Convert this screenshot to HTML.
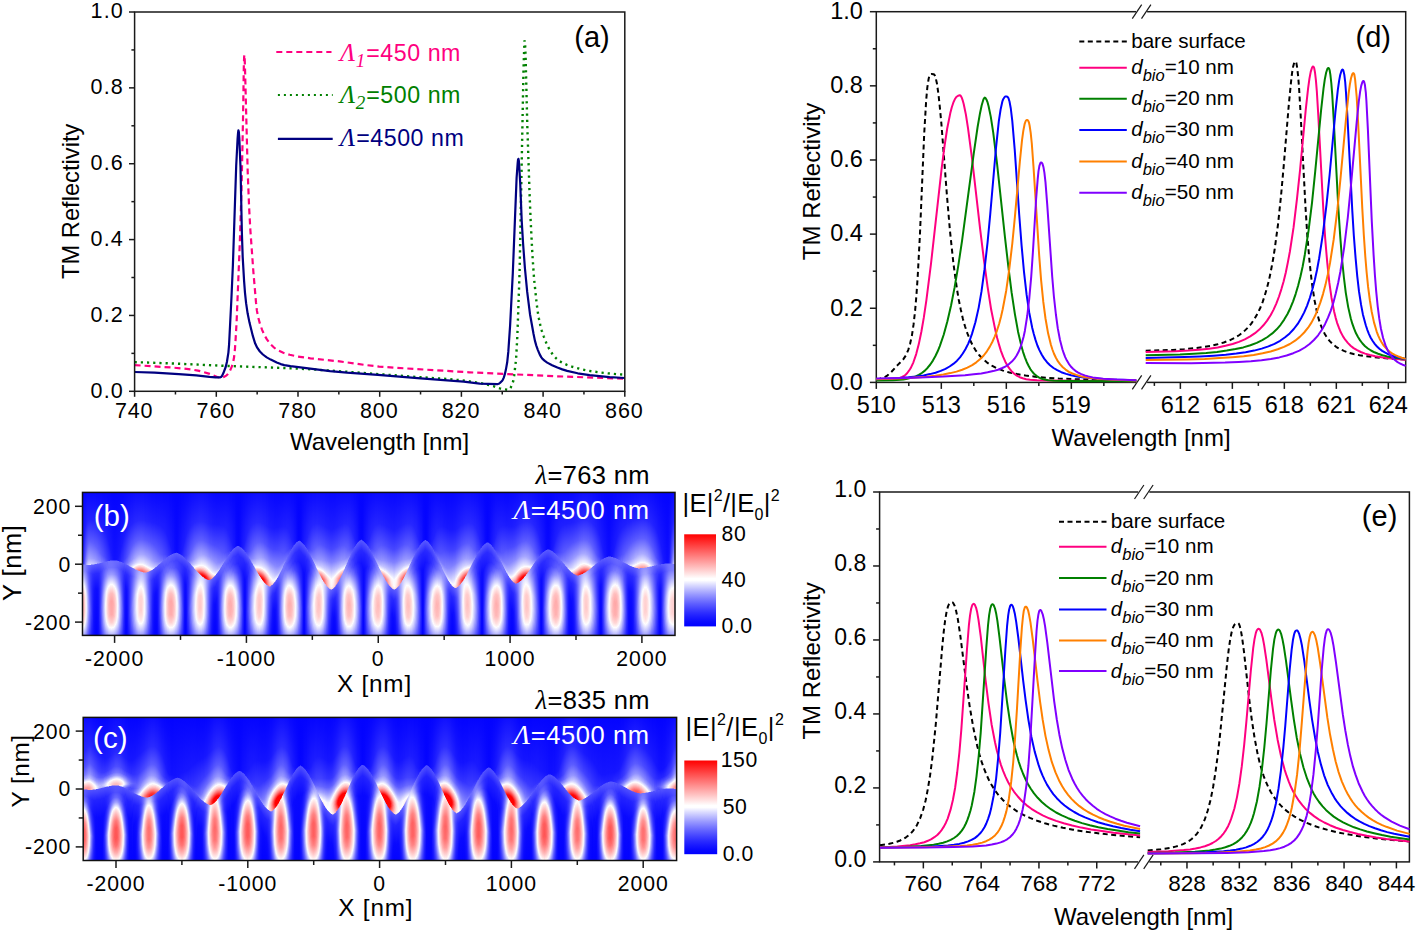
<!DOCTYPE html>
<html><head><meta charset="utf-8"><style>
html,body{margin:0;padding:0;background:#fff;width:1416px;height:934px;overflow:hidden}
svg{position:absolute;left:0;top:0}
.hm{position:absolute;display:flex;overflow:hidden}
.hm i{display:block;flex:none;width:1px;height:100%}
</style></head><body>
<div class="hm" style="left:82px;top:492px;width:593px;height:144px"><i style="background:linear-gradient(#0404ff 0px,#1616ff 62.5px,#1f1fff 71.5px,#8585ff 73.5px,#9494ff 79.5px,#ddddff 88.5px,#f9f9ff 91.5px,#fffbfb 92.5px,#ffbfbf 100.5px,#ffa6a6 108.5px,#ffabab 122.5px,#ffd0d0 130.5px,#fffbfb 135.5px,#eeeeff 137.5px,#aaaaff 144px)"></i><i style="background:linear-gradient(#0505ff 0px,#1818ff 49.5px,#3737ff 71.5px,#8383ff 73.5px,#9090ff 79.5px,#d5d5ff 88.5px,#f9f9ff 92.5px,#fff4f4 94.5px,#ffc2c2 102.5px,#ffb0b0 111.5px,#ffbaba 123.5px,#ffe2e2 131.5px,#fffafa 134.5px,#f0f0ff 136.5px,#a4a4ff 144px)"></i><i style="background:linear-gradient(#0606ff 0px,#1b1bff 40.5px,#4747ff 67.5px,#5757ff 71.5px,#8080ff 73.5px,#8989ff 79.5px,#c7c7ff 88.5px,#f8f8ff 94.5px,#fff1f1 97.5px,#ffcece 105.5px,#ffc7c7 118.5px,#ffdddd 127.5px,#faf9fe 133.5px,#9999ff 144px)"></i><i style="background:linear-gradient(#0606ff 0px,#1d1dff 34.5px,#5757ff 63.5px,#7f7fff 72.5px,#7c7cff 78.5px,#a4a4ff 86.5px,#f6f6ff 98.5px,#ffeded 105.5px,#ffe6e6 119.5px,#f9f7fd 129.5px,#d3d3ff 135.5px,#8a8aff 144px)"></i><i style="background:linear-gradient(#0707ff 0px,#2020ff 31.5px,#5c5cff 57.5px,#8d8dff 69.5px,#a8a8ff 72.5px,#7575ff 73.5px,#7272ff 79.5px,#9999ff 88.5px,#dedeff 101.5px,#f2f2ff 113.5px,#e7e7ff 125.5px,#bcbcff 134.5px,#7777ff 144px)"></i><i style="background:linear-gradient(#0808ff 0px,#2222ff 29.5px,#5c5cff 52.5px,#9898ff 67.5px,#c5c5ff 72.5px,#6e6eff 73.5px,#6565ff 80.5px,#8b8bff 91.5px,#bbbbff 104.5px,#c6c6ff 118.5px,#b1b1ff 129.5px,#6f6fff 141.5px,#6262ff 144px)"></i><i style="background:linear-gradient(#0808ff 0px,#2323ff 28.5px,#5e5eff 50.5px,#a1a1ff 66.5px,#cbcbff 71.5px,#d8d8ff 72.5px,#6868ff 73.5px,#5757ff 80.5px,#6d6dff 91.5px,#9696ff 107.5px,#9a9aff 121.5px,#7d7dff 133.5px,#4d4dff 144px)"></i><i style="background:linear-gradient(#0808ff 0px,#2222ff 27.5px,#5a5aff 48.5px,#a5a5ff 66.5px,#d0d0ff 71.5px,#dedeff 72.5px,#6363ff 73.5px,#4b4bff 81.5px,#5a5aff 94.5px,#7878ff 114.5px,#6868ff 130.5px,#3b3bff 144px)"></i><i style="background:linear-gradient(#0808ff 0px,#2222ff 27.5px,#5959ff 48.5px,#a4a4ff 66.5px,#cfcfff 71.5px,#ddddff 72.5px,#5f5fff 73.5px,#4141ff 81.5px,#4444ff 94.5px,#5959ff 118.5px,#4545ff 134.5px,#2d2dff 144px)"></i><i style="background:linear-gradient(#0808ff 0px,#2121ff 27.5px,#5b5bff 49.5px,#a1a1ff 66.5px,#ccccff 71.5px,#9b9bff 72.5px,#5b5bff 73.5px,#3939ff 81.5px,#3232ff 94.5px,#3e3eff 121.5px,#2222ff 142.5px,#2020ff 144px)"></i><i style="background:linear-gradient(#0808ff 0px,#2222ff 28.5px,#5d5dff 50.5px,#9e9eff 66.5px,#c9c9ff 71.5px,#9898ff 72.5px,#5858ff 73.5px,#3030ff 82.5px,#2424ff 97.5px,#2727ff 126.5px,#1515ff 144px)"></i><i style="background:linear-gradient(#0808ff 0px,#2222ff 28.5px,#5e5eff 51.5px,#9a9aff 66.5px,#c5c5ff 71.5px,#9595ff 72.5px,#5656ff 73.5px,#2c2cff 82.5px,#1919ff 97.5px,#1010ff 139.5px,#0d0dff 144px)"></i><i style="background:linear-gradient(#0808ff 0px,#2121ff 28.5px,#5b5bff 51.5px,#9696ff 66.5px,#c0c0ff 71.5px,#7777ff 72.5px,#5454ff 73.5px,#2929ff 82.5px,#1111ff 98.5px,#0808ff 144px)"></i><i style="background:linear-gradient(#0808ff 0px,#2222ff 29.5px,#5e5eff 53.5px,#9797ff 67.5px,#bbbbff 71.5px,#5a5aff 72.5px,#2b2bff 81.5px,#0f0fff 96.5px,#0404ff 144px)"></i><i style="background:linear-gradient(#0707ff 0px,#2020ff 29.5px,#5e5eff 54.5px,#9191ff 67.5px,#b5b5ff 71.5px,#5858ff 72.5px,#2a2aff 81.5px,#0d0dff 97.5px,#0303ff 144px)"></i><i style="background:linear-gradient(#0707ff 0px,#2121ff 30.5px,#6060ff 56.5px,#8b8bff 67.5px,#a3a3ff 70.5px,#8484ff 71.5px,#5656ff 72.5px,#2a2aff 81.5px,#0e0eff 97.5px,#0505ff 144px)"></i><i style="background:linear-gradient(#0707ff 0px,#1f1fff 30.5px,#5e5eff 57.5px,#8484ff 67.5px,#9c9cff 70.5px,#8080ff 71.5px,#5555ff 72.5px,#2b2bff 81.5px,#1515ff 96.5px,#0b0bff 144px)"></i><i style="background:linear-gradient(#0707ff 0px,#1f1fff 31.5px,#6161ff 60.5px,#8484ff 68.5px,#9595ff 70.5px,#6c6cff 71.5px,#5555ff 72.5px,#2e2eff 81.5px,#2222ff 96.5px,#2626ff 126.5px,#1515ff 144px)"></i><i style="background:linear-gradient(#0707ff 0px,#1f1fff 32.5px,#5e5eff 61.5px,#8484ff 69.5px,#8d8dff 70.5px,#5c5cff 71.5px,#3939ff 79.5px,#3131ff 91.5px,#4444ff 119.5px,#2d2dff 138.5px,#2323ff 144px)"></i><i style="background:linear-gradient(#0707ff 0px,#1e1eff 33.5px,#5a5aff 62.5px,#7c7cff 70.5px,#5d5dff 71.5px,#4040ff 79.5px,#4545ff 91.5px,#6767ff 115.5px,#5757ff 131.5px,#3333ff 144px)"></i><i style="background:linear-gradient(#0606ff 0px,#1e1eff 34.5px,#5656ff 63.5px,#7474ff 69.5px,#6e6eff 70.5px,#5f5fff 71.5px,#4949ff 78.5px,#5555ff 88.5px,#8686ff 108.5px,#8989ff 122.5px,#6d6dff 134.5px,#4545ff 144px)"></i><i style="background:linear-gradient(#0606ff 0px,#1e1eff 36.5px,#5252ff 64.5px,#6b6bff 69.5px,#5353ff 76.5px,#6060ff 85.5px,#a5a5ff 104.5px,#b1b1ff 118.5px,#9b9bff 130.5px,#5858ff 144px)"></i><i style="background:linear-gradient(#0606ff 0px,#1c1cff 37.5px,#4b4bff 64.5px,#6868ff 70.5px,#5a5aff 77.5px,#7777ff 86.5px,#c3c3ff 102.5px,#d7d7ff 115.5px,#c7c7ff 127.5px,#9494ff 137.5px,#6a6aff 144px)"></i><i style="background:linear-gradient(#0606ff 0px,#1c1cff 39.5px,#4646ff 65.5px,#5353ff 68.5px,#6a6aff 70.5px,#6161ff 76.5px,#7e7eff 84.5px,#ddddff 100.5px,#f7f7ff 111.5px,#efefff 124.5px,#c8c8ff 133.5px,#7a7aff 144px)"></i><i style="background:linear-gradient(#0606ff 0px,#1c1cff 42.5px,#3f3fff 65.5px,#4a4aff 68.5px,#6c6cff 70.5px,#6767ff 76.5px,#8c8cff 84.5px,#f5f5ff 99.5px,#fff2f2 105.5px,#ffe9e9 118.5px,#f8f8ff 129.5px,#b7b7ff 138.5px,#8989ff 144px)"></i><i style="background:linear-gradient(#0505ff 0px,#1b1bff 45.5px,#3a3aff 66.5px,#4141ff 68.5px,#6666ff 69.5px,#6a6aff 71.5px,#7070ff 77.5px,#a1a1ff 85.5px,#faf9fe 96.5px,#ffd4d4 107.5px,#ffd4d4 121.5px,#ffefef 129.5px,#fafafe 132.5px,#9f9fff 142.5px,#9595ff 144px)"></i><i style="background:linear-gradient(#0505ff 0px,#1a1aff 48.5px,#3535ff 67.5px,#3838ff 68.5px,#7171ff 69.5px,#6e6eff 75.5px,#9393ff 82.5px,#fcfbfe 94.5px,#ffcbcb 103.5px,#ffbcbc 113.5px,#ffc8c8 124.5px,#fff3f3 132.5px,#fafaff 134.5px,#9e9eff 144px)"></i><i style="background:linear-gradient(#0505ff 0px,#1919ff 52.5px,#3030ff 68.5px,#7171ff 69.5px,#7070ff 75.5px,#9898ff 82.5px,#fefcfd 93.5px,#ffc1c1 102.5px,#ffaeae 111.5px,#ffb7b7 123.5px,#ffe0e0 131.5px,#fcfbff 135.5px,#a5a5ff 144px)"></i><i style="background:linear-gradient(#0505ff 0px,#1818ff 56.5px,#2525ff 67.5px,#7171ff 69.5px,#7171ff 75.5px,#9c9cff 82.5px,#fdfcff 92.5px,#ffbdbd 101.5px,#ffa7a7 109.5px,#ffadad 122.5px,#ffd1d1 130.5px,#fffcfc 135.5px,#e2e2ff 138.5px,#a9a9ff 144px)"></i><i style="background:linear-gradient(#0404ff 0px,#1717ff 60.5px,#1f1fff 67.5px,#7070ff 69.5px,#7171ff 75.5px,#9d9dff 82.5px,#fefdfe 92.5px,#ffbbbb 101.5px,#ffa4a4 109.5px,#ffaaaa 122.5px,#ffcfcf 130.5px,#fffafa 135.5px,#fafaff 136.5px,#ababff 144px)"></i><i style="background:linear-gradient(#0404ff 0px,#1515ff 63.5px,#1919ff 67.5px,#6f6fff 69.5px,#7070ff 75.5px,#9b9bff 82.5px,#fdfcff 92.5px,#ffbdbd 101.5px,#ffa7a7 109.5px,#ffacac 122.5px,#ffd1d1 130.5px,#fffcfc 135.5px,#e3e3ff 138.5px,#a9a9ff 144px)"></i><i style="background:linear-gradient(#0404ff 0px,#1313ff 66.5px,#1414ff 67.5px,#6d6dff 69.5px,#6e6eff 75.5px,#9797ff 82.5px,#fefcfd 93.5px,#ffc1c1 102.5px,#ffadad 111.5px,#ffb6b6 123.5px,#ffdfdf 131.5px,#fcfcfe 135.5px,#a6a6ff 144px)"></i><i style="background:linear-gradient(#0404ff 0px,#1212ff 67.5px,#6b6bff 69.5px,#6b6bff 75.5px,#9191ff 82.5px,#fcfbfe 94.5px,#ffc9c9 103.5px,#ffbaba 113.5px,#ffc5c5 124.5px,#fff1f1 132.5px,#fcfbfe 134.5px,#a0a0ff 144px)"></i><i style="background:linear-gradient(#0404ff 0px,#1212ff 67.5px,#6a6aff 69.5px,#6767ff 75.5px,#8989ff 82.5px,#fcfafe 96.5px,#ffd2d2 106.5px,#ffcdcd 119.5px,#ffe6e6 128.5px,#fdfbfd 132.5px,#c0c0ff 139.5px,#9797ff 144px)"></i><i style="background:linear-gradient(#0404ff 0px,#1313ff 67.5px,#6969ff 69.5px,#6363ff 75.5px,#8080ff 82.5px,#f5f5ff 98.5px,#fff5f5 102.5px,#ffe1e1 112.5px,#ffebeb 124.5px,#f9f9ff 130.5px,#b3b3ff 139.5px,#8d8dff 144px)"></i><i style="background:linear-gradient(#0404ff 0px,#1414ff 65.5px,#1616ff 67.5px,#2c2cff 68.5px,#6969ff 69.5px,#5e5eff 75.5px,#7b7bff 83.5px,#e7e7ff 100.5px,#f9f8fe 106.5px,#f9f8fe 124.5px,#d8d8ff 132.5px,#8080ff 144px)"></i><i style="background:linear-gradient(#0404ff 0px,#1616ff 64.5px,#1b1bff 68.5px,#6868ff 69.5px,#5959ff 76.5px,#7272ff 84.5px,#ceceff 101.5px,#e6e6ff 113.5px,#dcdcff 125.5px,#b3b3ff 134.5px,#7272ff 144px)"></i><i style="background:linear-gradient(#0404ff 0px,#1717ff 61.5px,#2020ff 68.5px,#6262ff 70.5px,#5353ff 77.5px,#6c6cff 86.5px,#b5b5ff 103.5px,#c6c6ff 117.5px,#b4b4ff 128.5px,#7c7cff 139.5px,#6262ff 144px)"></i><i style="background:linear-gradient(#0505ff 0px,#1818ff 58.5px,#2525ff 68.5px,#3838ff 69.5px,#6161ff 70.5px,#4c4cff 77.5px,#5a5aff 86.5px,#9898ff 105.5px,#a2a2ff 119.5px,#8b8bff 131.5px,#5151ff 144px)"></i><i style="background:linear-gradient(#0505ff 0px,#1a1aff 54.5px,#2f2fff 69.5px,#6161ff 70.5px,#4646ff 77.5px,#4a4aff 87.5px,#7c7cff 110.5px,#7b7bff 124.5px,#5858ff 137.5px,#4040ff 144px)"></i><i style="background:linear-gradient(#0505ff 0px,#1a1aff 50.5px,#3333ff 68.5px,#3737ff 69.5px,#5b5bff 71.5px,#3c3cff 79.5px,#3e3eff 91.5px,#5d5dff 116.5px,#4a4aff 133.5px,#2e2eff 144px)"></i><i style="background:linear-gradient(#0505ff 0px,#1b1bff 46.5px,#3838ff 67.5px,#4444ff 70.5px,#5b5bff 71.5px,#3636ff 79.5px,#2b2bff 91.5px,#3a3aff 121.5px,#1e1eff 144px)"></i><i style="background:linear-gradient(#0606ff 0px,#1c1cff 43.5px,#4141ff 67.5px,#5757ff 71.5px,#2828ff 83.5px,#1c1cff 100.5px,#1a1aff 132.5px,#1010ff 144px)"></i><i style="background:linear-gradient(#0606ff 0px,#1c1cff 40.5px,#4646ff 66.5px,#6060ff 71.5px,#2e2eff 80.5px,#1212ff 94.5px,#0707ff 144px)"></i><i style="background:linear-gradient(#0707ff 0px,#1d1dff 38.5px,#4d4dff 65.5px,#6b6bff 71.5px,#6666ff 72.5px,#5555ff 73.5px,#2929ff 82.5px,#0e0eff 98.5px,#0505ff 144px)"></i><i style="background:linear-gradient(#0707ff 0px,#1f1fff 37.5px,#5353ff 64.5px,#6f6fff 70.5px,#8181ff 72.5px,#5a5aff 73.5px,#2d2dff 82.5px,#1616ff 97.5px,#0b0bff 144px)"></i><i style="background:linear-gradient(#0808ff 0px,#2020ff 35.5px,#5757ff 62.5px,#7b7bff 70.5px,#8f8fff 72.5px,#7a7aff 73.5px,#5858ff 74.5px,#3030ff 83.5px,#2323ff 98.5px,#2323ff 128.5px,#1414ff 144px)"></i><i style="background:linear-gradient(#0808ff 0px,#2121ff 34.5px,#5a5aff 60.5px,#8080ff 69.5px,#a9a9ff 73.5px,#7474ff 74.5px,#5858ff 75.5px,#3636ff 84.5px,#3434ff 100.5px,#3b3bff 122.5px,#1f1fff 144px)"></i><i style="background:linear-gradient(#0909ff 0px,#2323ff 33.5px,#5959ff 57.5px,#8585ff 68.5px,#ababff 72.5px,#b8b8ff 73.5px,#aeaeff 74.5px,#5f5fff 75.5px,#4242ff 83.5px,#4545ff 97.5px,#5454ff 119.5px,#3d3dff 136.5px,#2a2aff 144px)"></i><i style="background:linear-gradient(#0a0aff 0px,#2424ff 32.5px,#5a5aff 55.5px,#9191ff 68.5px,#b9b9ff 72.5px,#d7d7ff 74.5px,#8686ff 75.5px,#6262ff 76.5px,#4d4dff 84.5px,#6e6eff 117.5px,#5b5bff 132.5px,#3737ff 144px)"></i><i style="background:linear-gradient(#0a0aff 0px,#2424ff 31.5px,#5a5aff 53.5px,#9595ff 67.5px,#b9b9ff 71.5px,#e7e7ff 74.5px,#d5d4fe 75.5px,#6b6bff 76.5px,#5a5aff 84.5px,#8989ff 113.5px,#7c7cff 128.5px,#4444ff 144px)"></i><i style="background:linear-gradient(#0b0bff 0px,#2525ff 30.5px,#5959ff 51.5px,#9a9aff 66.5px,#c5c5ff 71.5px,#f6f6ff 74.5px,#fff5f5 75.5px,#968ff8 76.5px,#7171ff 77.5px,#6969ff 84.5px,#a0a0ff 108.5px,#a1a1ff 122.5px,#8484ff 133.5px,#5151ff 144px)"></i><i style="background:linear-gradient(#0b0bff 0px,#2727ff 30.5px,#5e5eff 51.5px,#a3a3ff 66.5px,#d0d0ff 71.5px,#f0f0ff 73.5px,#fef9f9 74.5px,#ffe6e6 75.5px,#debdde 76.5px,#7b7bff 77.5px,#7878ff 84.5px,#babaff 106.5px,#bfbfff 120.5px,#a4a4ff 131.5px,#5f5fff 144px)"></i><i style="background:linear-gradient(#0c0cff 0px,#2727ff 29.5px,#5b5bff 49.5px,#a5a5ff 65.5px,#cdcdff 70.5px,#faf9fe 73.5px,#ffeeee 74.5px,#ffc4c4 76.5px,#c29dda 77.5px,#8484ff 78.5px,#8b8bff 85.5px,#d0d0ff 103.5px,#dbdbff 117.5px,#c7c7ff 128.5px,#8989ff 139.5px,#6c6cff 144px)"></i><i style="background:linear-gradient(#0c0cff 0px,#2828ff 29.5px,#5e5eff 49.5px,#a6a6ff 64.5px,#d5d5ff 70.5px,#f2f2ff 72.5px,#fff9f9 73.5px,#ffb7b7 76.5px,#e39eba 77.5px,#8f8fff 78.5px,#9a9aff 85.5px,#e7e7ff 102.5px,#f5f5ff 115.5px,#e5e5ff 126.5px,#b7b7ff 135.5px,#7878ff 144px)"></i><i style="background:linear-gradient(#0c0cff 0px,#2727ff 28.5px,#5d5dff 48.5px,#a5a5ff 63.5px,#dcdcff 70.5px,#f9f9ff 72.5px,#fff2f2 73.5px,#ff9797 77.5px,#b294e1 78.5px,#9999ff 79.5px,#aeaeff 86.5px,#fafaff 101.5px,#fff3f3 116.5px,#f6f6ff 127.5px,#bfbfff 136.5px,#8383ff 144px)"></i><i style="background:linear-gradient(#0c0cff 0px,#2828ff 28.5px,#5b5bff 47.5px,#a3a3ff 62.5px,#e1e1ff 70.5px,#fcfbfd 72.5px,#ffd6d6 74.5px,#ff8f8f 77.5px,#e7869e 78.5px,#a3a3ff 79.5px,#babaff 86.5px,#fbfbff 97.5px,#ffe2e2 108.5px,#ffeaea 123.5px,#fcfcfe 129.5px,#c3c3ff 137.5px,#8b8bff 144px)"></i><i style="background:linear-gradient(#0c0cff 0px,#2828ff 28.5px,#5c5cff 47.5px,#a6a6ff 62.5px,#e5e5ff 70.5px,#fefbfc 72.5px,#ffbbbb 75.5px,#ff7676 78.5px,#aaaaff 79.5px,#c4c4ff 86.5px,#fdfcff 95.5px,#ffd9d9 105.5px,#ffd9d9 120.5px,#fff6f6 129.5px,#fcfcff 131.5px,#9b9bff 142.5px,#9191ff 144px)"></i><i style="background:linear-gradient(#0c0cff 0px,#2828ff 28.5px,#5d5dff 47.5px,#a8a8ff 62.5px,#e7e7ff 70.5px,#fefbfc 72.5px,#ffbbbb 75.5px,#ff7373 78.5px,#d78cb4 79.5px,#b0b0ff 80.5px,#d5d5ff 88.5px,#fdfdff 94.5px,#ffd5d5 104.5px,#ffd1d1 118.5px,#ffe7e7 127.5px,#fffdfd 131.5px,#c6c6ff 138.5px,#9494ff 144px)"></i><i style="background:linear-gradient(#0c0cff 0px,#2828ff 28.5px,#5d5dff 47.5px,#a8a8ff 62.5px,#e6e6ff 70.5px,#fefbfc 72.5px,#ffd6d6 74.5px,#ff7474 78.5px,#ec798c 79.5px,#b2b2ff 80.5px,#d5d5ff 88.5px,#fdfdff 94.5px,#ffd6d6 104.5px,#ffd2d2 118.5px,#ffe8e8 127.5px,#fefdfe 131.5px,#b1b1ff 140.5px,#9393ff 144px)"></i><i style="background:linear-gradient(#0c0cff 0px,#2727ff 28.5px,#5c5cff 47.5px,#a7a7ff 62.5px,#e5e5ff 70.5px,#fcfbfe 72.5px,#ffdbdb 74.5px,#ff7979 78.5px,#ff6969 79.5px,#b1b1ff 80.5px,#d0d0ff 88.5px,#fefcfd 96.5px,#ffdbdb 106.5px,#ffe1e1 122.5px,#fdfcfe 130.5px,#bfbfff 138.5px,#8f8fff 144px)"></i><i style="background:linear-gradient(#0c0cff 0px,#2727ff 28.5px,#5a5aff 47.5px,#a5a5ff 62.5px,#ececff 71.5px,#f9f9ff 72.5px,#fff5f5 73.5px,#ff7070 79.5px,#adadff 81.5px,#ccccff 89.5px,#fbfafe 98.5px,#ffe9e9 110.5px,#fff5f5 124.5px,#fafaff 128.5px,#bebeff 137.5px,#8787ff 144px)"></i><i style="background:linear-gradient(#0b0bff 0px,#2626ff 28.5px,#5858ff 47.5px,#a2a2ff 62.5px,#e7e7ff 71.5px,#fefbfc 73.5px,#ffbebe 76.5px,#ff7a7a 79.5px,#a5a5ff 81.5px,#bcbcff 89.5px,#f6f6ff 103.5px,#f8f8ff 122.5px,#d7d7ff 131.5px,#7c7cff 144px)"></i><i style="background:linear-gradient(#0b0bff 0px,#2424ff 28.5px,#5656ff 47.5px,#9e9eff 62.5px,#e0e0ff 71.5px,#f9f9ff 73.5px,#fff5f5 74.5px,#ff8888 79.5px,#cd8cbe 80.5px,#9a9aff 81.5px,#aaaaff 89.5px,#dcdcff 104.5px,#e1e1ff 119.5px,#cacaff 129.5px,#8686ff 140.5px,#6f6fff 144px)"></i><i style="background:linear-gradient(#0b0bff 0px,#2525ff 29.5px,#5858ff 48.5px,#a0a0ff 63.5px,#e4e4ff 72.5px,#fdfbfc 74.5px,#ffbfbf 77.5px,#ff9393 79.5px,#c78bc3 80.5px,#8d8dff 81.5px,#9494ff 89.5px,#c0c0ff 106.5px,#c1c1ff 121.5px,#a2a2ff 132.5px,#6060ff 144px)"></i><i style="background:linear-gradient(#0a0aff 0px,#2424ff 29.5px,#5656ff 48.5px,#a2a2ff 64.5px,#ddddff 72.5px,#f7f7ff 74.5px,#fff6f6 75.5px,#ff9f9f 79.5px,#8282ff 80.5px,#7d7dff 88.5px,#a4a4ff 110.5px,#9c9cff 125.5px,#7171ff 137.5px,#5151ff 144px)"></i><i style="background:linear-gradient(#0a0aff 0px,#2323ff 29.5px,#5757ff 49.5px,#a3a3ff 65.5px,#e0e0ff 73.5px,#fcfafe 75.5px,#ffd9d9 77.5px,#ffc2c2 78.5px,#dd9ec1 79.5px,#7575ff 80.5px,#6868ff 88.5px,#8686ff 115.5px,#7373ff 130.5px,#4242ff 144px)"></i><i style="background:linear-gradient(#0909ff 0px,#2222ff 29.5px,#5555ff 49.5px,#9e9eff 65.5px,#d8d8ff 73.5px,#f3f3ff 75.5px,#fef9f9 76.5px,#ffcece 78.5px,#9180ee 79.5px,#6969ff 80.5px,#5656ff 88.5px,#6767ff 119.5px,#5050ff 134.5px,#3333ff 144px)"></i><i style="background:linear-gradient(#0909ff 0px,#2121ff 29.5px,#5252ff 49.5px,#9e9eff 66.5px,#d0d0ff 73.5px,#faf9fe 76.5px,#fff0f0 77.5px,#d9bde3 78.5px,#6464ff 79.5px,#4848ff 87.5px,#4949ff 106.5px,#4848ff 125.5px,#2626ff 144px)"></i><i style="background:linear-gradient(#0808ff 0px,#2121ff 30.5px,#5656ff 51.5px,#a3a3ff 68.5px,#d3d3ff 74.5px,#f1f1ff 76.5px,#fff8f9 77.5px,#8881f9 78.5px,#5b5bff 79.5px,#3939ff 88.5px,#3434ff 107.5px,#2d2dff 131.5px,#1b1bff 144px)"></i><i style="background:linear-gradient(#0808ff 0px,#2020ff 30.5px,#5454ff 51.5px,#9c9cff 68.5px,#ccccff 74.5px,#eaeaff 76.5px,#d3d2fe 77.5px,#5959ff 78.5px,#3232ff 87.5px,#2222ff 103.5px,#1818ff 136.5px,#1212ff 144px)"></i><i style="background:linear-gradient(#0808ff 0px,#1f1fff 30.5px,#5454ff 52.5px,#9696ff 68.5px,#c6c6ff 74.5px,#e5e5ff 76.5px,#5959ff 77.5px,#2e2eff 86.5px,#1717ff 101.5px,#0b0bff 144px)"></i><i style="background:linear-gradient(#0808ff 0px,#1f1fff 30.5px,#5555ff 53.5px,#9696ff 69.5px,#c2c2ff 74.5px,#d0d0ff 75.5px,#7a7aff 76.5px,#5353ff 77.5px,#2626ff 87.5px,#0e0eff 104.5px,#0606ff 144px)"></i><i style="background:linear-gradient(#0707ff 0px,#1f1fff 31.5px,#5858ff 55.5px,#9191ff 69.5px,#bfbfff 74.5px,#7777ff 75.5px,#5555ff 76.5px,#2929ff 85.5px,#0d0dff 101.5px,#0404ff 144px)"></i><i style="background:linear-gradient(#0707ff 0px,#1e1eff 31.5px,#5858ff 56.5px,#8c8cff 69.5px,#b0b0ff 73.5px,#a4a4ff 74.5px,#5656ff 75.5px,#2929ff 84.5px,#0e0eff 100.5px,#0404ff 144px)"></i><i style="background:linear-gradient(#0707ff 0px,#1f1fff 32.5px,#5a5aff 58.5px,#8888ff 69.5px,#a2a2ff 72.5px,#9999ff 73.5px,#5858ff 74.5px,#2c2cff 83.5px,#1414ff 98.5px,#0909ff 144px)"></i><i style="background:linear-gradient(#0707ff 0px,#1e1eff 32.5px,#5959ff 59.5px,#8484ff 69.5px,#9696ff 71.5px,#8f8fff 72.5px,#5a5aff 73.5px,#3030ff 82.5px,#2020ff 96.5px,#2020ff 129.5px,#1313ff 144px)"></i><i style="background:linear-gradient(#0707ff 0px,#1f1fff 33.5px,#5b5bff 61.5px,#8181ff 69.5px,#9494ff 71.5px,#5c5cff 72.5px,#3838ff 80.5px,#2f2fff 93.5px,#3d3dff 121.5px,#2121ff 142.5px,#1f1fff 144px)"></i><i style="background:linear-gradient(#0707ff 0px,#1e1eff 33.5px,#5757ff 61.5px,#7777ff 68.5px,#8888ff 70.5px,#6b6bff 71.5px,#5959ff 72.5px,#3d3dff 80.5px,#4343ff 93.5px,#5e5eff 117.5px,#4c4cff 133.5px,#2f2fff 144px)"></i><i style="background:linear-gradient(#0707ff 0px,#1e1eff 34.5px,#5656ff 62.5px,#7474ff 68.5px,#7d7dff 69.5px,#5c5cff 71.5px,#4545ff 79.5px,#5656ff 91.5px,#7e7eff 110.5px,#7b7bff 125.5px,#5656ff 138.5px,#4040ff 144px)"></i><i style="background:linear-gradient(#0707ff 0px,#1e1eff 35.5px,#5252ff 62.5px,#7272ff 68.5px,#5a5aff 71.5px,#4c4cff 78.5px,#6363ff 88.5px,#9b9bff 105.5px,#a6a6ff 119.5px,#8e8eff 131.5px,#5252ff 144px)"></i><i style="background:linear-gradient(#0606ff 0px,#1e1eff 36.5px,#4d4dff 62.5px,#6767ff 68.5px,#5252ff 74.5px,#5d5dff 82.5px,#b7b7ff 102.5px,#cbcbff 115.5px,#bcbcff 127.5px,#8686ff 138.5px,#6464ff 144px)"></i><i style="background:linear-gradient(#0606ff 0px,#1f1fff 38.5px,#4949ff 62.5px,#6464ff 67.5px,#5555ff 75.5px,#6e6eff 83.5px,#d1d1ff 100.5px,#ebebff 111.5px,#e4e4ff 124.5px,#bfbfff 133.5px,#7575ff 144px)"></i><i style="background:linear-gradient(#0606ff 0px,#1e1eff 39.5px,#4444ff 62.5px,#5c5cff 66.5px,#6363ff 67.5px,#5656ff 73.5px,#6a6aff 80.5px,#eeeeff 100.5px,#fcf8fb 105.5px,#fff5f5 120.5px,#f4f4ff 128.5px,#b9b9ff 137.5px,#8484ff 144px)"></i><i style="background:linear-gradient(#0606ff 0px,#1d1dff 41.5px,#3f3fff 62.5px,#4848ff 64.5px,#6464ff 66.5px,#5656ff 72.5px,#6c6cff 79.5px,#f6f6ff 97.5px,#fff6f6 100.5px,#ffdcdc 109.5px,#ffdfdf 122.5px,#faf9ff 131.5px,#a4a4ff 141.5px,#9090ff 144px)"></i><i style="background:linear-gradient(#0606ff 0px,#1d1dff 44.5px,#3a3aff 62.5px,#4242ff 64.5px,#5d5dff 65.5px,#5858ff 73.5px,#7878ff 80.5px,#fbfafe 95.5px,#ffe7e7 99.5px,#ffc9c9 107.5px,#ffc8c8 121.5px,#ffe5e5 129.5px,#fcfbfe 133.5px,#9b9bff 144px)"></i><i style="background:linear-gradient(#0606ff 0px,#1d1dff 47.5px,#3434ff 62.5px,#3838ff 63.5px,#5b5bff 64.5px,#5c5cff 66.5px,#5656ff 72.5px,#7575ff 79.5px,#fefcfd 94.5px,#ffc9c9 102.5px,#ffb5b5 111.5px,#ffbebe 123.5px,#ffe5e5 131.5px,#fefcfd 134.5px,#b8b8ff 141.5px,#a2a2ff 144px)"></i><i style="background:linear-gradient(#0505ff 0px,#1c1cff 50.5px,#2f2fff 62.5px,#3f3fff 63.5px,#6161ff 64.5px,#5353ff 70.5px,#6464ff 76.5px,#a4a4ff 84.5px,#fefdfe 93.5px,#ffc3c3 101.5px,#ffacac 109.5px,#ffb1b1 122.5px,#ffd5d5 130.5px,#fefdfe 135.5px,#a7a7ff 144px)"></i><i style="background:linear-gradient(#0505ff 0px,#1a1aff 53.5px,#2929ff 62.5px,#6262ff 63.5px,#5151ff 69.5px,#5f5fff 75.5px,#9292ff 82.5px,#f9f9ff 92.5px,#fffbfb 93.5px,#ffbfbf 101.5px,#ffa8a8 109.5px,#ffadad 122.5px,#ffd1d1 130.5px,#fffcfc 135.5px,#e3e3ff 138.5px,#a9a9ff 144px)"></i><i style="background:linear-gradient(#0505ff 0px,#1919ff 56.5px,#2020ff 61.5px,#5e5eff 63.5px,#4e4eff 69.5px,#6262ff 76.5px,#a4a4ff 84.5px,#f8f8ff 92.5px,#fffcfc 93.5px,#ffc0c0 101.5px,#ffa8a8 109.5px,#ffadad 122.5px,#ffd2d2 130.5px,#fffcfc 135.5px,#d7d7ff 139.5px,#a9a9ff 144px)"></i><i style="background:linear-gradient(#0404ff 0px,#1616ff 58.5px,#1a1aff 61.5px,#6060ff 62.5px,#4c4cff 68.5px,#5a5aff 75.5px,#9797ff 83.5px,#fcfcff 93.5px,#ffc1c1 102.5px,#ffadad 111.5px,#ffb5b5 123.5px,#ffdede 131.5px,#fdfcfe 135.5px,#a6a6ff 144px)"></i><i style="background:linear-gradient(#0404ff 0px,#1414ff 60.5px,#5c5cff 62.5px,#4848ff 69.5px,#5c5cff 76.5px,#9a9aff 84.5px,#fcfbfe 94.5px,#ffc8c8 103.5px,#ffb7b7 113.5px,#ffc2c2 124.5px,#ffeeee 132.5px,#fefdfe 134.5px,#a1a1ff 144px)"></i><i style="background:linear-gradient(#0404ff 0px,#0f0fff 60.5px,#4b4bff 61.5px,#5959ff 62.5px,#4646ff 69.5px,#5757ff 76.5px,#9b9bff 85.5px,#f7f7ff 95.5px,#fff8f8 97.5px,#ffd1d1 105.5px,#ffc6c6 117.5px,#ffd8d8 126.5px,#fbfbfe 133.5px,#9a9aff 144px)"></i><i style="background:linear-gradient(#0404ff 0px,#0c0cff 60.5px,#5d5dff 61.5px,#4343ff 68.5px,#4d4dff 75.5px,#7f7fff 83.5px,#f3f3ff 97.5px,#fff9f9 100.5px,#ffdddd 109.5px,#ffdfdf 122.5px,#faf9ff 131.5px,#a4a4ff 141.5px,#9090ff 144px)"></i><i style="background:linear-gradient(#0404ff 0px,#0a0aff 59.5px,#2020ff 60.5px,#5b5bff 61.5px,#4141ff 68.5px,#4848ff 75.5px,#7a7aff 84.5px,#e3e3ff 98.5px,#faf9fe 103.5px,#fff2f2 118.5px,#f6f6ff 128.5px,#babaff 137.5px,#8585ff 144px)"></i><i style="background:linear-gradient(#0404ff 0px,#0b0bff 60.5px,#5d5dff 61.5px,#4040ff 68.5px,#4545ff 76.5px,#7a7aff 86.5px,#d3d3ff 100.5px,#f0f0ff 111.5px,#ececff 123.5px,#c9c9ff 132.5px,#7878ff 144px)"></i><i style="background:linear-gradient(#0404ff 0px,#0e0eff 60.5px,#5959ff 62.5px,#3d3dff 69.5px,#4141ff 77.5px,#7575ff 88.5px,#babaff 101.5px,#d4d4ff 114.5px,#c8c8ff 126.5px,#9999ff 136.5px,#6969ff 144px)"></i><i style="background:linear-gradient(#0404ff 0px,#1212ff 61.5px,#5b5bff 62.5px,#3a3aff 70.5px,#3e3eff 79.5px,#a4a4ff 104.5px,#b3b3ff 118.5px,#a1a1ff 129.5px,#5f5fff 142.5px,#5959ff 144px)"></i><i style="background:linear-gradient(#0404ff 0px,#1515ff 60.5px,#1616ff 61.5px,#5858ff 63.5px,#3737ff 71.5px,#3737ff 80.5px,#8686ff 106.5px,#9090ff 119.5px,#7c7cff 131.5px,#4848ff 144px)"></i><i style="background:linear-gradient(#0505ff 0px,#1818ff 59.5px,#1d1dff 62.5px,#4c4cff 63.5px,#5555ff 64.5px,#3333ff 72.5px,#3030ff 82.5px,#6b6bff 111.5px,#6868ff 126.5px,#3b3bff 142.5px,#3737ff 144px)"></i><i style="background:linear-gradient(#0505ff 0px,#1b1bff 57.5px,#2222ff 62.5px,#3333ff 63.5px,#5959ff 64.5px,#3333ff 72.5px,#2626ff 83.5px,#4c4cff 117.5px,#3939ff 135.5px,#2727ff 144px)"></i><i style="background:linear-gradient(#0505ff 0px,#1c1cff 53.5px,#2c2cff 63.5px,#3a3aff 64.5px,#5757ff 65.5px,#2d2dff 74.5px,#1d1dff 87.5px,#2c2cff 122.5px,#1717ff 144px)"></i><i style="background:linear-gradient(#0606ff 0px,#1d1dff 49.5px,#3636ff 64.5px,#5656ff 66.5px,#2a2aff 75.5px,#1212ff 90.5px,#0b0bff 144px)"></i><i style="background:linear-gradient(#0606ff 0px,#1e1eff 45.5px,#3a3aff 63.5px,#4c4cff 66.5px,#5555ff 67.5px,#2929ff 76.5px,#0d0dff 92.5px,#0404ff 144px)"></i><i style="background:linear-gradient(#0707ff 0px,#1e1eff 41.5px,#4141ff 63.5px,#5656ff 68.5px,#2a2aff 77.5px,#1313ff 92.5px,#0a0aff 144px)"></i><i style="background:linear-gradient(#0707ff 0px,#2020ff 39.5px,#4a4aff 63.5px,#6262ff 68.5px,#3b3bff 74.5px,#2121ff 85.5px,#2424ff 128.5px,#1414ff 144px)"></i><i style="background:linear-gradient(#0808ff 0px,#2121ff 37.5px,#4f4fff 62.5px,#6f6fff 69.5px,#5959ff 70.5px,#3535ff 78.5px,#2b2bff 90.5px,#3f3fff 120.5px,#2626ff 140.5px,#2020ff 144px)"></i><i style="background:linear-gradient(#0909ff 0px,#2222ff 35.5px,#5555ff 61.5px,#7575ff 68.5px,#7d7dff 70.5px,#5c5cff 71.5px,#3c3cff 79.5px,#3c3cff 91.5px,#5959ff 117.5px,#4545ff 134.5px,#2d2dff 144px)"></i><i style="background:linear-gradient(#0909ff 0px,#2323ff 34.5px,#5b5bff 60.5px,#7f7fff 68.5px,#9191ff 70.5px,#8e8eff 71.5px,#6161ff 72.5px,#4646ff 80.5px,#5151ff 92.5px,#7474ff 114.5px,#6565ff 130.5px,#3a3aff 144px)"></i><i style="background:linear-gradient(#0a0aff 0px,#2525ff 33.5px,#5d5dff 58.5px,#8989ff 68.5px,#b3b3ff 72.5px,#7c7cff 73.5px,#6262ff 74.5px,#5353ff 82.5px,#8d8dff 111.5px,#8787ff 126.5px,#5a5aff 139.5px,#4747ff 144px)"></i><i style="background:linear-gradient(#0b0bff 0px,#2626ff 32.5px,#5e5eff 56.5px,#9393ff 68.5px,#bcbcff 72.5px,#ccccff 73.5px,#8989ff 74.5px,#6b6bff 75.5px,#6262ff 82.5px,#a5a5ff 107.5px,#aaaaff 120.5px,#9292ff 131.5px,#5555ff 144px)"></i><i style="background:linear-gradient(#0b0bff 0px,#2626ff 31.5px,#5f5fff 54.5px,#9696ff 67.5px,#c5c5ff 72.5px,#e7e7ff 74.5px,#9797ff 75.5px,#7575ff 76.5px,#7373ff 83.5px,#bebeff 105.5px,#c6c6ff 119.5px,#adadff 130.5px,#6262ff 144px)"></i><i style="background:linear-gradient(#0c0cff 0px,#2727ff 30.5px,#5e5eff 52.5px,#a0a0ff 67.5px,#ceceff 72.5px,#f0f0ff 74.5px,#fff8f9 75.5px,#dfcaea 76.5px,#8181ff 77.5px,#8787ff 84.5px,#d4d4ff 103.5px,#e1e1ff 117.5px,#ccccff 128.5px,#9494ff 138.5px,#6f6fff 144px)"></i><i style="background:linear-gradient(#0c0cff 0px,#2828ff 30.5px,#5f5fff 51.5px,#a3a3ff 66.5px,#cbcbff 71.5px,#f8f8ff 74.5px,#fff1f1 75.5px,#ffd8d8 76.5px,#e2b3cf 77.5px,#8f8fff 78.5px,#9c9cff 85.5px,#ebebff 102.5px,#faf9ff 114.5px,#ededff 125.5px,#c1c1ff 134.5px,#7a7aff 144px)"></i><i style="background:linear-gradient(#0d0dff 0px,#2828ff 29.5px,#5c5cff 49.5px,#a4a4ff 65.5px,#d3d3ff 71.5px,#fdfafc 74.5px,#ffd1d1 76.5px,#ffb6b6 77.5px,#e69ab4 78.5px,#9e9eff 79.5px,#b1b1ff 86.5px,#fafafe 100.5px,#ffeeee 114.5px,#fafaff 127.5px,#c2c2ff 136.5px,#8585ff 144px)"></i><i style="background:linear-gradient(#0d0dff 0px,#2929ff 29.5px,#5e5eff 49.5px,#ababff 65.5px,#dadaff 71.5px,#f4f4ff 73.5px,#fff8f8 74.5px,#ffafaf 77.5px,#ff9191 78.5px,#e98297 79.5px,#adadff 80.5px,#ccccff 88.5px,#fbfaff 96.5px,#ffdfdf 107.5px,#ffe4e4 122.5px,#fbfbff 130.5px,#aaaaff 140.5px,#8d8dff 144px)"></i><i style="background:linear-gradient(#0e0eff 0px,#2a2aff 29.5px,#5d5dff 48.5px,#aaaaff 64.5px,#e1e1ff 71.5px,#fafaff 73.5px,#fff4f4 74.5px,#ffabab 77.5px,#ff6d6d 79.5px,#ed697b 80.5px,#bbbbff 81.5px,#dfdfff 89.5px,#fdfcfe 94.5px,#ffd5d5 104.5px,#ffd2d2 118.5px,#ffe8e8 127.5px,#fefdfe 131.5px,#bcbcff 139.5px,#9393ff 144px)"></i><i style="background:linear-gradient(#0e0eff 0px,#2b2bff 29.5px,#5e5eff 48.5px,#a7a7ff 63.5px,#e5e5ff 71.5px,#fcfbfe 73.5px,#ffdddd 75.5px,#ff8b8b 78.5px,#ff4949 80.5px,#f05361 81.5px,#c8c8ff 82.5px,#f4f4ff 91.5px,#fffdfd 93.5px,#ffd0d0 103.5px,#ffc9c9 115.5px,#ffd9d9 125.5px,#fefdfe 132.5px,#9797ff 144px)"></i><i style="background:linear-gradient(#0e0eff 0px,#2b2bff 29.5px,#5f5fff 48.5px,#a9a9ff 63.5px,#e8e8ff 71.5px,#fefcfd 73.5px,#ffdddd 75.5px,#ff8e8e 78.5px,#ff2929 81.5px,#f33e4b 82.5px,#d2d2ff 83.5px,#fefeff 92.5px,#ffcece 103.5px,#ffc8c8 115.5px,#ffd9d9 125.5px,#fefdfe 132.5px,#a1a1ff 142.5px,#9797ff 144px)"></i><i style="background:linear-gradient(#0e0eff 0px,#2b2bff 29.5px,#5f5fff 48.5px,#aaaaff 63.5px,#f4f4ff 72.5px,#fefcfd 73.5px,#ffcbcb 76.5px,#ff7373 79.5px,#ff0e0e 82.5px,#f53540 83.5px,#d7d7ff 84.5px,#fffdfd 93.5px,#ffd4d4 103.5px,#ffd0d0 116.5px,#ffe3e3 126.5px,#fefdfd 131.5px,#c5c5ff 138.5px,#9393ff 144px)"></i><i style="background:linear-gradient(#0e0eff 0px,#2a2aff 29.5px,#5e5eff 48.5px,#a2a2ff 62.5px,#e9e9ff 71.5px,#fdfcfe 73.5px,#ffe3e3 75.5px,#ff9d9d 78.5px,#ff1616 82.5px,#ff0000 83.5px,#f53640 84.5px,#d8d8ff 85.5px,#fefcfc 95.5px,#ffdddd 106.5px,#ffe4e4 122.5px,#fafaff 130.5px,#a9a9ff 140.5px,#8d8dff 144px)"></i><i style="background:linear-gradient(#0e0eff 0px,#2929ff 29.5px,#5c5cff 48.5px,#a0a0ff 62.5px,#f0f0ff 72.5px,#fbfbff 73.5px,#ffe8e8 75.5px,#ffa9a9 78.5px,#ff0606 83.5px,#ff0000 84.5px,#dd9ebf 85.5px,#d3d3ff 86.5px,#fcfafc 99.5px,#fff0f0 113.5px,#faf9fe 126.5px,#ceceff 134.5px,#8383ff 144px)"></i><i style="background:linear-gradient(#0d0dff 0px,#2828ff 29.5px,#5959ff 48.5px,#9d9dff 62.5px,#ececff 72.5px,#fffbfc 74.5px,#ffcdcd 77.5px,#ff7d7d 80.5px,#ff1717 83.5px,#ff0202 84.5px,#ff0000 85.5px,#d697bf 86.5px,#c9c9ff 87.5px,#f3f3ff 107.5px,#eaeaff 123.5px,#c6c6ff 132.5px,#7676ff 144px)"></i><i style="background:linear-gradient(#0d0dff 0px,#2828ff 30.5px,#5a5aff 49.5px,#9f9fff 63.5px,#f0f0ff 73.5px,#fbfbff 74.5px,#fff7f7 75.5px,#ffc5c5 78.5px,#ff7272 81.5px,#ff1212 84.5px,#ff0202 85.5px,#ef2f40 86.5px,#babaff 87.5px,#d6d6ff 111.5px,#c8c8ff 125.5px,#9c9cff 135.5px,#6767ff 144px)"></i><i style="background:linear-gradient(#0c0cff 0px,#2626ff 30.5px,#5757ff 49.5px,#9a9aff 63.5px,#e9e9ff 73.5px,#fdfcfe 75.5px,#ffe6e6 77.5px,#ffa7a7 80.5px,#ff2e2e 84.5px,#ff0c0c 86.5px,#c084c3 87.5px,#a8a8ff 88.5px,#b3b3ff 117.5px,#9d9dff 129.5px,#5757ff 144px)"></i><i style="background:linear-gradient(#0c0cff 0px,#2626ff 31.5px,#5757ff 50.5px,#9a9aff 64.5px,#eaeaff 74.5px,#fefcfe 76.5px,#ffd2d2 79.5px,#ff8888 82.5px,#ff3636 85.5px,#ff2727 86.5px,#e64059 87.5px,#9797ff 88.5px,#8f8fff 100.5px,#8e8eff 121.5px,#6e6eff 134.5px,#4646ff 144px)"></i><i style="background:linear-gradient(#0b0bff 0px,#2424ff 31.5px,#5353ff 50.5px,#9494ff 64.5px,#e9e9ff 75.5px,#fdfcfe 77.5px,#ffe4e4 79.5px,#ffa5a5 82.5px,#ff5757 85.5px,#ff3a3a 87.5px,#8787ff 88.5px,#7474ff 98.5px,#6c6cff 123.5px,#4848ff 138.5px,#3737ff 144px)"></i><i style="background:linear-gradient(#0a0aff 0px,#2222ff 31.5px,#4f4fff 50.5px,#8e8eff 64.5px,#e9e9ff 76.5px,#fcfbfe 78.5px,#ffe5e5 80.5px,#ffa5a5 83.5px,#ff6262 86.5px,#ff5353 87.5px,#7777ff 88.5px,#5b5bff 98.5px,#4848ff 129.5px,#2828ff 144px)"></i><i style="background:linear-gradient(#0a0aff 0px,#2222ff 32.5px,#5050ff 51.5px,#8f8fff 65.5px,#e9e9ff 77.5px,#fdfbfe 79.5px,#ffe3e3 81.5px,#ff7878 86.5px,#b66bb4 87.5px,#6868ff 88.5px,#4848ff 97.5px,#2828ff 136.5px,#1c1cff 144px)"></i><i style="background:linear-gradient(#0909ff 0px,#2121ff 32.5px,#5151ff 52.5px,#9696ff 67.5px,#e8e8ff 78.5px,#fdfcfe 80.5px,#ffe1e1 82.5px,#ff8a8a 86.5px,#6161ff 87.5px,#3a3aff 96.5px,#2929ff 113.5px,#1212ff 144px)"></i><i style="background:linear-gradient(#0909ff 0px,#1f1fff 32.5px,#4e4eff 52.5px,#9191ff 67.5px,#dfdfff 78.5px,#fefbfc 81.5px,#ffc6c6 84.5px,#ffafaf 85.5px,#856ce6 86.5px,#5757ff 87.5px,#2f2fff 96.5px,#1a1aff 113.5px,#0b0bff 144px)"></i><i style="background:linear-gradient(#0808ff 0px,#1e1eff 32.5px,#4c4cff 52.5px,#9191ff 68.5px,#d7d7ff 78.5px,#f8f8ff 81.5px,#fff7f7 82.5px,#ffcfcf 84.5px,#8473ee 85.5px,#5555ff 86.5px,#2a2aff 95.5px,#1111ff 111.5px,#0606ff 144px)"></i><i style="background:linear-gradient(#0808ff 0px,#1d1dff 32.5px,#4d4dff 53.5px,#9292ff 69.5px,#d1d1ff 78.5px,#fffbfb 82.5px,#ffe8e8 83.5px,#8379f5 84.5px,#5454ff 85.5px,#2525ff 95.5px,#0c0cff 112.5px,#0404ff 144px)"></i><i style="background:linear-gradient(#0707ff 0px,#1d1dff 32.5px,#4c4cff 53.5px,#9393ff 70.5px,#ccccff 78.5px,#fffafa 82.5px,#827dfa 83.5px,#5353ff 84.5px,#2525ff 94.5px,#0b0bff 112.5px,#0404ff 144px)"></i><i style="background:linear-gradient(#0707ff 0px,#1c1cff 32.5px,#4e4eff 54.5px,#9494ff 71.5px,#cacaff 78.5px,#e5e5ff 80.5px,#ceceff 81.5px,#5959ff 82.5px,#2c2cff 91.5px,#1111ff 107.5px,#0606ff 144px)"></i><i style="background:linear-gradient(#0707ff 0px,#1c1cff 32.5px,#4d4dff 54.5px,#8b8bff 70.5px,#b5b5ff 76.5px,#dadaff 79.5px,#a3a3ff 80.5px,#5858ff 81.5px,#2f2fff 90.5px,#1a1aff 106.5px,#0c0cff 144px)"></i><i style="background:linear-gradient(#0707ff 0px,#1c1cff 32.5px,#4f4fff 55.5px,#8888ff 70.5px,#b7b7ff 76.5px,#d2d2ff 78.5px,#7d7dff 79.5px,#5858ff 80.5px,#3535ff 89.5px,#2b2bff 107.5px,#2020ff 135.5px,#1616ff 144px)"></i><i style="background:linear-gradient(#0707ff 0px,#1c1cff 32.5px,#5151ff 56.5px,#8686ff 70.5px,#afafff 75.5px,#bcbcff 76.5px,#b0b0ff 77.5px,#6060ff 78.5px,#4242ff 86.5px,#4141ff 103.5px,#4444ff 123.5px,#2323ff 144px)"></i><i style="background:linear-gradient(#0707ff 0px,#1e1eff 33.5px,#5555ff 58.5px,#8585ff 70.5px,#a9a9ff 74.5px,#a2a2ff 75.5px,#7c7cff 76.5px,#6161ff 77.5px,#4c4cff 85.5px,#6666ff 118.5px,#5252ff 133.5px,#3333ff 144px)"></i><i style="background:linear-gradient(#0707ff 0px,#1e1eff 33.5px,#5656ff 59.5px,#7f7fff 69.5px,#a4a4ff 73.5px,#8d8dff 74.5px,#6666ff 75.5px,#5656ff 83.5px,#8989ff 112.5px,#8080ff 127.5px,#4e4eff 141.5px,#4444ff 144px)"></i><i style="background:linear-gradient(#0707ff 0px,#1e1eff 33.5px,#5757ff 60.5px,#7979ff 68.5px,#9393ff 71.5px,#9191ff 72.5px,#6a6aff 73.5px,#5d5dff 80.5px,#7979ff 91.5px,#a7a7ff 106.5px,#aeaeff 120.5px,#9595ff 131.5px,#5757ff 144px)"></i><i style="background:linear-gradient(#0707ff 0px,#1e1eff 33.5px,#5555ff 60.5px,#7a7aff 68.5px,#8e8eff 70.5px,#7676ff 71.5px,#6868ff 72.5px,#6161ff 79.5px,#8787ff 89.5px,#c4c4ff 103.5px,#d3d3ff 117.5px,#c0c0ff 128.5px,#8484ff 139.5px,#6868ff 144px)"></i><i style="background:linear-gradient(#0707ff 0px,#1f1fff 34.5px,#5555ff 61.5px,#7575ff 67.5px,#7e7eff 68.5px,#7979ff 69.5px,#6969ff 70.5px,#6060ff 76.5px,#7c7cff 84.5px,#dadaff 100.5px,#f3f3ff 111.5px,#ececff 124.5px,#c5c5ff 133.5px,#7979ff 144px)"></i><i style="background:linear-gradient(#0707ff 0px,#2020ff 35.5px,#4f4fff 60.5px,#7373ff 67.5px,#5f5fff 71.5px,#6767ff 78.5px,#a6a6ff 88.5px,#f1f1ff 99.5px,#fff8f8 104.5px,#ffecec 117.5px,#f9f9fe 128.5px,#c6c6ff 136.5px,#8787ff 144px)"></i><i style="background:linear-gradient(#0707ff 0px,#2020ff 36.5px,#4c4cff 60.5px,#6868ff 66.5px,#5959ff 72.5px,#6f6fff 79.5px,#fbfafe 97.5px,#ffd9d9 107.5px,#ffd8d8 121.5px,#fff3f3 129.5px,#f8f8ff 132.5px,#9393ff 144px)"></i><i style="background:linear-gradient(#0707ff 0px,#2020ff 38.5px,#4545ff 59.5px,#6262ff 65.5px,#5555ff 71.5px,#6c6cff 78.5px,#bfbfff 88.5px,#fdfcfd 95.5px,#ffcdcd 104.5px,#ffc1c1 115.5px,#ffcfcf 125.5px,#fefcfd 133.5px,#b2b2ff 141.5px,#9c9cff 144px)"></i><i style="background:linear-gradient(#0707ff 0px,#2020ff 40.5px,#4141ff 59.5px,#5151ff 62.5px,#5f5fff 63.5px,#5151ff 71.5px,#6d6dff 78.5px,#c7c7ff 88.5px,#f8f8ff 93.5px,#fefcfc 94.5px,#ffc7c7 102.5px,#ffb4b4 111.5px,#ffbdbd 123.5px,#ffe4e4 131.5px,#fefcfc 134.5px,#dadaff 138.5px,#a3a3ff 144px)"></i><i style="background:linear-gradient(#0606ff 0px,#2020ff 43.5px,#3a3aff 58.5px,#4e4eff 61.5px,#5e5eff 62.5px,#4b4bff 68.5px,#5a5aff 75.5px,#9797ff 83.5px,#fdfdff 93.5px,#ffc0c0 102.5px,#ffadad 111.5px,#ffb6b6 123.5px,#ffdede 131.5px,#fdfdff 135.5px,#a6a6ff 144px)"></i><i style="background:linear-gradient(#0606ff 0px,#1f1fff 46.5px,#3535ff 58.5px,#3939ff 59.5px,#5757ff 60.5px,#5555ff 62.5px,#4646ff 69.5px,#5d5dff 76.5px,#a0a0ff 84.5px,#fdfdfe 93.5px,#ffc4c4 101.5px,#ffadad 109.5px,#ffb1b1 122.5px,#ffd5d5 130.5px,#fefdfe 135.5px,#a7a7ff 144px)"></i><i style="background:linear-gradient(#0606ff 0px,#1e1eff 49.5px,#3030ff 58.5px,#5252ff 59.5px,#5757ff 60.5px,#4141ff 67.5px,#4f4fff 74.5px,#8989ff 82.5px,#fafaff 93.5px,#fff1f1 95.5px,#ffbfbf 103.5px,#ffaeae 113.5px,#ffbaba 124.5px,#ffe7e7 132.5px,#fcfcff 135.5px,#a5a5ff 144px)"></i><i style="background:linear-gradient(#0505ff 0px,#1c1cff 52.5px,#2424ff 56.5px,#3535ff 57.5px,#5b5bff 58.5px,#3e3eff 65.5px,#4343ff 72.5px,#6a6aff 79.5px,#fbfbff 94.5px,#ffe3e3 98.5px,#ffbebe 106.5px,#ffb9b9 119.5px,#ffcece 127.5px,#fefdfe 134.5px,#a1a1ff 144px)"></i><i style="background:linear-gradient(#0505ff 0px,#1818ff 53.5px,#1c1cff 55.5px,#2e2eff 56.5px,#5a5aff 57.5px,#3b3bff 64.5px,#3c3cff 71.5px,#5d5dff 78.5px,#f8f8ff 95.5px,#fff7f7 97.5px,#ffcfcf 105.5px,#ffc4c4 117.5px,#ffd6d6 126.5px,#fcfcfe 133.5px,#9b9bff 144px)"></i><i style="background:linear-gradient(#0505ff 0px,#1515ff 54.5px,#1616ff 55.5px,#5a5aff 56.5px,#3737ff 64.5px,#3a3aff 72.5px,#6464ff 80.5px,#f6f6ff 97.5px,#fff5f5 100.5px,#ffd9d9 109.5px,#ffdbdb 122.5px,#fcfbfe 131.5px,#babaff 139.5px,#9292ff 144px)"></i><i style="background:linear-gradient(#0404ff 0px,#0f0fff 54.5px,#4848ff 55.5px,#5454ff 56.5px,#3333ff 64.5px,#3535ff 72.5px,#5b5bff 80.5px,#e8e8ff 98.5px,#fbf9fd 102.5px,#ffebeb 115.5px,#fff9fa 126.5px,#f1f1ff 130.5px,#a4a4ff 140.5px,#8888ff 144px)"></i><i style="background:linear-gradient(#0404ff 0px,#0a0aff 53.5px,#5656ff 55.5px,#3232ff 63.5px,#2e2eff 71.5px,#5151ff 80.5px,#d6d6ff 99.5px,#f5f5ff 109.5px,#f4f4ff 123.5px,#d0d0ff 132.5px,#7c7cff 144px)"></i><i style="background:linear-gradient(#0404ff 0px,#0808ff 53.5px,#5a5aff 54.5px,#3232ff 62.5px,#2a2aff 71.5px,#4747ff 80.5px,#bfbfff 100.5px,#dbdbff 111.5px,#d7d7ff 124.5px,#b4b4ff 133.5px,#6e6eff 144px)"></i><i style="background:linear-gradient(#0404ff 0px,#0707ff 53.5px,#5959ff 54.5px,#3131ff 62.5px,#2626ff 71.5px,#4040ff 81.5px,#a5a5ff 101.5px,#bfbfff 114.5px,#b2b2ff 127.5px,#7f7fff 138.5px,#5f5fff 144px)"></i><i style="background:linear-gradient(#0404ff 0px,#0909ff 53.5px,#5555ff 55.5px,#2c2cff 64.5px,#2525ff 74.5px,#4848ff 86.5px,#8c8cff 103.5px,#9f9fff 117.5px,#8e8eff 129.5px,#4f4fff 144px)"></i><i style="background:linear-gradient(#0404ff 0px,#0d0dff 54.5px,#4646ff 55.5px,#5353ff 56.5px,#2a2aff 65.5px,#2222ff 76.5px,#4848ff 91.5px,#7575ff 108.5px,#7b7bff 121.5px,#6262ff 134.5px,#3e3eff 144px)"></i><i style="background:linear-gradient(#0505ff 0px,#1212ff 54.5px,#2626ff 55.5px,#5858ff 56.5px,#2c2cff 65.5px,#1d1dff 77.5px,#3e3eff 96.5px,#5b5bff 116.5px,#4c4cff 132.5px,#2e2eff 144px)"></i><i style="background:linear-gradient(#0505ff 0px,#1717ff 54.5px,#1818ff 55.5px,#2b2bff 56.5px,#5858ff 57.5px,#2b2bff 66.5px,#1818ff 79.5px,#3a3aff 119.5px,#2323ff 140.5px,#1e1eff 144px)"></i><i style="background:linear-gradient(#0606ff 0px,#1b1bff 53.5px,#2020ff 56.5px,#3131ff 57.5px,#5858ff 58.5px,#2a2aff 67.5px,#1313ff 81.5px,#1a1aff 128.5px,#1010ff 144px)"></i><i style="background:linear-gradient(#0606ff 0px,#1e1eff 51.5px,#2929ff 57.5px,#4e4eff 59.5px,#5252ff 60.5px,#2424ff 70.5px,#0c0cff 87.5px,#0505ff 144px)"></i><i style="background:linear-gradient(#0707ff 0px,#2121ff 48.5px,#3636ff 59.5px,#5252ff 60.5px,#4d4dff 62.5px,#2323ff 72.5px,#0d0dff 89.5px,#0909ff 144px)"></i><i style="background:linear-gradient(#0707ff 0px,#2222ff 44.5px,#3d3dff 59.5px,#5757ff 62.5px,#2b2bff 71.5px,#1717ff 85.5px,#2323ff 124.5px,#1313ff 144px)"></i><i style="background:linear-gradient(#0808ff 0px,#2222ff 40.5px,#4444ff 59.5px,#5959ff 63.5px,#2f2fff 72.5px,#2020ff 84.5px,#3c3cff 119.5px,#2727ff 139.5px,#1f1fff 144px)"></i><i style="background:linear-gradient(#0909ff 0px,#2424ff 38.5px,#4b4bff 59.5px,#6363ff 64.5px,#3e3eff 70.5px,#2b2bff 80.5px,#4646ff 100.5px,#5757ff 119.5px,#4242ff 135.5px,#2c2cff 144px)"></i><i style="background:linear-gradient(#0909ff 0px,#2525ff 36.5px,#5252ff 59.5px,#7272ff 65.5px,#6c6cff 66.5px,#5858ff 67.5px,#3939ff 75.5px,#3b3bff 85.5px,#6f6fff 110.5px,#6e6eff 125.5px,#4545ff 140.5px,#3939ff 144px)"></i><i style="background:linear-gradient(#0a0aff 0px,#2525ff 34.5px,#5a5aff 59.5px,#7f7fff 66.5px,#7e7eff 67.5px,#5a5aff 69.5px,#4242ff 77.5px,#5050ff 87.5px,#8787ff 107.5px,#8e8eff 120.5px,#7777ff 132.5px,#4747ff 144px)"></i><i style="background:linear-gradient(#0b0bff 0px,#2626ff 33.5px,#5e5eff 58.5px,#8484ff 66.5px,#9696ff 68.5px,#9292ff 69.5px,#5e5eff 71.5px,#4f4fff 78.5px,#6666ff 88.5px,#a0a0ff 105.5px,#aaaaff 119.5px,#9595ff 130.5px,#5555ff 144px)"></i><i style="background:linear-gradient(#0b0bff 0px,#2727ff 32.5px,#6262ff 57.5px,#8a8aff 66.5px,#b1b1ff 70.5px,#9494ff 71.5px,#6969ff 72.5px,#5e5eff 79.5px,#7e7eff 89.5px,#b9b9ff 104.5px,#c6c6ff 118.5px,#b1b1ff 129.5px,#6f6fff 141.5px,#6262ff 144px)"></i><i style="background:linear-gradient(#0c0cff 0px,#2727ff 31.5px,#5e5eff 54.5px,#9090ff 66.5px,#c0c0ff 71.5px,#d0d0ff 72.5px,#aaaaff 73.5px,#7272ff 74.5px,#7272ff 81.5px,#d2d2ff 103.5px,#e0e0ff 116.5px,#d0d0ff 127.5px,#9b9bff 137.5px,#6e6eff 144px)"></i><i style="background:linear-gradient(#0c0cff 0px,#2828ff 31.5px,#6060ff 53.5px,#9797ff 66.5px,#c3c3ff 71.5px,#e1e1ff 73.5px,#d6d6ff 74.5px,#a09efe 75.5px,#8080ff 76.5px,#8989ff 83.5px,#e8e8ff 102.5px,#f9f9ff 114.5px,#eaeaff 126.5px,#babaff 135.5px,#7a7aff 144px)"></i><i style="background:linear-gradient(#0c0cff 0px,#2828ff 30.5px,#5c5cff 51.5px,#9d9dff 66.5px,#c6c6ff 71.5px,#f4f4ff 74.5px,#fff5f5 75.5px,#e3cbe8 76.5px,#ab9ef2 77.5px,#9191ff 78.5px,#a4a4ff 85.5px,#f8f8ff 100.5px,#ffefef 115.5px,#fafaff 127.5px,#c2c2ff 136.5px,#8585ff 144px)"></i><i style="background:linear-gradient(#0d0dff 0px,#2929ff 30.5px,#5f5fff 51.5px,#a2a2ff 66.5px,#d6d6ff 72.5px,#f4f4ff 74.5px,#fff6f6 75.5px,#ffc6c6 77.5px,#e7a9c1 78.5px,#a3a3ff 79.5px,#bbbbff 86.5px,#fcfafd 97.5px,#ffdede 108.5px,#ffe4e4 122.5px,#fbfbff 130.5px,#b4b4ff 139.5px,#8d8dff 144px)"></i><i style="background:linear-gradient(#0d0dff 0px,#2929ff 30.5px,#5d5dff 50.5px,#a6a6ff 66.5px,#d8d8ff 72.5px,#f4f4ff 74.5px,#fff7f7 75.5px,#ffafaf 78.5px,#ff9191 79.5px,#d893b9 80.5px,#b8b8ff 81.5px,#ddddff 89.5px,#fcfcfe 94.5px,#ffd3d3 105.5px,#ffd3d3 120.5px,#fff1f1 129.5px,#fefcfd 131.5px,#d0d0ff 137.5px,#9494ff 144px)"></i><i style="background:linear-gradient(#0d0dff 0px,#2929ff 30.5px,#5d5dff 50.5px,#a8a8ff 66.5px,#d9d9ff 72.5px,#f4f4ff 74.5px,#fff9f9 75.5px,#ffb4b4 78.5px,#ff5959 81.5px,#d6a7d0 82.5px,#cdcdff 83.5px,#fcfcff 92.5px,#ffcdcd 103.5px,#ffc7c7 115.5px,#ffd7d7 125.5px,#fffdfd 132.5px,#b7b7ff 140.5px,#9898ff 144px)"></i><i style="background:linear-gradient(#0d0dff 0px,#2828ff 30.5px,#5d5dff 50.5px,#a3a3ff 65.5px,#d9d9ff 72.5px,#fefbfc 75.5px,#ffbbbb 78.5px,#ff4242 82.5px,#f5535d 83.5px,#dcdcff 84.5px,#fefdff 91.5px,#ffcccc 102.5px,#ffc3c3 113.5px,#ffd1d1 124.5px,#fffcfc 132.5px,#e9e9ff 135.5px,#9999ff 144px)"></i><i style="background:linear-gradient(#0d0dff 0px,#2828ff 30.5px,#5858ff 49.5px,#a3a3ff 65.5px,#e2e2ff 73.5px,#fcfbfe 75.5px,#ffdcdc 77.5px,#ff8d8d 80.5px,#ff1212 84.5px,#eeaebf 85.5px,#ebebff 86.5px,#fffdfd 91.5px,#ffcece 102.5px,#ffc7c7 114.5px,#ffd9d9 125.5px,#fdfdfe 132.5px,#a1a1ff 142.5px,#9696ff 144px)"></i><i style="background:linear-gradient(#0d0dff 0px,#2828ff 31.5px,#5959ff 50.5px,#a1a1ff 65.5px,#dfdfff 73.5px,#f7f7ff 75.5px,#fff7f7 76.5px,#ffb8b8 79.5px,#ff0707 85.5px,#fb3c40 86.5px,#f1f1ff 87.5px,#fffbfb 92.5px,#ffd4d4 104.5px,#ffd8d8 120.5px,#fff6f6 129.5px,#fbfbff 131.5px,#a5a5ff 141.5px,#9191ff 144px)"></i><i style="background:linear-gradient(#0c0cff 0px,#2727ff 31.5px,#5757ff 50.5px,#9d9dff 65.5px,#dadaff 73.5px,#fdfbfd 76.5px,#ffdddd 78.5px,#ff9393 81.5px,#ff1c1c 85.5px,#ff0404 86.5px,#ff0000 87.5px,#f5b5bf 88.5px,#f3f3ff 89.5px,#fffafa 95.5px,#ffe2e2 107.5px,#fff0f0 123.5px,#fbfafe 128.5px,#c7c7ff 136.5px,#8888ff 144px)"></i><i style="background:linear-gradient(#0c0cff 0px,#2525ff 31.5px,#5454ff 50.5px,#9999ff 65.5px,#dedeff 74.5px,#fefafa 77.5px,#ffc2c2 80.5px,#ff1c1c 86.5px,#ff0808 87.5px,#ff0101 88.5px,#ebebff 90.5px,#fcf9fc 101.5px,#f7f7ff 123.5px,#d1d1ff 132.5px,#7c7cff 144px)"></i><i style="background:linear-gradient(#0c0cff 0px,#2525ff 32.5px,#5353ff 51.5px,#9393ff 65.5px,#d7d7ff 74.5px,#f8f8ff 77.5px,#fff8f8 78.5px,#ffc1c1 81.5px,#ff2626 87.5px,#ff1111 89.5px,#f8454d 90.5px,#ddddff 91.5px,#e6e6ff 114.5px,#cfcfff 127.5px,#9999ff 137.5px,#6d6dff 144px)"></i><i style="background:linear-gradient(#0b0bff 0px,#2525ff 33.5px,#5353ff 52.5px,#9393ff 66.5px,#d8d8ff 75.5px,#f9f9ff 78.5px,#fff7f7 79.5px,#ffacac 83.5px,#ff4b4b 87.5px,#ff3232 89.5px,#ff2e2e 90.5px,#f35763 91.5px,#cacaff 92.5px,#bebeff 121.5px,#9d9dff 132.5px,#5d5dff 144px)"></i><i style="background:linear-gradient(#0a0aff 0px,#2222ff 33.5px,#5252ff 53.5px,#9292ff 67.5px,#e1e1ff 77.5px,#f8f8ff 79.5px,#fff8f9 80.5px,#ffb3b3 84.5px,#ff7171 87.5px,#ff5151 90.5px,#ff4d4d 91.5px,#ee6a7b 92.5px,#b5b5ff 93.5px,#9696ff 125.5px,#6666ff 138.5px,#4d4dff 144px)"></i><i style="background:linear-gradient(#0a0aff 0px,#2222ff 34.5px,#5050ff 54.5px,#9191ff 68.5px,#e0e0ff 78.5px,#fefafc 81.5px,#ffbdbd 85.5px,#ff8888 88.5px,#ff6d6d 92.5px,#b996dc 93.5px,#9d9dff 94.5px,#8787ff 108.5px,#7070ff 128.5px,#3c3cff 144px)"></i><i style="background:linear-gradient(#0909ff 0px,#1f1fff 34.5px,#4b4bff 54.5px,#8989ff 68.5px,#ddddff 79.5px,#fbfafe 82.5px,#ffe8e8 84.5px,#ffacac 88.5px,#ff8888 93.5px,#8b8bff 94.5px,#6d6dff 105.5px,#4c4cff 132.5px,#2d2dff 144px)"></i><i style="background:linear-gradient(#0808ff 0px,#1e1eff 35.5px,#4a4aff 55.5px,#8787ff 69.5px,#e1e1ff 81.5px,#fdfafc 84.5px,#ffbbbb 90.5px,#ffa6a6 93.5px,#7676ff 95.5px,#5555ff 105.5px,#2828ff 139.5px,#2020ff 144px)"></i><i style="background:linear-gradient(#0808ff 0px,#1d1dff 35.5px,#4747ff 55.5px,#8282ff 69.5px,#dfdfff 82.5px,#fbfafe 85.5px,#ffe2e2 88.5px,#ffb4b4 93.5px,#8f79e9 94.5px,#6565ff 95.5px,#4141ff 105.5px,#1515ff 144px)"></i><i style="background:linear-gradient(#0707ff 0px,#1d1dff 36.5px,#4848ff 56.5px,#8383ff 70.5px,#e6e6ff 84.5px,#f9f9ff 86.5px,#fff2f2 88.5px,#ffc8c8 92.5px,#8979ee 93.5px,#5d5dff 94.5px,#3333ff 104.5px,#1515ff 132.5px,#0d0dff 144px)"></i><i style="background:linear-gradient(#0707ff 0px,#1c1cff 36.5px,#4949ff 57.5px,#8585ff 71.5px,#e5e5ff 85.5px,#fffbfc 88.5px,#ffdada 91.5px,#d6afd8 92.5px,#5858ff 93.5px,#2d2dff 102.5px,#1313ff 119.5px,#0808ff 144px)"></i><i style="background:linear-gradient(#0707ff 0px,#1b1bff 36.5px,#4747ff 57.5px,#8787ff 72.5px,#dfdfff 85.5px,#fdfcfe 88.5px,#ffe7e7 90.5px,#ad99eb 91.5px,#5656ff 92.5px,#2a2aff 101.5px,#0e0eff 117.5px,#0505ff 144px)"></i><i style="background:linear-gradient(#0606ff 0px,#1a1aff 36.5px,#4747ff 57.5px,#8989ff 73.5px,#d2d2ff 84.5px,#fefbfd 88.5px,#ffefef 89.5px,#837cf9 90.5px,#5454ff 91.5px,#2525ff 101.5px,#0b0bff 118.5px,#0404ff 144px)"></i><i style="background:linear-gradient(#0606ff 0px,#1919ff 35.5px,#4646ff 57.5px,#8c8cff 74.5px,#c7c7ff 83.5px,#f9f8ff 87.5px,#d6d0f9 88.5px,#817cfa 89.5px,#5252ff 90.5px,#2525ff 100.5px,#0d0dff 118.5px,#0505ff 144px)"></i><i style="background:linear-gradient(#0606ff 0px,#1919ff 35.5px,#4747ff 57.5px,#8989ff 74.5px,#bfbfff 82.5px,#f4f4ff 86.5px,#adabfd 87.5px,#5757ff 88.5px,#2e2eff 97.5px,#1717ff 113.5px,#0909ff 144px)"></i><i style="background:linear-gradient(#0606ff 0px,#1919ff 35.5px,#4747ff 57.5px,#8888ff 74.5px,#b9b9ff 81.5px,#e0e0ff 84.5px,#ccccff 85.5px,#5e5eff 86.5px,#3737ff 95.5px,#2626ff 112.5px,#1111ff 144px)"></i><i style="background:linear-gradient(#0606ff 0px,#1a1aff 35.5px,#4b4bff 58.5px,#8888ff 74.5px,#b5b5ff 80.5px,#d0d0ff 82.5px,#c0c0ff 83.5px,#8686ff 84.5px,#6060ff 85.5px,#4242ff 94.5px,#2d2dff 133.5px,#1c1cff 144px)"></i><i style="background:linear-gradient(#0606ff 0px,#1a1aff 34.5px,#4c4cff 58.5px,#8383ff 73.5px,#b4b4ff 79.5px,#c1c1ff 80.5px,#b6b6ff 81.5px,#8787ff 82.5px,#6868ff 83.5px,#5252ff 92.5px,#5454ff 122.5px,#3636ff 139.5px,#2b2bff 144px)"></i><i style="background:linear-gradient(#0606ff 0px,#1b1bff 34.5px,#5050ff 59.5px,#8080ff 72.5px,#a8a8ff 77.5px,#b5b5ff 78.5px,#aeaeff 79.5px,#8888ff 80.5px,#6e6eff 81.5px,#6262ff 90.5px,#7979ff 117.5px,#6363ff 132.5px,#3b3bff 144px)"></i><i style="background:linear-gradient(#0606ff 0px,#1c1cff 34.5px,#5353ff 60.5px,#7d7dff 71.5px,#a9a9ff 76.5px,#a6a6ff 77.5px,#7373ff 79.5px,#6e6eff 87.5px,#9b9bff 110.5px,#9595ff 125.5px,#6c6cff 137.5px,#4d4dff 144px)"></i><i style="background:linear-gradient(#0606ff 0px,#1d1dff 34.5px,#5656ff 61.5px,#7a7aff 70.5px,#9f9fff 74.5px,#9d9dff 75.5px,#7474ff 77.5px,#7474ff 84.5px,#b8b8ff 105.5px,#c0c0ff 119.5px,#a8a8ff 130.5px,#5f5fff 144px)"></i><i style="background:linear-gradient(#0606ff 0px,#1e1eff 34.5px,#5656ff 61.5px,#7878ff 69.5px,#9595ff 72.5px,#7575ff 74.5px,#7474ff 81.5px,#d6d6ff 103.5px,#e4e4ff 116.5px,#d3d3ff 127.5px,#9d9dff 137.5px,#7070ff 144px)"></i><i style="background:linear-gradient(#0707ff 0px,#1e1eff 34.5px,#5555ff 61.5px,#7777ff 68.5px,#8b8bff 70.5px,#7171ff 72.5px,#6f6fff 78.5px,#9b9bff 87.5px,#e9e9ff 100.5px,#faf8fd 106.5px,#f9f8fe 124.5px,#d7d7ff 132.5px,#8080ff 144px)"></i><i style="background:linear-gradient(#0707ff 0px,#1e1eff 34.5px,#5151ff 60.5px,#6e6eff 66.5px,#7a7aff 69.5px,#6c6cff 70.5px,#6969ff 76.5px,#9191ff 84.5px,#f8f8ff 98.5px,#ffefef 103.5px,#ffe0e0 114.5px,#ffeeee 125.5px,#f9f9ff 130.5px,#b3b3ff 139.5px,#8d8dff 144px)"></i><i style="background:linear-gradient(#0707ff 0px,#2020ff 35.5px,#4c4cff 59.5px,#7171ff 66.5px,#5f5fff 71.5px,#6b6bff 77.5px,#a1a1ff 85.5px,#fdfbfd 96.5px,#ffd4d4 105.5px,#ffcccc 118.5px,#ffe1e1 127.5px,#fdfbfd 132.5px,#c0c0ff 139.5px,#9797ff 144px)"></i><i style="background:linear-gradient(#0707ff 0px,#2020ff 36.5px,#4747ff 58.5px,#6767ff 64.5px,#5757ff 71.5px,#6f6fff 78.5px,#c4c4ff 88.5px,#fbfbff 94.5px,#ffcbcb 103.5px,#ffbcbc 113.5px,#ffc7c7 124.5px,#fff2f2 132.5px,#fbfbff 134.5px,#9f9fff 144px)"></i><i style="background:linear-gradient(#0707ff 0px,#2121ff 38.5px,#4242ff 57.5px,#6060ff 63.5px,#4f4fff 70.5px,#6767ff 77.5px,#b4b4ff 86.5px,#fafaff 93.5px,#fff2f2 95.5px,#ffc1c1 103.5px,#ffb2b2 113.5px,#ffbebe 124.5px,#ffeaea 132.5px,#fffbfb 134.5px,#efefff 136.5px,#a3a3ff 144px)"></i><i style="background:linear-gradient(#0707ff 0px,#2121ff 40.5px,#3c3cff 56.5px,#5b5bff 61.5px,#4747ff 69.5px,#5d5dff 76.5px,#9f9fff 84.5px,#fcfcff 93.5px,#ffc2c2 102.5px,#ffafaf 111.5px,#ffb7b7 123.5px,#ffdfdf 131.5px,#fcfcff 135.5px,#a5a5ff 144px)"></i><i style="background:linear-gradient(#0707ff 0px,#2222ff 44.5px,#3a3aff 56.5px,#4a4aff 58.5px,#5757ff 59.5px,#4040ff 68.5px,#5454ff 75.5px,#9393ff 83.5px,#f9f9ff 93.5px,#fffbfb 94.5px,#ffc4c4 102.5px,#ffb1b1 111.5px,#ffb9b9 123.5px,#ffe1e1 131.5px,#fffafa 134.5px,#fbfbff 135.5px,#a4a4ff 144px)"></i><i style="background:linear-gradient(#0606ff 0px,#2121ff 47.5px,#3737ff 56.5px,#5353ff 57.5px,#5050ff 59.5px,#3a3aff 66.5px,#4545ff 73.5px,#7b7bff 81.5px,#fbfbff 94.5px,#ffc8c8 103.5px,#ffb7b7 113.5px,#ffc2c2 124.5px,#ffeeee 132.5px,#fefdfe 134.5px,#a1a1ff 144px)"></i><i style="background:linear-gradient(#0606ff 0px,#1e1eff 48.5px,#2b2bff 54.5px,#5858ff 56.5px,#3636ff 64.5px,#3939ff 71.5px,#5c5cff 78.5px,#f9f9ff 95.5px,#fff5f5 97.5px,#ffcdcd 105.5px,#ffc3c3 117.5px,#ffd4d4 126.5px,#fdfcfe 133.5px,#9c9cff 144px)"></i><i style="background:linear-gradient(#0606ff 0px,#1b1bff 49.5px,#2121ff 52.5px,#4c4cff 54.5px,#5353ff 55.5px,#3232ff 63.5px,#3434ff 71.5px,#5c5cff 79.5px,#f9f9ff 97.5px,#ffeded 101.5px,#ffd5d5 110.5px,#ffdada 123.5px,#fefbfd 131.5px,#d9d9ff 136.5px,#9494ff 144px)"></i><i style="background:linear-gradient(#0505ff 0px,#1717ff 50.5px,#1919ff 51.5px,#2b2bff 52.5px,#5757ff 53.5px,#3131ff 61.5px,#2c2cff 69.5px,#4848ff 77.5px,#9e9eff 88.5px,#f2f2ff 99.5px,#fff9f9 103.5px,#ffe6e6 114.5px,#fff3f3 125.5px,#fafaff 129.5px,#b9b9ff 138.5px,#8a8aff 144px)"></i><i style="background:linear-gradient(#0505ff 0px,#1313ff 50.5px,#5656ff 52.5px,#2f2fff 60.5px,#2727ff 69.5px,#4646ff 78.5px,#dbdbff 99.5px,#f9f9fe 108.5px,#f8f8ff 124.5px,#cfcfff 133.5px,#7f7fff 144px)"></i><i style="background:linear-gradient(#0404ff 0px,#0d0dff 49.5px,#4848ff 50.5px,#5555ff 51.5px,#2b2bff 60.5px,#2424ff 70.5px,#4242ff 79.5px,#c6c6ff 100.5px,#e3e3ff 111.5px,#e0e0ff 123.5px,#c0c0ff 132.5px,#7272ff 144px)"></i><i style="background:linear-gradient(#0404ff 0px,#0808ff 48.5px,#1d1dff 49.5px,#5656ff 50.5px,#2b2bff 59.5px,#1f1fff 69.5px,#3838ff 79.5px,#aeaeff 101.5px,#c9c9ff 114.5px,#bebeff 126.5px,#9292ff 136.5px,#6464ff 144px)"></i><i style="background:linear-gradient(#0404ff 0px,#0505ff 48.5px,#5858ff 49.5px,#2b2bff 58.5px,#1c1cff 69.5px,#3232ff 80.5px,#9393ff 102.5px,#aaaaff 116.5px,#9b9bff 128.5px,#6060ff 141.5px,#5454ff 144px)"></i><i style="background:linear-gradient(#0404ff 0px,#0505ff 47.5px,#1b1bff 48.5px,#5757ff 49.5px,#2a2aff 58.5px,#1919ff 70.5px,#2d2dff 82.5px,#7b7bff 105.5px,#8888ff 118.5px,#7575ff 131.5px,#4444ff 144px)"></i><i style="background:linear-gradient(#0404ff 0px,#0707ff 48.5px,#4646ff 49.5px,#5454ff 50.5px,#2929ff 59.5px,#1717ff 71.5px,#2929ff 85.5px,#6161ff 109.5px,#6464ff 123.5px,#4545ff 138.5px,#3434ff 144px)"></i><i style="background:linear-gradient(#0404ff 0px,#0b0bff 49.5px,#4646ff 50.5px,#5252ff 51.5px,#2828ff 60.5px,#1414ff 73.5px,#2525ff 91.5px,#4646ff 116.5px,#3535ff 135.5px,#2424ff 144px)"></i><i style="background:linear-gradient(#0505ff 0px,#1111ff 50.5px,#4747ff 51.5px,#5252ff 52.5px,#2525ff 62.5px,#1010ff 77.5px,#2727ff 122.5px,#1515ff 144px)"></i><i style="background:linear-gradient(#0505ff 0px,#1616ff 50.5px,#1717ff 51.5px,#4949ff 52.5px,#5252ff 53.5px,#2525ff 63.5px,#0c0cff 80.5px,#0808ff 144px)"></i><i style="background:linear-gradient(#0606ff 0px,#1b1bff 50.5px,#1f1fff 52.5px,#4c4cff 53.5px,#5454ff 54.5px,#2525ff 64.5px,#0c0cff 81.5px,#0606ff 144px)"></i><i style="background:linear-gradient(#0606ff 0px,#1e1eff 49.5px,#2727ff 53.5px,#3636ff 54.5px,#5757ff 55.5px,#2a2aff 64.5px,#1212ff 78.5px,#1d1dff 126.5px,#1111ff 144px)"></i><i style="background:linear-gradient(#0707ff 0px,#2222ff 48.5px,#3333ff 55.5px,#5050ff 56.5px,#4d4dff 58.5px,#2424ff 68.5px,#1818ff 82.5px,#3838ff 119.5px,#2323ff 140.5px,#1d1dff 144px)"></i><i style="background:linear-gradient(#0808ff 0px,#2323ff 45.5px,#3b3bff 56.5px,#5858ff 58.5px,#2c2cff 67.5px,#1f1fff 79.5px,#5454ff 115.5px,#4646ff 132.5px,#2b2bff 144px)"></i><i style="background:linear-gradient(#0808ff 0px,#2424ff 41.5px,#3f3fff 56.5px,#5656ff 60.5px,#3131ff 68.5px,#2727ff 78.5px,#5050ff 96.5px,#7171ff 114.5px,#6363ff 130.5px,#3838ff 144px)"></i><i style="background:linear-gradient(#0909ff 0px,#2424ff 38.5px,#4444ff 56.5px,#5d5dff 61.5px,#3737ff 69.5px,#3131ff 78.5px,#5e5eff 93.5px,#8686ff 108.5px,#8b8bff 121.5px,#7272ff 133.5px,#4646ff 144px)"></i><i style="background:linear-gradient(#0909ff 0px,#2424ff 36.5px,#4c4cff 57.5px,#6868ff 62.5px,#6565ff 63.5px,#5252ff 65.5px,#3a3aff 73.5px,#4646ff 82.5px,#9b9bff 104.5px,#a9a9ff 118.5px,#9595ff 130.5px,#5454ff 144px)"></i><i style="background:linear-gradient(#0909ff 0px,#2424ff 34.5px,#5555ff 58.5px,#7979ff 64.5px,#6f6fff 65.5px,#5b5bff 66.5px,#4545ff 73.5px,#5151ff 81.5px,#b1b1ff 102.5px,#c6c6ff 115.5px,#b7b7ff 127.5px,#8282ff 138.5px,#6262ff 144px)"></i><i style="background:linear-gradient(#0a0aff 0px,#2525ff 33.5px,#5a5aff 58.5px,#8080ff 65.5px,#8a8aff 66.5px,#7b7bff 67.5px,#6060ff 68.5px,#5252ff 75.5px,#6868ff 83.5px,#c8c8ff 101.5px,#dfdfff 113.5px,#d5d5ff 125.5px,#a8a8ff 135.5px,#6f6fff 144px)"></i><i style="background:linear-gradient(#0a0aff 0px,#2525ff 32.5px,#5c5cff 57.5px,#8080ff 65.5px,#9d9dff 68.5px,#8888ff 69.5px,#6868ff 70.5px,#6060ff 76.5px,#7e7eff 84.5px,#ddddff 100.5px,#f7f7ff 111.5px,#efefff 124.5px,#c8c8ff 133.5px,#7a7aff 144px)"></i><i style="background:linear-gradient(#0a0aff 0px,#2525ff 32.5px,#6060ff 57.5px,#8989ff 66.5px,#b2b2ff 70.5px,#9898ff 71.5px,#7474ff 72.5px,#7373ff 78.5px,#9b9bff 86.5px,#f4f4ff 100.5px,#fff7f7 106.5px,#fff3f3 120.5px,#fafaff 127.5px,#c3c3ff 136.5px,#8585ff 144px)"></i><i style="background:linear-gradient(#0a0aff 0px,#2424ff 31.5px,#5d5dff 55.5px,#8b8bff 66.5px,#b9b9ff 71.5px,#c9c9ff 72.5px,#ababff 73.5px,#8181ff 75.5px,#8e8eff 81.5px,#f9f9ff 97.5px,#fff2f2 101.5px,#ffdede 111.5px,#ffe8e8 124.5px,#fbfbfe 130.5px,#b4b4ff 139.5px,#8e8eff 144px)"></i><i style="background:linear-gradient(#0b0bff 0px,#2525ff 31.5px,#5c5cff 54.5px,#9393ff 67.5px,#c3c3ff 72.5px,#e3e3ff 74.5px,#dbdbff 75.5px,#acabfd 76.5px,#9393ff 77.5px,#adadff 84.5px,#fcfbfe 95.5px,#ffd5d5 105.5px,#ffd1d1 119.5px,#ffeaea 128.5px,#fbfbff 132.5px,#9595ff 144px)"></i><i style="background:linear-gradient(#0b0bff 0px,#2525ff 31.5px,#5a5aff 53.5px,#9595ff 67.5px,#bfbfff 72.5px,#fef9fb 76.5px,#e7d6ee 77.5px,#bbb0f5 78.5px,#a7a7ff 79.5px,#c8c8ff 86.5px,#fbfbff 93.5px,#ffefef 96.5px,#ffcaca 105.5px,#ffc7c7 119.5px,#ffe2e2 128.5px,#fffbfb 132.5px,#f3f3ff 134.5px,#9999ff 144px)"></i><i style="background:linear-gradient(#0b0bff 0px,#2424ff 31.5px,#5656ff 52.5px,#9696ff 67.5px,#c9c9ff 73.5px,#f9f8ff 76.5px,#fff1f1 77.5px,#ffdada 78.5px,#ecc0d3 79.5px,#cab6eb 80.5px,#bbbbff 81.5px,#eeeeff 90.5px,#fffbfb 93.5px,#ffcccc 102.5px,#ffc0c0 112.5px,#ffcdcd 124.5px,#fdfdff 133.5px,#9b9bff 144px)"></i><i style="background:linear-gradient(#0b0bff 0px,#2323ff 31.5px,#5656ff 52.5px,#9696ff 67.5px,#c6c6ff 73.5px,#f2f2ff 76.5px,#fff9f9 77.5px,#ffb5b5 80.5px,#f1a9b7 81.5px,#d7bbe2 82.5px,#ceceff 83.5px,#fefdfe 92.5px,#ffcccc 102.5px,#ffc2c2 113.5px,#ffd0d0 124.5px,#fcfcff 133.5px,#9a9aff 144px)"></i><i style="background:linear-gradient(#0a0aff 0px,#2424ff 32.5px,#5454ff 52.5px,#9595ff 67.5px,#c3c3ff 73.5px,#fbfafe 77.5px,#ffefef 78.5px,#ff9393 82.5px,#f5939d 83.5px,#e3beda 84.5px,#ddddff 85.5px,#fefeff 92.5px,#ffd1d1 103.5px,#ffcccc 116.5px,#ffe0e0 126.5px,#fbfbff 132.5px,#9595ff 144px)"></i><i style="background:linear-gradient(#0a0aff 0px,#2323ff 32.5px,#5252ff 52.5px,#9494ff 67.5px,#cacaff 74.5px,#f3f3ff 77.5px,#fff9f9 78.5px,#ff7474 84.5px,#f78188 85.5px,#eabfd4 86.5px,#e6e6ff 87.5px,#fffcfc 94.5px,#ffdbdb 105.5px,#ffe1e1 121.5px,#fbfafe 130.5px,#b4b4ff 139.5px,#8d8dff 144px)"></i><i style="background:linear-gradient(#0a0aff 0px,#2323ff 33.5px,#5353ff 53.5px,#9797ff 68.5px,#d0d0ff 75.5px,#f9f9ff 78.5px,#fff3f3 79.5px,#ff5e5e 86.5px,#f8767c 87.5px,#e5e5ff 88.5px,#fdfafc 98.5px,#ffeeee 111.5px,#faf9fe 126.5px,#ceceff 134.5px,#8282ff 144px)"></i><i style="background:linear-gradient(#0a0aff 0px,#2222ff 33.5px,#5050ff 53.5px,#9494ff 68.5px,#cacaff 75.5px,#fdfbfd 79.5px,#ffc8c8 82.5px,#ff6767 87.5px,#ff5b5b 88.5px,#dfdfff 90.5px,#f5f5ff 109.5px,#e6e6ff 124.5px,#bfbfff 133.5px,#7575ff 144px)"></i><i style="background:linear-gradient(#0a0aff 0px,#2222ff 34.5px,#5151ff 54.5px,#9090ff 68.5px,#cdcdff 76.5px,#fefafb 80.5px,#ff8181 87.5px,#ff6f6f 89.5px,#f58791 90.5px,#debada 91.5px,#d1d1ff 92.5px,#d2d2ff 117.5px,#b8b8ff 129.5px,#7373ff 141.5px,#6565ff 144px)"></i><i style="background:linear-gradient(#0909ff 0px,#2020ff 34.5px,#4d4dff 54.5px,#8b8bff 68.5px,#d1d1ff 77.5px,#fefafb 81.5px,#ff9b9b 87.5px,#ff8383 91.5px,#d2b4e1 92.5px,#bfbfff 93.5px,#a9a9ff 123.5px,#8080ff 135.5px,#5454ff 144px)"></i><i style="background:linear-gradient(#0909ff 0px,#2020ff 35.5px,#4d4dff 55.5px,#8d8dff 69.5px,#d3d3ff 78.5px,#fefafb 82.5px,#ffb4b4 87.5px,#ff9c9c 92.5px,#eca0b3 93.5px,#aaaaff 94.5px,#9595ff 109.5px,#7d7dff 128.5px,#4343ff 144px)"></i><i style="background:linear-gradient(#0909ff 0px,#1f1fff 35.5px,#4a4aff 55.5px,#8383ff 68.5px,#d6d6ff 79.5px,#fefbfc 83.5px,#ffc4c4 88.5px,#ffb4b4 93.5px,#e6abc4 94.5px,#9595ff 95.5px,#7878ff 107.5px,#5959ff 131.5px,#3333ff 144px)"></i><i style="background:linear-gradient(#0909ff 0px,#1f1fff 36.5px,#4b4bff 56.5px,#8585ff 69.5px,#e1e1ff 81.5px,#fefcfd 84.5px,#ffd9d9 88.5px,#ffc7c7 94.5px,#e1b3d0 95.5px,#8181ff 96.5px,#6060ff 106.5px,#3333ff 137.5px,#2525ff 144px)"></i><i style="background:linear-gradient(#0808ff 0px,#1e1eff 36.5px,#4848ff 56.5px,#8181ff 69.5px,#e3e3ff 82.5px,#fefcfd 85.5px,#ffe8e8 89.5px,#ffdcdc 94.5px,#ffd4d4 95.5px,#ddb6d8 96.5px,#6f6fff 97.5px,#4a4aff 107.5px,#1919ff 144px)"></i><i style="background:linear-gradient(#0808ff 0px,#1e1eff 37.5px,#4949ff 57.5px,#8484ff 70.5px,#fefdfe 86.5px,#ffecec 94.5px,#ffdbdb 96.5px,#8d83f4 97.5px,#6161ff 98.5px,#3838ff 108.5px,#1010ff 144px)"></i><i style="background:linear-gradient(#0808ff 0px,#1e1eff 37.5px,#4848ff 57.5px,#8383ff 70.5px,#fffefe 87.5px,#fff5f5 94.5px,#ffe5e5 96.5px,#b09ded 97.5px,#5b5bff 98.5px,#3131ff 107.5px,#1313ff 127.5px,#0a0aff 144px)"></i><i style="background:linear-gradient(#0808ff 0px,#1e1eff 37.5px,#4949ff 57.5px,#8484ff 70.5px,#fefdfe 86.5px,#ffefef 94.5px,#ffdbdb 96.5px,#5a5aff 97.5px,#2c2cff 106.5px,#1010ff 122.5px,#0606ff 144px)"></i><i style="background:linear-gradient(#0808ff 0px,#1d1dff 36.5px,#4848ff 56.5px,#8080ff 69.5px,#e2e2ff 82.5px,#fdfdfe 85.5px,#ffeeee 90.5px,#ffe3e3 94.5px,#ffd9d9 95.5px,#8277f4 96.5px,#5353ff 97.5px,#2525ff 107.5px,#0a0aff 125.5px,#0505ff 144px)"></i><i style="background:linear-gradient(#0808ff 0px,#1e1eff 36.5px,#4a4aff 56.5px,#8383ff 69.5px,#d6d6ff 80.5px,#fefcfd 84.5px,#ffe2e2 88.5px,#ffd8d8 93.5px,#ffd0d0 94.5px,#8276f2 95.5px,#5353ff 96.5px,#2525ff 106.5px,#0b0bff 124.5px,#0505ff 144px)"></i><i style="background:linear-gradient(#0808ff 0px,#1e1eff 35.5px,#4949ff 55.5px,#8686ff 69.5px,#d4d4ff 79.5px,#fefbfc 83.5px,#ffd5d5 87.5px,#ffc7c7 92.5px,#d7aad2 93.5px,#8373ef 94.5px,#5454ff 95.5px,#2828ff 105.5px,#0e0eff 126.5px,#0707ff 144px)"></i><i style="background:linear-gradient(#0909ff 0px,#1f1fff 35.5px,#4c4cff 55.5px,#8a8aff 69.5px,#c7c7ff 77.5px,#f5f5ff 81.5px,#fefafb 82.5px,#ffc8c8 86.5px,#ffb2b2 91.5px,#5d5dff 93.5px,#3535ff 102.5px,#1b1bff 122.5px,#0d0dff 144px)"></i><i style="background:linear-gradient(#0909ff 0px,#1f1fff 34.5px,#4b4bff 54.5px,#8888ff 68.5px,#c4c4ff 76.5px,#f5f5ff 80.5px,#fef9fa 81.5px,#ffb2b2 86.5px,#ffa0a0 89.5px,#db92b6 90.5px,#8e76e7 91.5px,#6363ff 92.5px,#3f3fff 102.5px,#1616ff 144px)"></i><i style="background:linear-gradient(#0909ff 0px,#2121ff 34.5px,#4f4fff 54.5px,#8b8bff 68.5px,#c1c1ff 75.5px,#f4f4ff 79.5px,#fef9fa 80.5px,#ff9b9b 86.5px,#ff8989 88.5px,#7070ff 90.5px,#5353ff 100.5px,#3737ff 133.5px,#2222ff 144px)"></i><i style="background:linear-gradient(#0909ff 0px,#2121ff 33.5px,#4e4eff 53.5px,#8f8fff 68.5px,#c8c8ff 75.5px,#fefafb 79.5px,#ff8181 86.5px,#7e7eff 88.5px,#6969ff 98.5px,#6161ff 124.5px,#3838ff 141.5px,#3131ff 144px)"></i><i style="background:linear-gradient(#0a0aff 0px,#2222ff 33.5px,#5555ff 54.5px,#9292ff 68.5px,#c4c4ff 74.5px,#fcfbfd 78.5px,#ffc7c7 81.5px,#ff8a8a 84.5px,#c685be 85.5px,#8989ff 86.5px,#8080ff 96.5px,#8787ff 119.5px,#6c6cff 133.5px,#4242ff 144px)"></i><i style="background:linear-gradient(#0a0aff 0px,#2222ff 32.5px,#5454ff 53.5px,#9595ff 68.5px,#cbcbff 74.5px,#f8f8ff 77.5px,#fff3f3 78.5px,#ff9e9e 82.5px,#ca90c6 83.5px,#9292ff 84.5px,#9595ff 94.5px,#adadff 113.5px,#9e9eff 127.5px,#6b6bff 139.5px,#5454ff 144px)"></i><i style="background:linear-gradient(#0a0aff 0px,#2323ff 32.5px,#5656ff 53.5px,#9191ff 67.5px,#c4c4ff 73.5px,#f1f1ff 76.5px,#fef9f9 77.5px,#ffb7b7 80.5px,#cb9dd2 81.5px,#9696ff 82.5px,#a3a3ff 91.5px,#cbcbff 106.5px,#ccccff 121.5px,#b0b0ff 131.5px,#6666ff 144px)"></i><i style="background:linear-gradient(#0a0aff 0px,#2323ff 31.5px,#5757ff 53.5px,#9292ff 67.5px,#bdbdff 72.5px,#fbfafd 76.5px,#ffecec 77.5px,#e4c7e2 78.5px,#afa1f1 79.5px,#9595ff 80.5px,#a8a8ff 88.5px,#e6e6ff 103.5px,#f0f0ff 117.5px,#dedeff 127.5px,#a5a5ff 137.5px,#7676ff 144px)"></i><i style="background:linear-gradient(#0a0aff 0px,#2424ff 31.5px,#5858ff 53.5px,#9393ff 67.5px,#c2c2ff 72.5px,#f6f6ff 75.5px,#e3dbf8 76.5px,#aba4f8 77.5px,#9090ff 78.5px,#a4a4ff 85.5px,#f7f7ff 100.5px,#fff0f0 114.5px,#f9f8ff 127.5px,#c2c2ff 136.5px,#8484ff 144px)"></i><i style="background:linear-gradient(#0a0aff 0px,#2424ff 31.5px,#5a5aff 54.5px,#8c8cff 66.5px,#bcbcff 71.5px,#dcdcff 73.5px,#b9b9ff 74.5px,#8787ff 75.5px,#9393ff 81.5px,#fcfbfd 97.5px,#ffdcdc 107.5px,#ffdddd 121.5px,#f9f9ff 131.5px,#a4a4ff 141.5px,#9090ff 144px)"></i><i style="background:linear-gradient(#0a0aff 0px,#2424ff 31.5px,#5c5cff 55.5px,#8585ff 65.5px,#a9a9ff 69.5px,#b6b6ff 70.5px,#a8a8ff 72.5px,#7d7dff 73.5px,#8787ff 79.5px,#c7c7ff 88.5px,#fefcfd 95.5px,#ffd0d0 104.5px,#ffc7c7 116.5px,#ffd9d9 126.5px,#fefbfc 132.5px,#e9e9ff 135.5px,#9999ff 144px)"></i><i style="background:linear-gradient(#0a0aff 0px,#2626ff 32.5px,#5f5fff 57.5px,#8585ff 65.5px,#a3a3ff 68.5px,#a0a0ff 69.5px,#7272ff 71.5px,#7979ff 77.5px,#b0b0ff 85.5px,#fefdfd 94.5px,#ffcccc 102.5px,#ffbbbb 111.5px,#ffc4c4 123.5px,#ffeaea 131.5px,#fbfbff 134.5px,#9f9fff 144px)"></i><i style="background:linear-gradient(#0a0aff 0px,#2525ff 32.5px,#5c5cff 57.5px,#7f7fff 64.5px,#9292ff 66.5px,#8484ff 67.5px,#6b6bff 68.5px,#6868ff 74.5px,#8c8cff 81.5px,#fbfbff 93.5px,#fff2f2 95.5px,#ffc3c3 103.5px,#ffb5b5 113.5px,#ffc1c1 124.5px,#ffeded 132.5px,#fefdfd 134.5px,#a2a2ff 144px)"></i><i style="background:linear-gradient(#0a0aff 0px,#2626ff 34.5px,#5757ff 57.5px,#7878ff 63.5px,#8282ff 64.5px,#7777ff 65.5px,#6363ff 66.5px,#5a5aff 72.5px,#7878ff 79.5px,#f9f9ff 93.5px,#fffcfc 94.5px,#ffc8c8 102.5px,#ffb5b5 111.5px,#ffbebe 123.5px,#ffe5e5 131.5px,#fffdfd 134.5px,#a2a2ff 144px)"></i><i style="background:linear-gradient(#0a0aff 0px,#2626ff 35.5px,#4f4fff 56.5px,#6d6dff 62.5px,#5555ff 66.5px,#5151ff 72.5px,#7272ff 79.5px,#fbfbff 94.5px,#ffcaca 103.5px,#ffbaba 113.5px,#ffc6c6 124.5px,#fff1f1 132.5px,#fcfcff 134.5px,#9f9fff 144px)"></i><i style="background:linear-gradient(#0909ff 0px,#2525ff 37.5px,#4b4bff 56.5px,#6060ff 60.5px,#4646ff 68.5px,#5353ff 75.5px,#8a8aff 83.5px,#fafaff 95.5px,#fff5f5 97.5px,#ffcece 105.5px,#ffc5c5 118.5px,#ffdbdb 127.5px,#fcfcfe 133.5px,#9b9bff 144px)"></i><i style="background:linear-gradient(#0909ff 0px,#2525ff 40.5px,#4242ff 55.5px,#5959ff 59.5px,#3e3eff 67.5px,#4747ff 74.5px,#7878ff 82.5px,#faf9ff 97.5px,#ffe8e8 102.5px,#ffd4d4 112.5px,#ffdddd 124.5px,#fdfbfd 131.5px,#cfcfff 137.5px,#9393ff 144px)"></i><i style="background:linear-gradient(#0808ff 0px,#2424ff 43.5px,#3e3eff 55.5px,#5555ff 57.5px,#3636ff 67.5px,#4444ff 75.5px,#7e7eff 84.5px,#eeeeff 98.5px,#fefafb 102.5px,#ffe6e6 113.5px,#ffefef 124.5px,#fbfaff 129.5px,#b9b9ff 138.5px,#8a8aff 144px)"></i><i style="background:linear-gradient(#0707ff 0px,#2222ff 46.5px,#3535ff 54.5px,#5252ff 55.5px,#4f4fff 57.5px,#3131ff 65.5px,#3535ff 73.5px,#6363ff 82.5px,#d8d8ff 98.5px,#faf9fe 107.5px,#f9f9ff 124.5px,#d1d1ff 133.5px,#8080ff 144px)"></i><i style="background:linear-gradient(#0707ff 0px,#1f1fff 48.5px,#2828ff 52.5px,#3737ff 53.5px,#5757ff 54.5px,#3131ff 62.5px,#2b2bff 71.5px,#4b4bff 80.5px,#c6c6ff 99.5px,#e4e4ff 109.5px,#e5e5ff 122.5px,#c8c8ff 131.5px,#7474ff 144px)"></i><i style="background:linear-gradient(#0606ff 0px,#1a1aff 48.5px,#1f1fff 51.5px,#4c4cff 52.5px,#5454ff 53.5px,#2b2bff 62.5px,#2727ff 72.5px,#4a4aff 82.5px,#afafff 100.5px,#ccccff 112.5px,#c5c5ff 125.5px,#9b9bff 135.5px,#6666ff 144px)"></i><i style="background:linear-gradient(#0505ff 0px,#1616ff 49.5px,#2929ff 50.5px,#5858ff 51.5px,#2c2cff 60.5px,#1f1fff 70.5px,#3535ff 80.5px,#9a9aff 102.5px,#b1b1ff 116.5px,#a1a1ff 128.5px,#6a6aff 140.5px,#5858ff 144px)"></i><i style="background:linear-gradient(#0505ff 0px,#0f0fff 48.5px,#2323ff 49.5px,#5858ff 50.5px,#2b2bff 59.5px,#1b1bff 70.5px,#3131ff 82.5px,#8181ff 104.5px,#9191ff 118.5px,#7d7dff 131.5px,#4949ff 144px)"></i><i style="background:linear-gradient(#0404ff 0px,#0a0aff 47.5px,#1f1fff 48.5px,#5858ff 49.5px,#2b2bff 58.5px,#1717ff 70.5px,#2828ff 83.5px,#6868ff 107.5px,#7070ff 120.5px,#5959ff 134.5px,#3939ff 144px)"></i><i style="background:linear-gradient(#0404ff 0px,#0707ff 47.5px,#4545ff 48.5px,#5353ff 49.5px,#2828ff 58.5px,#1414ff 71.5px,#2323ff 87.5px,#5151ff 114.5px,#4444ff 132.5px,#2929ff 144px)"></i><i style="background:linear-gradient(#0404ff 0px,#0606ff 46.5px,#1c1cff 47.5px,#5858ff 48.5px,#2a2aff 57.5px,#1111ff 71.5px,#1a1aff 91.5px,#3232ff 119.5px,#1c1cff 142.5px,#1a1aff 144px)"></i><i style="background:linear-gradient(#0404ff 0px,#0707ff 47.5px,#5555ff 49.5px,#2929ff 58.5px,#0e0eff 74.5px,#1515ff 111.5px,#0c0cff 144px)"></i><i style="background:linear-gradient(#0404ff 0px,#0b0bff 48.5px,#4646ff 49.5px,#5353ff 50.5px,#2525ff 60.5px,#0b0bff 77.5px,#0505ff 144px)"></i><i style="background:linear-gradient(#0505ff 0px,#1010ff 49.5px,#4646ff 50.5px,#5252ff 51.5px,#2424ff 61.5px,#0d0dff 77.5px,#1717ff 128.5px,#0e0eff 144px)"></i><i style="background:linear-gradient(#0505ff 0px,#1414ff 49.5px,#1616ff 50.5px,#4848ff 51.5px,#5252ff 52.5px,#2525ff 62.5px,#1212ff 76.5px,#3434ff 120.5px,#1b1bff 144px)"></i><i style="background:linear-gradient(#0606ff 0px,#1919ff 49.5px,#1d1dff 51.5px,#4b4bff 52.5px,#5353ff 53.5px,#2929ff 62.5px,#1717ff 75.5px,#3131ff 93.5px,#5252ff 115.5px,#4242ff 133.5px,#2929ff 144px)"></i><i style="background:linear-gradient(#0606ff 0px,#1c1cff 48.5px,#2424ff 52.5px,#5656ff 54.5px,#2b2bff 63.5px,#1d1dff 74.5px,#3636ff 88.5px,#6868ff 108.5px,#6e6eff 122.5px,#5151ff 136.5px,#3838ff 144px)"></i><i style="background:linear-gradient(#0707ff 0px,#2121ff 48.5px,#2c2cff 53.5px,#4f4fff 55.5px,#4c4cff 57.5px,#2929ff 66.5px,#2525ff 76.5px,#5050ff 90.5px,#8383ff 106.5px,#8d8dff 119.5px,#7a7aff 131.5px,#4747ff 144px)"></i><i style="background:linear-gradient(#0707ff 0px,#2323ff 46.5px,#3838ff 55.5px,#5656ff 57.5px,#3131ff 65.5px,#2b2bff 74.5px,#4c4cff 85.5px,#9696ff 102.5px,#acacff 116.5px,#9d9dff 128.5px,#6161ff 141.5px,#5555ff 144px)"></i><i style="background:linear-gradient(#0808ff 0px,#2424ff 43.5px,#3b3bff 55.5px,#4545ff 57.5px,#5656ff 58.5px,#3232ff 68.5px,#3939ff 77.5px,#7272ff 89.5px,#b2b2ff 102.5px,#c8c8ff 115.5px,#babaff 127.5px,#8484ff 138.5px,#6363ff 144px)"></i><i style="background:linear-gradient(#0808ff 0px,#2525ff 40.5px,#4343ff 56.5px,#5a5aff 60.5px,#3b3bff 68.5px,#4040ff 76.5px,#7272ff 86.5px,#c5c5ff 100.5px,#e0e0ff 111.5px,#dbdbff 124.5px,#b7b7ff 133.5px,#7070ff 144px)"></i><i style="background:linear-gradient(#0909ff 0px,#2424ff 37.5px,#4747ff 56.5px,#6161ff 61.5px,#4242ff 69.5px,#4a4aff 76.5px,#7a7aff 85.5px,#d9d9ff 99.5px,#f7f7ff 109.5px,#f5f5ff 123.5px,#d1d1ff 132.5px,#7c7cff 144px)"></i><i style="background:linear-gradient(#0909ff 0px,#2424ff 35.5px,#4f4fff 57.5px,#6e6eff 63.5px,#5656ff 66.5px,#4d4dff 73.5px,#6d6dff 81.5px,#efefff 99.5px,#fdfafb 103.5px,#ffecec 116.5px,#faf9ff 128.5px,#bdbdff 137.5px,#8787ff 144px)"></i><i style="background:linear-gradient(#0909ff 0px,#2525ff 34.5px,#5757ff 58.5px,#7b7bff 65.5px,#6060ff 67.5px,#5757ff 73.5px,#7272ff 80.5px,#f7f7ff 97.5px,#fff6f6 100.5px,#ffdcdc 109.5px,#ffdfdf 122.5px,#fafaff 131.5px,#9a9aff 142.5px,#9090ff 144px)"></i><i style="background:linear-gradient(#0a0aff 0px,#2525ff 33.5px,#5b5bff 58.5px,#8080ff 65.5px,#8a8aff 66.5px,#8a8aff 67.5px,#6868ff 69.5px,#6767ff 75.5px,#8a8aff 82.5px,#fdfcfd 96.5px,#ffd3d3 105.5px,#ffcccc 118.5px,#ffe1e1 127.5px,#fefcfe 132.5px,#acacff 141.5px,#9797ff 144px)"></i><i style="background:linear-gradient(#0a0aff 0px,#2424ff 32.5px,#5c5cff 57.5px,#7f7fff 65.5px,#9b9bff 68.5px,#9999ff 69.5px,#7272ff 71.5px,#7878ff 77.5px,#acacff 85.5px,#fbfbff 94.5px,#ffe6e6 98.5px,#ffc6c6 106.5px,#ffc3c3 120.5px,#ffdddd 128.5px,#fefdfe 133.5px,#9c9cff 144px)"></i><i style="background:linear-gradient(#0a0aff 0px,#2525ff 32.5px,#5f5fff 57.5px,#8787ff 66.5px,#aeaeff 70.5px,#ababff 71.5px,#7e7eff 73.5px,#8b8bff 79.5px,#ceceff 88.5px,#fafaff 93.5px,#fff4f4 95.5px,#ffc8c8 103.5px,#ffbbbb 113.5px,#ffc7c7 124.5px,#fff2f2 132.5px,#fbfbff 134.5px,#9f9fff 144px)"></i><i style="background:linear-gradient(#0a0aff 0px,#2323ff 31.5px,#5b5bff 55.5px,#8e8eff 67.5px,#b4b4ff 71.5px,#c3c3ff 72.5px,#b6b6ff 74.5px,#8c8cff 75.5px,#9e9eff 81.5px,#fdfdff 93.5px,#ffc7c7 103.5px,#ffbbbb 113.5px,#ffc8c8 124.5px,#fff3f3 132.5px,#fafaff 134.5px,#9e9eff 144px)"></i><i style="background:linear-gradient(#0a0aff 0px,#2323ff 31.5px,#5959ff 54.5px,#8f8fff 67.5px,#bbbbff 72.5px,#eeeeff 75.5px,#c9c8fd 76.5px,#9a9aff 77.5px,#afafff 83.5px,#fffcfc 94.5px,#ffcdcd 103.5px,#ffc2c2 114.5px,#ffd2d2 125.5px,#fdfcfe 133.5px,#9b9bff 144px)"></i><i style="background:linear-gradient(#0a0aff 0px,#2323ff 31.5px,#5656ff 53.5px,#8f8fff 67.5px,#b7b7ff 72.5px,#f5f5ff 76.5px,#fff3f3 77.5px,#d1c1ef 78.5px,#a6a6ff 79.5px,#c3c3ff 86.5px,#fefcfd 95.5px,#ffd4d4 105.5px,#ffd2d2 119.5px,#ffebeb 128.5px,#fefbfc 131.5px,#e2e2ff 135.5px,#9494ff 144px)"></i><i style="background:linear-gradient(#0a0aff 0px,#2323ff 32.5px,#5656ff 53.5px,#9595ff 68.5px,#bfbfff 73.5px,#fcfafd 77.5px,#ffd3d3 79.5px,#d6b6df 80.5px,#afafff 81.5px,#cfcfff 89.5px,#fbfafe 97.5px,#ffe3e3 109.5px,#ffecec 123.5px,#fbfafe 129.5px,#c2c2ff 137.5px,#8b8bff 144px)"></i><i style="background:linear-gradient(#0a0aff 0px,#2323ff 32.5px,#5454ff 53.5px,#9494ff 68.5px,#c7c7ff 74.5px,#f4f4ff 77.5px,#fff7f7 78.5px,#ffb3b3 81.5px,#d9a9cf 82.5px,#b4b4ff 83.5px,#d6d6ff 93.5px,#f9f8fe 103.5px,#f9f8fe 123.5px,#dadaff 131.5px,#7e7eff 144px)"></i><i style="background:linear-gradient(#0a0aff 0px,#2121ff 32.5px,#5252ff 53.5px,#9393ff 68.5px,#c2c2ff 74.5px,#fbfafe 78.5px,#ffdada 80.5px,#ff9696 83.5px,#d99cc1 84.5px,#b3b3ff 85.5px,#e3e3ff 107.5px,#dedeff 122.5px,#bbbbff 132.5px,#6f6fff 144px)"></i><i style="background:linear-gradient(#0909ff 0px,#2222ff 33.5px,#5050ff 53.5px,#9090ff 68.5px,#c8c8ff 75.5px,#fef9fa 79.5px,#ff9494 84.5px,#eb8da1 85.5px,#c19fdc 86.5px,#ababff 87.5px,#c5c5ff 114.5px,#b2b2ff 127.5px,#7e7eff 138.5px,#5f5fff 144px)"></i><i style="background:linear-gradient(#0909ff 0px,#2020ff 33.5px,#4d4dff 53.5px,#8d8dff 68.5px,#c2c2ff 75.5px,#f7f7ff 79.5px,#fff6f6 80.5px,#ff8282 86.5px,#e88198 87.5px,#b995db 88.5px,#9e9eff 89.5px,#9e9eff 120.5px,#8282ff 132.5px,#4d4dff 144px)"></i><i style="background:linear-gradient(#0909ff 0px,#2020ff 34.5px,#4e4eff 54.5px,#9090ff 69.5px,#c6c6ff 76.5px,#f9f9fe 80.5px,#fff3f3 81.5px,#ff8c8c 87.5px,#ff8080 88.5px,#9191ff 90.5px,#8181ff 102.5px,#7676ff 124.5px,#4c4cff 139.5px,#3c3cff 144px)"></i><i style="background:linear-gradient(#0909ff 0px,#1f1fff 34.5px,#4b4bff 54.5px,#8686ff 68.5px,#c9c9ff 77.5px,#fbfafe 81.5px,#ffe2e2 83.5px,#ffa4a4 87.5px,#ff9393 89.5px,#e18dab 90.5px,#a286e3 91.5px,#7e7eff 92.5px,#6666ff 103.5px,#4e4eff 130.5px,#2c2cff 144px)"></i><i style="background:linear-gradient(#0909ff 0px,#1f1fff 35.5px,#4b4bff 55.5px,#8888ff 69.5px,#ccccff 78.5px,#fbfafe 82.5px,#ffe4e4 84.5px,#ffbbbb 87.5px,#ffa2a2 91.5px,#7171ff 93.5px,#5050ff 103.5px,#2828ff 138.5px,#1e1eff 144px)"></i><i style="background:linear-gradient(#0808ff 0px,#1e1eff 35.5px,#4848ff 55.5px,#8585ff 69.5px,#cfcfff 79.5px,#fbfafe 83.5px,#ffe7e7 85.5px,#ffc9c9 88.5px,#ffb8b8 92.5px,#daa1c6 93.5px,#6666ff 94.5px,#3e3eff 104.5px,#1313ff 144px)"></i><i style="background:linear-gradient(#0808ff 0px,#1e1eff 36.5px,#4949ff 56.5px,#8181ff 69.5px,#d2d2ff 80.5px,#fbfafe 84.5px,#ffd9d9 89.5px,#ffcaca 93.5px,#d8acd3 94.5px,#5e5eff 95.5px,#3434ff 104.5px,#1818ff 124.5px,#0c0cff 144px)"></i><i style="background:linear-gradient(#0808ff 0px,#1d1dff 36.5px,#4747ff 56.5px,#7f7fff 69.5px,#dfdfff 82.5px,#fbfbff 85.5px,#ffe6e6 91.5px,#ffd8d8 94.5px,#d7b3dc 95.5px,#5959ff 96.5px,#2d2dff 105.5px,#1111ff 122.5px,#0707ff 144px)"></i><i style="background:linear-gradient(#0808ff 0px,#1e1eff 37.5px,#4848ff 57.5px,#8282ff 70.5px,#fbfbff 86.5px,#ffe9e9 94.5px,#ffe0e0 95.5px,#d6b7e0 96.5px,#5656ff 97.5px,#2a2aff 106.5px,#0d0dff 122.5px,#0505ff 144px)"></i><i style="background:linear-gradient(#0808ff 0px,#1d1dff 37.5px,#4747ff 57.5px,#8181ff 70.5px,#fafaff 87.5px,#fffafa 93.5px,#ffe2e2 96.5px,#837af6 97.5px,#5454ff 98.5px,#2525ff 108.5px,#0b0bff 126.5px,#0505ff 144px)"></i><i style="background:linear-gradient(#0808ff 0px,#1d1dff 37.5px,#4747ff 57.5px,#8181ff 70.5px,#f9f9ff 87.5px,#fffafa 94.5px,#ffe9e9 96.5px,#ae9dee 97.5px,#5757ff 98.5px,#2c2cff 107.5px,#0f0fff 124.5px,#0707ff 144px)"></i><i style="background:linear-gradient(#0808ff 0px,#1e1eff 37.5px,#4949ff 57.5px,#8484ff 70.5px,#fcfcff 86.5px,#fff0f0 94.5px,#ffdcdc 96.5px,#5f5fff 97.5px,#3333ff 106.5px,#1515ff 126.5px,#0a0aff 144px)"></i><i style="background:linear-gradient(#0808ff 0px,#1e1eff 36.5px,#4848ff 56.5px,#8181ff 69.5px,#e4e4ff 82.5px,#fefcfd 85.5px,#ffebeb 90.5px,#ffe1e1 94.5px,#ffd7d7 95.5px,#8e83f4 96.5px,#6262ff 97.5px,#3b3bff 107.5px,#1111ff 144px)"></i><i style="background:linear-gradient(#0909ff 0px,#1f1fff 36.5px,#4b4bff 56.5px,#8585ff 69.5px,#dadaff 80.5px,#f9f9ff 83.5px,#fff9fa 84.5px,#ffdcdc 88.5px,#ffd2d2 93.5px,#ffcbcb 94.5px,#988af2 95.5px,#6f6fff 96.5px,#4c4cff 106.5px,#1b1bff 144px)"></i><i style="background:linear-gradient(#0909ff 0px,#1f1fff 35.5px,#4b4bff 55.5px,#8484ff 68.5px,#d0d0ff 78.5px,#fbfafe 82.5px,#ffe9e9 84.5px,#ffcbcb 87.5px,#ffb9b9 93.5px,#a492ee 94.5px,#8080ff 95.5px,#6262ff 106.5px,#3e3eff 134.5px,#2828ff 144px)"></i><i style="background:linear-gradient(#0909ff 0px,#1f1fff 34.5px,#4b4bff 54.5px,#8989ff 68.5px,#ceceff 77.5px,#fcfbfd 81.5px,#ffbaba 86.5px,#ffa6a6 91.5px,#e6a3bb 92.5px,#b19ae8 93.5px,#9292ff 94.5px,#7c7cff 107.5px,#6464ff 129.5px,#3737ff 144px)"></i><i style="background:linear-gradient(#0909ff 0px,#2121ff 34.5px,#4f4fff 54.5px,#8e8eff 68.5px,#cdcdff 76.5px,#fdfbfd 80.5px,#ffa0a0 86.5px,#ff8b8b 90.5px,#d79fc7 91.5px,#a8a8ff 92.5px,#9a9aff 109.5px,#8787ff 127.5px,#4c4cff 142.5px,#4848ff 144px)"></i><i style="background:linear-gradient(#0a0aff 0px,#2121ff 33.5px,#4f4fff 53.5px,#8c8cff 67.5px,#cacaff 75.5px,#fdfbfd 79.5px,#ff8686 86.5px,#ff7676 88.5px,#ef8696 89.5px,#cca9dc 90.5px,#b9b9ff 91.5px,#b6b6ff 120.5px,#9a9aff 131.5px,#5959ff 144px)"></i><i style="background:linear-gradient(#0a0aff 0px,#2323ff 33.5px,#5252ff 53.5px,#9191ff 67.5px,#c7c7ff 74.5px,#fcfbfd 78.5px,#ffc8c8 81.5px,#ff6b6b 86.5px,#ff6060 87.5px,#d6aed7 88.5px,#c7c7ff 89.5px,#ddddff 111.5px,#ceceff 125.5px,#a1a1ff 135.5px,#6a6aff 144px)"></i><i style="background:linear-gradient(#0a0aff 0px,#2323ff 32.5px,#5252ff 52.5px,#9595ff 67.5px,#c3c3ff 73.5px,#f9f9fe 77.5px,#fff2f2 78.5px,#ff5f5f 85.5px,#ceceff 87.5px,#f9f8fe 106.5px,#f3f3ff 122.5px,#d2d2ff 131.5px,#7979ff 144px)"></i><i style="background:linear-gradient(#0b0bff 0px,#2424ff 32.5px,#5555ff 52.5px,#9797ff 67.5px,#c9c9ff 73.5px,#f4f4ff 76.5px,#fff8f8 77.5px,#ff7373 83.5px,#e597b0 84.5px,#ceceff 85.5px,#fdfafc 98.5px,#ffe9e9 110.5px,#fff6f6 124.5px,#f4f4ff 129.5px,#ababff 139.5px,#8686ff 144px)"></i><i style="background:linear-gradient(#0b0bff 0px,#2424ff 31.5px,#5757ff 52.5px,#9999ff 67.5px,#cfcfff 73.5px,#fcfafd 76.5px,#ffd7d7 78.5px,#ff8f8f 81.5px,#e19fbd 82.5px,#c7c7ff 83.5px,#fffcfc 95.5px,#ffd8d8 105.5px,#ffd9d9 120.5px,#fff7f7 129.5px,#fafaff 131.5px,#a4a4ff 141.5px,#9191ff 144px)"></i><i style="background:linear-gradient(#0b0bff 0px,#2525ff 31.5px,#5858ff 52.5px,#9a9aff 67.5px,#c7c7ff 72.5px,#f4f4ff 75.5px,#fff6f6 76.5px,#ffb0b0 79.5px,#daa8cc 80.5px,#babaff 81.5px,#e3e3ff 89.5px,#fdfdff 93.5px,#ffcfcf 103.5px,#ffc7c7 115.5px,#ffd7d7 125.5px,#fefcfd 132.5px,#c1c1ff 139.5px,#9898ff 144px)"></i><i style="background:linear-gradient(#0b0bff 0px,#2626ff 31.5px,#5959ff 52.5px,#9494ff 66.5px,#bebeff 71.5px,#fbfafd 75.5px,#ffebeb 76.5px,#e8cae1 77.5px,#bdaff0 78.5px,#aaaaff 79.5px,#ccccff 86.5px,#fffdfe 93.5px,#ffcccc 102.5px,#ffbfbf 112.5px,#ffcccc 124.5px,#fff7f7 132.5px,#fefdfe 133.5px,#9c9cff 144px)"></i><i style="background:linear-gradient(#0b0bff 0px,#2626ff 31.5px,#5c5cff 53.5px,#9393ff 66.5px,#c1c1ff 71.5px,#f3f3ff 74.5px,#e4dffa 75.5px,#b1aaf9 76.5px,#9999ff 77.5px,#b7b7ff 84.5px,#fdfcff 93.5px,#ffc9c9 103.5px,#ffbebe 114.5px,#ffcece 125.5px,#fffdfd 133.5px,#b2b2ff 141.5px,#9d9dff 144px)"></i><i style="background:linear-gradient(#0b0bff 0px,#2626ff 31.5px,#5e5eff 54.5px,#9292ff 66.5px,#b8b8ff 70.5px,#d7d7ff 72.5px,#b6b6ff 73.5px,#8787ff 75.5px,#9999ff 81.5px,#fdfcfe 94.5px,#ffcfcf 103.5px,#ffc2c2 114.5px,#ffd2d2 125.5px,#fdfcff 133.5px,#9b9bff 144px)"></i><i style="background:linear-gradient(#0b0bff 0px,#2626ff 31.5px,#5e5eff 55.5px,#8989ff 65.5px,#b0b0ff 69.5px,#bebeff 70.5px,#a2a2ff 71.5px,#7979ff 72.5px,#7e7eff 78.5px,#b1b1ff 86.5px,#f9f9ff 95.5px,#fff1f1 98.5px,#ffd0d0 107.5px,#ffd1d1 121.5px,#ffeded 129.5px,#fdfcfe 132.5px,#a0a0ff 142.5px,#9696ff 144px)"></i><i style="background:linear-gradient(#0b0bff 0px,#2727ff 32.5px,#6161ff 57.5px,#8888ff 65.5px,#9c9cff 67.5px,#9090ff 69.5px,#6c6cff 70.5px,#6b6bff 76.5px,#9494ff 84.5px,#f7f7ff 97.5px,#fff6f6 100.5px,#ffdddd 109.5px,#ffe1e1 122.5px,#fdfbfd 130.5px,#c9c9ff 137.5px,#8f8fff 144px)"></i><i style="background:linear-gradient(#0a0aff 0px,#2727ff 33.5px,#5c5cff 57.5px,#8080ff 64.5px,#8a8aff 65.5px,#8888ff 66.5px,#6363ff 68.5px,#5a5aff 74.5px,#7373ff 81.5px,#f0f0ff 99.5px,#fdfafc 103.5px,#ffeded 116.5px,#f9f9ff 128.5px,#bcbcff 137.5px,#8686ff 144px)"></i><i style="background:linear-gradient(#0a0aff 0px,#2626ff 34.5px,#5757ff 57.5px,#7979ff 64.5px,#5b5bff 66.5px,#4d4dff 73.5px,#6565ff 81.5px,#dedeff 100.5px,#f8f8ff 110.5px,#f4f4ff 123.5px,#d1d1ff 132.5px,#7c7cff 144px)"></i><i style="background:linear-gradient(#0a0aff 0px,#2525ff 35.5px,#4e4eff 56.5px,#6b6bff 62.5px,#5252ff 65.5px,#4141ff 72.5px,#5353ff 80.5px,#cacaff 101.5px,#e2e2ff 113.5px,#d9d9ff 125.5px,#b1b1ff 134.5px,#7070ff 144px)"></i><i style="background:linear-gradient(#0909ff 0px,#2626ff 38.5px,#4949ff 56.5px,#5e5eff 60.5px,#3a3aff 69.5px,#3e3eff 77.5px,#6e6eff 88.5px,#b3b3ff 102.5px,#c9c9ff 115.5px,#babaff 127.5px,#8585ff 138.5px,#6363ff 144px)"></i><i style="background:linear-gradient(#0909ff 0px,#2626ff 41.5px,#4040ff 55.5px,#5757ff 59.5px,#3333ff 68.5px,#3333ff 77.5px,#6666ff 90.5px,#9d9dff 104.5px,#acacff 118.5px,#9797ff 130.5px,#5656ff 144px)"></i><i style="background:linear-gradient(#0808ff 0px,#2424ff 44.5px,#3c3cff 55.5px,#5454ff 57.5px,#2b2bff 68.5px,#2c2cff 78.5px,#8585ff 106.5px,#8f8fff 119.5px,#7b7bff 131.5px,#4848ff 144px)"></i><i style="background:linear-gradient(#0707ff 0px,#2222ff 47.5px,#3333ff 54.5px,#5555ff 56.5px,#2b2bff 65.5px,#2121ff 76.5px,#4242ff 91.5px,#6d6dff 110.5px,#6d6dff 125.5px,#4545ff 140.5px,#3939ff 144px)"></i><i style="background:linear-gradient(#0707ff 0px,#1e1eff 48.5px,#2626ff 52.5px,#4c4cff 54.5px,#5151ff 55.5px,#2828ff 64.5px,#1a1aff 76.5px,#3737ff 95.5px,#5555ff 116.5px,#4545ff 133.5px,#2b2bff 144px)"></i><i style="background:linear-gradient(#0606ff 0px,#1a1aff 49.5px,#1e1eff 51.5px,#5555ff 53.5px,#2929ff 62.5px,#1414ff 76.5px,#2b2bff 101.5px,#3737ff 121.5px,#1d1dff 144px)"></i><i style="background:linear-gradient(#0505ff 0px,#1717ff 50.5px,#4949ff 51.5px,#5353ff 52.5px,#2525ff 62.5px,#0e0eff 78.5px,#1b1bff 126.5px,#1010ff 144px)"></i><i style="background:linear-gradient(#0505ff 0px,#1010ff 49.5px,#4747ff 50.5px,#5353ff 51.5px,#2525ff 61.5px,#0b0bff 78.5px,#0505ff 144px)"></i><i style="background:linear-gradient(#0404ff 0px,#0a0aff 48.5px,#4646ff 49.5px,#5454ff 50.5px,#2525ff 60.5px,#0c0cff 77.5px,#0e0eff 136.5px,#0a0aff 144px)"></i><i style="background:linear-gradient(#0404ff 0px,#0707ff 47.5px,#5555ff 49.5px,#2929ff 58.5px,#1111ff 72.5px,#1a1aff 94.5px,#2d2dff 120.5px,#1818ff 144px)"></i><i style="background:linear-gradient(#0404ff 0px,#0505ff 47.5px,#5a5aff 48.5px,#2b2bff 57.5px,#1414ff 70.5px,#1f1fff 86.5px,#4c4cff 114.5px,#4040ff 132.5px,#2727ff 144px)"></i><i style="background:linear-gradient(#0404ff 0px,#0606ff 47.5px,#1c1cff 48.5px,#5656ff 49.5px,#2a2aff 58.5px,#1717ff 70.5px,#2828ff 84.5px,#6565ff 108.5px,#6b6bff 121.5px,#5252ff 135.5px,#3737ff 144px)"></i><i style="background:linear-gradient(#0404ff 0px,#0909ff 48.5px,#4747ff 49.5px,#5454ff 50.5px,#2929ff 59.5px,#1a1aff 70.5px,#2f2fff 82.5px,#7d7dff 104.5px,#8d8dff 118.5px,#7979ff 131.5px,#4646ff 144px)"></i><i style="background:linear-gradient(#0404ff 0px,#0e0eff 49.5px,#4848ff 50.5px,#5454ff 51.5px,#2a2aff 60.5px,#1f1fff 71.5px,#3b3bff 82.5px,#9696ff 102.5px,#acacff 116.5px,#9e9eff 128.5px,#6767ff 140.5px,#5656ff 144px)"></i><i style="background:linear-gradient(#0505ff 0px,#1414ff 50.5px,#5555ff 52.5px,#2b2bff 61.5px,#2424ff 71.5px,#4343ff 81.5px,#b0b0ff 101.5px,#cacaff 114.5px,#bfbfff 126.5px,#9393ff 136.5px,#6565ff 144px)"></i><i style="background:linear-gradient(#0505ff 0px,#1717ff 49.5px,#1b1bff 51.5px,#2d2dff 52.5px,#5858ff 53.5px,#3131ff 61.5px,#2828ff 70.5px,#4444ff 79.5px,#c7c7ff 100.5px,#e4e4ff 111.5px,#e1e1ff 123.5px,#c0c0ff 132.5px,#7272ff 144px)"></i><i style="background:linear-gradient(#0606ff 0px,#1c1cff 49.5px,#2525ff 53.5px,#4d4dff 54.5px,#5454ff 55.5px,#3131ff 63.5px,#2f2fff 71.5px,#4d4dff 79.5px,#dbdbff 99.5px,#f9f9ff 108.5px,#f7f7ff 124.5px,#cfcfff 133.5px,#7f7fff 144px)"></i><i style="background:linear-gradient(#0606ff 0px,#1f1fff 48.5px,#2c2cff 54.5px,#4f4fff 56.5px,#4c4cff 58.5px,#3232ff 66.5px,#3d3dff 74.5px,#7474ff 83.5px,#ececff 98.5px,#fdfafc 102.5px,#ffe8e8 114.5px,#fff4f4 125.5px,#f9f9ff 129.5px,#b8b8ff 138.5px,#8a8aff 144px)"></i><i style="background:linear-gradient(#0606ff 0px,#2121ff 46.5px,#3838ff 56.5px,#5858ff 58.5px,#3b3bff 65.5px,#3e3eff 72.5px,#6767ff 80.5px,#f8f8ff 97.5px,#fff4f4 100.5px,#ffd8d8 109.5px,#ffdada 122.5px,#fdfbfe 131.5px,#bbbbff 139.5px,#9393ff 144px)"></i><i style="background:linear-gradient(#0707ff 0px,#2121ff 43.5px,#3a3aff 56.5px,#4343ff 58.5px,#5959ff 60.5px,#4040ff 67.5px,#4b4bff 74.5px,#7f7fff 82.5px,#f8f8ff 95.5px,#fff7f7 97.5px,#ffcfcf 105.5px,#ffc6c6 118.5px,#ffdcdc 127.5px,#fcfbff 133.5px,#9a9aff 144px)"></i><i style="background:linear-gradient(#0707ff 0px,#2121ff 40.5px,#3f3fff 57.5px,#5c5cff 62.5px,#4848ff 69.5px,#5b5bff 76.5px,#9999ff 84.5px,#fbfbff 94.5px,#fff3f3 96.5px,#ffc7c7 104.5px,#ffbaba 115.5px,#ffc9c9 125.5px,#fcfcff 134.5px,#9f9fff 144px)"></i><i style="background:linear-gradient(#0707ff 0px,#2121ff 38.5px,#4545ff 58.5px,#6262ff 63.5px,#5151ff 70.5px,#6767ff 77.5px,#b3b3ff 86.5px,#f8f8ff 93.5px,#fffcfc 94.5px,#ffc7c7 102.5px,#ffb4b4 111.5px,#ffbdbd 123.5px,#ffe4e4 131.5px,#fffdfd 134.5px,#b9b9ff 141.5px,#a2a2ff 144px)"></i><i style="background:linear-gradient(#0707ff 0px,#2020ff 36.5px,#4a4aff 59.5px,#6a6aff 65.5px,#5b5bff 71.5px,#6d6dff 77.5px,#adadff 85.5px,#fbfbff 93.5px,#fff2f2 95.5px,#ffc2c2 103.5px,#ffb3b3 113.5px,#ffbfbf 124.5px,#ffecec 132.5px,#fffcfc 134.5px,#cfcfff 139.5px,#a3a3ff 144px)"></i><i style="background:linear-gradient(#0707ff 0px,#1f1fff 35.5px,#4f4fff 60.5px,#7676ff 67.5px,#6666ff 71.5px,#7373ff 77.5px,#adadff 85.5px,#fffcfd 94.5px,#ffcaca 102.5px,#ffb8b8 111.5px,#ffc1c1 123.5px,#ffe8e8 131.5px,#fdfcfe 134.5px,#a0a0ff 144px)"></i><i style="background:linear-gradient(#0707ff 0px,#1e1eff 34.5px,#5353ff 61.5px,#7272ff 67.5px,#7f7fff 69.5px,#7171ff 72.5px,#7c7cff 78.5px,#b4b4ff 86.5px,#f9f9ff 94.5px,#fff6f6 96.5px,#ffcdcd 104.5px,#ffc3c3 116.5px,#ffd6d6 126.5px,#fdfcfe 133.5px,#9b9bff 144px)"></i><i style="background:linear-gradient(#0606ff 0px,#1d1dff 34.5px,#5454ff 61.5px,#7373ff 68.5px,#8f8fff 71.5px,#7c7cff 73.5px,#8383ff 79.5px,#bebeff 88.5px,#fafaff 96.5px,#ffd8d8 107.5px,#ffd8d8 121.5px,#fff4f4 129.5px,#f7f7ff 132.5px,#9393ff 144px)"></i><i style="background:linear-gradient(#0606ff 0px,#1d1dff 34.5px,#5454ff 61.5px,#7b7bff 70.5px,#9898ff 73.5px,#8484ff 75.5px,#8c8cff 81.5px,#f7f7ff 99.5px,#ffecec 109.5px,#fff3f3 123.5px,#f6f6ff 129.5px,#acacff 139.5px,#8787ff 144px)"></i><i style="background:linear-gradient(#0606ff 0px,#1c1cff 34.5px,#5151ff 60.5px,#7c7cff 71.5px,#a1a1ff 75.5px,#a4a4ff 76.5px,#8888ff 78.5px,#9797ff 85.5px,#e8e8ff 102.5px,#f8f7ff 114.5px,#e8e8ff 126.5px,#b9b9ff 135.5px,#7979ff 144px)"></i><i style="background:linear-gradient(#0606ff 0px,#1a1aff 34.5px,#4e4eff 59.5px,#7d7dff 72.5px,#aaaaff 77.5px,#acacff 78.5px,#8b8bff 80.5px,#9797ff 88.5px,#ceceff 104.5px,#d5d5ff 119.5px,#bfbfff 129.5px,#7878ff 141.5px,#6969ff 144px)"></i><i style="background:linear-gradient(#0606ff 0px,#1919ff 34.5px,#4a4aff 58.5px,#7f7fff 73.5px,#a7a7ff 78.5px,#b4b4ff 79.5px,#b3b3ff 80.5px,#8989ff 82.5px,#8e8eff 91.5px,#b2b2ff 109.5px,#acacff 124.5px,#8686ff 135.5px,#5858ff 144px)"></i><i style="background:linear-gradient(#0505ff 0px,#1919ff 35.5px,#4b4bff 59.5px,#8888ff 75.5px,#b1b1ff 80.5px,#bebeff 81.5px,#babaff 82.5px,#8282ff 84.5px,#7e7eff 94.5px,#9090ff 117.5px,#7979ff 131.5px,#4646ff 144px)"></i><i style="background:linear-gradient(#0505ff 0px,#1818ff 35.5px,#4747ff 58.5px,#8585ff 75.5px,#b1b1ff 81.5px,#cacaff 83.5px,#c2c2ff 84.5px,#9696ff 85.5px,#7979ff 86.5px,#6969ff 96.5px,#6a6aff 121.5px,#4d4dff 136.5px,#3535ff 144px)"></i><i style="background:linear-gradient(#0505ff 0px,#1818ff 36.5px,#4545ff 58.5px,#8989ff 76.5px,#b2b2ff 82.5px,#d7d7ff 85.5px,#cacaff 86.5px,#9292ff 87.5px,#6d6dff 88.5px,#5353ff 98.5px,#4343ff 129.5px,#2525ff 144px)"></i><i style="background:linear-gradient(#0505ff 0px,#1818ff 36.5px,#4444ff 58.5px,#8989ff 76.5px,#bfbfff 84.5px,#e7e7ff 87.5px,#d3d3ff 88.5px,#6767ff 89.5px,#4444ff 98.5px,#1818ff 144px)"></i><i style="background:linear-gradient(#0505ff 0px,#1818ff 37.5px,#4545ff 59.5px,#8989ff 76.5px,#c4c4ff 85.5px,#f7f6ff 89.5px,#8989ff 90.5px,#5c5cff 91.5px,#3333ff 101.5px,#1a1aff 127.5px,#0e0eff 144px)"></i><i style="background:linear-gradient(#0606ff 0px,#1818ff 37.5px,#4242ff 58.5px,#8686ff 75.5px,#cbcbff 86.5px,#f7f7ff 90.5px,#d7d2fa 91.5px,#5a5aff 92.5px,#2e2eff 101.5px,#1414ff 118.5px,#0808ff 144px)"></i><i style="background:linear-gradient(#0606ff 0px,#1818ff 37.5px,#4242ff 58.5px,#8282ff 74.5px,#d3d3ff 87.5px,#faf9ff 91.5px,#d6d0f9 92.5px,#827dfa 93.5px,#5252ff 94.5px,#2525ff 104.5px,#0c0cff 122.5px,#0505ff 144px)"></i><i style="background:linear-gradient(#0606ff 0px,#1818ff 37.5px,#4242ff 58.5px,#7f7fff 73.5px,#ebebff 90.5px,#fefcfd 92.5px,#ffefef 93.5px,#827bf8 94.5px,#5252ff 95.5px,#2525ff 105.5px,#0a0aff 123.5px,#0404ff 144px)"></i><i style="background:linear-gradient(#0606ff 0px,#1919ff 37.5px,#4343ff 58.5px,#8282ff 73.5px,#fdfdfe 92.5px,#ffe6e6 94.5px,#5a5aff 95.5px,#2c2cff 104.5px,#0f0fff 120.5px,#0505ff 144px)"></i><i style="background:linear-gradient(#0707ff 0px,#1a1aff 37.5px,#4545ff 58.5px,#8080ff 72.5px,#fcfbff 91.5px,#fff3f3 93.5px,#ffe8e8 94.5px,#d7bbe4 95.5px,#5b5bff 96.5px,#3030ff 105.5px,#1313ff 123.5px,#0909ff 144px)"></i><i style="background:linear-gradient(#0707ff 0px,#1b1bff 37.5px,#4444ff 57.5px,#7f7fff 71.5px,#e2e2ff 85.5px,#f9f9ff 88.5px,#fff0f0 92.5px,#ffd5d5 95.5px,#6464ff 96.5px,#3b3bff 105.5px,#1c1cff 127.5px,#0f0fff 144px)"></i><i style="background:linear-gradient(#0808ff 0px,#1c1cff 36.5px,#4646ff 56.5px,#8181ff 70.5px,#d6d6ff 82.5px,#fcfafc 86.5px,#ffcaca 94.5px,#dcaed1 95.5px,#6c6cff 96.5px,#4646ff 106.5px,#1717ff 144px)"></i><i style="background:linear-gradient(#0808ff 0px,#1e1eff 36.5px,#4a4aff 56.5px,#8888ff 70.5px,#dbdbff 81.5px,#fbf9fe 84.5px,#ffe7e7 86.5px,#ffc4c4 90.5px,#ffaeae 94.5px,#7e7eff 95.5px,#5b5bff 105.5px,#2e2eff 138.5px,#2323ff 144px)"></i><i style="background:linear-gradient(#0909ff 0px,#1f1fff 35.5px,#4c4cff 55.5px,#8a8aff 69.5px,#d5d5ff 79.5px,#f7f7ff 82.5px,#fef8f9 83.5px,#ffb2b2 88.5px,#ff9797 93.5px,#ad94e6 94.5px,#8d8dff 95.5px,#7171ff 107.5px,#5454ff 131.5px,#3030ff 144px)"></i><i style="background:linear-gradient(#0909ff 0px,#2020ff 34.5px,#4d4dff 54.5px,#8b8bff 68.5px,#ceceff 77.5px,#fbf9fe 81.5px,#fff3f3 82.5px,#ff9090 88.5px,#ff7c7c 92.5px,#bd9ddf 93.5px,#a2a2ff 94.5px,#8e8eff 109.5px,#7777ff 128.5px,#4040ff 144px)"></i><i style="background:linear-gradient(#0a0aff 0px,#2121ff 33.5px,#4e4eff 53.5px,#8c8cff 67.5px,#cfcfff 76.5px,#fdfbfd 80.5px,#ffcaca 83.5px,#ff7979 87.5px,#ff6060 90.5px,#ff5d5d 91.5px,#cca6d8 92.5px,#b8b8ff 93.5px,#a0a0ff 124.5px,#7676ff 136.5px,#5151ff 144px)"></i><i style="background:linear-gradient(#0a0aff 0px,#2323ff 33.5px,#5353ff 53.5px,#9292ff 67.5px,#ceceff 75.5px,#fdfafc 79.5px,#ffc5c5 82.5px,#ff5858 87.5px,#ff4444 89.5px,#f46672 90.5px,#cdcdff 91.5px,#c9c9ff 119.5px,#aeaeff 130.5px,#6262ff 144px)"></i><i style="background:linear-gradient(#0b0bff 0px,#2323ff 32.5px,#5353ff 52.5px,#9898ff 67.5px,#d7d7ff 75.5px,#fdfbfd 78.5px,#ffc4c4 81.5px,#ff4b4b 86.5px,#ff2d2d 88.5px,#dbdbff 90.5px,#efefff 110.5px,#ddddff 125.5px,#adadff 135.5px,#7272ff 144px)"></i><i style="background:linear-gradient(#0b0bff 0px,#2525ff 32.5px,#5757ff 52.5px,#9d9dff 67.5px,#d4d4ff 74.5px,#fbfafe 77.5px,#fff1f1 78.5px,#ff9494 82.5px,#ff3030 86.5px,#f85259 87.5px,#ebb2c6 88.5px,#e5e5ff 89.5px,#fcfafc 99.5px,#fff5f5 114.5px,#f5f5ff 126.5px,#c3c3ff 135.5px,#8080ff 144px)"></i><i style="background:linear-gradient(#0c0cff 0px,#2525ff 31.5px,#5656ff 51.5px,#9a9aff 66.5px,#cfcfff 73.5px,#f6f6ff 76.5px,#fff7f7 77.5px,#ff9a9a 81.5px,#ff3030 85.5px,#f1818f 86.5px,#e6e6ff 87.5px,#fefcfd 94.5px,#ffdede 106.5px,#ffe7e7 122.5px,#fcfafe 129.5px,#ccccff 136.5px,#8b8bff 144px)"></i><i style="background:linear-gradient(#0c0cff 0px,#2626ff 31.5px,#5858ff 51.5px,#9d9dff 66.5px,#d3d3ff 73.5px,#fcfbfd 76.5px,#ffd7d7 78.5px,#ff5151 83.5px,#ed8b9d 84.5px,#dfdfff 85.5px,#fefdff 92.5px,#ffd3d3 103.5px,#ffcfcf 116.5px,#ffe3e3 126.5px,#fefcfd 131.5px,#cfcfff 137.5px,#9494ff 144px)"></i><i style="background:linear-gradient(#0c0cff 0px,#2727ff 31.5px,#5a5aff 51.5px,#a4a4ff 67.5px,#d7d7ff 73.5px,#f4f4ff 75.5px,#fff8f8 76.5px,#ff9797 80.5px,#ff7b7b 81.5px,#f37d89 82.5px,#ddb1d2 83.5px,#d6d6ff 84.5px,#fffdfe 92.5px,#ffcdcd 102.5px,#ffc4c4 113.5px,#ffd2d2 124.5px,#fffcfc 132.5px,#e0e0ff 136.5px,#9999ff 144px)"></i><i style="background:linear-gradient(#0c0cff 0px,#2626ff 30.5px,#5757ff 50.5px,#9d9dff 66.5px,#cdcdff 72.5px,#f9f9ff 75.5px,#fff2f2 76.5px,#ffa8a8 79.5px,#ee9aaa 80.5px,#d0afdd 81.5px,#c4c4ff 82.5px,#fdfdff 92.5px,#ffcccc 102.5px,#ffc0c0 112.5px,#ffcfcf 124.5px,#fdfdff 133.5px,#9a9aff 144px)"></i><i style="background:linear-gradient(#0c0cff 0px,#2626ff 30.5px,#5b5bff 51.5px,#a2a2ff 67.5px,#ceceff 72.5px,#fcfafd 75.5px,#ffd3d3 77.5px,#eab7cd 78.5px,#c2ace9 79.5px,#b1b1ff 80.5px,#dadaff 88.5px,#fcfcfe 93.5px,#ffcece 103.5px,#ffc5c5 114.5px,#ffd5d5 125.5px,#fffcfc 132.5px,#f2f2ff 134.5px,#9999ff 144px)"></i><i style="background:linear-gradient(#0c0cff 0px,#2626ff 30.5px,#5a5aff 51.5px,#9999ff 66.5px,#c2c2ff 71.5px,#fef9fa 75.5px,#e5d3ec 76.5px,#b4a9f4 77.5px,#9d9dff 78.5px,#b9b9ff 85.5px,#fdfcfd 95.5px,#ffd4d4 105.5px,#ffd0d0 119.5px,#ffeaea 128.5px,#fbfbff 132.5px,#9595ff 144px)"></i><i style="background:linear-gradient(#0c0cff 0px,#2828ff 31.5px,#5e5eff 53.5px,#9696ff 66.5px,#c2c2ff 71.5px,#e1e1ff 73.5px,#d8d8ff 74.5px,#a7a6fe 75.5px,#8a8aff 76.5px,#9999ff 82.5px,#fbfafe 97.5px,#ffdede 108.5px,#ffe2e2 122.5px,#fcfbfe 130.5px,#b5b5ff 139.5px,#8e8eff 144px)"></i><i style="background:linear-gradient(#0b0bff 0px,#2727ff 31.5px,#5e5eff 54.5px,#9292ff 66.5px,#b6b6ff 70.5px,#c4c4ff 71.5px,#bcbcff 72.5px,#9494ff 73.5px,#7b7bff 74.5px,#8181ff 80.5px,#c2c2ff 91.5px,#fafafe 101.5px,#ffeeee 115.5px,#fbfafe 127.5px,#cbcbff 135.5px,#8686ff 144px)"></i><i style="background:linear-gradient(#0b0bff 0px,#2626ff 31.5px,#6060ff 56.5px,#8e8eff 66.5px,#ababff 69.5px,#a5a5ff 70.5px,#8484ff 71.5px,#6e6eff 72.5px,#6b6bff 78.5px,#9494ff 87.5px,#e0e0ff 100.5px,#f9f9ff 111.5px,#f1f1ff 124.5px,#c9c9ff 133.5px,#7b7bff 144px)"></i><i style="background:linear-gradient(#0b0bff 0px,#2626ff 32.5px,#5e5eff 57.5px,#8383ff 65.5px,#9595ff 67.5px,#9292ff 68.5px,#6464ff 70.5px,#5b5bff 77.5px,#7c7cff 86.5px,#cbcbff 101.5px,#e1e1ff 113.5px,#d7d7ff 125.5px,#b0b0ff 134.5px,#6f6fff 144px)"></i><i style="background:linear-gradient(#0a0aff 0px,#2525ff 33.5px,#5b5bff 58.5px,#8181ff 65.5px,#8b8bff 66.5px,#7b7bff 67.5px,#5e5eff 68.5px,#4c4cff 75.5px,#6161ff 84.5px,#b4b4ff 102.5px,#c8c8ff 115.5px,#b9b9ff 127.5px,#8484ff 138.5px,#6363ff 144px)"></i><i style="background:linear-gradient(#0a0aff 0px,#2626ff 35.5px,#5555ff 58.5px,#7777ff 64.5px,#6f6fff 65.5px,#5a5aff 66.5px,#4242ff 73.5px,#4b4bff 82.5px,#9e9eff 104.5px,#acacff 118.5px,#9797ff 130.5px,#5555ff 144px)"></i><i style="background:linear-gradient(#0909ff 0px,#2424ff 36.5px,#4b4bff 57.5px,#6464ff 63.5px,#4848ff 67.5px,#3535ff 75.5px,#4848ff 86.5px,#8686ff 106.5px,#8f8fff 119.5px,#7b7bff 131.5px,#4848ff 144px)"></i><i style="background:linear-gradient(#0909ff 0px,#2424ff 39.5px,#4545ff 57.5px,#5a5aff 61.5px,#3131ff 71.5px,#2e2eff 81.5px,#6f6fff 110.5px,#6e6eff 125.5px,#4949ff 139.5px,#3a3aff 144px)"></i><i style="background:linear-gradient(#0808ff 0px,#2424ff 42.5px,#4040ff 57.5px,#5656ff 60.5px,#2c2cff 70.5px,#2424ff 81.5px,#5757ff 115.5px,#4949ff 132.5px,#2c2cff 144px)"></i><i style="background:linear-gradient(#0707ff 0px,#2323ff 46.5px,#3b3bff 57.5px,#4d4dff 58.5px,#5555ff 59.5px,#2a2aff 68.5px,#1a1aff 81.5px,#3b3bff 119.5px,#2626ff 139.5px,#1f1fff 144px)"></i><i style="background:linear-gradient(#0707ff 0px,#2121ff 49.5px,#2e2eff 55.5px,#4f4fff 57.5px,#4b4bff 59.5px,#2222ff 69.5px,#1212ff 85.5px,#2121ff 124.5px,#1212ff 144px)"></i><i style="background:linear-gradient(#0606ff 0px,#1d1dff 50.5px,#2525ff 54.5px,#3434ff 55.5px,#5656ff 56.5px,#2929ff 65.5px,#0e0eff 80.5px,#0707ff 144px)"></i><i style="background:linear-gradient(#0606ff 0px,#1919ff 51.5px,#1d1dff 53.5px,#4c4cff 54.5px,#5454ff 55.5px,#2828ff 64.5px,#0d0dff 80.5px,#0707ff 144px)"></i><i style="background:linear-gradient(#0505ff 0px,#1515ff 52.5px,#4949ff 53.5px,#5454ff 54.5px,#2828ff 63.5px,#1111ff 78.5px,#2121ff 124.5px,#1212ff 144px)"></i><i style="background:linear-gradient(#0404ff 0px,#0f0fff 51.5px,#4848ff 52.5px,#5454ff 53.5px,#2929ff 62.5px,#1515ff 75.5px,#2929ff 95.5px,#4040ff 118.5px,#2d2dff 137.5px,#2121ff 144px)"></i><i style="background:linear-gradient(#0404ff 0px,#0a0aff 50.5px,#5555ff 52.5px,#2a2aff 61.5px,#1818ff 73.5px,#2e2eff 88.5px,#5d5dff 110.5px,#5d5dff 125.5px,#3737ff 141.5px,#3131ff 144px)"></i><i style="background:linear-gradient(#0404ff 0px,#0707ff 49.5px,#1c1cff 50.5px,#5858ff 51.5px,#2b2bff 60.5px,#1b1bff 71.5px,#2f2fff 83.5px,#7676ff 105.5px,#8282ff 119.5px,#6d6dff 132.5px,#4242ff 144px)"></i><i style="background:linear-gradient(#0404ff 0px,#0505ff 49.5px,#5555ff 51.5px,#2a2aff 60.5px,#1e1eff 71.5px,#3838ff 82.5px,#9191ff 103.5px,#a4a4ff 117.5px,#9393ff 129.5px,#5252ff 144px)"></i><i style="background:linear-gradient(#0404ff 0px,#0707ff 49.5px,#1c1cff 50.5px,#5858ff 51.5px,#2c2cff 60.5px,#2121ff 70.5px,#3c3cff 80.5px,#aaaaff 101.5px,#c4c4ff 114.5px,#b9b9ff 126.5px,#8e8eff 136.5px,#6161ff 144px)"></i><i style="background:linear-gradient(#0404ff 0px,#0a0aff 50.5px,#5656ff 52.5px,#2c2cff 61.5px,#2525ff 70.5px,#4141ff 79.5px,#c3c3ff 100.5px,#dfdfff 111.5px,#dcdcff 123.5px,#bcbcff 132.5px,#7070ff 144px)"></i><i style="background:linear-gradient(#0404ff 0px,#1010ff 51.5px,#4949ff 52.5px,#5555ff 53.5px,#3030ff 61.5px,#2a2aff 70.5px,#4b4bff 79.5px,#d8d8ff 99.5px,#f8f8ff 109.5px,#f5f5ff 124.5px,#ccccff 133.5px,#7d7dff 144px)"></i><i style="background:linear-gradient(#0505ff 0px,#1515ff 51.5px,#1717ff 52.5px,#4b4bff 53.5px,#5555ff 54.5px,#3131ff 62.5px,#2e2eff 70.5px,#4e4eff 78.5px,#eaeaff 98.5px,#fcf9fd 102.5px,#ffe9e9 115.5px,#fff5f5 125.5px,#f8f8ff 129.5px,#b7b7ff 138.5px,#8989ff 144px)"></i><i style="background:linear-gradient(#0505ff 0px,#1919ff 50.5px,#1e1eff 53.5px,#3030ff 54.5px,#5757ff 55.5px,#3434ff 63.5px,#3535ff 71.5px,#5c5cff 79.5px,#f7f7ff 97.5px,#fff5f5 100.5px,#ffd8d8 109.5px,#ffdada 122.5px,#fdfbfd 131.5px,#c4c4ff 138.5px,#9393ff 144px)"></i><i style="background:linear-gradient(#0606ff 0px,#1d1dff 49.5px,#2727ff 54.5px,#4e4eff 56.5px,#5454ff 57.5px,#3636ff 65.5px,#3d3dff 72.5px,#6b6bff 80.5px,#f8f8ff 95.5px,#fff7f7 97.5px,#ffcfcf 105.5px,#ffc5c5 117.5px,#ffd6d6 126.5px,#fcfcfe 133.5px,#9b9bff 144px)"></i><i style="background:linear-gradient(#0606ff 0px,#2020ff 48.5px,#3232ff 56.5px,#5858ff 58.5px,#3c3cff 65.5px,#4242ff 72.5px,#6a6aff 79.5px,#fbfbff 94.5px,#fff2f2 96.5px,#ffc5c5 104.5px,#ffb8b8 115.5px,#ffc7c7 125.5px,#fff7f7 133.5px,#fdfdfe 134.5px,#a1a1ff 144px)"></i><i style="background:linear-gradient(#0707ff 0px,#2222ff 45.5px,#3b3bff 57.5px,#5656ff 59.5px,#4040ff 68.5px,#5454ff 75.5px,#9292ff 83.5px,#f9f9ff 93.5px,#fffcfc 94.5px,#ffc5c5 102.5px,#ffb1b1 111.5px,#ffb9b9 123.5px,#ffe1e1 131.5px,#fffafa 134.5px,#fbfbff 135.5px,#a4a4ff 144px)"></i><i style="background:linear-gradient(#0707ff 0px,#2121ff 41.5px,#3e3eff 57.5px,#5a5aff 61.5px,#4747ff 69.5px,#5d5dff 76.5px,#a0a0ff 84.5px,#fcfcff 93.5px,#ffc2c2 102.5px,#ffaeae 111.5px,#ffb7b7 123.5px,#ffdfdf 131.5px,#fdfdff 135.5px,#a6a6ff 144px)"></i><i style="background:linear-gradient(#0707ff 0px,#2121ff 38.5px,#4141ff 57.5px,#5f5fff 63.5px,#4e4eff 69.5px,#6161ff 76.5px,#a0a0ff 84.5px,#fbfbff 93.5px,#fff1f1 95.5px,#ffc0c0 103.5px,#ffb1b1 113.5px,#ffbdbd 124.5px,#ffe9e9 132.5px,#fffafa 134.5px,#f0f0ff 136.5px,#a4a4ff 144px)"></i><i style="background:linear-gradient(#0707ff 0px,#2020ff 36.5px,#4747ff 58.5px,#6666ff 64.5px,#5555ff 70.5px,#6868ff 77.5px,#b1b1ff 86.5px,#fdfcfe 94.5px,#ffc8c8 103.5px,#ffb9b9 113.5px,#ffc5c5 124.5px,#fff0f0 132.5px,#fcfcfe 134.5px,#a0a0ff 144px)"></i><i style="background:linear-gradient(#0707ff 0px,#2020ff 35.5px,#4d4dff 59.5px,#6f6fff 66.5px,#5d5dff 70.5px,#6565ff 76.5px,#9999ff 84.5px,#fafaff 95.5px,#ffefef 98.5px,#ffcece 106.5px,#ffcbcb 120.5px,#ffe3e3 128.5px,#fefbfc 132.5px,#e9e9ff 135.5px,#9999ff 144px)"></i><i style="background:linear-gradient(#0707ff 0px,#1f1fff 34.5px,#5252ff 60.5px,#7272ff 66.5px,#7b7bff 67.5px,#6767ff 70.5px,#6767ff 76.5px,#9292ff 84.5px,#f6f6ff 97.5px,#fff8f8 100.5px,#ffdfdf 109.5px,#ffe2e2 122.5px,#fcfafd 130.5px,#c8c8ff 137.5px,#8f8fff 144px)"></i><i style="background:linear-gradient(#0707ff 0px,#1f1fff 34.5px,#5858ff 61.5px,#7d7dff 68.5px,#8888ff 69.5px,#6f6fff 71.5px,#6b6bff 77.5px,#8f8fff 85.5px,#eeeeff 100.5px,#fbf8fc 105.5px,#fdf8fa 122.5px,#f0f0ff 128.5px,#b6b6ff 137.5px,#8282ff 144px)"></i><i style="background:linear-gradient(#0707ff 0px,#1e1eff 33.5px,#5656ff 60.5px,#7878ff 68.5px,#9494ff 71.5px,#8888ff 72.5px,#7272ff 73.5px,#7070ff 80.5px,#a3a3ff 91.5px,#dadaff 103.5px,#e9e9ff 116.5px,#d8d8ff 127.5px,#a1a1ff 137.5px,#7373ff 144px)"></i><i style="background:linear-gradient(#0707ff 0px,#1d1dff 33.5px,#5757ff 60.5px,#7c7cff 69.5px,#a1a1ff 73.5px,#9090ff 74.5px,#7373ff 75.5px,#6e6eff 82.5px,#bdbdff 105.5px,#c5c5ff 119.5px,#adadff 130.5px,#6262ff 144px)"></i><i style="background:linear-gradient(#0606ff 0px,#1d1dff 33.5px,#5252ff 58.5px,#8080ff 70.5px,#afafff 75.5px,#9797ff 76.5px,#7272ff 77.5px,#6969ff 84.5px,#9f9fff 109.5px,#9d9dff 123.5px,#7d7dff 134.5px,#5050ff 144px)"></i><i style="background:linear-gradient(#0606ff 0px,#1c1cff 33.5px,#5050ff 57.5px,#8585ff 71.5px,#afafff 76.5px,#bdbdff 77.5px,#9d9dff 78.5px,#6e6eff 79.5px,#5f5fff 87.5px,#7e7eff 116.5px,#6a6aff 131.5px,#3e3eff 144px)"></i><i style="background:linear-gradient(#0606ff 0px,#1b1bff 33.5px,#4d4dff 56.5px,#8a8aff 72.5px,#b2b2ff 77.5px,#ceceff 79.5px,#a3a3ff 80.5px,#6868ff 81.5px,#5151ff 90.5px,#5959ff 121.5px,#3b3bff 138.5px,#2d2dff 144px)"></i><i style="background:linear-gradient(#0606ff 0px,#1b1bff 33.5px,#4c4cff 56.5px,#8b8bff 72.5px,#b7b7ff 78.5px,#d0d0ff 80.5px,#c1c1ff 81.5px,#8686ff 82.5px,#6060ff 83.5px,#4242ff 92.5px,#3434ff 130.5px,#1e1eff 144px)"></i><i style="background:linear-gradient(#0606ff 0px,#1c1cff 34.5px,#4c4cff 56.5px,#8d8dff 72.5px,#bebeff 79.5px,#e5e5ff 82.5px,#cfcfff 83.5px,#5e5eff 84.5px,#3838ff 93.5px,#2727ff 110.5px,#1212ff 144px)"></i><i style="background:linear-gradient(#0707ff 0px,#1c1cff 34.5px,#4a4aff 55.5px,#8f8fff 72.5px,#c7c7ff 80.5px,#fbfafe 84.5px,#aea7f8 85.5px,#5757ff 86.5px,#2e2eff 95.5px,#1818ff 111.5px,#0a0aff 144px)"></i><i style="background:linear-gradient(#0707ff 0px,#1c1cff 34.5px,#4a4aff 55.5px,#8d8dff 71.5px,#d2d2ff 81.5px,#f6f6ff 84.5px,#fff7f7 85.5px,#d6c4ec 86.5px,#5858ff 87.5px,#2b2bff 96.5px,#1010ff 112.5px,#0505ff 144px)"></i><i style="background:linear-gradient(#0707ff 0px,#1c1cff 34.5px,#4b4bff 55.5px,#8b8bff 70.5px,#d6d6ff 81.5px,#f6f6ff 84.5px,#fff9f9 85.5px,#ffd6d6 87.5px,#8274f1 88.5px,#5252ff 89.5px,#2424ff 99.5px,#0a0aff 117.5px,#0404ff 144px)"></i><i style="background:linear-gradient(#0808ff 0px,#1d1dff 34.5px,#4949ff 54.5px,#8989ff 69.5px,#dcdcff 81.5px,#fbfbff 84.5px,#ffe5e5 86.5px,#ffc4c4 88.5px,#8270ec 89.5px,#5353ff 90.5px,#2525ff 100.5px,#0b0bff 118.5px,#0404ff 144px)"></i><i style="background:linear-gradient(#0808ff 0px,#1e1eff 34.5px,#4b4bff 54.5px,#8e8eff 69.5px,#e5e5ff 81.5px,#f9f9ff 83.5px,#fff9f9 84.5px,#ffabab 89.5px,#836ae6 90.5px,#5454ff 91.5px,#2828ff 101.5px,#0f0fff 120.5px,#0707ff 144px)"></i><i style="background:linear-gradient(#0909ff 0px,#1f1fff 34.5px,#4d4dff 54.5px,#8c8cff 68.5px,#e5e5ff 80.5px,#f9f9ff 82.5px,#fff9f9 83.5px,#ff9d9d 89.5px,#d783aa 90.5px,#5d5dff 91.5px,#3434ff 100.5px,#1b1bff 118.5px,#0c0cff 144px)"></i><i style="background:linear-gradient(#0909ff 0px,#1f1fff 33.5px,#4d4dff 53.5px,#8b8bff 67.5px,#e6e6ff 79.5px,#fafaff 81.5px,#fff8f8 82.5px,#ff8a8a 89.5px,#ff7e7e 90.5px,#6363ff 92.5px,#3c3cff 102.5px,#1414ff 144px)"></i><i style="background:linear-gradient(#0a0aff 0px,#2121ff 33.5px,#5151ff 53.5px,#9292ff 67.5px,#e8e8ff 78.5px,#fcfbfe 80.5px,#ffe6e6 82.5px,#ff7777 88.5px,#ff6363 90.5px,#6f6fff 92.5px,#4e4eff 102.5px,#2727ff 138.5px,#1e1eff 144px)"></i><i style="background:linear-gradient(#0a0aff 0px,#2222ff 32.5px,#5252ff 52.5px,#9393ff 66.5px,#e1e1ff 76.5px,#fefbfc 79.5px,#ffd0d0 82.5px,#ff6161 87.5px,#ff4242 90.5px,#8181ff 91.5px,#6565ff 101.5px,#4b4bff 130.5px,#2b2bff 144px)"></i><i style="background:linear-gradient(#0b0bff 0px,#2424ff 32.5px,#5353ff 51.5px,#9494ff 65.5px,#e2e2ff 75.5px,#fefafb 78.5px,#ffcdcd 81.5px,#ff6a6a 85.5px,#ff3b3b 87.5px,#ff2727 89.5px,#9090ff 91.5px,#7e7eff 103.5px,#7171ff 125.5px,#4242ff 141.5px,#3a3aff 144px)"></i><i style="background:linear-gradient(#0c0cff 0px,#2525ff 31.5px,#5353ff 50.5px,#9494ff 64.5px,#e1e1ff 74.5px,#fefbfb 77.5px,#ffcccc 80.5px,#ff8282 83.5px,#ff2b2b 86.5px,#ff0d0d 88.5px,#ea3348 89.5px,#a5a5ff 90.5px,#9d9dff 105.5px,#9494ff 123.5px,#7171ff 135.5px,#4a4aff 144px)"></i><i style="background:linear-gradient(#0c0cff 0px,#2727ff 31.5px,#5757ff 50.5px,#9a9aff 64.5px,#e9e9ff 74.5px,#fefcfd 76.5px,#ffcfcf 79.5px,#ff8282 82.5px,#ff0a0a 86.5px,#ff0000 88.5px,#b8b8ff 89.5px,#bbbbff 119.5px,#9d9dff 131.5px,#5b5bff 144px)"></i><i style="background:linear-gradient(#0d0dff 0px,#2727ff 30.5px,#5757ff 49.5px,#9f9fff 64.5px,#e6e6ff 73.5px,#fbfbff 75.5px,#ffe6e6 77.5px,#ffa5a5 80.5px,#ff0909 85.5px,#ff0000 87.5px,#d797bf 88.5px,#c9c9ff 89.5px,#e0e0ff 111.5px,#d0d0ff 125.5px,#a3a3ff 135.5px,#6b6bff 144px)"></i><i style="background:linear-gradient(#0d0dff 0px,#2828ff 30.5px,#5a5aff 49.5px,#a3a3ff 64.5px,#ebebff 73.5px,#fffbfb 75.5px,#ffc7c7 78.5px,#ff7272 81.5px,#ff0d0d 84.5px,#ff0000 85.5px,#ff0000 86.5px,#e0a0bf 87.5px,#d6d6ff 88.5px,#f9f8fe 104.5px,#f2f2ff 123.5px,#cdcdff 132.5px,#7a7aff 144px)"></i><i style="background:linear-gradient(#0e0eff 0px,#2a2aff 30.5px,#5c5cff 49.5px,#a5a5ff 64.5px,#efefff 73.5px,#fafaff 74.5px,#fff6f6 75.5px,#ffbbbb 78.5px,#ff5f5f 81.5px,#ff1a1a 83.5px,#ff0202 84.5px,#ff0000 85.5px,#e5a5bf 86.5px,#dedeff 87.5px,#fefafc 97.5px,#ffe7e7 109.5px,#fff6f6 124.5px,#f4f4ff 129.5px,#ababff 139.5px,#8686ff 144px)"></i><i style="background:linear-gradient(#0e0eff 0px,#2a2aff 30.5px,#5d5dff 49.5px,#a7a7ff 64.5px,#e6e6ff 72.5px,#fdfcfe 74.5px,#ffdfdf 76.5px,#ff9393 79.5px,#ff0e0e 83.5px,#f63740 84.5px,#ddddff 85.5px,#fffbfb 94.5px,#ffd9d9 104.5px,#ffd9d9 119.5px,#fff3f3 128.5px,#fafaff 131.5px,#9a9aff 142.5px,#9090ff 144px)"></i><i style="background:linear-gradient(#0e0eff 0px,#2929ff 29.5px,#5a5aff 48.5px,#a7a7ff 64.5px,#e6e6ff 72.5px,#fdfbfd 74.5px,#ffdbdb 76.5px,#ff8989 79.5px,#ff2626 82.5px,#f53d47 83.5px,#d9d9ff 84.5px,#fefefe 92.5px,#ffcfcf 103.5px,#ffcaca 116.5px,#ffdede 126.5px,#fdfcfe 132.5px,#9696ff 144px)"></i><i style="background:linear-gradient(#0e0eff 0px,#2929ff 29.5px,#5a5aff 48.5px,#a5a5ff 64.5px,#e4e4ff 72.5px,#fdfbfd 74.5px,#ffd8d8 76.5px,#ff8484 79.5px,#ff4242 81.5px,#d9a4ca 82.5px,#cfcfff 83.5px,#fefdfe 92.5px,#ffcdcd 102.5px,#ffc3c3 113.5px,#ffd1d1 124.5px,#fffcfc 132.5px,#e9e9ff 135.5px,#9999ff 144px)"></i><i style="background:linear-gradient(#0e0eff 0px,#2929ff 29.5px,#5d5dff 49.5px,#a8a8ff 65.5px,#e1e1ff 72.5px,#fcfbfd 74.5px,#ffd7d7 76.5px,#ff8282 79.5px,#ee7a8b 80.5px,#cfa2d2 81.5px,#c3c3ff 82.5px,#fffcfd 93.5px,#ffcdcd 103.5px,#ffc6c6 115.5px,#ffd6d6 125.5px,#fffcfd 132.5px,#d6d6ff 137.5px,#9898ff 144px)"></i><i style="background:linear-gradient(#0d0dff 0px,#2a2aff 30.5px,#5f5fff 50.5px,#aaaaff 66.5px,#ddddff 72.5px,#fbfaff 74.5px,#ffefef 75.5px,#ffa1a1 78.5px,#ea8fa3 79.5px,#b1b1ff 80.5px,#d5d5ff 88.5px,#fdfcfe 94.5px,#ffd4d4 104.5px,#ffcece 117.5px,#ffe0e0 126.5px,#fbfbff 132.5px,#9595ff 144px)"></i><i style="background:linear-gradient(#0d0dff 0px,#2929ff 30.5px,#6060ff 51.5px,#a4a4ff 66.5px,#d8d8ff 72.5px,#f7f7ff 74.5px,#fff2f2 75.5px,#ffc0c0 77.5px,#b7a2ea 78.5px,#a1a1ff 79.5px,#bbbbff 86.5px,#fbfaff 96.5px,#ffdddd 107.5px,#ffe1e1 122.5px,#fdfcfe 130.5px,#bfbfff 138.5px,#8f8fff 144px)"></i><i style="background:linear-gradient(#0c0cff 0px,#2828ff 30.5px,#5c5cff 51.5px,#9d9dff 66.5px,#c5c5ff 71.5px,#f3f3ff 74.5px,#fff6f6 75.5px,#e2cbe7 76.5px,#9090ff 77.5px,#a1a1ff 84.5px,#f8f8ff 99.5px,#fff3f3 105.5px,#ffeeee 119.5px,#f9f9ff 128.5px,#bdbdff 137.5px,#8787ff 144px)"></i><i style="background:linear-gradient(#0c0cff 0px,#2828ff 31.5px,#5e5eff 53.5px,#9b9bff 67.5px,#bfbfff 71.5px,#efefff 74.5px,#a1a1ff 75.5px,#8181ff 76.5px,#8c8cff 83.5px,#e9e9ff 101.5px,#faf9fe 110.5px,#f4f4ff 124.5px,#cbcbff 133.5px,#7c7cff 144px)"></i><i style="background:linear-gradient(#0b0bff 0px,#2626ff 31.5px,#5c5cff 54.5px,#9393ff 67.5px,#b8b8ff 71.5px,#c7c7ff 72.5px,#bebeff 73.5px,#7676ff 74.5px,#7575ff 81.5px,#d7d7ff 103.5px,#e5e5ff 116.5px,#d4d4ff 127.5px,#9e9eff 137.5px,#7171ff 144px)"></i><i style="background:linear-gradient(#0b0bff 0px,#2525ff 32.5px,#5f5fff 57.5px,#8a8aff 67.5px,#b3b3ff 71.5px,#8181ff 72.5px,#6a6aff 73.5px,#6464ff 80.5px,#8c8cff 91.5px,#bfbfff 104.5px,#cbcbff 118.5px,#b5b5ff 129.5px,#7272ff 141.5px,#6464ff 144px)"></i><i style="background:linear-gradient(#0a0aff 0px,#2424ff 33.5px,#5d5dff 59.5px,#8282ff 67.5px,#9494ff 69.5px,#9191ff 70.5px,#6565ff 71.5px,#5454ff 78.5px,#6b6bff 88.5px,#a5a5ff 105.5px,#afafff 119.5px,#9a9aff 130.5px,#5757ff 144px)"></i><i style="background:linear-gradient(#0909ff 0px,#2424ff 35.5px,#5858ff 60.5px,#7a7aff 67.5px,#8484ff 68.5px,#5d5dff 70.5px,#4848ff 77.5px,#5555ff 87.5px,#8c8cff 107.5px,#9393ff 120.5px,#7b7bff 132.5px,#4a4aff 144px)"></i><i style="background:linear-gradient(#0909ff 0px,#2222ff 36.5px,#5252ff 61.5px,#6e6eff 67.5px,#5252ff 70.5px,#3c3cff 78.5px,#4a4aff 90.5px,#7575ff 111.5px,#7171ff 126.5px,#4444ff 141.5px,#3c3cff 144px)"></i><i style="background:linear-gradient(#0808ff 0px,#2121ff 38.5px,#4a4aff 61.5px,#6262ff 66.5px,#3f3fff 72.5px,#3030ff 82.5px,#5c5cff 116.5px,#4a4aff 133.5px,#2e2eff 144px)"></i><i style="background:linear-gradient(#0707ff 0px,#2121ff 41.5px,#4242ff 61.5px,#5a5aff 65.5px,#2e2eff 75.5px,#2626ff 87.5px,#4141ff 119.5px,#2c2cff 138.5px,#2121ff 144px)"></i><i style="background:linear-gradient(#0707ff 0px,#2020ff 45.5px,#3b3bff 61.5px,#4343ff 63.5px,#5555ff 64.5px,#2727ff 75.5px,#1a1aff 89.5px,#2727ff 123.5px,#1515ff 144px)"></i><i style="background:linear-gradient(#0606ff 0px,#1f1fff 49.5px,#3333ff 61.5px,#4141ff 62.5px,#5858ff 63.5px,#2b2bff 72.5px,#1111ff 87.5px,#0a0aff 144px)"></i><i style="background:linear-gradient(#0606ff 0px,#1d1dff 53.5px,#2929ff 60.5px,#3838ff 61.5px,#5858ff 62.5px,#2a2aff 71.5px,#0d0dff 87.5px,#0505ff 144px)"></i><i style="background:linear-gradient(#0505ff 0px,#1a1aff 55.5px,#2020ff 59.5px,#3131ff 60.5px,#5858ff 61.5px,#2b2bff 70.5px,#1313ff 84.5px,#1515ff 132.5px,#0e0eff 144px)"></i><i style="background:linear-gradient(#0505ff 0px,#1717ff 57.5px,#1a1aff 59.5px,#5959ff 60.5px,#2c2cff 69.5px,#1a1aff 82.5px,#3434ff 120.5px,#1b1bff 144px)"></i><i style="background:linear-gradient(#0404ff 0px,#1313ff 58.5px,#4949ff 59.5px,#5454ff 60.5px,#2b2bff 69.5px,#2222ff 81.5px,#5555ff 115.5px,#4747ff 132.5px,#2b2bff 144px)"></i><i style="background:linear-gradient(#0404ff 0px,#0e0eff 57.5px,#5656ff 59.5px,#2e2eff 68.5px,#2727ff 78.5px,#5858ff 97.5px,#7777ff 115.5px,#6969ff 130.5px,#3c3cff 144px)"></i><i style="background:linear-gradient(#0404ff 0px,#0a0aff 57.5px,#5959ff 58.5px,#3333ff 66.5px,#2b2bff 75.5px,#4b4bff 87.5px,#8a8aff 104.5px,#9999ff 118.5px,#8686ff 130.5px,#4c4cff 144px)"></i><i style="background:linear-gradient(#0404ff 0px,#0808ff 56.5px,#5656ff 58.5px,#3333ff 66.5px,#3030ff 75.5px,#5959ff 86.5px,#a4a4ff 102.5px,#babaff 116.5px,#aaaaff 128.5px,#6f6fff 140.5px,#5d5dff 144px)"></i><i style="background:linear-gradient(#0404ff 0px,#0808ff 56.5px,#5656ff 58.5px,#3434ff 66.5px,#3434ff 74.5px,#5d5dff 84.5px,#bbbbff 100.5px,#d8d8ff 112.5px,#d2d2ff 124.5px,#aaaaff 134.5px,#6c6cff 144px)"></i><i style="background:linear-gradient(#0404ff 0px,#0a0aff 56.5px,#1f1fff 57.5px,#5858ff 58.5px,#3737ff 66.5px,#3a3aff 74.5px,#6565ff 83.5px,#d2d2ff 99.5px,#f1f1ff 109.5px,#f2f2ff 122.5px,#d3d3ff 131.5px,#7a7aff 144px)"></i><i style="background:linear-gradient(#0404ff 0px,#0f0fff 57.5px,#4949ff 58.5px,#5555ff 59.5px,#3a3aff 66.5px,#4040ff 74.5px,#6a6aff 82.5px,#e5e5ff 98.5px,#fbf9fd 103.5px,#ffeeee 117.5px,#f8f8ff 128.5px,#bcbcff 137.5px,#8686ff 144px)"></i><i style="background:linear-gradient(#0404ff 0px,#1414ff 57.5px,#2828ff 58.5px,#5a5aff 59.5px,#3d3dff 66.5px,#4242ff 73.5px,#6d6dff 81.5px,#f4f4ff 97.5px,#fff8f8 100.5px,#ffdcdc 109.5px,#ffdede 122.5px,#fbfafe 131.5px,#a5a5ff 141.5px,#9191ff 144px)"></i><i style="background:linear-gradient(#0505ff 0px,#1717ff 55.5px,#1b1bff 58.5px,#4e4eff 59.5px,#5858ff 60.5px,#4040ff 67.5px,#4a4aff 74.5px,#7e7eff 82.5px,#f6f6ff 95.5px,#fff8f8 97.5px,#ffd1d1 105.5px,#ffc6c6 117.5px,#ffd8d8 126.5px,#fbfbff 133.5px,#9a9aff 144px)"></i><i style="background:linear-gradient(#0505ff 0px,#1a1aff 53.5px,#2424ff 59.5px,#5050ff 60.5px,#5858ff 61.5px,#4343ff 68.5px,#5353ff 75.5px,#8f8fff 83.5px,#fbfbff 94.5px,#fff2f2 96.5px,#ffc5c5 104.5px,#ffb8b8 115.5px,#ffc7c7 125.5px,#fff7f7 133.5px,#fdfcfe 134.5px,#a1a1ff 144px)"></i><i style="background:linear-gradient(#0505ff 0px,#1d1dff 51.5px,#2e2eff 60.5px,#5e5eff 61.5px,#4747ff 68.5px,#5858ff 75.5px,#9595ff 83.5px,#fbfbff 93.5px,#fff1f1 95.5px,#ffbfbf 103.5px,#ffafaf 113.5px,#ffbbbb 124.5px,#ffe8e8 132.5px,#fcfcff 135.5px,#a5a5ff 144px)"></i><i style="background:linear-gradient(#0606ff 0px,#1e1eff 47.5px,#3434ff 60.5px,#4343ff 61.5px,#5f5fff 62.5px,#4c4cff 68.5px,#5b5bff 75.5px,#9898ff 83.5px,#fefdfe 93.5px,#ffc3c3 101.5px,#ffacac 109.5px,#ffb1b1 122.5px,#ffd5d5 130.5px,#fefdfe 135.5px,#a7a7ff 144px)"></i><i style="background:linear-gradient(#0606ff 0px,#1f1fff 44.5px,#3a3aff 60.5px,#4b4bff 62.5px,#6161ff 63.5px,#5050ff 69.5px,#5d5dff 75.5px,#9999ff 83.5px,#fefdfe 93.5px,#ffc4c4 101.5px,#ffadad 109.5px,#ffb2b2 122.5px,#ffd6d6 130.5px,#fdfdfe 135.5px,#a7a7ff 144px)"></i><i style="background:linear-gradient(#0606ff 0px,#1f1fff 41.5px,#3f3fff 60.5px,#5353ff 63.5px,#6363ff 64.5px,#5353ff 70.5px,#6969ff 77.5px,#b5b5ff 86.5px,#fafaff 93.5px,#fff2f2 95.5px,#ffc1c1 103.5px,#ffb2b2 113.5px,#ffbdbd 124.5px,#ffeaea 132.5px,#fffbfb 134.5px,#f0f0ff 136.5px,#a4a4ff 144px)"></i><i style="background:linear-gradient(#0707ff 0px,#2020ff 39.5px,#4444ff 60.5px,#6363ff 65.5px,#5858ff 72.5px,#7474ff 79.5px,#fafaff 94.5px,#fff5f5 96.5px,#ffcaca 104.5px,#ffbebe 115.5px,#ffcccc 125.5px,#fefbfb 133.5px,#f1f1ff 135.5px,#9e9eff 144px)"></i><i style="background:linear-gradient(#0707ff 0px,#2020ff 37.5px,#4949ff 60.5px,#6767ff 66.5px,#5a5aff 72.5px,#7171ff 79.5px,#f9f9ff 96.5px,#ffecec 100.5px,#ffd2d2 109.5px,#ffd5d5 122.5px,#fff5f5 130.5px,#fbfafe 132.5px,#9595ff 144px)"></i><i style="background:linear-gradient(#0707ff 0px,#1f1fff 35.5px,#4d4dff 60.5px,#6f6fff 67.5px,#5d5dff 71.5px,#6767ff 78.5px,#a9a9ff 88.5px,#f6f6ff 99.5px,#fff3f3 104.5px,#ffe7e7 116.5px,#fff7f7 126.5px,#f4f4ff 130.5px,#a6a6ff 140.5px,#8a8aff 144px)"></i><i style="background:linear-gradient(#0707ff 0px,#1f1fff 34.5px,#5151ff 60.5px,#7979ff 68.5px,#6868ff 69.5px,#5d5dff 75.5px,#7878ff 83.5px,#e0e0ff 100.5px,#f7f7ff 109.5px,#f2f2ff 124.5px,#cacaff 133.5px,#7c7cff 144px)"></i><i style="background:linear-gradient(#0707ff 0px,#1f1fff 33.5px,#5555ff 60.5px,#7676ff 67.5px,#8181ff 69.5px,#6464ff 71.5px,#5d5dff 78.5px,#8484ff 88.5px,#c8c8ff 102.5px,#dbdbff 115.5px,#cacaff 127.5px,#9797ff 137.5px,#6c6cff 144px)"></i><i style="background:linear-gradient(#0707ff 0px,#1f1fff 33.5px,#5959ff 60.5px,#7f7fff 68.5px,#9292ff 70.5px,#7575ff 71.5px,#6464ff 72.5px,#5858ff 79.5px,#7474ff 89.5px,#aaaaff 104.5px,#b6b6ff 118.5px,#a3a3ff 129.5px,#6060ff 142.5px,#5a5aff 144px)"></i><i style="background:linear-gradient(#0707ff 0px,#1f1fff 32.5px,#5959ff 59.5px,#8080ff 68.5px,#9c9cff 71.5px,#7777ff 72.5px,#6363ff 73.5px,#5151ff 80.5px,#6464ff 91.5px,#8d8dff 109.5px,#8e8eff 123.5px,#6d6dff 135.5px,#4848ff 144px)"></i><i style="background:linear-gradient(#0707ff 0px,#1f1fff 32.5px,#5959ff 58.5px,#8282ff 68.5px,#a5a5ff 72.5px,#9e9eff 73.5px,#6161ff 74.5px,#4949ff 82.5px,#5656ff 96.5px,#6d6dff 117.5px,#5a5aff 132.5px,#3636ff 144px)"></i><i style="background:linear-gradient(#0707ff 0px,#1f1fff 32.5px,#5959ff 57.5px,#8b8bff 69.5px,#afafff 73.5px,#a5a5ff 74.5px,#5f5fff 75.5px,#4040ff 83.5px,#3f3fff 97.5px,#4b4bff 120.5px,#3232ff 138.5px,#2626ff 144px)"></i><i style="background:linear-gradient(#0707ff 0px,#1e1eff 31.5px,#5555ff 55.5px,#8e8eff 69.5px,#babaff 74.5px,#adadff 75.5px,#7a7aff 76.5px,#5757ff 77.5px,#3434ff 86.5px,#2c2cff 103.5px,#2b2bff 128.5px,#1818ff 144px)"></i><i style="background:linear-gradient(#0707ff 0px,#1f1fff 31.5px,#5454ff 54.5px,#9292ff 69.5px,#babaff 74.5px,#d5d5ff 76.5px,#7c7cff 77.5px,#5555ff 78.5px,#2d2dff 87.5px,#1b1bff 103.5px,#0e0eff 144px)"></i><i style="background:linear-gradient(#0808ff 0px,#1f1fff 31.5px,#5353ff 53.5px,#9797ff 69.5px,#c7c7ff 75.5px,#e4e4ff 77.5px,#7f7fff 78.5px,#5353ff 79.5px,#2929ff 88.5px,#1111ff 104.5px,#0707ff 144px)"></i><i style="background:linear-gradient(#0808ff 0px,#2020ff 31.5px,#5252ff 52.5px,#9696ff 68.5px,#cacaff 75.5px,#f5f5ff 78.5px,#8281fe 79.5px,#5353ff 80.5px,#2525ff 90.5px,#0b0bff 107.5px,#0404ff 144px)"></i><i style="background:linear-gradient(#0808ff 0px,#1f1fff 30.5px,#5151ff 51.5px,#9696ff 67.5px,#cfcfff 75.5px,#f8f8ff 78.5px,#fff2f2 79.5px,#827af7 80.5px,#5252ff 81.5px,#2424ff 91.5px,#0b0bff 109.5px,#0404ff 144px)"></i><i style="background:linear-gradient(#0909ff 0px,#2020ff 30.5px,#5050ff 50.5px,#9696ff 66.5px,#d6d6ff 75.5px,#fcfbfd 78.5px,#ffecec 79.5px,#d6b8e0 80.5px,#5858ff 81.5px,#2b2bff 90.5px,#1010ff 106.5px,#0606ff 144px)"></i><i style="background:linear-gradient(#0909ff 0px,#2121ff 30.5px,#5252ff 50.5px,#9c9cff 66.5px,#dedeff 75.5px,#f7f7ff 77.5px,#fff6f6 78.5px,#ffcbcb 80.5px,#d69cc5 81.5px,#5858ff 82.5px,#2e2eff 91.5px,#1717ff 107.5px,#0a0aff 144px)"></i><i style="background:linear-gradient(#0a0aff 0px,#2222ff 30.5px,#5555ff 50.5px,#9c9cff 65.5px,#e7e7ff 75.5px,#fefafb 77.5px,#ffbdbd 80.5px,#ffa3a3 81.5px,#866ae2 82.5px,#5959ff 83.5px,#3434ff 92.5px,#2323ff 110.5px,#1111ff 144px)"></i><i style="background:linear-gradient(#0a0aff 0px,#2424ff 30.5px,#5454ff 49.5px,#9b9bff 64.5px,#e6e6ff 74.5px,#fdfbfd 76.5px,#ffdcdc 78.5px,#ff9292 81.5px,#d8759c 82.5px,#6262ff 83.5px,#4040ff 92.5px,#3636ff 112.5px,#2424ff 137.5px,#1a1aff 144px)"></i><i style="background:linear-gradient(#0b0bff 0px,#2525ff 30.5px,#5757ff 49.5px,#9a9aff 63.5px,#e5e5ff 73.5px,#fbfafe 75.5px,#fff3f3 76.5px,#ffb4b4 79.5px,#ff6a6a 82.5px,#9067d5 83.5px,#6868ff 84.5px,#4f4fff 93.5px,#4747ff 126.5px,#2626ff 144px)"></i><i style="background:linear-gradient(#0b0bff 0px,#2525ff 29.5px,#5656ff 48.5px,#9999ff 62.5px,#eeeeff 73.5px,#f9f9ff 74.5px,#fff7f7 75.5px,#ffbbbb 78.5px,#ff6b6b 81.5px,#ff5858 82.5px,#bc63a6 83.5px,#7575ff 84.5px,#6363ff 93.5px,#6868ff 121.5px,#4b4bff 136.5px,#3434ff 144px)"></i><i style="background:linear-gradient(#0c0cff 0px,#2727ff 29.5px,#5959ff 48.5px,#9e9eff 62.5px,#ededff 72.5px,#fff9f9 74.5px,#ffc1c1 77.5px,#ff5353 81.5px,#ff4242 82.5px,#8181ff 84.5px,#7a7aff 93.5px,#8a8aff 117.5px,#7474ff 131.5px,#4343ff 144px)"></i><i style="background:linear-gradient(#0d0dff 0px,#2828ff 29.5px,#5d5dff 48.5px,#a4a4ff 62.5px,#fefbfc 73.5px,#ffc8c8 76.5px,#ff3d3d 81.5px,#ff2e2e 82.5px,#9191ff 83.5px,#9191ff 92.5px,#acacff 112.5px,#a0a0ff 126.5px,#6f6fff 138.5px,#5454ff 144px)"></i><i style="background:linear-gradient(#0d0dff 0px,#2828ff 28.5px,#5b5bff 47.5px,#a1a1ff 61.5px,#f2f2ff 71.5px,#fcfcfe 72.5px,#ffe5e5 74.5px,#ff9e9e 77.5px,#ff4141 80.5px,#ff2a2a 81.5px,#e84158 82.5px,#9d9dff 83.5px,#a9a9ff 92.5px,#cacaff 107.5px,#c7c7ff 122.5px,#a8a8ff 132.5px,#6464ff 144px)"></i><i style="background:linear-gradient(#0d0dff 0px,#2929ff 28.5px,#5e5eff 47.5px,#a5a5ff 61.5px,#fffbfb 72.5px,#ffc6c6 75.5px,#ff3232 80.5px,#ff1d1d 81.5px,#bf86c5 82.5px,#a9a9ff 83.5px,#c4c4ff 93.5px,#e9e9ff 106.5px,#e7e7ff 121.5px,#c7c7ff 131.5px,#7373ff 144px)"></i><i style="background:linear-gradient(#0e0eff 0px,#2a2aff 28.5px,#5f5fff 47.5px,#a7a7ff 61.5px,#f0f0ff 70.5px,#fafaff 71.5px,#fff7f7 72.5px,#ffbdbd 75.5px,#ff2727 80.5px,#ff1616 81.5px,#b2b2ff 82.5px,#d0d0ff 91.5px,#f9f9fe 101.5px,#fff9f9 118.5px,#f6f6ff 126.5px,#c3c3ff 135.5px,#8080ff 144px)"></i><i style="background:linear-gradient(#0e0eff 0px,#2b2bff 28.5px,#6161ff 47.5px,#a8a8ff 61.5px,#f1f1ff 70.5px,#fcfcff 71.5px,#ffe4e4 73.5px,#ff9999 76.5px,#ff3a3a 79.5px,#ff2121 80.5px,#ca8fc5 81.5px,#b9b9ff 82.5px,#dfdfff 91.5px,#fdfbfd 97.5px,#ffe2e2 108.5px,#ffebeb 123.5px,#fcfbfe 129.5px,#c3c3ff 137.5px,#8b8bff 144px)"></i><i style="background:linear-gradient(#0e0eff 0px,#2b2bff 28.5px,#6161ff 47.5px,#a8a8ff 61.5px,#f0f0ff 70.5px,#fcfcff 71.5px,#ffe2e2 73.5px,#ff9494 76.5px,#ff3838 79.5px,#ed495a 80.5px,#babaff 81.5px,#ddddff 89.5px,#fcfcff 94.5px,#ffd6d6 105.5px,#ffd6d6 120.5px,#fff4f4 129.5px,#fdfcfe 131.5px,#b0b0ff 140.5px,#9292ff 144px)"></i><i style="background:linear-gradient(#0e0eff 0px,#2b2bff 28.5px,#6060ff 47.5px,#adadff 62.5px,#eeeeff 70.5px,#fafaff 71.5px,#fff5f5 72.5px,#ffb1b1 75.5px,#ff3b3b 79.5px,#c994ca 80.5px,#b9b9ff 81.5px,#e8e8ff 90.5px,#fffcfc 94.5px,#ffd2d2 103.5px,#ffcbcb 115.5px,#ffdada 125.5px,#fdfdff 132.5px,#9696ff 144px)"></i><i style="background:linear-gradient(#0e0eff 0px,#2b2bff 28.5px,#5f5fff 47.5px,#a9a9ff 62.5px,#eaeaff 70.5px,#f7f7ff 71.5px,#fff8f8 72.5px,#ffb3b3 75.5px,#ff5b5b 78.5px,#d87ca3 79.5px,#b2b2ff 80.5px,#d8d8ff 88.5px,#fffdfd 94.5px,#ffd2d2 103.5px,#ffcaca 115.5px,#ffdada 125.5px,#fefdfe 132.5px,#9797ff 144px)"></i><i style="background:linear-gradient(#0e0eff 0px,#2a2aff 28.5px,#5d5dff 47.5px,#a5a5ff 62.5px,#e4e4ff 70.5px,#fefbfc 72.5px,#ffd2d2 74.5px,#ff7f7f 77.5px,#e9768c 78.5px,#a9a9ff 79.5px,#c5c5ff 86.5px,#fefcfd 95.5px,#ffd6d6 104.5px,#ffd1d1 117.5px,#ffe3e3 126.5px,#fefdfd 131.5px,#cfcfff 137.5px,#9494ff 144px)"></i><i style="background:linear-gradient(#0d0dff 0px,#2b2bff 29.5px,#6262ff 49.5px,#ababff 64.5px,#ddddff 70.5px,#f9f9ff 72.5px,#fff1f1 73.5px,#ff8a8a 77.5px,#b693dc 78.5px,#a0a0ff 79.5px,#babaff 86.5px,#fdfbfd 97.5px,#ffdede 107.5px,#ffe2e2 122.5px,#fcfcfe 130.5px,#b5b5ff 139.5px,#8e8eff 144px)"></i><i style="background:linear-gradient(#0d0dff 0px,#2929ff 29.5px,#5e5eff 49.5px,#a4a4ff 64.5px,#d4d4ff 70.5px,#fef9f9 73.5px,#ffb1b1 76.5px,#ae95e6 77.5px,#9494ff 78.5px,#a8a8ff 85.5px,#f8f8ff 99.5px,#fff1f1 106.5px,#fff1f1 121.5px,#f8f8ff 128.5px,#bcbcff 137.5px,#8686ff 144px)"></i><i style="background:linear-gradient(#0c0cff 0px,#2727ff 29.5px,#5d5dff 50.5px,#a1a1ff 65.5px,#cacaff 70.5px,#f9f8fe 73.5px,#ffefef 74.5px,#ffd8d8 75.5px,#c4a7e2 76.5px,#8989ff 77.5px,#9595ff 84.5px,#ededff 102.5px,#fbf9fe 111.5px,#f3f3ff 124.5px,#cbcbff 133.5px,#7c7cff 144px)"></i><i style="background:linear-gradient(#0c0cff 0px,#2727ff 30.5px,#5f5fff 52.5px,#9d9dff 66.5px,#cbcbff 71.5px,#fdf9fb 74.5px,#dfcced 75.5px,#7e7eff 76.5px,#8282ff 83.5px,#d8d8ff 103.5px,#e4e4ff 117.5px,#d0d0ff 128.5px,#9696ff 138.5px,#7070ff 144px)"></i><i style="background:linear-gradient(#0b0bff 0px,#2626ff 31.5px,#5f5fff 54.5px,#9898ff 67.5px,#bfbfff 71.5px,#e0e0ff 73.5px,#d4d4ff 74.5px,#7575ff 75.5px,#7171ff 82.5px,#c1c1ff 105.5px,#cacaff 119.5px,#b1b1ff 130.5px,#6464ff 144px)"></i><i style="background:linear-gradient(#0a0aff 0px,#2525ff 32.5px,#5e5eff 56.5px,#8d8dff 67.5px,#b2b2ff 71.5px,#d2d2ff 73.5px,#6e6eff 74.5px,#6262ff 81.5px,#8282ff 93.5px,#a9a9ff 107.5px,#aeaeff 120.5px,#9595ff 131.5px,#5757ff 144px)"></i><i style="background:linear-gradient(#0a0aff 0px,#2424ff 33.5px,#5c5cff 58.5px,#8888ff 68.5px,#b4b4ff 72.5px,#7e7eff 73.5px,#6363ff 74.5px,#5454ff 81.5px,#6f6fff 94.5px,#9292ff 111.5px,#8d8dff 125.5px,#6666ff 137.5px,#4949ff 144px)"></i><i style="background:linear-gradient(#0909ff 0px,#2222ff 34.5px,#5959ff 60.5px,#7c7cff 68.5px,#9999ff 71.5px,#7474ff 72.5px,#5f5fff 73.5px,#4848ff 81.5px,#5959ff 94.5px,#7979ff 114.5px,#6b6bff 129.5px,#3c3cff 144px)"></i><i style="background:linear-gradient(#0808ff 0px,#2222ff 36.5px,#5555ff 62.5px,#7878ff 69.5px,#8181ff 70.5px,#7575ff 71.5px,#5c5cff 72.5px,#3e3eff 80.5px,#4242ff 92.5px,#5e5eff 117.5px,#4b4bff 133.5px,#2f2fff 144px)"></i><i style="background:linear-gradient(#0808ff 0px,#1f1fff 37.5px,#4e4eff 63.5px,#7070ff 70.5px,#5a5aff 71.5px,#3737ff 79.5px,#3030ff 91.5px,#4343ff 119.5px,#2d2dff 138.5px,#2222ff 144px)"></i><i style="background:linear-gradient(#0707ff 0px,#1f1fff 40.5px,#4848ff 64.5px,#6161ff 69.5px,#3333ff 78.5px,#2222ff 91.5px,#2a2aff 124.5px,#1616ff 144px)"></i><i style="background:linear-gradient(#0606ff 0px,#1d1dff 42.5px,#3f3fff 64.5px,#5959ff 69.5px,#2a2aff 79.5px,#1515ff 94.5px,#0e0eff 140.5px,#0c0cff 144px)"></i><i style="background:linear-gradient(#0606ff 0px,#1d1dff 46.5px,#3939ff 65.5px,#4141ff 67.5px,#5555ff 69.5px,#2929ff 78.5px,#0d0dff 94.5px,#0505ff 144px)"></i><i style="background:linear-gradient(#0505ff 0px,#1c1cff 50.5px,#3434ff 66.5px,#5858ff 68.5px,#2b2bff 77.5px,#1212ff 92.5px,#0909ff 144px)"></i><i style="background:linear-gradient(#0505ff 0px,#1b1bff 55.5px,#2c2cff 66.5px,#5050ff 67.5px,#5454ff 68.5px,#2c2cff 77.5px,#1d1dff 91.5px,#2727ff 124.5px,#1515ff 144px)"></i><i style="background:linear-gradient(#0505ff 0px,#1919ff 59.5px,#2222ff 65.5px,#3333ff 66.5px,#5858ff 67.5px,#3333ff 75.5px,#2a2aff 87.5px,#4747ff 118.5px,#3434ff 136.5px,#2424ff 144px)"></i><i style="background:linear-gradient(#0404ff 0px,#1717ff 62.5px,#1c1cff 65.5px,#5c5cff 66.5px,#3939ff 74.5px,#3535ff 84.5px,#6969ff 113.5px,#5e5eff 129.5px,#3535ff 144px)"></i><i style="background:linear-gradient(#0404ff 0px,#1515ff 64.5px,#2929ff 65.5px,#5a5aff 66.5px,#3c3cff 74.5px,#4343ff 84.5px,#8484ff 107.5px,#8b8bff 120.5px,#7575ff 132.5px,#4646ff 144px)"></i><i style="background:linear-gradient(#0404ff 0px,#1111ff 64.5px,#4c4cff 65.5px,#5959ff 66.5px,#4141ff 73.5px,#4b4bff 82.5px,#9f9fff 104.5px,#aeaeff 118.5px,#9999ff 130.5px,#5757ff 144px)"></i><i style="background:linear-gradient(#0404ff 0px,#0e0eff 64.5px,#5e5eff 65.5px,#4646ff 72.5px,#5050ff 80.5px,#babaff 102.5px,#d0d0ff 115.5px,#c1c1ff 127.5px,#9090ff 137.5px,#6767ff 144px)"></i><i style="background:linear-gradient(#0404ff 0px,#0c0cff 63.5px,#5e5eff 65.5px,#4949ff 72.5px,#5a5aff 80.5px,#d4d4ff 101.5px,#ececff 112.5px,#e6e6ff 124.5px,#c0c0ff 133.5px,#7676ff 144px)"></i><i style="background:linear-gradient(#0404ff 0px,#0c0cff 63.5px,#5e5eff 65.5px,#4c4cff 72.5px,#5f5fff 79.5px,#ebebff 100.5px,#fbf8fd 105.5px,#fff7f7 120.5px,#f6f6ff 127.5px,#c0c0ff 136.5px,#8383ff 144px)"></i><i style="background:linear-gradient(#0404ff 0px,#0f0fff 63.5px,#6060ff 65.5px,#5050ff 71.5px,#6262ff 78.5px,#aaaaff 88.5px,#f7f7ff 98.5px,#fff2f2 102.5px,#ffdede 112.5px,#ffe7e7 124.5px,#fcfafe 130.5px,#c8c8ff 137.5px,#8f8fff 144px)"></i><i style="background:linear-gradient(#0404ff 0px,#1313ff 64.5px,#6363ff 65.5px,#5454ff 71.5px,#6969ff 78.5px,#b8b8ff 88.5px,#fcfbfe 96.5px,#ffd1d1 106.5px,#ffcbcb 119.5px,#ffe4e4 128.5px,#fefbfc 132.5px,#dfdfff 136.5px,#9898ff 144px)"></i><i style="background:linear-gradient(#0404ff 0px,#1515ff 61.5px,#1919ff 64.5px,#6666ff 65.5px,#5757ff 71.5px,#6e6eff 78.5px,#c3c3ff 88.5px,#fbfbff 94.5px,#ffe4e4 98.5px,#ffc1c1 106.5px,#ffbbbb 119.5px,#ffd1d1 127.5px,#fcfcfe 134.5px,#a0a0ff 144px)"></i><i style="background:linear-gradient(#0505ff 0px,#1717ff 58.5px,#1f1fff 64.5px,#6464ff 66.5px,#5b5bff 72.5px,#7a7aff 79.5px,#fcfcfe 93.5px,#ffc2c2 102.5px,#ffafaf 111.5px,#ffb7b7 123.5px,#ffdfdf 131.5px,#fcfcff 135.5px,#a5a5ff 144px)"></i><i style="background:linear-gradient(#0505ff 0px,#1919ff 55.5px,#2626ff 64.5px,#3939ff 65.5px,#6666ff 66.5px,#5e5eff 72.5px,#7676ff 78.5px,#c6c6ff 87.5px,#f9f9ff 92.5px,#fffbfb 93.5px,#ffc0c0 101.5px,#ffa9a9 109.5px,#ffafaf 122.5px,#ffd3d3 130.5px,#fffdfd 135.5px,#a8a8ff 144px)"></i><i style="background:linear-gradient(#0505ff 0px,#1a1aff 51.5px,#3030ff 65.5px,#6969ff 66.5px,#6060ff 72.5px,#7777ff 78.5px,#c8c8ff 87.5px,#fbfbff 92.5px,#fff1f1 94.5px,#ffbaba 102.5px,#ffa7a7 111.5px,#ffb0b0 123.5px,#ffd9d9 131.5px,#fffcfc 135.5px,#ccccff 140.5px,#a9a9ff 144px)"></i><i style="background:linear-gradient(#0505ff 0px,#1b1bff 47.5px,#3333ff 64.5px,#3737ff 65.5px,#6868ff 67.5px,#6262ff 73.5px,#8585ff 80.5px,#fffcfc 93.5px,#ffc3c3 101.5px,#ffacac 109.5px,#ffb2b2 122.5px,#ffd5d5 130.5px,#fefdfe 135.5px,#a7a7ff 144px)"></i><i style="background:linear-gradient(#0606ff 0px,#1c1cff 44.5px,#3a3aff 64.5px,#4242ff 66.5px,#6a6aff 67.5px,#6363ff 73.5px,#8282ff 80.5px,#f9f9ff 93.5px,#fff4f4 95.5px,#ffc4c4 103.5px,#ffb4b4 113.5px,#ffc0c0 124.5px,#ffeded 132.5px,#fefcfd 134.5px,#c3c3ff 140.5px,#a2a2ff 144px)"></i><i style="background:linear-gradient(#0606ff 0px,#1d1dff 42.5px,#3e3eff 63.5px,#4a4aff 66.5px,#6868ff 68.5px,#6363ff 74.5px,#8585ff 81.5px,#fcfbfe 95.5px,#ffd0d0 104.5px,#ffc4c4 115.5px,#ffd2d2 125.5px,#fcfbfe 133.5px,#9b9bff 144px)"></i><i style="background:linear-gradient(#0606ff 0px,#1e1eff 40.5px,#4444ff 63.5px,#5656ff 67.5px,#6a6aff 68.5px,#6161ff 74.5px,#7d7dff 81.5px,#f8f8ff 97.5px,#fff0f0 101.5px,#ffd9d9 111.5px,#ffe0e0 123.5px,#faf9fe 131.5px,#aeaeff 140.5px,#9191ff 144px)"></i><i style="background:linear-gradient(#0606ff 0px,#1e1eff 38.5px,#4a4aff 63.5px,#6767ff 69.5px,#5f5fff 75.5px,#7979ff 82.5px,#ebebff 99.5px,#fbf8fb 104.5px,#fff4f4 119.5px,#f4f4ff 128.5px,#b9b9ff 137.5px,#8484ff 144px)"></i><i style="background:linear-gradient(#0606ff 0px,#1e1eff 36.5px,#4d4dff 62.5px,#6a6aff 68.5px,#5b5bff 75.5px,#7272ff 83.5px,#d6d6ff 101.5px,#ededff 113.5px,#e2e2ff 125.5px,#b9b9ff 134.5px,#7575ff 144px)"></i><i style="background:linear-gradient(#0707ff 0px,#1f1fff 35.5px,#5353ff 62.5px,#6f6fff 69.5px,#5c5cff 72.5px,#5959ff 79.5px,#8484ff 90.5px,#bbbbff 103.5px,#cbcbff 117.5px,#b9b9ff 128.5px,#7f7fff 139.5px,#6464ff 144px)"></i><i style="background:linear-gradient(#0707ff 0px,#1f1fff 34.5px,#5858ff 62.5px,#7676ff 68.5px,#7e7eff 69.5px,#5f5fff 71.5px,#4f4fff 78.5px,#6464ff 88.5px,#9c9cff 105.5px,#a6a6ff 119.5px,#8e8eff 131.5px,#5252ff 144px)"></i><i style="background:linear-gradient(#0707ff 0px,#1f1fff 33.5px,#5b5bff 61.5px,#7b7bff 68.5px,#8383ff 70.5px,#6060ff 71.5px,#4848ff 78.5px,#4f4fff 88.5px,#7d7dff 109.5px,#7e7eff 123.5px,#5d5dff 136.5px,#4040ff 144px)"></i><i style="background:linear-gradient(#0707ff 0px,#1f1fff 32.5px,#5a5aff 59.5px,#8181ff 68.5px,#9393ff 70.5px,#6f6fff 71.5px,#5a5aff 72.5px,#3e3eff 80.5px,#4343ff 93.5px,#5e5eff 117.5px,#4b4bff 133.5px,#2f2fff 144px)"></i><i style="background:linear-gradient(#0707ff 0px,#1f1fff 31.5px,#5c5cff 58.5px,#8787ff 68.5px,#9898ff 70.5px,#9292ff 71.5px,#5b5bff 72.5px,#3838ff 80.5px,#2f2fff 93.5px,#3d3dff 121.5px,#2121ff 142.5px,#1f1fff 144px)"></i><i style="background:linear-gradient(#0707ff 0px,#2121ff 31.5px,#5a5aff 56.5px,#8686ff 67.5px,#a9a9ff 71.5px,#7272ff 72.5px,#5656ff 73.5px,#2e2eff 82.5px,#1f1fff 97.5px,#2020ff 129.5px,#1313ff 144px)"></i><i style="background:linear-gradient(#0808ff 0px,#2020ff 30.5px,#5959ff 54.5px,#8c8cff 67.5px,#afafff 71.5px,#bdbdff 72.5px,#5858ff 73.5px,#2c2cff 82.5px,#1414ff 97.5px,#0a0aff 144px)"></i><i style="background:linear-gradient(#0808ff 0px,#2121ff 30.5px,#5959ff 53.5px,#9393ff 67.5px,#b6b6ff 71.5px,#c3c3ff 72.5px,#9595ff 73.5px,#5454ff 74.5px,#2929ff 83.5px,#0e0eff 99.5px,#0505ff 144px)"></i><i style="background:linear-gradient(#0808ff 0px,#2121ff 29.5px,#5757ff 51.5px,#9999ff 67.5px,#bdbdff 71.5px,#dbdbff 73.5px,#5858ff 74.5px,#2a2aff 83.5px,#0d0dff 99.5px,#0303ff 144px)"></i><i style="background:linear-gradient(#0909ff 0px,#2222ff 29.5px,#5a5aff 51.5px,#a0a0ff 67.5px,#c5c5ff 71.5px,#e4e4ff 73.5px,#8181ff 74.5px,#5454ff 75.5px,#2929ff 84.5px,#0e0eff 100.5px,#0505ff 144px)"></i><i style="background:linear-gradient(#0909ff 0px,#2222ff 28.5px,#5757ff 49.5px,#a1a1ff 66.5px,#cdcdff 71.5px,#ededff 73.5px,#d4d2fd 74.5px,#5757ff 75.5px,#2b2bff 84.5px,#1414ff 99.5px,#0909ff 144px)"></i><i style="background:linear-gradient(#0909ff 0px,#2323ff 28.5px,#5a5aff 49.5px,#a7a7ff 66.5px,#d6d6ff 71.5px,#f7f7ff 73.5px,#fff5f5 74.5px,#5b5bff 75.5px,#3030ff 84.5px,#1d1dff 99.5px,#1313ff 138.5px,#0f0fff 144px)"></i><i style="background:linear-gradient(#0a0aff 0px,#2424ff 28.5px,#5959ff 48.5px,#a8a8ff 65.5px,#d2d2ff 70.5px,#fefafc 73.5px,#ffeaea 74.5px,#ae9ded 75.5px,#5959ff 76.5px,#3434ff 85.5px,#2a2aff 101.5px,#2a2aff 127.5px,#1818ff 144px)"></i><i style="background:linear-gradient(#0a0aff 0px,#2525ff 28.5px,#5c5cff 48.5px,#aeaeff 65.5px,#dadaff 70.5px,#f9f9ff 72.5px,#fff2f2 73.5px,#ffdfdf 74.5px,#d8b2da 75.5px,#5e5eff 76.5px,#3f3fff 84.5px,#3c3cff 99.5px,#4343ff 122.5px,#2525ff 142.5px,#2222ff 144px)"></i><i style="background:linear-gradient(#0a0aff 0px,#2424ff 27.5px,#5b5bff 47.5px,#adadff 64.5px,#d5d5ff 69.5px,#fef9fa 72.5px,#ffc3c3 75.5px,#6464ff 76.5px,#4a4aff 84.5px,#5353ff 100.5px,#5e5eff 120.5px,#4444ff 136.5px,#2f2fff 144px)"></i><i style="background:linear-gradient(#0b0bff 0px,#2525ff 27.5px,#5959ff 46.5px,#a5a5ff 62.5px,#d1d1ff 68.5px,#faf9ff 71.5px,#fff2f2 72.5px,#ffb9b9 75.5px,#6c6cff 76.5px,#5757ff 84.5px,#7e7eff 115.5px,#6d6dff 130.5px,#3e3eff 144px)"></i><i style="background:linear-gradient(#0b0bff 0px,#2626ff 27.5px,#5b5bff 46.5px,#a9a9ff 62.5px,#d6d6ff 68.5px,#fefafb 71.5px,#ffb1b1 75.5px,#6f6fff 77.5px,#6767ff 85.5px,#9b9bff 109.5px,#9797ff 124.5px,#7171ff 136.5px,#4e4eff 144px)"></i><i style="background:linear-gradient(#0c0cff 0px,#2727ff 27.5px,#5d5dff 46.5px,#adadff 62.5px,#dbdbff 68.5px,#f7f7ff 70.5px,#fff5f5 71.5px,#ffa8a8 75.5px,#7777ff 77.5px,#7676ff 84.5px,#b7b7ff 105.5px,#bcbcff 120.5px,#a2a2ff 131.5px,#5e5eff 144px)"></i><i style="background:linear-gradient(#0c0cff 0px,#2828ff 27.5px,#5e5eff 46.5px,#afafff 62.5px,#dfdfff 68.5px,#fbfbfe 70.5px,#ffdbdb 72.5px,#ffa2a2 75.5px,#8181ff 76.5px,#8383ff 83.5px,#d2d2ff 103.5px,#dedeff 117.5px,#cacaff 128.5px,#9292ff 138.5px,#6d6dff 144px)"></i><i style="background:linear-gradient(#0c0cff 0px,#2929ff 27.5px,#5f5fff 46.5px,#aaaaff 61.5px,#e2e2ff 68.5px,#fdfbfd 70.5px,#ff9e9e 75.5px,#8888ff 76.5px,#9090ff 83.5px,#e9e9ff 101.5px,#f9f8fe 111.5px,#f1f1ff 124.5px,#c9c9ff 133.5px,#7b7bff 144px)"></i><i style="background:linear-gradient(#0c0cff 0px,#2929ff 27.5px,#5f5fff 46.5px,#ababff 61.5px,#e2e2ff 68.5px,#fefbfc 70.5px,#ff9d9d 75.5px,#8d8dff 76.5px,#9797ff 82.5px,#f9f9ff 99.5px,#ffecec 112.5px,#fff6f6 124.5px,#f9f9ff 128.5px,#bdbdff 137.5px,#8686ff 144px)"></i><i style="background:linear-gradient(#0c0cff 0px,#2929ff 27.5px,#5f5fff 46.5px,#a9a9ff 61.5px,#e1e1ff 68.5px,#fdfafc 70.5px,#ffa0a0 75.5px,#9191ff 76.5px,#9e9eff 82.5px,#fefcfd 97.5px,#ffdddd 107.5px,#ffe1e1 122.5px,#fdfcfe 130.5px,#bfbfff 138.5px,#8f8fff 144px)"></i><i style="background:linear-gradient(#0c0cff 0px,#2828ff 27.5px,#5e5eff 46.5px,#adadff 62.5px,#dfdfff 68.5px,#fcfbfe 70.5px,#ffdada 72.5px,#ffb3b3 74.5px,#e4a1bc 75.5px,#9292ff 76.5px,#a2a2ff 82.5px,#fdfdff 95.5px,#ffd5d5 105.5px,#ffd3d3 120.5px,#fff1f1 129.5px,#fffdfd 131.5px,#d0d0ff 137.5px,#9494ff 144px)"></i><i style="background:linear-gradient(#0c0cff 0px,#2828ff 27.5px,#5c5cff 46.5px,#a9a9ff 62.5px,#dadaff 68.5px,#f7f7ff 70.5px,#fff4f4 71.5px,#ffbbbb 74.5px,#c9a1d7 75.5px,#9292ff 76.5px,#a3a3ff 82.5px,#fffdfe 95.5px,#ffd4d4 104.5px,#ffcece 117.5px,#ffdfdf 126.5px,#fcfcff 132.5px,#9696ff 144px)"></i><i style="background:linear-gradient(#0c0cff 0px,#2929ff 28.5px,#6161ff 48.5px,#aaaaff 63.5px,#d3d3ff 68.5px,#fefafb 71.5px,#ffc5c5 74.5px,#c7a5dd 75.5px,#9090ff 76.5px,#a0a0ff 82.5px,#fcfcff 95.5px,#ffd6d6 105.5px,#ffd3d3 119.5px,#ffecec 128.5px,#fffdfd 131.5px,#c6c6ff 138.5px,#9494ff 144px)"></i><i style="background:linear-gradient(#0c0cff 0px,#2727ff 28.5px,#5d5dff 48.5px,#aaaaff 64.5px,#d8d8ff 69.5px,#f8f8ff 71.5px,#fff4f4 72.5px,#ffd2d2 74.5px,#8c8cff 75.5px,#9696ff 81.5px,#fdfcfe 97.5px,#ffdddd 107.5px,#ffe1e1 122.5px,#fdfcfe 130.5px,#bfbfff 138.5px,#8f8fff 144px)"></i><i style="background:linear-gradient(#0b0bff 0px,#2727ff 29.5px,#5d5dff 49.5px,#a2a2ff 64.5px,#cdcdff 69.5px,#fbfafe 72.5px,#ffe1e1 74.5px,#8787ff 75.5px,#8e8eff 81.5px,#f9f9ff 99.5px,#ffeaea 112.5px,#fff5f5 124.5px,#fafaff 128.5px,#bebeff 137.5px,#8787ff 144px)"></i><i style="background:linear-gradient(#0b0bff 0px,#2626ff 29.5px,#5b5bff 50.5px,#9f9fff 65.5px,#c2c2ff 69.5px,#fcfafd 73.5px,#dfd6f5 74.5px,#8181ff 75.5px,#8585ff 81.5px,#f0f0ff 102.5px,#fcf9fc 110.5px,#f6f6ff 124.5px,#cdcdff 133.5px,#7e7eff 144px)"></i><i style="background:linear-gradient(#0a0aff 0px,#2525ff 30.5px,#5c5cff 52.5px,#9b9bff 66.5px,#cfcfff 71.5px,#ececff 73.5px,#b9b9ff 74.5px,#7a7aff 75.5px,#7d7dff 82.5px,#d9d9ff 102.5px,#e9e9ff 115.5px,#dbdbff 126.5px,#a8a8ff 136.5px,#7373ff 144px)"></i><i style="background:linear-gradient(#0a0aff 0px,#2424ff 31.5px,#5959ff 53.5px,#8f8fff 66.5px,#bfbfff 71.5px,#d9d9ff 73.5px,#acacff 74.5px,#7373ff 75.5px,#7171ff 82.5px,#c4c4ff 104.5px,#cfcfff 118.5px,#b9b9ff 129.5px,#7474ff 141.5px,#6666ff 144px)"></i><i style="background:linear-gradient(#0909ff 0px,#2323ff 32.5px,#5858ff 55.5px,#8989ff 67.5px,#c7c7ff 73.5px,#7070ff 74.5px,#6464ff 81.5px,#8787ff 93.5px,#afafff 107.5px,#b2b2ff 121.5px,#9696ff 132.5px,#5959ff 144px)"></i><i style="background:linear-gradient(#0909ff 0px,#2121ff 33.5px,#5959ff 58.5px,#8383ff 68.5px,#b4b4ff 73.5px,#6969ff 74.5px,#5959ff 81.5px,#7272ff 93.5px,#9696ff 109.5px,#9696ff 123.5px,#7373ff 135.5px,#4c4cff 144px)"></i><i style="background:linear-gradient(#0808ff 0px,#2020ff 34.5px,#5555ff 60.5px,#7c7cff 69.5px,#9797ff 72.5px,#8383ff 73.5px,#6363ff 74.5px,#4e4eff 82.5px,#6464ff 96.5px,#7f7fff 115.5px,#6f6fff 130.5px,#3f3fff 144px)"></i><i style="background:linear-gradient(#0707ff 0px,#1f1fff 36.5px,#5454ff 63.5px,#7575ff 70.5px,#8585ff 72.5px,#7777ff 73.5px,#5e5eff 74.5px,#4444ff 82.5px,#4f4fff 96.5px,#6464ff 117.5px,#5050ff 133.5px,#3232ff 144px)"></i><i style="background:linear-gradient(#0707ff 0px,#1e1eff 38.5px,#4f4fff 65.5px,#7575ff 72.5px,#5f5fff 73.5px,#3d3dff 81.5px,#3939ff 94.5px,#4a4aff 119.5px,#3434ff 137.5px,#2525ff 144px)"></i><i style="background:linear-gradient(#0606ff 0px,#1c1cff 40.5px,#4747ff 66.5px,#6565ff 72.5px,#3d3dff 79.5px,#2929ff 91.5px,#3030ff 124.5px,#1a1aff 144px)"></i><i style="background:linear-gradient(#0606ff 0px,#1b1bff 43.5px,#4040ff 67.5px,#5858ff 73.5px,#2e2eff 82.5px,#1b1bff 97.5px,#1515ff 135.5px,#0f0fff 144px)"></i><i style="background:linear-gradient(#0505ff 0px,#1a1aff 46.5px,#3838ff 68.5px,#4444ff 71.5px,#5656ff 73.5px,#2a2aff 82.5px,#1010ff 98.5px,#0606ff 144px)"></i><i style="background:linear-gradient(#0505ff 0px,#1919ff 50.5px,#3232ff 69.5px,#3838ff 71.5px,#5454ff 73.5px,#2929ff 82.5px,#0f0fff 98.5px,#0606ff 144px)"></i><i style="background:linear-gradient(#0505ff 0px,#1818ff 55.5px,#2e2eff 71.5px,#5b5bff 72.5px,#2f2fff 81.5px,#1d1dff 95.5px,#1b1bff 131.5px,#1111ff 144px)"></i><i style="background:linear-gradient(#0404ff 0px,#1818ff 61.5px,#2525ff 71.5px,#5c5cff 72.5px,#3838ff 80.5px,#2f2fff 93.5px,#3d3dff 121.5px,#2121ff 142.5px,#1f1fff 144px)"></i><i style="background:linear-gradient(#0404ff 0px,#1616ff 65.5px,#1e1eff 71.5px,#5e5eff 72.5px,#4040ff 80.5px,#4343ff 92.5px,#5f5fff 117.5px,#4c4cff 133.5px,#2f2fff 144px)"></i><i style="background:linear-gradient(#0404ff 0px,#1414ff 68.5px,#1616ff 70.5px,#2c2cff 71.5px,#6161ff 72.5px,#4a4aff 79.5px,#5555ff 90.5px,#7f7fff 111.5px,#7a7aff 126.5px,#4d4dff 140.5px,#4040ff 144px)"></i><i style="background:linear-gradient(#0404ff 0px,#1212ff 70.5px,#6464ff 72.5px,#5353ff 79.5px,#6767ff 89.5px,#9b9bff 106.5px,#a4a4ff 119.5px,#8c8cff 131.5px,#5151ff 144px)"></i><i style="background:linear-gradient(#0404ff 0px,#0f0fff 70.5px,#6868ff 72.5px,#5d5dff 79.5px,#7c7cff 89.5px,#b8b8ff 104.5px,#c6c6ff 118.5px,#b1b1ff 129.5px,#6f6fff 141.5px,#6262ff 144px)"></i><i style="background:linear-gradient(#0404ff 0px,#0e0eff 70.5px,#6c6cff 72.5px,#6666ff 79.5px,#9191ff 89.5px,#d1d1ff 102.5px,#e6e6ff 115.5px,#d8d8ff 126.5px,#a5a5ff 136.5px,#7171ff 144px)"></i><i style="background:linear-gradient(#0404ff 0px,#1111ff 70.5px,#7070ff 72.5px,#6d6dff 78.5px,#9797ff 87.5px,#e5e5ff 100.5px,#faf8fd 108.5px,#f8f8ff 124.5px,#cfcfff 133.5px,#7f7fff 144px)"></i><i style="background:linear-gradient(#0404ff 0px,#1616ff 60.5px,#2222ff 70.5px,#7373ff 72.5px,#7474ff 78.5px,#9e9eff 86.5px,#f5f5ff 99.5px,#fff8f8 103.5px,#ffe8e8 115.5px,#fff8f8 126.5px,#f9f9ff 129.5px,#b7b7ff 138.5px,#8989ff 144px)"></i><i style="background:linear-gradient(#0505ff 0px,#1919ff 45.5px,#3939ff 68.5px,#4040ff 70.5px,#7676ff 72.5px,#7979ff 78.5px,#a6a6ff 86.5px,#fdfcfe 98.5px,#ffdede 108.5px,#ffe0e0 122.5px,#fefdfe 130.5px,#c0c0ff 138.5px,#8f8fff 144px)"></i><i style="background:linear-gradient(#0606ff 0px,#1c1cff 37.5px,#4f4fff 65.5px,#6464ff 70.5px,#7878ff 72.5px,#7c7cff 78.5px,#adadff 86.5px,#fafaff 96.5px,#fff7f7 98.5px,#ffd7d7 107.5px,#ffd7d7 121.5px,#fff2f2 129.5px,#fefdfe 131.5px,#b2b2ff 140.5px,#9393ff 144px)"></i><i style="background:linear-gradient(#0707ff 0px,#1f1fff 32.5px,#5c5cff 60.5px,#8282ff 69.5px,#8f8fff 71.5px,#7a7aff 72.5px,#7f7fff 78.5px,#b1b1ff 86.5px,#fefdfe 96.5px,#ffd6d6 105.5px,#ffd0d0 119.5px,#ffe9e9 128.5px,#fcfcff 132.5px,#9595ff 144px)"></i><i style="background:linear-gradient(#0808ff 0px,#2121ff 29.5px,#5c5cff 53.5px,#9494ff 67.5px,#b7b7ff 71.5px,#7b7bff 72.5px,#8181ff 78.5px,#b3b3ff 86.5px,#fbfbff 95.5px,#ffefef 98.5px,#ffd0d0 107.5px,#ffd3d3 122.5px,#fff4f4 130.5px,#fdfdff 132.5px,#9696ff 144px)"></i><i style="background:linear-gradient(#0909ff 0px,#2424ff 28.5px,#5f5fff 50.5px,#a3a3ff 66.5px,#d2d2ff 71.5px,#7c7cff 72.5px,#8181ff 78.5px,#b3b3ff 86.5px,#fbfbff 95.5px,#fff6f6 97.5px,#ffd3d3 106.5px,#ffd3d3 121.5px,#ffefef 129.5px,#fbfbff 132.5px,#9595ff 144px)"></i></div><div class="hm" style="left:83px;top:717px;width:594px;height:144px"><i style="background:linear-gradient(#0c0cff 0px,#2828ff 36.5px,#4d4dff 51.5px,#7777ff 58.5px,#9d9dff 61.5px,#e3e3ff 64.5px,#fdfafc 65.5px,#ffaaaa 70.5px,#ffa3a3 71.5px,#5a5aff 73.5px,#5656ff 78.5px,#7373ff 83.5px,#b4b4ff 88.5px,#fdfbfe 92.5px,#ff8181 104.5px,#ff5a5a 111.5px,#ff5353 121.5px,#ff6b6b 128.5px,#ffa5a5 135.5px,#fff5f5 142.5px,#fafafe 144px)"></i><i style="background:linear-gradient(#0c0cff 0px,#2828ff 35.5px,#4d4dff 50.5px,#7c7cff 58.5px,#a1a1ff 61.5px,#fffafa 65.5px,#ffb3b3 69.5px,#ff9f9f 71.5px,#5a5aff 73.5px,#5555ff 78.5px,#6f6fff 83.5px,#adadff 88.5px,#f4f4ff 92.5px,#fffafa 93.5px,#ff8484 105.5px,#ff6262 112.5px,#ff5e5e 122.5px,#ff7a7a 129.5px,#ffc2c2 137.5px,#fffafa 142.5px,#f4f4ff 144px)"></i><i style="background:linear-gradient(#0c0cff 0px,#2828ff 33.5px,#4e4eff 49.5px,#7a7aff 57.5px,#a8a8ff 61.5px,#efefff 64.5px,#fff7f7 65.5px,#ffa3a3 70.5px,#ff9c9c 71.5px,#5959ff 73.5px,#5353ff 79.5px,#6f6fff 84.5px,#ababff 89.5px,#efefff 93.5px,#fcf9fc 94.5px,#ff9393 106.5px,#ff7373 114.5px,#ff7474 123.5px,#ff9292 130.5px,#ffe3e3 139.5px,#fff8f8 141.5px,#f7f6ff 142.5px,#e3e3ff 144px)"></i><i style="background:linear-gradient(#0c0cff 0px,#2929ff 32.5px,#5555ff 49.5px,#8282ff 57.5px,#b1b1ff 61.5px,#f6f6ff 64.5px,#fff3f3 65.5px,#ffa1a1 70.5px,#ff9999 71.5px,#5757ff 73.5px,#4c4cff 79.5px,#6161ff 84.5px,#9f9fff 90.5px,#f7f5fd 96.5px,#ffefef 98.5px,#ffa7a7 108.5px,#ff8d8d 117.5px,#ff9898 126.5px,#ffc7c7 134.5px,#fcf9fc 140.5px,#ddddff 142.5px,#cbcbff 144px)"></i><i style="background:linear-gradient(#0c0cff 0px,#2828ff 30.5px,#5353ff 47.5px,#8383ff 56.5px,#aaaaff 60.5px,#e2e2ff 63.5px,#fbf9fe 64.5px,#ffdfdf 66.5px,#ff9f9f 70.5px,#ff9797 71.5px,#d68ab3 72.5px,#5555ff 73.5px,#4545ff 79.5px,#5555ff 85.5px,#8888ff 91.5px,#f0effe 99.5px,#fff1f1 102.5px,#ffbebe 112.5px,#ffb1b1 120.5px,#ffc6c6 129.5px,#fef7f8 137.5px,#ececff 139.5px,#adadff 144px)"></i><i style="background:linear-gradient(#0c0cff 0px,#2828ff 29.5px,#5858ff 47.5px,#9191ff 57.5px,#bfbfff 61.5px,#fdfafd 64.5px,#ffa1a1 70.5px,#ff9999 71.5px,#ff9c9c 72.5px,#5353ff 73.5px,#3d3dff 80.5px,#4b4bff 87.5px,#7e7eff 94.5px,#efedfd 105.5px,#fff3f3 109.5px,#ffd8d8 119.5px,#ffeaea 129.5px,#fbf5f9 133.5px,#efefff 135.5px,#8c8cff 144px)"></i><i style="background:linear-gradient(#0c0cff 0px,#2727ff 28.5px,#5757ff 46.5px,#8c8cff 56.5px,#b2b2ff 60.5px,#e7e7ff 63.5px,#fcfafd 64.5px,#ffa6a6 70.5px,#ff9e9e 71.5px,#ffa1a1 72.5px,#5252ff 73.5px,#3535ff 81.5px,#3e3eff 89.5px,#7272ff 98.5px,#eaeaff 114.5px,#f5f1fb 120.5px,#e9e9ff 128.5px,#aeaeff 136.5px,#6b6bff 144px)"></i><i style="background:linear-gradient(#0b0bff 0px,#2626ff 28.5px,#5555ff 46.5px,#9191ff 57.5px,#bbbbff 61.5px,#f7f6ff 64.5px,#fff6f6 65.5px,#ffb1b1 70.5px,#ffabab 72.5px,#5151ff 73.5px,#2f2fff 81.5px,#2e2eff 90.5px,#5454ff 100.5px,#babaff 118.5px,#aaaaff 128.5px,#6b6bff 139.5px,#4f4fff 144px)"></i><i style="background:linear-gradient(#0a0aff 0px,#2525ff 29.5px,#5454ff 47.5px,#8888ff 57.5px,#b0b0ff 61.5px,#fcfafd 65.5px,#ffbfbf 70.5px,#ffbaba 72.5px,#5050ff 73.5px,#2929ff 82.5px,#2323ff 92.5px,#4444ff 104.5px,#8383ff 118.5px,#7272ff 130.5px,#3838ff 144px)"></i><i style="background:linear-gradient(#0909ff 0px,#2424ff 30.5px,#5252ff 48.5px,#8686ff 58.5px,#b2b2ff 62.5px,#eeeeff 65.5px,#fefafb 66.5px,#ffcece 70.5px,#ffc9c9 71.5px,#d4abd6 72.5px,#4f4fff 73.5px,#2727ff 82.5px,#1a1aff 94.5px,#3434ff 108.5px,#5757ff 119.5px,#4444ff 133.5px,#2525ff 144px)"></i><i style="background:linear-gradient(#0808ff 0px,#2121ff 30.5px,#4f4fff 49.5px,#7b7bff 58.5px,#a5a5ff 62.5px,#f2f2ff 66.5px,#fffafa 67.5px,#ffd8d8 71.5px,#4e4eff 73.5px,#2323ff 83.5px,#1313ff 97.5px,#2929ff 113.5px,#3535ff 120.5px,#1f1fff 139.5px,#1717ff 144px)"></i><i style="background:linear-gradient(#0808ff 0px,#1f1fff 31.5px,#4c4cff 50.5px,#7979ff 59.5px,#a7a7ff 63.5px,#f4f4ff 67.5px,#fffafa 68.5px,#ffe8e8 71.5px,#4e4eff 73.5px,#2222ff 83.5px,#0e0eff 99.5px,#1e1eff 123.5px,#0e0eff 144px)"></i><i style="background:linear-gradient(#0707ff 0px,#1e1eff 32.5px,#4949ff 51.5px,#6f6fff 59.5px,#9a9aff 63.5px,#f3f3ff 68.5px,#fefbfd 69.5px,#fff6f6 71.5px,#4d4dff 73.5px,#2222ff 83.5px,#0b0bff 100.5px,#0c0cff 134.5px,#0808ff 144px)"></i><i style="background:linear-gradient(#0606ff 0px,#1d1dff 33.5px,#4646ff 52.5px,#6e6eff 60.5px,#9e9eff 64.5px,#ededff 69.5px,#f7f7ff 71.5px,#5252ff 72.5px,#2424ff 82.5px,#0a0aff 99.5px,#0505ff 144px)"></i><i style="background:linear-gradient(#0606ff 0px,#1b1bff 34.5px,#4343ff 53.5px,#6767ff 60.5px,#a5a5ff 65.5px,#dcdcff 69.5px,#e0e0ff 71.5px,#5151ff 72.5px,#2323ff 82.5px,#0a0aff 100.5px,#0303ff 144px)"></i><i style="background:linear-gradient(#0505ff 0px,#1a1aff 35.5px,#4141ff 54.5px,#6161ff 60.5px,#9d9dff 65.5px,#ceceff 69.5px,#ceceff 70.5px,#afafff 71.5px,#4f4fff 72.5px,#2323ff 82.5px,#0909ff 100.5px,#0303ff 144px)"></i><i style="background:linear-gradient(#0505ff 0px,#1919ff 36.5px,#3d3dff 54.5px,#5d5dff 60.5px,#bfbfff 68.5px,#c1c1ff 70.5px,#4e4eff 72.5px,#2222ff 82.5px,#0909ff 100.5px,#0303ff 144px)"></i><i style="background:linear-gradient(#0505ff 0px,#1a1aff 38.5px,#3d3dff 55.5px,#5a5aff 60.5px,#bcbcff 68.5px,#b6b6ff 70.5px,#6a6aff 71.5px,#4c4cff 72.5px,#2222ff 82.5px,#0909ff 101.5px,#0303ff 144px)"></i><i style="background:linear-gradient(#0505ff 0px,#1919ff 39.5px,#3a3aff 55.5px,#5a5aff 60.5px,#b4b4ff 67.5px,#bbbbff 69.5px,#afafff 70.5px,#5151ff 71.5px,#2424ff 81.5px,#0a0aff 99.5px,#0303ff 144px)"></i><i style="background:linear-gradient(#0505ff 0px,#1919ff 40.5px,#3939ff 55.5px,#5b5bff 60.5px,#b9b9ff 67.5px,#c0c0ff 68.5px,#bbbbff 69.5px,#9797ff 70.5px,#4f4fff 71.5px,#2323ff 81.5px,#0a0aff 99.5px,#0606ff 144px)"></i><i style="background:linear-gradient(#0505ff 0px,#1919ff 40.5px,#3939ff 55.5px,#5e5eff 60.5px,#c2c2ff 67.5px,#c8c8ff 68.5px,#bfbfff 69.5px,#4e4eff 71.5px,#2222ff 81.5px,#0c0cff 98.5px,#1616ff 126.5px,#0b0bff 144px)"></i><i style="background:linear-gradient(#0505ff 0px,#1919ff 41.5px,#3939ff 55.5px,#5757ff 59.5px,#a5a5ff 64.5px,#ceceff 67.5px,#d2d2ff 68.5px,#c5c5ff 69.5px,#6a6aff 70.5px,#4c4cff 71.5px,#2222ff 81.5px,#1010ff 96.5px,#2323ff 113.5px,#2e2eff 120.5px,#1414ff 144px)"></i><i style="background:linear-gradient(#0505ff 0px,#1a1aff 41.5px,#3737ff 54.5px,#5151ff 58.5px,#8c8cff 62.5px,#d3d3ff 66.5px,#e0e0ff 68.5px,#ceceff 69.5px,#5151ff 70.5px,#2727ff 79.5px,#1616ff 92.5px,#2b2bff 106.5px,#5151ff 118.5px,#3f3fff 133.5px,#2323ff 144px)"></i><i style="background:linear-gradient(#0606ff 0px,#1b1bff 41.5px,#3a3aff 54.5px,#5757ff 58.5px,#8484ff 61.5px,#e5e5ff 66.5px,#f0f0ff 68.5px,#b9b9ff 69.5px,#5050ff 70.5px,#2828ff 79.5px,#1e1eff 90.5px,#3a3aff 102.5px,#7f7fff 118.5px,#6e6eff 130.5px,#3636ff 144px)"></i><i style="background:linear-gradient(#0606ff 0px,#1b1bff 40.5px,#3939ff 53.5px,#5e5eff 58.5px,#9090ff 61.5px,#e8e8ff 65.5px,#f8f7ff 66.5px,#fefcfd 68.5px,#4e4eff 70.5px,#2a2aff 79.5px,#2929ff 89.5px,#5454ff 100.5px,#b7b7ff 117.5px,#ababff 127.5px,#7777ff 137.5px,#4e4eff 144px)"></i><i style="background:linear-gradient(#0707ff 0px,#1d1dff 40.5px,#3e3eff 53.5px,#5a5aff 57.5px,#8787ff 60.5px,#faf9fe 65.5px,#fff3f3 67.5px,#fff5f5 68.5px,#a7a7ff 69.5px,#4e4eff 70.5px,#2f2fff 78.5px,#3131ff 86.5px,#5b5bff 95.5px,#ededff 115.5px,#f2f0fd 122.5px,#e7e7ff 127.5px,#b2b2ff 135.5px,#6969ff 144px)"></i><i style="background:linear-gradient(#0808ff 0px,#1e1eff 39.5px,#3f3fff 52.5px,#6262ff 57.5px,#9494ff 60.5px,#f8f7fe 64.5px,#ffe8e8 67.5px,#ffecec 68.5px,#5353ff 69.5px,#3535ff 77.5px,#3b3bff 84.5px,#6161ff 91.5px,#efeefe 106.5px,#fff2f2 111.5px,#ffe0e0 119.5px,#fff1f1 129.5px,#f5f3fd 133.5px,#c1c1ff 138.5px,#8686ff 144px)"></i><i style="background:linear-gradient(#0909ff 0px,#2020ff 38.5px,#4040ff 51.5px,#5f5fff 56.5px,#8b8bff 59.5px,#f1f1ff 63.5px,#fff8f8 64.5px,#ffdede 67.5px,#ffe3e3 68.5px,#5353ff 69.5px,#3b3bff 76.5px,#4646ff 83.5px,#7979ff 90.5px,#f0effe 100.5px,#fff4f4 103.5px,#ffc5c5 114.5px,#ffbfbf 121.5px,#ffd8d8 130.5px,#fdf8fa 136.5px,#eaeaff 138.5px,#a3a3ff 144px)"></i><i style="background:linear-gradient(#0909ff 0px,#2323ff 38.5px,#4545ff 51.5px,#6767ff 56.5px,#9696ff 59.5px,#fdfafc 63.5px,#ffd9d9 66.5px,#ffd4d4 67.5px,#d5b9e3 68.5px,#5353ff 69.5px,#4040ff 76.5px,#5050ff 82.5px,#8383ff 88.5px,#f1f0ff 96.5px,#fff6f6 98.5px,#ffb7b7 108.5px,#ff9d9d 118.5px,#ffadad 127.5px,#ffe5e5 136.5px,#fcf9fc 139.5px,#dfdfff 141.5px,#bebeff 144px)"></i><i style="background:linear-gradient(#0a0aff 0px,#2424ff 37.5px,#4646ff 50.5px,#6f6fff 56.5px,#a0a0ff 59.5px,#f2f2ff 62.5px,#fff6f6 63.5px,#ffd0d0 66.5px,#ffcbcb 67.5px,#5454ff 69.5px,#4545ff 75.5px,#5858ff 81.5px,#9292ff 87.5px,#eeeeff 93.5px,#faf7fc 94.5px,#ffeded 96.5px,#ffa1a1 106.5px,#ff8383 115.5px,#ff8888 124.5px,#ffb1b1 132.5px,#fff8f8 140.5px,#f9f8fe 141.5px,#d5d5ff 144px)"></i><i style="background:linear-gradient(#0b0bff 0px,#2525ff 36.5px,#4646ff 49.5px,#6b6bff 55.5px,#9494ff 58.5px,#dfdfff 61.5px,#fbf9fd 62.5px,#ffc9c9 66.5px,#ffc4c4 67.5px,#5555ff 69.5px,#4949ff 75.5px,#5c5cff 80.5px,#8d8dff 85.5px,#fbf9fd 92.5px,#ff9393 104.5px,#ff7070 112.5px,#ff6e6e 122.5px,#ff8989 129.5px,#ffd7d7 138.5px,#fbfafe 142.5px,#e8e8ff 144px)"></i><i style="background:linear-gradient(#0b0bff 0px,#2626ff 35.5px,#4a4aff 49.5px,#7070ff 55.5px,#9b9bff 58.5px,#e8e8ff 61.5px,#fffafa 62.5px,#ffc4c4 66.5px,#ffbfbf 67.5px,#5555ff 69.5px,#4d4dff 75.5px,#6464ff 80.5px,#9b9bff 85.5px,#f0f0ff 90.5px,#fefbfc 91.5px,#ff8888 103.5px,#ff6363 110.5px,#ff5b5b 120.5px,#ff7070 127.5px,#ffaeae 135.5px,#fff9f9 142.5px,#f6f6ff 144px)"></i><i style="background:linear-gradient(#0c0cff 0px,#2828ff 35.5px,#4d4dff 49.5px,#7474ff 55.5px,#a0a0ff 58.5px,#eeeeff 61.5px,#fff7f7 62.5px,#ffc1c1 66.5px,#ffbdbd 67.5px,#ac8fe2 68.5px,#5656ff 69.5px,#4f4fff 75.5px,#6868ff 80.5px,#a3a3ff 85.5px,#fbfbfe 90.5px,#ffc0c0 96.5px,#ff7777 104.5px,#ff5757 111.5px,#ff5656 122.5px,#ff7474 129.5px,#ffbebe 137.5px,#fff5f5 142.5px,#fbfafe 144px)"></i><i style="background:linear-gradient(#0c0cff 0px,#2929ff 35.5px,#4e4eff 49.5px,#7676ff 55.5px,#a2a2ff 58.5px,#f1f1ff 61.5px,#fff6f6 62.5px,#ffc0c0 66.5px,#ffbdbd 67.5px,#ac90e2 68.5px,#5656ff 69.5px,#4f4fff 75.5px,#6969ff 80.5px,#a5a5ff 85.5px,#fcfbfe 90.5px,#ff7d7d 103.5px,#ff5959 110.5px,#ff5555 121.5px,#ff6e6e 128.5px,#ffb3b3 136.5px,#fff5f5 142.5px,#fbfafe 144px)"></i><i style="background:linear-gradient(#0c0cff 0px,#2929ff 35.5px,#4e4eff 49.5px,#7575ff 55.5px,#a1a1ff 58.5px,#f0f0ff 61.5px,#fff7f7 62.5px,#ffc2c2 66.5px,#ffbfbf 67.5px,#ad92e4 68.5px,#5757ff 69.5px,#4e4eff 75.5px,#6666ff 80.5px,#9f9fff 85.5px,#f4f4ff 90.5px,#fffafa 91.5px,#ff8787 103.5px,#ff6262 110.5px,#ff5b5b 120.5px,#ff7070 127.5px,#ffaeae 135.5px,#fff9f9 142.5px,#f6f6ff 144px)"></i><i style="background:linear-gradient(#0c0cff 0px,#2828ff 35.5px,#4c4cff 49.5px,#7373ff 55.5px,#9e9eff 58.5px,#ebebff 61.5px,#fff9f9 62.5px,#ffc7c7 66.5px,#ffc4c4 67.5px,#ad95e7 68.5px,#5757ff 69.5px,#4c4cff 75.5px,#6060ff 80.5px,#9292ff 85.5px,#f3f3ff 91.5px,#fefafb 92.5px,#ff9191 104.5px,#ff6f6f 112.5px,#ff6e6e 122.5px,#ff8a8a 129.5px,#ffd7d7 138.5px,#fbfafe 142.5px,#e9e9ff 144px)"></i><i style="background:linear-gradient(#0b0bff 0px,#2626ff 35.5px,#4a4aff 49.5px,#6f6fff 55.5px,#9999ff 58.5px,#fcfafd 62.5px,#ffcece 66.5px,#ffcccc 67.5px,#ffdede 68.5px,#5757ff 69.5px,#4949ff 75.5px,#5d5dff 81.5px,#9999ff 87.5px,#f5f4fe 93.5px,#fef9fa 94.5px,#ffa4a4 105.5px,#ff8484 114.5px,#ff8686 123.5px,#ffaaaa 131.5px,#fff7f7 140.5px,#f9f8fe 141.5px,#d6d6ff 144px)"></i><i style="background:linear-gradient(#0b0bff 0px,#2626ff 36.5px,#4a4aff 50.5px,#6969ff 55.5px,#9191ff 58.5px,#d8d8ff 61.5px,#f4f4ff 62.5px,#fff6f6 63.5px,#ffd7d7 66.5px,#ffd6d6 67.5px,#ffe7e7 68.5px,#8181ff 69.5px,#5252ff 70.5px,#4545ff 76.5px,#5757ff 82.5px,#8c8cff 88.5px,#f7f5fd 96.5px,#fff2f2 98.5px,#ffb4b4 108.5px,#ff9c9c 118.5px,#ffadad 127.5px,#ffe5e5 136.5px,#fcf9fc 139.5px,#e0e0ff 141.5px,#bfbfff 144px)"></i><i style="background:linear-gradient(#0a0aff 0px,#2525ff 37.5px,#4545ff 50.5px,#6c6cff 56.5px,#9b9bff 59.5px,#fcfafd 63.5px,#ffe2e2 66.5px,#ffe2e2 67.5px,#fff3f3 68.5px,#a3a3ff 69.5px,#5353ff 70.5px,#3f3fff 77.5px,#5353ff 84.5px,#8d8dff 91.5px,#eeeeff 99.5px,#fff5f5 102.5px,#ffc5c5 113.5px,#ffbdbd 120.5px,#ffd2d2 129.5px,#fef8fa 136.5px,#ececff 138.5px,#a4a4ff 144px)"></i><i style="background:linear-gradient(#0909ff 0px,#2323ff 38.5px,#4343ff 51.5px,#6464ff 56.5px,#8f8fff 59.5px,#ededff 63.5px,#fdfbfc 64.5px,#ffeeee 66.5px,#ffefef 67.5px,#f9f6fc 68.5px,#ceceff 69.5px,#5353ff 70.5px,#3a3aff 77.5px,#4242ff 84.5px,#7373ff 92.5px,#f0effe 105.5px,#fff1f1 110.5px,#ffdddd 118.5px,#fff0f0 129.5px,#faf6fa 132.5px,#f0f0ff 134.5px,#8888ff 144px)"></i><i style="background:linear-gradient(#0909ff 0px,#2121ff 39.5px,#4141ff 52.5px,#6565ff 57.5px,#9696ff 60.5px,#ededff 64.5px,#fbfafe 65.5px,#fefafb 67.5px,#e6e6ff 68.5px,#b9b9ff 69.5px,#6565ff 70.5px,#4f4fff 71.5px,#3333ff 79.5px,#3c3cff 87.5px,#6c6cff 96.5px,#eaeaff 113.5px,#f7f2fb 118.5px,#ebebff 127.5px,#b5b5ff 135.5px,#6c6cff 144px)"></i><i style="background:linear-gradient(#0808ff 0px,#1f1fff 40.5px,#3f3fff 53.5px,#5c5cff 57.5px,#9b9bff 61.5px,#e4e4ff 65.5px,#eeeeff 66.5px,#eaeaff 67.5px,#cdcdff 68.5px,#5151ff 71.5px,#2f2fff 79.5px,#2e2eff 88.5px,#5353ff 98.5px,#bfbfff 117.5px,#b0b0ff 127.5px,#7a7aff 137.5px,#5151ff 144px)"></i><i style="background:linear-gradient(#0707ff 0px,#1d1dff 41.5px,#3939ff 53.5px,#5e5eff 58.5px,#ccccff 65.5px,#d5d5ff 66.5px,#d0d0ff 67.5px,#5656ff 71.5px,#3434ff 77.5px,#2222ff 87.5px,#3434ff 98.5px,#8686ff 117.5px,#7676ff 129.5px,#3939ff 144px)"></i><i style="background:linear-gradient(#0606ff 0px,#1b1bff 41.5px,#3737ff 54.5px,#5454ff 58.5px,#b6b6ff 65.5px,#bdbdff 66.5px,#b8b8ff 67.5px,#6868ff 70.5px,#4f4fff 72.5px,#2828ff 81.5px,#1b1bff 93.5px,#3535ff 107.5px,#5757ff 118.5px,#4343ff 133.5px,#2626ff 144px)"></i><i style="background:linear-gradient(#0606ff 0px,#1919ff 42.5px,#3232ff 54.5px,#5656ff 59.5px,#a1a1ff 65.5px,#a7a7ff 66.5px,#a2a2ff 67.5px,#5e5eff 70.5px,#5151ff 72.5px,#2222ff 83.5px,#1414ff 97.5px,#2a2aff 113.5px,#3333ff 120.5px,#1818ff 142.5px,#1717ff 144px)"></i><i style="background:linear-gradient(#0505ff 0px,#1818ff 43.5px,#3232ff 55.5px,#5858ff 60.5px,#8f8fff 65.5px,#9494ff 66.5px,#8f8fff 67.5px,#5656ff 70.5px,#4d4dff 72.5px,#4949ff 74.5px,#2121ff 84.5px,#0e0eff 100.5px,#1a1aff 124.5px,#0c0cff 144px)"></i><i style="background:linear-gradient(#0505ff 0px,#1717ff 43.5px,#2e2eff 55.5px,#5050ff 60.5px,#8080ff 65.5px,#7f7fff 67.5px,#5050ff 70.5px,#4949ff 72.5px,#5050ff 73.5px,#2222ff 84.5px,#0b0bff 101.5px,#0606ff 144px)"></i><i style="background:linear-gradient(#0404ff 0px,#1616ff 43.5px,#3030ff 56.5px,#7777ff 66.5px,#6464ff 68.5px,#4c4cff 70.5px,#4c4cff 73.5px,#5050ff 74.5px,#2323ff 84.5px,#0a0aff 102.5px,#0404ff 144px)"></i><i style="background:linear-gradient(#0404ff 0px,#1616ff 43.5px,#2e2eff 56.5px,#6c6cff 66.5px,#4949ff 71.5px,#5252ff 74.5px,#2525ff 84.5px,#0a0aff 101.5px,#0303ff 144px)"></i><i style="background:linear-gradient(#0404ff 0px,#1616ff 43.5px,#3232ff 57.5px,#6565ff 66.5px,#4b4bff 71.5px,#5959ff 74.5px,#2d2dff 82.5px,#0e0eff 97.5px,#0303ff 144px)"></i><i style="background:linear-gradient(#0404ff 0px,#1616ff 42.5px,#3232ff 57.5px,#6060ff 66.5px,#4f4fff 71.5px,#5f5fff 74.5px,#5d5dff 75.5px,#4848ff 77.5px,#1d1dff 88.5px,#0707ff 109.5px,#0303ff 144px)"></i><i style="background:linear-gradient(#0404ff 0px,#1616ff 41.5px,#3333ff 57.5px,#5e5eff 66.5px,#5656ff 71.5px,#7272ff 75.5px,#4b4bff 77.5px,#2121ff 87.5px,#0909ff 106.5px,#0303ff 144px)"></i><i style="background:linear-gradient(#0404ff 0px,#1616ff 40.5px,#3535ff 57.5px,#5e5eff 66.5px,#5e5eff 71.5px,#7e7eff 75.5px,#7e7eff 76.5px,#4e4eff 77.5px,#2323ff 87.5px,#0b0bff 104.5px,#0505ff 144px)"></i><i style="background:linear-gradient(#0404ff 0px,#1717ff 39.5px,#3838ff 57.5px,#6161ff 67.5px,#6767ff 71.5px,#8d8dff 75.5px,#9d9dff 76.5px,#6969ff 77.5px,#4b4bff 78.5px,#2222ff 88.5px,#0e0eff 104.5px,#1111ff 129.5px,#0909ff 144px)"></i><i style="background:linear-gradient(#0404ff 0px,#1717ff 38.5px,#3b3bff 57.5px,#6666ff 67.5px,#7373ff 71.5px,#9f9fff 75.5px,#b1b1ff 76.5px,#a8a8ff 77.5px,#4f4fff 78.5px,#2424ff 88.5px,#1515ff 102.5px,#2424ff 121.5px,#1010ff 144px)"></i><i style="background:linear-gradient(#0505ff 0px,#1818ff 37.5px,#3c3cff 56.5px,#8080ff 71.5px,#b5b5ff 75.5px,#dedeff 77.5px,#7b7bff 78.5px,#4c4cff 79.5px,#2727ff 88.5px,#1e1eff 100.5px,#3a3aff 115.5px,#3232ff 131.5px,#1a1aff 144px)"></i><i style="background:linear-gradient(#0505ff 0px,#1818ff 36.5px,#3d3dff 55.5px,#8787ff 70.5px,#bbbbff 74.5px,#f9f8fe 77.5px,#aaa6fb 78.5px,#5050ff 79.5px,#2e2eff 88.5px,#2d2dff 99.5px,#5c5cff 115.5px,#5757ff 127.5px,#2929ff 144px)"></i><i style="background:linear-gradient(#0505ff 0px,#1b1bff 36.5px,#4343ff 55.5px,#8585ff 68.5px,#afafff 72.5px,#fdf9fb 76.5px,#ffe1e1 78.5px,#5555ff 79.5px,#3939ff 87.5px,#4040ff 97.5px,#8c8cff 117.5px,#7a7aff 129.5px,#3b3bff 144px)"></i><i style="background:linear-gradient(#0606ff 0px,#1c1cff 35.5px,#4545ff 54.5px,#7d7dff 65.5px,#a7a7ff 70.5px,#dadaff 73.5px,#f1f1ff 74.5px,#fef8f9 75.5px,#ffcdcd 78.5px,#ad8fe1 79.5px,#5757ff 80.5px,#4747ff 87.5px,#5a5aff 96.5px,#c1c1ff 117.5px,#b0b0ff 127.5px,#7474ff 138.5px,#5151ff 144px)"></i><i style="background:linear-gradient(#0707ff 0px,#1d1dff 34.5px,#4747ff 53.5px,#7979ff 63.5px,#acacff 69.5px,#dedeff 72.5px,#f5f4fe 73.5px,#fff6f6 74.5px,#ffb8b8 78.5px,#d898bf 79.5px,#6161ff 80.5px,#5b5bff 87.5px,#7b7bff 95.5px,#eeeeff 113.5px,#f5f2fc 120.5px,#e7e7ff 127.5px,#a9a9ff 136.5px,#6b6bff 144px)"></i><i style="background:linear-gradient(#0707ff 0px,#1e1eff 33.5px,#4949ff 52.5px,#7c7cff 62.5px,#b0b0ff 68.5px,#e2e2ff 71.5px,#f7f6fe 72.5px,#fff4f4 73.5px,#ff9494 79.5px,#6e6eff 80.5px,#7171ff 86.5px,#a0a0ff 94.5px,#eeeeff 103.5px,#fff5f5 108.5px,#ffe0e0 118.5px,#fff4f4 129.5px,#f3f2ff 133.5px,#8686ff 144px)"></i><i style="background:linear-gradient(#0808ff 0px,#1f1fff 32.5px,#4b4bff 51.5px,#7e7eff 61.5px,#b4b4ff 67.5px,#e4e4ff 70.5px,#f9f8fe 71.5px,#fff3f3 72.5px,#ff8a8a 78.5px,#ff7e7e 79.5px,#9d7adc 80.5px,#7d7dff 81.5px,#9393ff 87.5px,#dcdcff 95.5px,#f7f3fc 98.5px,#fff0f0 101.5px,#ffc5c5 113.5px,#ffc3c3 122.5px,#ffe1e1 131.5px,#fff8f8 135.5px,#f2f2ff 137.5px,#a1a1ff 144px)"></i><i style="background:linear-gradient(#0909ff 0px,#2222ff 32.5px,#4e4eff 50.5px,#8080ff 60.5px,#b6b6ff 66.5px,#e5e5ff 69.5px,#f9f8fe 70.5px,#fff4f4 71.5px,#ff7373 78.5px,#ff6868 79.5px,#9090ff 81.5px,#aaaaff 86.5px,#f5f4fe 93.5px,#fff6f6 95.5px,#ffb4b4 107.5px,#ffa2a2 117.5px,#ffb4b4 127.5px,#fff2f2 137.5px,#f7f7fe 139.5px,#babaff 144px)"></i><i style="background:linear-gradient(#0a0aff 0px,#2323ff 31.5px,#4f4fff 49.5px,#8282ff 59.5px,#b7b7ff 65.5px,#e4e4ff 68.5px,#f7f7fe 69.5px,#fff6f6 70.5px,#ffacac 74.5px,#ff5d5d 78.5px,#ff5454 79.5px,#a1a1ff 81.5px,#c6c6ff 86.5px,#f6f5ff 90.5px,#fff5f5 92.5px,#ffa4a4 104.5px,#ff8a8a 113.5px,#ff9090 123.5px,#ffb4b4 131.5px,#fefbfc 140.5px,#e0e0ff 142.5px,#cfcfff 144px)"></i><i style="background:linear-gradient(#0a0aff 0px,#2424ff 30.5px,#5151ff 48.5px,#8a8aff 59.5px,#c3c3ff 65.5px,#f5f5ff 68.5px,#fff8f8 69.5px,#ffb0b0 73.5px,#ff5858 77.5px,#ff4242 79.5px,#aeaeff 81.5px,#dbdbff 86.5px,#f6f6ff 88.5px,#fefbfc 89.5px,#ff9494 103.5px,#ff7979 111.5px,#ff7c7c 122.5px,#ff9e9e 130.5px,#fefbfc 141.5px,#dedeff 144px)"></i><i style="background:linear-gradient(#0b0bff 0px,#2727ff 30.5px,#5656ff 48.5px,#8b8bff 58.5px,#c2c2ff 64.5px,#fefafb 68.5px,#ffcccc 71.5px,#ff4646 77.5px,#ff3232 79.5px,#c391cd 80.5px,#b4b4ff 81.5px,#e6e6ff 86.5px,#fffdfd 88.5px,#ff8f8f 102.5px,#ff7070 110.5px,#ff7373 122.5px,#ff9797 130.5px,#fff8f8 141.5px,#f9f9ff 142.5px,#e6e6ff 144px)"></i><i style="background:linear-gradient(#0c0cff 0px,#2727ff 29.5px,#5656ff 47.5px,#9191ff 58.5px,#cbcbff 64.5px,#fbfafe 67.5px,#ffe5e5 69.5px,#ff9191 73.5px,#ff3636 77.5px,#ff2a2a 78.5px,#ff2828 79.5px,#adadff 80.5px,#d9d9ff 85.5px,#fefdfd 88.5px,#ff8f8f 102.5px,#ff7171 110.5px,#ff7373 122.5px,#ff9797 130.5px,#fff9f9 141.5px,#f9f9ff 142.5px,#e6e6ff 144px)"></i><i style="background:linear-gradient(#0c0cff 0px,#2929ff 29.5px,#5a5aff 47.5px,#9595ff 58.5px,#d1d1ff 64.5px,#f2f2ff 66.5px,#fffbfb 67.5px,#ffcbcb 70.5px,#ff3d3d 76.5px,#ff2121 78.5px,#a4a4ff 80.5px,#cdcdff 85.5px,#fefbfc 89.5px,#ff9494 103.5px,#ff7a7a 111.5px,#ff7d7d 122.5px,#ff9f9f 130.5px,#fefcfd 141.5px,#dedeff 144px)"></i><i style="background:linear-gradient(#0d0dff 0px,#2a2aff 29.5px,#5c5cff 47.5px,#9898ff 58.5px,#d5d5ff 64.5px,#f8f8ff 66.5px,#fff7f7 67.5px,#ffc4c4 70.5px,#ff3535 76.5px,#ff1e1e 78.5px,#9494ff 79.5px,#b0b0ff 84.5px,#f5f5ff 90.5px,#fff5f5 92.5px,#ffa4a4 104.5px,#ff8b8b 113.5px,#ff9090 123.5px,#ffb5b5 131.5px,#fdfbfc 140.5px,#cfcfff 144px)"></i><i style="background:linear-gradient(#0d0dff 0px,#2a2aff 29.5px,#5c5cff 47.5px,#9898ff 58.5px,#c9c9ff 63.5px,#fafaff 66.5px,#ffe6e6 68.5px,#ffa9a9 71.5px,#ff4646 75.5px,#ff2525 77.5px,#8383ff 79.5px,#9898ff 84.5px,#dedeff 91.5px,#f5f4fe 93.5px,#ffefef 96.5px,#ffb4b4 107.5px,#ffa2a2 117.5px,#ffb5b5 127.5px,#fff3f3 137.5px,#f7f6fe 139.5px,#babaff 144px)"></i><i style="background:linear-gradient(#0d0dff 0px,#2a2aff 29.5px,#5b5bff 47.5px,#9696ff 58.5px,#c7c7ff 63.5px,#fafaff 66.5px,#fff5f5 67.5px,#ffbebe 70.5px,#ff4747 75.5px,#ff3636 76.5px,#db3c60 77.5px,#7373ff 78.5px,#7e7eff 84.5px,#b3b3ff 91.5px,#f3f2fe 97.5px,#fff4f4 100.5px,#ffc6c6 112.5px,#ffc1c1 120.5px,#ffdcdc 130.5px,#fff8f8 135.5px,#f2f2ff 137.5px,#a2a2ff 144px)"></i><i style="background:linear-gradient(#0d0dff 0px,#2929ff 29.5px,#5959ff 47.5px,#9292ff 58.5px,#c2c2ff 63.5px,#f7f7ff 66.5px,#fff6f6 67.5px,#ffbfbf 70.5px,#ff4d4d 75.5px,#ff3e3e 76.5px,#8c59cc 77.5px,#6464ff 78.5px,#6565ff 84.5px,#8a8aff 91.5px,#f1f0fe 103.5px,#fff3f3 108.5px,#ffdede 117.5px,#fff0f0 128.5px,#f8f5fc 132.5px,#e0e0ff 135.5px,#8787ff 144px)"></i><i style="background:linear-gradient(#0c0cff 0px,#2727ff 29.5px,#5959ff 48.5px,#9393ff 59.5px,#c8c8ff 64.5px,#efefff 66.5px,#fffafa 67.5px,#ffacac 71.5px,#ff5757 75.5px,#af55a6 76.5px,#5b5bff 77.5px,#5050ff 84.5px,#6c6cff 92.5px,#efefff 112.5px,#f8f4fb 119.5px,#eaeaff 127.5px,#acacff 136.5px,#6d6dff 144px)"></i><i style="background:linear-gradient(#0b0bff 0px,#2727ff 30.5px,#5858ff 49.5px,#8a8aff 59.5px,#b0b0ff 63.5px,#e5e5ff 66.5px,#fbfafd 67.5px,#ffdede 69.5px,#ff7575 74.5px,#d5628b 75.5px,#5656ff 76.5px,#4040ff 83.5px,#4c4cff 92.5px,#c6c6ff 116.5px,#b4b4ff 127.5px,#7777ff 138.5px,#5454ff 144px)"></i><i style="background:linear-gradient(#0b0bff 0px,#2626ff 31.5px,#5555ff 50.5px,#8787ff 60.5px,#b2b2ff 64.5px,#f1f1ff 67.5px,#fff7f7 68.5px,#ff9595 73.5px,#d579a3 74.5px,#5353ff 75.5px,#3434ff 83.5px,#3737ff 93.5px,#6e6eff 108.5px,#9292ff 116.5px,#8181ff 128.5px,#3e3eff 144px)"></i><i style="background:linear-gradient(#0a0aff 0px,#2424ff 32.5px,#5454ff 52.5px,#8282ff 61.5px,#a4a4ff 64.5px,#e1e1ff 67.5px,#fbf9fd 68.5px,#ffdcdc 70.5px,#ffa5a5 73.5px,#7d62e4 74.5px,#4c4cff 75.5px,#2a2aff 84.5px,#2727ff 95.5px,#5353ff 111.5px,#6565ff 117.5px,#5353ff 131.5px,#2b2bff 144px)"></i><i style="background:linear-gradient(#0909ff 0px,#2222ff 33.5px,#4f4fff 53.5px,#7575ff 61.5px,#a5a5ff 65.5px,#ececff 68.5px,#fff8f9 69.5px,#ffc5c5 72.5px,#7d6aec 73.5px,#4c4cff 74.5px,#2424ff 84.5px,#1b1bff 97.5px,#3a3aff 113.5px,#4141ff 119.5px,#2a2aff 137.5px,#1d1dff 144px)"></i><i style="background:linear-gradient(#0808ff 0px,#2121ff 35.5px,#4c4cff 55.5px,#7070ff 62.5px,#9595ff 65.5px,#d8d8ff 68.5px,#f4f4ff 69.5px,#fff4f4 70.5px,#ffe4e4 71.5px,#7d73f4 72.5px,#4d4dff 73.5px,#2222ff 83.5px,#1212ff 98.5px,#2727ff 120.5px,#1212ff 144px)"></i><i style="background:linear-gradient(#0707ff 0px,#1e1eff 36.5px,#4848ff 57.5px,#6c6cff 63.5px,#9797ff 66.5px,#f9f8fe 70.5px,#7e7bfc 71.5px,#4d4dff 72.5px,#2222ff 82.5px,#0d0dff 98.5px,#1414ff 126.5px,#0a0aff 144px)"></i><i style="background:linear-gradient(#0606ff 0px,#1d1dff 38.5px,#4242ff 58.5px,#5f5fff 63.5px,#8787ff 66.5px,#cacaff 69.5px,#bfbfff 70.5px,#4e4eff 71.5px,#2222ff 81.5px,#0a0aff 99.5px,#0606ff 144px)"></i><i style="background:linear-gradient(#0606ff 0px,#1c1cff 41.5px,#3b3bff 59.5px,#5d5dff 64.5px,#8b8bff 67.5px,#9f9fff 68.5px,#9d9dff 69.5px,#4e4eff 70.5px,#2222ff 80.5px,#0909ff 98.5px,#0404ff 144px)"></i><i style="background:linear-gradient(#0505ff 0px,#1b1bff 44.5px,#3636ff 60.5px,#5151ff 64.5px,#7c7cff 67.5px,#8080ff 68.5px,#4f4fff 69.5px,#2323ff 79.5px,#0909ff 97.5px,#0303ff 144px)"></i><i style="background:linear-gradient(#0505ff 0px,#1919ff 47.5px,#2e2eff 60.5px,#4747ff 64.5px,#6868ff 67.5px,#5050ff 68.5px,#2323ff 78.5px,#0909ff 96.5px,#0303ff 144px)"></i><i style="background:linear-gradient(#0404ff 0px,#1919ff 51.5px,#2b2bff 61.5px,#4949ff 65.5px,#5656ff 66.5px,#2626ff 76.5px,#0b0bff 93.5px,#0303ff 144px)"></i><i style="background:linear-gradient(#0404ff 0px,#1717ff 54.5px,#2b2bff 62.5px,#5050ff 66.5px,#2121ff 77.5px,#0909ff 96.5px,#0404ff 144px)"></i><i style="background:linear-gradient(#0404ff 0px,#1616ff 56.5px,#2c2cff 63.5px,#3333ff 64.5px,#4c4cff 65.5px,#1d1dff 78.5px,#0909ff 98.5px,#0d0dff 131.5px,#0808ff 144px)"></i><i style="background:linear-gradient(#0404ff 0px,#1515ff 57.5px,#2828ff 63.5px,#4e4eff 65.5px,#2323ff 75.5px,#0d0dff 91.5px,#1919ff 111.5px,#2121ff 121.5px,#0f0fff 144px)"></i><i style="background:linear-gradient(#0303ff 0px,#1313ff 57.5px,#2525ff 63.5px,#5050ff 64.5px,#2424ff 74.5px,#1111ff 89.5px,#2424ff 106.5px,#3d3dff 117.5px,#2929ff 136.5px,#1b1bff 144px)"></i><i style="background:linear-gradient(#0303ff 0px,#1111ff 57.5px,#1e1eff 62.5px,#4646ff 63.5px,#4c4cff 64.5px,#2323ff 74.5px,#1717ff 87.5px,#3232ff 102.5px,#6464ff 116.5px,#5454ff 130.5px,#2b2bff 144px)"></i><i style="background:linear-gradient(#0303ff 0px,#1111ff 57.5px,#1919ff 61.5px,#2a2aff 62.5px,#4f4fff 63.5px,#2727ff 72.5px,#1c1cff 83.5px,#3636ff 95.5px,#9595ff 116.5px,#8585ff 128.5px,#4040ff 144px)"></i><i style="background:linear-gradient(#0303ff 0px,#1212ff 58.5px,#1818ff 61.5px,#4444ff 62.5px,#4c4cff 63.5px,#2828ff 72.5px,#2525ff 82.5px,#4646ff 92.5px,#ceceff 115.5px,#c3c3ff 125.5px,#9191ff 135.5px,#5858ff 144px)"></i><i style="background:linear-gradient(#0404ff 0px,#1212ff 58.5px,#1515ff 60.5px,#2626ff 61.5px,#5050ff 62.5px,#2c2cff 71.5px,#2d2dff 80.5px,#5454ff 89.5px,#efeffe 110.5px,#fef6f7 117.5px,#f0f0ff 128.5px,#ababff 137.5px,#7373ff 144px)"></i><i style="background:linear-gradient(#0404ff 0px,#1212ff 58.5px,#1515ff 60.5px,#4444ff 61.5px,#4e4eff 62.5px,#3030ff 70.5px,#3434ff 78.5px,#5d5dff 86.5px,#f2f0fd 102.5px,#fff2f2 106.5px,#ffd6d6 116.5px,#ffe6e6 127.5px,#f9f6fc 133.5px,#ebebff 135.5px,#8f8fff 144px)"></i><i style="background:linear-gradient(#0404ff 0px,#1313ff 58.5px,#1515ff 60.5px,#5353ff 61.5px,#3434ff 69.5px,#3939ff 76.5px,#6161ff 83.5px,#c0c0ff 92.5px,#f1f0fe 96.5px,#fff3f3 99.5px,#ffbfbf 111.5px,#ffb6b6 118.5px,#ffcccc 128.5px,#fff8f9 136.5px,#f0f0ff 138.5px,#aaaaff 144px)"></i><i style="background:linear-gradient(#0404ff 0px,#1414ff 59.5px,#2525ff 60.5px,#5252ff 61.5px,#3838ff 68.5px,#4141ff 75.5px,#6767ff 81.5px,#b7b7ff 88.5px,#f0f0ff 92.5px,#fff7f7 94.5px,#ffb3b3 105.5px,#ff9797 115.5px,#ffa5a5 125.5px,#ffd6d6 134.5px,#fdfafc 139.5px,#e4e4ff 141.5px,#c4c4ff 144px)"></i><i style="background:linear-gradient(#0404ff 0px,#1414ff 58.5px,#1717ff 60.5px,#5454ff 61.5px,#3d3dff 68.5px,#4747ff 74.5px,#7171ff 80.5px,#ccccff 87.5px,#f9f7fd 90.5px,#ffefef 92.5px,#ff9f9f 103.5px,#ff8181 112.5px,#ff8383 122.5px,#ffa5a5 130.5px,#fbfafe 141.5px,#dadaff 144px)"></i><i style="background:linear-gradient(#0404ff 0px,#1414ff 56.5px,#1818ff 60.5px,#4747ff 61.5px,#5252ff 62.5px,#4141ff 69.5px,#5555ff 75.5px,#8e8eff 81.5px,#faf9fe 88.5px,#ffeeee 90.5px,#ff9292 101.5px,#ff6f6f 109.5px,#ff6b6b 120.5px,#ff8787 128.5px,#ffd8d8 138.5px,#fdfbfe 142.5px,#ececff 144px)"></i><i style="background:linear-gradient(#0404ff 0px,#1515ff 56.5px,#1a1aff 60.5px,#2b2bff 61.5px,#5656ff 62.5px,#4646ff 68.5px,#5757ff 74.5px,#8383ff 79.5px,#dcdcff 85.5px,#fdfcfd 87.5px,#ff8888 100.5px,#ff6161 108.5px,#ff5b5b 119.5px,#ff7575 127.5px,#ffbcbc 136.5px,#fff9f9 142.5px,#f8f8ff 144px)"></i><i style="background:linear-gradient(#0404ff 0px,#1515ff 55.5px,#1d1dff 61.5px,#4b4bff 62.5px,#5555ff 63.5px,#4a4aff 69.5px,#6363ff 75.5px,#9797ff 80.5px,#f9f9ff 86.5px,#ffefef 88.5px,#ff7f7f 100.5px,#ff5959 108.5px,#ff5656 120.5px,#ff7575 128.5px,#ffc2c2 137.5px,#fcfbfe 144px)"></i><i style="background:linear-gradient(#0404ff 0px,#1515ff 55.5px,#2121ff 62.5px,#5959ff 63.5px,#4c4cff 69.5px,#6464ff 75.5px,#9898ff 80.5px,#f9f9ff 86.5px,#ffefef 88.5px,#ff8080 100.5px,#ff5a5a 108.5px,#ff5757 120.5px,#ff7676 128.5px,#ffc3c3 137.5px,#fbfbfe 144px)"></i><i style="background:linear-gradient(#0404ff 0px,#1616ff 55.5px,#2222ff 62.5px,#3232ff 63.5px,#5858ff 64.5px,#4e4eff 70.5px,#6969ff 76.5px,#adadff 82.5px,#fdfcfe 87.5px,#ff8b8b 100.5px,#ff6565 108.5px,#ff5f5f 119.5px,#ff7979 127.5px,#ffbfbf 136.5px,#fffafa 142.5px,#f5f5ff 144px)"></i><i style="background:linear-gradient(#0404ff 0px,#1616ff 54.5px,#2626ff 63.5px,#4f4fff 64.5px,#5858ff 65.5px,#4f4fff 71.5px,#6a6aff 77.5px,#acacff 83.5px,#f8f8fe 88.5px,#fff9f9 89.5px,#ff9797 101.5px,#ff7474 110.5px,#ff7272 120.5px,#ff8e8e 128.5px,#ffdddd 138.5px,#fff9f9 141.5px,#f8f7ff 142.5px,#e6e6ff 144px)"></i><i style="background:linear-gradient(#0404ff 0px,#1717ff 54.5px,#2929ff 64.5px,#4f4fff 65.5px,#5757ff 66.5px,#4e4eff 72.5px,#6767ff 78.5px,#a2a2ff 84.5px,#f6f5fe 90.5px,#fff3f3 92.5px,#ffa7a7 103.5px,#ff8989 113.5px,#ff8f8f 123.5px,#ffbbbb 132.5px,#fefafb 140.5px,#f4f4ff 141.5px,#d2d2ff 144px)"></i><i style="background:linear-gradient(#0404ff 0px,#1717ff 54.5px,#2d2dff 65.5px,#4f4fff 66.5px,#5555ff 67.5px,#4a4aff 73.5px,#5e5eff 79.5px,#9c9cff 86.5px,#f4f3fe 93.5px,#fff6f6 95.5px,#ffbaba 106.5px,#ffa4a4 116.5px,#ffb4b4 126.5px,#ffeded 136.5px,#fdf9fb 138.5px,#e6e6ff 140.5px,#babaff 144px)"></i><i style="background:linear-gradient(#0404ff 0px,#1717ff 53.5px,#2c2cff 65.5px,#3030ff 66.5px,#4f4fff 67.5px,#4f4fff 69.5px,#4747ff 76.5px,#6464ff 83.5px,#b6b6ff 92.5px,#ededff 97.5px,#fff3f3 101.5px,#ffc6c6 114.5px,#ffd0d0 125.5px,#fbf7fb 135.5px,#eaeaff 137.5px,#9e9eff 144px)"></i><i style="background:linear-gradient(#0404ff 0px,#1717ff 52.5px,#2b2bff 65.5px,#3434ff 67.5px,#4f4fff 68.5px,#4949ff 71.5px,#4141ff 78.5px,#5d5dff 86.5px,#c4c4ff 99.5px,#f1f0fd 105.5px,#fff3f3 110.5px,#ffe7e7 117.5px,#fbf5fa 129.5px,#e6e6ff 133.5px,#8181ff 144px)"></i><i style="background:linear-gradient(#0404ff 0px,#1717ff 51.5px,#2e2eff 66.5px,#3737ff 68.5px,#4f4fff 69.5px,#3838ff 79.5px,#4c4cff 88.5px,#adadff 104.5px,#ececff 115.5px,#ddddff 125.5px,#ababff 134.5px,#6464ff 144px)"></i><i style="background:linear-gradient(#0404ff 0px,#1717ff 50.5px,#2d2dff 66.5px,#3b3bff 69.5px,#4f4fff 70.5px,#3030ff 81.5px,#3d3dff 91.5px,#9595ff 110.5px,#adadff 116.5px,#9c9cff 127.5px,#5555ff 141.5px,#4a4aff 144px)"></i><i style="background:linear-gradient(#0404ff 0px,#1717ff 49.5px,#3030ff 67.5px,#3e3eff 70.5px,#5050ff 71.5px,#2a2aff 82.5px,#2c2cff 93.5px,#5e5eff 109.5px,#7777ff 116.5px,#6363ff 130.5px,#3333ff 144px)"></i><i style="background:linear-gradient(#0404ff 0px,#1717ff 48.5px,#3333ff 68.5px,#4f4fff 73.5px,#2929ff 82.5px,#1e1eff 94.5px,#3c3cff 110.5px,#4b4bff 117.5px,#3636ff 134.5px,#2121ff 144px)"></i><i style="background:linear-gradient(#0404ff 0px,#1616ff 47.5px,#3333ff 68.5px,#4f4fff 74.5px,#2424ff 84.5px,#1616ff 98.5px,#2a2aff 119.5px,#1313ff 144px)"></i><i style="background:linear-gradient(#0404ff 0px,#1616ff 46.5px,#3737ff 69.5px,#5252ff 74.5px,#2121ff 86.5px,#0f0fff 102.5px,#1414ff 125.5px,#0a0aff 144px)"></i><i style="background:linear-gradient(#0404ff 0px,#1515ff 45.5px,#3939ff 69.5px,#5757ff 75.5px,#2727ff 85.5px,#0d0dff 101.5px,#0505ff 144px)"></i><i style="background:linear-gradient(#0303ff 0px,#1515ff 44.5px,#3b3bff 69.5px,#5656ff 75.5px,#5e5eff 76.5px,#3636ff 82.5px,#1313ff 95.5px,#0505ff 126.5px,#0303ff 144px)"></i><i style="background:linear-gradient(#0303ff 0px,#1414ff 43.5px,#3b3bff 68.5px,#5d5dff 76.5px,#6565ff 77.5px,#4747ff 80.5px,#1d1dff 91.5px,#0707ff 112.5px,#0303ff 144px)"></i><i style="background:linear-gradient(#0303ff 0px,#1515ff 43.5px,#3c3cff 67.5px,#5f5fff 76.5px,#6e6eff 78.5px,#6565ff 79.5px,#4d4dff 80.5px,#2222ff 90.5px,#0909ff 108.5px,#0303ff 144px)"></i><i style="background:linear-gradient(#0303ff 0px,#1414ff 42.5px,#3a3aff 65.5px,#6363ff 76.5px,#7a7aff 79.5px,#7777ff 80.5px,#4e4eff 81.5px,#2222ff 91.5px,#0909ff 109.5px,#0303ff 144px)"></i><i style="background:linear-gradient(#0404ff 0px,#1515ff 42.5px,#3a3aff 64.5px,#6f6fff 77.5px,#8888ff 80.5px,#8383ff 81.5px,#4e4eff 82.5px,#2222ff 92.5px,#0a0aff 110.5px,#0404ff 144px)"></i><i style="background:linear-gradient(#0404ff 0px,#1515ff 41.5px,#3b3bff 63.5px,#7878ff 77.5px,#9b9bff 81.5px,#9292ff 82.5px,#4e4eff 83.5px,#2323ff 93.5px,#0d0dff 109.5px,#0505ff 144px)"></i><i style="background:linear-gradient(#0404ff 0px,#1515ff 41.5px,#3c3cff 62.5px,#7575ff 75.5px,#a7a7ff 81.5px,#b4b4ff 82.5px,#8989ff 83.5px,#4e4eff 84.5px,#2424ff 94.5px,#1414ff 109.5px,#0909ff 144px)"></i><i style="background:linear-gradient(#0404ff 0px,#1515ff 40.5px,#3939ff 60.5px,#6e6eff 72.5px,#a2a2ff 79.5px,#d6d6ff 83.5px,#7979ff 84.5px,#4e4eff 85.5px,#2929ff 94.5px,#1f1fff 107.5px,#2424ff 120.5px,#1010ff 144px)"></i><i style="background:linear-gradient(#0404ff 0px,#1616ff 39.5px,#3a3aff 59.5px,#6c6cff 70.5px,#aaaaff 78.5px,#fdfafc 84.5px,#7f7cfc 85.5px,#4f4fff 86.5px,#3131ff 95.5px,#3131ff 107.5px,#3e3eff 117.5px,#2222ff 139.5px,#1a1aff 144px)"></i><i style="background:linear-gradient(#0505ff 0px,#1717ff 39.5px,#3f3fff 59.5px,#6f6fff 69.5px,#a9a9ff 76.5px,#fcf9fc 82.5px,#ffebeb 84.5px,#d6bfe8 85.5px,#5a5aff 86.5px,#4141ff 94.5px,#4b4bff 106.5px,#6262ff 116.5px,#4a4aff 132.5px,#2929ff 144px)"></i><i style="background:linear-gradient(#0505ff 0px,#1818ff 38.5px,#3d3dff 57.5px,#6b6bff 67.5px,#a6a6ff 74.5px,#fbf8fc 80.5px,#ffcaca 85.5px,#6565ff 87.5px,#5959ff 95.5px,#7878ff 108.5px,#9090ff 115.5px,#7b7bff 128.5px,#3c3cff 144px)"></i><i style="background:linear-gradient(#0606ff 0px,#1919ff 37.5px,#3f3fff 56.5px,#6e6eff 66.5px,#aeaeff 73.5px,#faf8fd 78.5px,#ffe9e9 80.5px,#ffa7a7 86.5px,#7b7bff 87.5px,#7c7cff 95.5px,#c6c6ff 115.5px,#b3b3ff 126.5px,#7373ff 138.5px,#5353ff 144px)"></i><i style="background:linear-gradient(#0606ff 0px,#1b1bff 36.5px,#4242ff 55.5px,#7272ff 65.5px,#a8a8ff 71.5px,#f5f5fe 76.5px,#fff8f8 77.5px,#ff9b9b 84.5px,#ff8b8b 86.5px,#9999ff 88.5px,#aeaeff 96.5px,#f1f0fe 110.5px,#f8f4fa 118.5px,#ececff 126.5px,#a9a9ff 136.5px,#6d6dff 144px)"></i><i style="background:linear-gradient(#0707ff 0px,#1c1cff 35.5px,#4545ff 54.5px,#7575ff 64.5px,#adadff 70.5px,#fcf9fc 75.5px,#ffd5d5 78.5px,#ff8484 83.5px,#ff6d6d 86.5px,#ff6c6c 87.5px,#c0c0ff 88.5px,#f4f2fc 99.5px,#fff2f2 104.5px,#ffdcdc 116.5px,#fff1f1 128.5px,#f7f4fd 132.5px,#dedeff 135.5px,#8989ff 144px)"></i><i style="background:linear-gradient(#0808ff 0px,#1e1eff 34.5px,#4848ff 53.5px,#7878ff 63.5px,#b1b1ff 69.5px,#f3f3ff 73.5px,#fef8f9 74.5px,#ffbbbb 78.5px,#ff6161 83.5px,#ff4f4f 86.5px,#ff5252 87.5px,#ececff 88.5px,#fef7f8 93.5px,#ffc2c2 109.5px,#ffbcbc 118.5px,#ffd4d4 128.5px,#fff8f9 135.5px,#f2f2ff 137.5px,#a4a4ff 144px)"></i><i style="background:linear-gradient(#0909ff 0px,#2020ff 33.5px,#4c4cff 52.5px,#7d7dff 62.5px,#b5b5ff 68.5px,#f8f7fe 72.5px,#fff6f6 73.5px,#ffb3b3 77.5px,#ff4b4b 82.5px,#ff3333 84.5px,#ff3131 86.5px,#ff6767 87.5px,#fff4f4 88.5px,#ffa8a8 106.5px,#ff9e9e 117.5px,#ffb5b5 127.5px,#fef9fa 138.5px,#f8f7fe 139.5px,#bebeff 144px)"></i><i style="background:linear-gradient(#0a0aff 0px,#2222ff 32.5px,#4f4fff 51.5px,#8181ff 61.5px,#b9b9ff 67.5px,#fbf9fe 71.5px,#ffe5e5 73.5px,#ff9898 77.5px,#ff2626 82.5px,#ff1212 84.5px,#ff1616 86.5px,#ffb5b5 87.5px,#ffe2e2 88.5px,#ff9595 103.5px,#ff8484 114.5px,#ff9393 124.5px,#ffc4c4 133.5px,#fefbfc 140.5px,#e3e3ff 142.5px,#d3d3ff 144px)"></i><i style="background:linear-gradient(#0b0bff 0px,#2626ff 32.5px,#5353ff 50.5px,#8b8bff 61.5px,#bbbbff 66.5px,#fcfafe 70.5px,#ffe5e5 72.5px,#ff9494 76.5px,#ff1818 81.5px,#ff0707 82.5px,#ff0000 85.5px,#ffdbdb 87.5px,#ff8585 102.5px,#ff7373 112.5px,#ff7f7f 123.5px,#ffafaf 132.5px,#fefbfc 141.5px,#e1e1ff 144px)"></i><i style="background:linear-gradient(#0c0cff 0px,#2727ff 31.5px,#5555ff 49.5px,#8d8dff 60.5px,#c8c8ff 66.5px,#faf9fe 69.5px,#ffe6e6 71.5px,#ffadad 74.5px,#ff1111 80.5px,#ff0202 81.5px,#ff0000 84.5px,#ff3838 85.5px,#ffdddd 86.5px,#ff7f7f 101.5px,#ff6a6a 110.5px,#ff7474 122.5px,#ff9a9a 130.5px,#fff8f8 141.5px,#fafaff 142.5px,#e9e9ff 144px)"></i><i style="background:linear-gradient(#0c0cff 0px,#2828ff 30.5px,#5656ff 48.5px,#8d8dff 59.5px,#c5c5ff 65.5px,#f7f7ff 68.5px,#fff8f8 69.5px,#ffc8c8 72.5px,#ff6565 76.5px,#ff1010 79.5px,#ff0101 80.5px,#ff0000 83.5px,#ff3b3b 84.5px,#ffe6e6 85.5px,#ff8181 101.5px,#ff6b6b 110.5px,#ff7575 122.5px,#ff9b9b 130.5px,#fff8f8 141.5px,#fafaff 142.5px,#e8e8ff 144px)"></i><i style="background:linear-gradient(#0d0dff 0px,#2a2aff 30.5px,#5a5aff 48.5px,#9292ff 59.5px,#c0c0ff 64.5px,#fefbfc 68.5px,#ffcfcf 71.5px,#ff6e6e 75.5px,#ff1717 78.5px,#ff0202 79.5px,#ff0000 82.5px,#ff3f3f 83.5px,#fff5f5 84.5px,#ff8989 102.5px,#ff7676 112.5px,#ff8181 123.5px,#ffb1b1 132.5px,#fefcfd 141.5px,#e0e0ff 144px)"></i><i style="background:linear-gradient(#0d0dff 0px,#2929ff 29.5px,#5858ff 47.5px,#9595ff 59.5px,#c5c5ff 64.5px,#f7f7ff 67.5px,#fff7f7 68.5px,#ffc6c6 71.5px,#ff6060 75.5px,#ff0a0a 78.5px,#ff0000 79.5px,#ff0000 81.5px,#eaaabf 82.5px,#ececff 83.5px,#fefafa 86.5px,#ff9b9b 103.5px,#ff8787 114.5px,#ff9696 124.5px,#ffc6c6 133.5px,#fdfbfd 140.5px,#d0d0ff 144px)"></i><i style="background:linear-gradient(#0d0dff 0px,#2a2aff 29.5px,#5959ff 47.5px,#9696ff 59.5px,#c6c6ff 64.5px,#fbfafe 67.5px,#ffe5e5 69.5px,#ffa8a8 72.5px,#ff0505 78.5px,#ff0000 80.5px,#cd8dbf 81.5px,#c3c3ff 82.5px,#f8f6fd 89.5px,#ffefef 92.5px,#ffb1b1 105.5px,#ffa1a1 116.5px,#ffb4b4 126.5px,#fff4f4 137.5px,#f6f6ff 139.5px,#bcbcff 144px)"></i><i style="background:linear-gradient(#0d0dff 0px,#2929ff 29.5px,#5c5cff 48.5px,#9494ff 59.5px,#c5c5ff 64.5px,#fbfafe 67.5px,#ffe3e3 69.5px,#ff8a8a 73.5px,#ff0606 78.5px,#e42440 79.5px,#9a9aff 80.5px,#b6b6ff 86.5px,#f2f1fe 93.5px,#fff2f2 97.5px,#ffc4c4 110.5px,#ffbfbf 119.5px,#ffdada 129.5px,#fef9f9 135.5px,#f0f0ff 137.5px,#a4a4ff 144px)"></i><i style="background:linear-gradient(#0d0dff 0px,#2a2aff 30.5px,#5d5dff 49.5px,#9696ff 60.5px,#c1c1ff 64.5px,#faf9fe 67.5px,#fff3f3 68.5px,#ffa3a3 72.5px,#ff2323 77.5px,#9c60c3 78.5px,#7c7cff 79.5px,#8d8dff 86.5px,#f2f1fe 100.5px,#fff2f2 105.5px,#ffdcdc 116.5px,#fff1f1 128.5px,#f7f5fd 132.5px,#d5d5ff 136.5px,#8a8aff 144px)"></i><i style="background:linear-gradient(#0c0cff 0px,#2828ff 30.5px,#5959ff 49.5px,#8f8fff 60.5px,#babaff 64.5px,#f5f5ff 67.5px,#fff6f6 68.5px,#ffa7a7 72.5px,#ff5c5c 75.5px,#d94d74 76.5px,#6868ff 77.5px,#6565ff 84.5px,#8c8cff 93.5px,#efefff 109.5px,#fbf6f9 116.5px,#ebebff 127.5px,#a4a4ff 137.5px,#7070ff 144px)"></i><i style="background:linear-gradient(#0c0cff 0px,#2727ff 31.5px,#5a5aff 51.5px,#8686ff 60.5px,#b0b0ff 64.5px,#fffafa 68.5px,#ffadad 72.5px,#ff9696 73.5px,#d6779f 74.5px,#845fda 75.5px,#5858ff 76.5px,#4a4aff 83.5px,#5f5fff 92.5px,#cdcdff 114.5px,#bdbdff 125.5px,#8686ff 136.5px,#5757ff 144px)"></i><i style="background:linear-gradient(#0b0bff 0px,#2626ff 32.5px,#5959ff 53.5px,#8383ff 61.5px,#b5b5ff 65.5px,#faf9fe 68.5px,#fff1f1 69.5px,#ffb6b6 72.5px,#aa79ce 73.5px,#5353ff 74.5px,#3838ff 82.5px,#4040ff 92.5px,#8b8bff 111.5px,#9898ff 115.5px,#8787ff 127.5px,#4141ff 144px)"></i><i style="background:linear-gradient(#0a0aff 0px,#2424ff 33.5px,#5353ff 54.5px,#7676ff 61.5px,#a8a8ff 65.5px,#ededff 68.5px,#fff9f9 69.5px,#ffe7e7 70.5px,#d4b5e0 71.5px,#5151ff 72.5px,#2d2dff 81.5px,#2a2aff 92.5px,#5454ff 108.5px,#6b6bff 115.5px,#5858ff 130.5px,#2e2eff 144px)"></i><i style="background:linear-gradient(#0909ff 0px,#2323ff 35.5px,#5050ff 56.5px,#7373ff 62.5px,#9a9aff 65.5px,#dedeff 68.5px,#cfcefe 69.5px,#7c79fc 70.5px,#4c4cff 71.5px,#2525ff 81.5px,#1d1dff 94.5px,#3e3eff 111.5px,#4646ff 117.5px,#3030ff 135.5px,#1f1fff 144px)"></i><i style="background:linear-gradient(#0808ff 0px,#2121ff 37.5px,#4949ff 57.5px,#6666ff 62.5px,#8d8dff 65.5px,#b6b6ff 67.5px,#9292ff 68.5px,#4e4eff 69.5px,#2323ff 79.5px,#1313ff 94.5px,#2727ff 112.5px,#2323ff 130.5px,#1313ff 144px)"></i><i style="background:linear-gradient(#0707ff 0px,#1f1fff 39.5px,#4242ff 58.5px,#6565ff 63.5px,#8282ff 65.5px,#8383ff 66.5px,#4a4aff 68.5px,#2121ff 78.5px,#0c0cff 95.5px,#1616ff 123.5px,#0b0bff 144px)"></i><i style="background:linear-gradient(#0606ff 0px,#1d1dff 42.5px,#3838ff 58.5px,#5c5cff 63.5px,#6969ff 64.5px,#4c4cff 66.5px,#2222ff 76.5px,#0a0aff 94.5px,#0606ff 144px)"></i><i style="background:linear-gradient(#0606ff 0px,#1c1cff 46.5px,#3030ff 58.5px,#5353ff 63.5px,#2323ff 74.5px,#0909ff 92.5px,#0404ff 144px)"></i><i style="background:linear-gradient(#0505ff 0px,#1a1aff 50.5px,#2e2eff 59.5px,#3b3bff 61.5px,#4e4eff 62.5px,#1d1dff 75.5px,#0707ff 96.5px,#0303ff 144px)"></i><i style="background:linear-gradient(#0404ff 0px,#1818ff 53.5px,#2929ff 59.5px,#5050ff 61.5px,#2323ff 71.5px,#0909ff 89.5px,#0303ff 144px)"></i><i style="background:linear-gradient(#0404ff 0px,#1515ff 54.5px,#2020ff 58.5px,#3030ff 59.5px,#4e4eff 60.5px,#2222ff 70.5px,#0909ff 88.5px,#0303ff 144px)"></i><i style="background:linear-gradient(#0404ff 0px,#1212ff 54.5px,#1a1aff 57.5px,#4545ff 58.5px,#4d4dff 59.5px,#2222ff 69.5px,#0909ff 87.5px,#0505ff 144px)"></i><i style="background:linear-gradient(#0303ff 0px,#1010ff 54.5px,#1414ff 56.5px,#4343ff 57.5px,#4c4cff 58.5px,#2222ff 68.5px,#0a0aff 86.5px,#1010ff 111.5px,#0909ff 144px)"></i><i style="background:linear-gradient(#0303ff 0px,#0e0eff 54.5px,#1010ff 55.5px,#4242ff 56.5px,#4c4cff 57.5px,#2222ff 67.5px,#0c0cff 84.5px,#1616ff 105.5px,#2727ff 117.5px,#1212ff 144px)"></i><i style="background:linear-gradient(#0303ff 0px,#0c0cff 54.5px,#4d4dff 56.5px,#2222ff 66.5px,#0e0eff 82.5px,#2020ff 100.5px,#4545ff 115.5px,#3434ff 133.5px,#1e1eff 144px)"></i><i style="background:linear-gradient(#0303ff 0px,#0a0aff 53.5px,#1d1dff 54.5px,#4f4fff 55.5px,#2323ff 65.5px,#1313ff 79.5px,#2727ff 94.5px,#6d6dff 115.5px,#5d5dff 129.5px,#2f2fff 144px)"></i><i style="background:linear-gradient(#0303ff 0px,#0909ff 53.5px,#3f3fff 54.5px,#4c4cff 55.5px,#2323ff 65.5px,#1818ff 78.5px,#3535ff 91.5px,#9f9fff 114.5px,#9191ff 126.5px,#4f4fff 141.5px,#4444ff 144px)"></i><i style="background:linear-gradient(#0303ff 0px,#0808ff 53.5px,#5050ff 54.5px,#2828ff 63.5px,#1c1cff 74.5px,#3636ff 85.5px,#9696ff 102.5px,#d8d8ff 114.5px,#c9c9ff 125.5px,#8e8eff 136.5px,#5d5dff 144px)"></i><i style="background:linear-gradient(#0303ff 0px,#0a0aff 53.5px,#4040ff 54.5px,#4c4cff 55.5px,#2828ff 64.5px,#2525ff 74.5px,#4444ff 83.5px,#a9a9ff 97.5px,#f0f0fe 107.5px,#fff3f3 114.5px,#f7f4fc 126.5px,#e6e6ff 130.5px,#7777ff 144px)"></i><i style="background:linear-gradient(#0303ff 0px,#0c0cff 53.5px,#1f1fff 54.5px,#5151ff 55.5px,#2e2eff 63.5px,#2c2cff 72.5px,#4c4cff 80.5px,#9e9eff 90.5px,#f2f1fd 99.5px,#fff3f3 103.5px,#ffd3d3 115.5px,#ffe5e5 127.5px,#f9f6fc 133.5px,#e1e1ff 136.5px,#9292ff 144px)"></i><i style="background:linear-gradient(#0303ff 0px,#0f0fff 54.5px,#2222ff 55.5px,#5050ff 56.5px,#3232ff 64.5px,#3737ff 72.5px,#5d5dff 79.5px,#b6b6ff 88.5px,#f1f1fe 93.5px,#fff4f4 96.5px,#ffc0c0 108.5px,#ffb4b4 116.5px,#ffc5c5 126.5px,#fef9f9 136.5px,#f0f0ff 138.5px,#adadff 144px)"></i><i style="background:linear-gradient(#0404ff 0px,#1010ff 53.5px,#1313ff 55.5px,#4545ff 56.5px,#5050ff 57.5px,#3838ff 64.5px,#4040ff 71.5px,#6c6cff 78.5px,#c8c8ff 86.5px,#f1f1ff 89.5px,#fff7f8 91.5px,#ffb1b1 103.5px,#ff9696 114.5px,#ffa4a4 124.5px,#ffd8d8 134.5px,#fdfafc 139.5px,#e4e4ff 141.5px,#c6c6ff 144px)"></i><i style="background:linear-gradient(#0404ff 0px,#1212ff 53.5px,#1717ff 56.5px,#4848ff 57.5px,#5252ff 58.5px,#3f3fff 65.5px,#5151ff 72.5px,#8282ff 78.5px,#faf8fd 87.5px,#fff0f0 89.5px,#ff9d9d 101.5px,#ff7f7f 111.5px,#ff8383 121.5px,#ffaaaa 130.5px,#fff8f8 140.5px,#fbfafe 141.5px,#dbdbff 144px)"></i><i style="background:linear-gradient(#0404ff 0px,#1313ff 53.5px,#1b1bff 57.5px,#2d2dff 58.5px,#5656ff 59.5px,#4747ff 65.5px,#5757ff 71.5px,#8a8aff 77.5px,#fbfafe 85.5px,#ffd4d4 90.5px,#ff8a8a 100.5px,#ff6c6c 109.5px,#ff6e6e 120.5px,#ff8c8c 128.5px,#ffe4e4 139.5px,#fcfbfe 142.5px,#ececff 144px)"></i><i style="background:linear-gradient(#0404ff 0px,#1515ff 53.5px,#1f1fff 58.5px,#3131ff 59.5px,#5a5aff 60.5px,#4f4fff 66.5px,#6767ff 72.5px,#a5a5ff 78.5px,#fefbfd 84.5px,#ff8686 98.5px,#ff6363 106.5px,#ff5e5e 118.5px,#ff7676 126.5px,#ffb7b7 135.5px,#fff9f9 142.5px,#f8f8ff 144px)"></i><i style="background:linear-gradient(#0404ff 0px,#1717ff 53.5px,#2727ff 60.5px,#5151ff 61.5px,#5c5cff 62.5px,#5a5aff 68.5px,#7f7fff 74.5px,#cacaff 80.5px,#fbfbff 83.5px,#ffd3d3 88.5px,#ff7979 99.5px,#ff5a5a 107.5px,#ff5b5b 120.5px,#ff7c7c 128.5px,#ffd0d0 138.5px,#fbfbff 144px)"></i><i style="background:linear-gradient(#0404ff 0px,#1818ff 52.5px,#2b2bff 61.5px,#6262ff 63.5px,#6262ff 69.5px,#8181ff 74.5px,#cacaff 80.5px,#fafaff 83.5px,#ffe6e6 86.5px,#ff8181 98.5px,#ff5f5f 106.5px,#ff5b5b 118.5px,#ff7373 126.5px,#ffb5b5 135.5px,#fff8f8 142.5px,#fafaff 144px)"></i><i style="background:linear-gradient(#0404ff 0px,#1919ff 51.5px,#2e2eff 62.5px,#5b5bff 64.5px,#6565ff 65.5px,#6868ff 70.5px,#9191ff 76.5px,#dfdfff 82.5px,#fdfbfe 84.5px,#ff8e8e 98.5px,#ff6969 107.5px,#ff6767 119.5px,#ff8282 127.5px,#ffcfcf 137.5px,#fefcfd 142.5px,#f1f1ff 144px)"></i><i style="background:linear-gradient(#0404ff 0px,#1919ff 49.5px,#2d2dff 62.5px,#3636ff 64.5px,#4747ff 65.5px,#6969ff 66.5px,#6f6fff 72.5px,#9b9bff 78.5px,#f6f5ff 85.5px,#fefafb 86.5px,#ff9797 100.5px,#ff7a7a 109.5px,#ff7b7b 120.5px,#ff9e9e 129.5px,#fefbfc 141.5px,#e1e1ff 144px)"></i><i style="background:linear-gradient(#0404ff 0px,#1919ff 48.5px,#2f2fff 63.5px,#3e3eff 66.5px,#6a6aff 68.5px,#7171ff 74.5px,#9c9cff 80.5px,#f9f6fd 88.5px,#fff2f2 90.5px,#ffabab 102.5px,#ff9090 113.5px,#ff9e9e 124.5px,#ffd4d4 134.5px,#fff9fa 139.5px,#f8f7fe 140.5px,#cbcbff 144px)"></i><i style="background:linear-gradient(#0404ff 0px,#1818ff 46.5px,#3232ff 64.5px,#3f3fff 67.5px,#6262ff 69.5px,#6767ff 72.5px,#7878ff 78.5px,#b0b0ff 85.5px,#f1f1ff 91.5px,#fff4f4 94.5px,#ffbebe 106.5px,#ffafaf 116.5px,#ffc2c2 126.5px,#fbf8fc 137.5px,#e7e7ff 139.5px,#b1b1ff 144px)"></i><i style="background:linear-gradient(#0404ff 0px,#1818ff 45.5px,#3434ff 65.5px,#4747ff 69.5px,#6262ff 71.5px,#6a6aff 79.5px,#9a9aff 87.5px,#f2f0fe 97.5px,#fff3f3 101.5px,#ffd0d0 114.5px,#ffe0e0 126.5px,#faf6fb 133.5px,#e3e3ff 136.5px,#9494ff 144px)"></i><i style="background:linear-gradient(#0404ff 0px,#1717ff 44.5px,#3636ff 66.5px,#4e4eff 71.5px,#6363ff 73.5px,#5c5cff 80.5px,#7a7aff 88.5px,#f0effe 106.5px,#fff3f3 114.5px,#f6f3fc 126.5px,#e5e5ff 130.5px,#7777ff 144px)"></i><i style="background:linear-gradient(#0404ff 0px,#1717ff 44.5px,#3b3bff 68.5px,#5f5fff 74.5px,#4f4fff 82.5px,#6464ff 91.5px,#d4d4ff 114.5px,#c3c3ff 125.5px,#8a8aff 136.5px,#5a5aff 144px)"></i><i style="background:linear-gradient(#0404ff 0px,#1616ff 44.5px,#3b3bff 68.5px,#5656ff 74.5px,#6060ff 76.5px,#4848ff 81.5px,#4545ff 90.5px,#7575ff 105.5px,#9898ff 114.5px,#8686ff 127.5px,#4141ff 144px)"></i><i style="background:linear-gradient(#0404ff 0px,#1515ff 43.5px,#3d3dff 69.5px,#6363ff 77.5px,#4747ff 81.5px,#3434ff 90.5px,#4545ff 103.5px,#6565ff 114.5px,#5252ff 130.5px,#2b2bff 144px)"></i><i style="background:linear-gradient(#0404ff 0px,#1414ff 43.5px,#3b3bff 68.5px,#5959ff 76.5px,#6a6aff 79.5px,#4c4cff 81.5px,#2d2dff 90.5px,#2b2bff 103.5px,#3e3eff 116.5px,#2424ff 138.5px,#1b1bff 144px)"></i><i style="background:linear-gradient(#0303ff 0px,#1414ff 43.5px,#3b3bff 68.5px,#6363ff 78.5px,#7373ff 80.5px,#6767ff 81.5px,#4f4fff 82.5px,#2929ff 91.5px,#1c1cff 104.5px,#2222ff 119.5px,#0f0fff 144px)"></i><i style="background:linear-gradient(#0303ff 0px,#1414ff 44.5px,#3939ff 67.5px,#6767ff 79.5px,#8080ff 82.5px,#5e5eff 83.5px,#4c4cff 84.5px,#2323ff 94.5px,#1313ff 109.5px,#0808ff 144px)"></i><i style="background:linear-gradient(#0303ff 0px,#1313ff 44.5px,#3737ff 66.5px,#6d6dff 80.5px,#8383ff 83.5px,#7e7eff 84.5px,#4f4fff 85.5px,#2323ff 95.5px,#0e0eff 111.5px,#0505ff 144px)"></i><i style="background:linear-gradient(#0303ff 0px,#1313ff 44.5px,#3636ff 65.5px,#7b7bff 82.5px,#9494ff 85.5px,#6464ff 86.5px,#4c4cff 87.5px,#2222ff 97.5px,#0a0aff 115.5px,#0303ff 144px)"></i><i style="background:linear-gradient(#0303ff 0px,#1313ff 44.5px,#3434ff 64.5px,#8080ff 82.5px,#9d9dff 86.5px,#9191ff 87.5px,#4f4fff 88.5px,#2323ff 98.5px,#0909ff 116.5px,#0303ff 144px)"></i><i style="background:linear-gradient(#0303ff 0px,#1313ff 44.5px,#3535ff 64.5px,#8383ff 81.5px,#ababff 87.5px,#9c9cff 88.5px,#6b6bff 89.5px,#4a4aff 90.5px,#2121ff 100.5px,#0808ff 119.5px,#0303ff 144px)"></i><i style="background:linear-gradient(#0303ff 0px,#1313ff 44.5px,#3434ff 63.5px,#7272ff 76.5px,#bfbfff 88.5px,#c9c9ff 89.5px,#7272ff 90.5px,#4b4bff 91.5px,#2121ff 101.5px,#0909ff 120.5px,#0303ff 144px)"></i><i style="background:linear-gradient(#0404ff 0px,#1313ff 43.5px,#3434ff 62.5px,#6868ff 73.5px,#e4e4ff 90.5px,#7979ff 91.5px,#4c4cff 92.5px,#2222ff 102.5px,#0a0aff 121.5px,#0404ff 144px)"></i><i style="background:linear-gradient(#0404ff 0px,#1414ff 43.5px,#3434ff 61.5px,#6464ff 71.5px,#cacaff 83.5px,#f7f7ff 89.5px,#fefbfb 91.5px,#7d7afd 92.5px,#4c4cff 93.5px,#2323ff 103.5px,#0b0bff 127.5px,#0606ff 144px)"></i><i style="background:linear-gradient(#0404ff 0px,#1515ff 42.5px,#3535ff 60.5px,#5f5fff 69.5px,#a5a5ff 77.5px,#f7f6fe 84.5px,#fff2f2 88.5px,#ffe9e9 92.5px,#5353ff 93.5px,#2b2bff 102.5px,#1212ff 129.5px,#0909ff 144px)"></i><i style="background:linear-gradient(#0505ff 0px,#1616ff 41.5px,#3a3aff 60.5px,#6969ff 69.5px,#afafff 76.5px,#f6f5fe 81.5px,#fff2f2 83.5px,#ffd8d8 88.5px,#ffd6d6 92.5px,#d5b5df 93.5px,#5555ff 94.5px,#3333ff 103.5px,#1010ff 144px)"></i><i style="background:linear-gradient(#0606ff 0px,#1818ff 40.5px,#3d3dff 59.5px,#6565ff 67.5px,#9e9eff 73.5px,#f9f7fd 79.5px,#ffebeb 81.5px,#ffc0c0 86.5px,#ffbdbd 91.5px,#ffc4c4 93.5px,#8778f0 94.5px,#5c5cff 95.5px,#4444ff 104.5px,#4444ff 117.5px,#1b1bff 144px)"></i><i style="background:linear-gradient(#0606ff 0px,#1a1aff 39.5px,#4141ff 58.5px,#6969ff 66.5px,#a6a6ff 72.5px,#f9f7fd 77.5px,#ffe8e8 79.5px,#ffa1a1 85.5px,#ff9696 88.5px,#ffaeae 93.5px,#9584ed 94.5px,#6d6dff 95.5px,#5f5fff 104.5px,#6a6aff 115.5px,#4545ff 134.5px,#2a2aff 144px)"></i><i style="background:linear-gradient(#0707ff 0px,#1c1cff 37.5px,#4343ff 56.5px,#7070ff 65.5px,#a1a1ff 70.5px,#f7f6fe 75.5px,#fff6f6 76.5px,#ff8080 84.5px,#ff6e6e 87.5px,#ff8282 91.5px,#ff8b8b 92.5px,#e394b0 93.5px,#8787ff 94.5px,#8383ff 103.5px,#9999ff 114.5px,#7a7aff 129.5px,#3e3eff 144px)"></i><i style="background:linear-gradient(#0808ff 0px,#1f1fff 36.5px,#4949ff 55.5px,#7676ff 64.5px,#a9a9ff 69.5px,#f0f0ff 73.5px,#fdf8fa 74.5px,#ffbdbd 78.5px,#ff5353 84.5px,#ff4343 87.5px,#ff5858 90.5px,#ff6464 91.5px,#ec8195 92.5px,#a8a8ff 93.5px,#b3b3ff 103.5px,#d2d2ff 114.5px,#b7b7ff 126.5px,#6969ff 140.5px,#5656ff 144px)"></i><i style="background:linear-gradient(#0909ff 0px,#2121ff 34.5px,#4b4bff 53.5px,#7d7dff 63.5px,#b0b0ff 68.5px,#f8f6fe 72.5px,#fff5f5 73.5px,#ff9c9c 78.5px,#ff3333 83.5px,#ff1b1b 85.5px,#ff1919 87.5px,#ff3838 90.5px,#f66c76 91.5px,#cfcfff 92.5px,#f4f1fc 106.5px,#fff7f7 116.5px,#ececff 127.5px,#9c9cff 138.5px,#7171ff 144px)"></i><i style="background:linear-gradient(#0a0aff 0px,#2323ff 33.5px,#5050ff 52.5px,#8383ff 62.5px,#b6b6ff 67.5px,#fcfafc 71.5px,#ffd0d0 74.5px,#ff6060 79.5px,#ff0808 83.5px,#ff0000 86.5px,#ff0b0b 89.5px,#ff5454 90.5px,#f7f5fd 91.5px,#fff2f2 98.5px,#ffd4d4 114.5px,#ffeaea 127.5px,#f9f5fb 132.5px,#e3e3ff 135.5px,#8e8eff 144px)"></i><i style="background:linear-gradient(#0b0bff 0px,#2626ff 32.5px,#5555ff 51.5px,#8888ff 61.5px,#babaff 66.5px,#efefff 69.5px,#fef9fb 70.5px,#ffcccc 73.5px,#ff7070 77.5px,#ff0808 81.5px,#ff0000 83.5px,#ff0000 88.5px,#ffecec 90.5px,#ffb8b8 109.5px,#ffb8b8 119.5px,#ffd6d6 129.5px,#fcf8fb 136.5px,#eaeaff 138.5px,#aaaaff 144px)"></i><i style="background:linear-gradient(#0c0cff 0px,#2828ff 31.5px,#5959ff 50.5px,#8c8cff 60.5px,#bdbdff 65.5px,#f0f0ff 68.5px,#fef9fa 69.5px,#ffcccc 72.5px,#ff6c6c 76.5px,#ff1616 79.5px,#ff0202 80.5px,#ff0000 86.5px,#ff3737 87.5px,#ffa4a4 88.5px,#ffd9d9 89.5px,#ff9e9e 105.5px,#ff9898 117.5px,#ffb2b2 127.5px,#fbf9fd 139.5px,#c4c4ff 144px)"></i><i style="background:linear-gradient(#0d0dff 0px,#2929ff 30.5px,#5757ff 48.5px,#8e8eff 59.5px,#bdbdff 64.5px,#fefafc 68.5px,#ffcece 71.5px,#ff6e6e 75.5px,#ff1515 78.5px,#ff0101 79.5px,#ff0000 85.5px,#ffd1d1 87.5px,#ff8b8b 102.5px,#ff7e7e 114.5px,#ff9090 124.5px,#ffcaca 134.5px,#fffafa 140.5px,#f8f8ff 141.5px,#d9d9ff 144px)"></i><i style="background:linear-gradient(#0e0eff 0px,#2b2bff 30.5px,#5c5cff 48.5px,#9595ff 59.5px,#c7c7ff 64.5px,#fbfafe 67.5px,#ffe5e5 69.5px,#ffaaaa 72.5px,#ff0202 78.5px,#ff0000 83.5px,#ffd3d3 85.5px,#ff7f7f 100.5px,#ff6d6d 110.5px,#ff7979 122.5px,#ffa7a7 131.5px,#fffafa 141.5px,#f8f8ff 142.5px,#e7e7ff 144px)"></i><i style="background:linear-gradient(#0e0eff 0px,#2b2bff 29.5px,#5b5bff 47.5px,#9292ff 58.5px,#c0c0ff 63.5px,#f2f2ff 66.5px,#fffafa 67.5px,#ffcaca 70.5px,#ff6767 74.5px,#ff0b0b 77.5px,#ff0000 78.5px,#ff0000 81.5px,#ffdddd 83.5px,#ff7b7b 99.5px,#ff6565 108.5px,#ff6f6f 121.5px,#ff9999 130.5px,#fdfcfe 142.5px,#eeeeff 144px)"></i><i style="background:linear-gradient(#0e0eff 0px,#2c2cff 29.5px,#5c5cff 47.5px,#9393ff 58.5px,#c4c4ff 63.5px,#f9f9ff 66.5px,#fff6f6 67.5px,#ffc3c3 70.5px,#ff5d5d 74.5px,#ff0505 77.5px,#ff0000 79.5px,#ff3d3d 80.5px,#ffb4b4 81.5px,#ffeaea 82.5px,#ff7e7e 99.5px,#ff6767 108.5px,#ff7070 121.5px,#ff9a9a 130.5px,#fdfcfe 142.5px,#ededff 144px)"></i><i style="background:linear-gradient(#0e0eff 0px,#2c2cff 29.5px,#6060ff 48.5px,#9999ff 59.5px,#c4c4ff 63.5px,#fafafe 66.5px,#ffe5e5 68.5px,#ff9090 72.5px,#ff0505 77.5px,#f27280 78.5px,#f3f3ff 79.5px,#fefafb 81.5px,#ff8787 100.5px,#ff7171 110.5px,#ff7979 121.5px,#ffa2a2 130.5px,#fffbfb 141.5px,#f6f6ff 142.5px,#e5e5ff 144px)"></i><i style="background:linear-gradient(#0e0eff 0px,#2c2cff 30.5px,#6161ff 49.5px,#9595ff 59.5px,#c0c0ff 63.5px,#f9f9ff 66.5px,#fff5f5 67.5px,#ffa9a9 71.5px,#ff4040 75.5px,#dc6e91 76.5px,#c6c6ff 77.5px,#fdf9fb 84.5px,#ff9d9d 100.5px,#ff8383 111.5px,#ff8d8d 122.5px,#ffb7b7 131.5px,#fefbfb 140.5px,#f6f6ff 141.5px,#d6d6ff 144px)"></i><i style="background:linear-gradient(#0d0dff 0px,#2b2bff 30.5px,#5c5cff 49.5px,#8e8eff 59.5px,#b9b9ff 63.5px,#f3f3ff 66.5px,#fff8f8 67.5px,#ffadad 71.5px,#ff7c7c 73.5px,#ca7ab0 74.5px,#9e9eff 75.5px,#bfbfff 81.5px,#f8f6fd 87.5px,#ffeeee 90.5px,#ffadad 103.5px,#ff9a9a 114.5px,#ffadad 125.5px,#ffebeb 136.5px,#faf9fe 139.5px,#c2c2ff 144px)"></i><i style="background:linear-gradient(#0c0cff 0px,#2a2aff 31.5px,#5d5dff 51.5px,#8585ff 59.5px,#b0b0ff 63.5px,#fefbfc 67.5px,#ffc9c9 70.5px,#bb89cd 72.5px,#7e7eff 73.5px,#8d8dff 79.5px,#cdcdff 87.5px,#f4f2fe 91.5px,#fff4f4 94.5px,#ffc1c1 107.5px,#ffb7b7 116.5px,#ffcdcd 127.5px,#fdf9fb 136.5px,#eaeaff 138.5px,#ababff 144px)"></i><i style="background:linear-gradient(#0c0cff 0px,#2828ff 32.5px,#5c5cff 53.5px,#8282ff 60.5px,#b4b4ff 64.5px,#f7f7ff 67.5px,#fff4f4 68.5px,#d9c4ea 69.5px,#8d82f4 70.5px,#6666ff 71.5px,#6969ff 78.5px,#9797ff 86.5px,#f2f1fe 97.5px,#fff4f4 101.5px,#ffd4d4 114.5px,#ffe5e5 126.5px,#fcf8fb 132.5px,#e7e7ff 135.5px,#9191ff 144px)"></i><i style="background:linear-gradient(#0b0bff 0px,#2626ff 33.5px,#5656ff 54.5px,#7676ff 60.5px,#a8a8ff 64.5px,#d2d2ff 66.5px,#c7c7ff 67.5px,#8382fe 68.5px,#5858ff 69.5px,#4c4cff 76.5px,#6464ff 84.5px,#efefff 105.5px,#fff3f3 113.5px,#f9f5fb 125.5px,#ebebff 129.5px,#7777ff 144px)"></i><i style="background:linear-gradient(#0a0aff 0px,#2424ff 35.5px,#4e4eff 55.5px,#7474ff 61.5px,#9d9dff 64.5px,#6f6fff 66.5px,#4f4fff 67.5px,#3939ff 75.5px,#4646ff 84.5px,#9393ff 99.5px,#dcdcff 113.5px,#cdcdff 124.5px,#9696ff 135.5px,#5e5eff 144px)"></i><i style="background:linear-gradient(#0808ff 0px,#2222ff 37.5px,#4444ff 55.5px,#6060ff 60.5px,#7676ff 62.5px,#6d6dff 63.5px,#5151ff 64.5px,#2e2eff 73.5px,#2e2eff 83.5px,#5858ff 96.5px,#a6a6ff 113.5px,#9696ff 126.5px,#4d4dff 142.5px,#4747ff 144px)"></i><i style="background:linear-gradient(#0707ff 0px,#2121ff 41.5px,#3e3eff 56.5px,#5b5bff 61.5px,#3e3eff 65.5px,#2121ff 75.5px,#2525ff 88.5px,#5b5bff 106.5px,#7777ff 114.5px,#6666ff 128.5px,#3333ff 144px)"></i><i style="background:linear-gradient(#0707ff 0px,#1e1eff 44.5px,#3636ff 56.5px,#4f4fff 60.5px,#2424ff 70.5px,#1515ff 84.5px,#2c2cff 101.5px,#4f4fff 114.5px,#3d3dff 132.5px,#2323ff 144px)"></i><i style="background:linear-gradient(#0606ff 0px,#1c1cff 48.5px,#3131ff 56.5px,#4a4aff 58.5px,#1c1cff 71.5px,#0e0eff 88.5px,#2626ff 108.5px,#3131ff 116.5px,#1919ff 141.5px,#1616ff 144px)"></i><i style="background:linear-gradient(#0505ff 0px,#1818ff 49.5px,#2828ff 55.5px,#4848ff 56.5px,#4c4cff 57.5px,#2121ff 67.5px,#0a0aff 85.5px,#1414ff 108.5px,#1a1aff 122.5px,#0d0dff 144px)"></i><i style="background:linear-gradient(#0404ff 0px,#1515ff 50.5px,#1c1cff 53.5px,#2c2cff 54.5px,#4e4eff 55.5px,#2222ff 65.5px,#0a0aff 83.5px,#0707ff 144px)"></i><i style="background:linear-gradient(#0404ff 0px,#1111ff 50.5px,#1616ff 52.5px,#4343ff 53.5px,#4c4cff 54.5px,#2121ff 64.5px,#0909ff 83.5px,#0404ff 144px)"></i><i style="background:linear-gradient(#0303ff 0px,#0e0eff 50.5px,#2121ff 51.5px,#5050ff 52.5px,#2323ff 62.5px,#0909ff 80.5px,#0303ff 144px)"></i><i style="background:linear-gradient(#0303ff 0px,#0a0aff 49.5px,#1e1eff 50.5px,#5050ff 51.5px,#2323ff 61.5px,#0909ff 79.5px,#0303ff 144px)"></i><i style="background:linear-gradient(#0303ff 0px,#0707ff 48.5px,#1b1bff 49.5px,#5050ff 50.5px,#2323ff 60.5px,#0909ff 78.5px,#0303ff 144px)"></i><i style="background:linear-gradient(#0303ff 0px,#0505ff 48.5px,#3e3eff 49.5px,#4b4bff 50.5px,#2121ff 60.5px,#0909ff 79.5px,#0505ff 144px)"></i><i style="background:linear-gradient(#0303ff 0px,#0404ff 47.5px,#4f4fff 49.5px,#2323ff 59.5px,#0a0aff 77.5px,#0e0eff 106.5px,#1515ff 122.5px,#0b0bff 144px)"></i><i style="background:linear-gradient(#0303ff 0px,#0505ff 48.5px,#3e3eff 49.5px,#4b4bff 50.5px,#2121ff 60.5px,#0a0aff 78.5px,#1515ff 101.5px,#2a2aff 116.5px,#1313ff 144px)"></i><i style="background:linear-gradient(#0303ff 0px,#0606ff 48.5px,#1a1aff 49.5px,#5050ff 50.5px,#2323ff 60.5px,#0d0dff 76.5px,#1b1bff 95.5px,#4949ff 114.5px,#3838ff 132.5px,#2020ff 144px)"></i><i style="background:linear-gradient(#0303ff 0px,#0909ff 49.5px,#1c1cff 50.5px,#4f4fff 51.5px,#2323ff 61.5px,#1212ff 75.5px,#2323ff 90.5px,#6b6bff 111.5px,#7070ff 118.5px,#5757ff 132.5px,#3131ff 144px)"></i><i style="background:linear-gradient(#0303ff 0px,#0c0cff 50.5px,#1f1fff 51.5px,#4f4fff 52.5px,#2424ff 62.5px,#1818ff 75.5px,#3232ff 88.5px,#a2a2ff 113.5px,#9292ff 126.5px,#4646ff 144px)"></i><i style="background:linear-gradient(#0303ff 0px,#0e0eff 50.5px,#0f0fff 51.5px,#2222ff 52.5px,#5050ff 53.5px,#2929ff 62.5px,#2020ff 73.5px,#3c3cff 84.5px,#d9d9ff 113.5px,#cbcbff 124.5px,#9494ff 135.5px,#5d5dff 144px)"></i><i style="background:linear-gradient(#0303ff 0px,#0f0fff 50.5px,#1616ff 53.5px,#4343ff 54.5px,#4d4dff 55.5px,#2b2bff 64.5px,#2b2bff 73.5px,#5252ff 83.5px,#ededff 105.5px,#fff4f4 113.5px,#f8f4fb 125.5px,#e9e9ff 129.5px,#7777ff 144px)"></i><i style="background:linear-gradient(#0404ff 0px,#1313ff 51.5px,#1a1aff 54.5px,#2b2bff 55.5px,#5151ff 56.5px,#3333ff 64.5px,#3737ff 72.5px,#5c5cff 80.5px,#ccccff 93.5px,#f0f0ff 97.5px,#fff2f2 102.5px,#ffd4d4 114.5px,#ffe5e5 126.5px,#fcf7fb 132.5px,#e7e7ff 135.5px,#9292ff 144px)"></i><i style="background:linear-gradient(#0404ff 0px,#1515ff 51.5px,#2222ff 56.5px,#4949ff 57.5px,#5151ff 58.5px,#3c3cff 65.5px,#4747ff 72.5px,#7a7aff 80.5px,#efefff 91.5px,#fff6f6 94.5px,#ffc1c1 107.5px,#ffb6b6 116.5px,#ffcdcd 127.5px,#fdf9fb 136.5px,#ebebff 138.5px,#acacff 144px)"></i><i style="background:linear-gradient(#0404ff 0px,#1818ff 51.5px,#2626ff 57.5px,#4d4dff 59.5px,#5454ff 60.5px,#4949ff 67.5px,#6565ff 74.5px,#a5a5ff 81.5px,#f0f0ff 87.5px,#fef8f9 89.5px,#ffb1b1 102.5px,#ff9999 113.5px,#ffa8a8 124.5px,#ffdcdc 134.5px,#fbf9fd 139.5px,#c4c4ff 144px)"></i><i style="background:linear-gradient(#0505ff 0px,#1a1aff 50.5px,#2f2fff 59.5px,#3f3fff 60.5px,#5f5fff 61.5px,#5858ff 67.5px,#7373ff 73.5px,#b9b9ff 80.5px,#faf8fd 85.5px,#fff0f0 87.5px,#ffa1a1 99.5px,#ff8383 109.5px,#ff8686 120.5px,#ffa9a9 129.5px,#fffafa 140.5px,#f8f8ff 141.5px,#d9d9ff 144px)"></i><i style="background:linear-gradient(#0505ff 0px,#1b1bff 48.5px,#2f2fff 59.5px,#3939ff 61.5px,#6868ff 63.5px,#6d6dff 69.5px,#9898ff 75.5px,#fdfafd 83.5px,#ff8f8f 98.5px,#ff7171 107.5px,#ff7171 119.5px,#ff9393 128.5px,#fff9f9 141.5px,#faf9ff 142.5px,#eaeaff 144px)"></i><i style="background:linear-gradient(#0505ff 0px,#1b1bff 45.5px,#3434ff 60.5px,#4545ff 63.5px,#7575ff 65.5px,#8080ff 70.5px,#b3b3ff 76.5px,#f8f8ff 81.5px,#fffbfb 82.5px,#ff8686 97.5px,#ff6464 106.5px,#ff6565 119.5px,#ff8888 128.5px,#ffe9e9 140.5px,#fffbfb 142.5px,#f4f4ff 144px)"></i><i style="background:linear-gradient(#0505ff 0px,#1b1bff 43.5px,#3636ff 60.5px,#5151ff 65.5px,#8585ff 67.5px,#9999ff 72.5px,#d8d8ff 78.5px,#fffcfd 81.5px,#ff8585 96.5px,#ff6060 105.5px,#ff5e5e 118.5px,#ff7e7e 127.5px,#ffcbcb 137.5px,#fff9f9 142.5px,#f8f8ff 144px)"></i><i style="background:linear-gradient(#0505ff 0px,#1c1cff 42.5px,#3b3bff 61.5px,#5656ff 66.5px,#6060ff 67.5px,#9494ff 69.5px,#afafff 74.5px,#fffdfd 81.5px,#ff8383 97.5px,#ff6363 106.5px,#ff6464 119.5px,#ff8787 128.5px,#ffe9e9 140.5px,#fffbfb 142.5px,#f5f5ff 144px)"></i><i style="background:linear-gradient(#0606ff 0px,#1b1bff 40.5px,#3e3eff 61.5px,#5c5cff 67.5px,#7070ff 69.5px,#9a9aff 71.5px,#d4d4ff 78.5px,#f8f8ff 81.5px,#fff4f4 83.5px,#ff8b8b 98.5px,#ff6f6f 107.5px,#ff7070 119.5px,#ff9292 128.5px,#fff8f8 141.5px,#fafafe 142.5px,#eaeaff 144px)"></i><i style="background:linear-gradient(#0606ff 0px,#1b1bff 40.5px,#4343ff 62.5px,#6464ff 68.5px,#8484ff 71.5px,#a6a6ff 73.5px,#d0d0ff 79.5px,#faf9fe 83.5px,#ffeded 86.5px,#ff9d9d 99.5px,#ff8282 109.5px,#ff8686 120.5px,#ffa9a9 129.5px,#fffafa 140.5px,#f8f7ff 141.5px,#d9d9ff 144px)"></i><i style="background:linear-gradient(#0606ff 0px,#1a1aff 39.5px,#4141ff 61.5px,#6363ff 68.5px,#9a9aff 73.5px,#adadff 75.5px,#bcbcff 79.5px,#f9f7fd 86.5px,#ffefef 89.5px,#ffafaf 102.5px,#ff9b9b 114.5px,#ffaeae 125.5px,#ffebeb 136.5px,#fff9f9 138.5px,#ededff 140.5px,#c2c2ff 144px)"></i><i style="background:linear-gradient(#0606ff 0px,#1a1aff 39.5px,#4242ff 61.5px,#6363ff 68.5px,#9595ff 73.5px,#babaff 76.5px,#a6a6ff 78.5px,#cbcbff 85.5px,#f4f3fe 90.5px,#fff1f1 94.5px,#ffc1c1 108.5px,#ffbcbc 117.5px,#ffd6d6 128.5px,#fef8fa 135.5px,#f1f1ff 137.5px,#a7a7ff 144px)"></i><i style="background:linear-gradient(#0505ff 0px,#1a1aff 39.5px,#4242ff 61.5px,#6a6aff 69.5px,#adadff 75.5px,#dedeff 78.5px,#c4c4ff 79.5px,#9999ff 80.5px,#b0b0ff 87.5px,#f1f0fe 97.5px,#fff2f2 103.5px,#ffdcdc 114.5px,#fff1f1 127.5px,#f8f4fc 131.5px,#e3e3ff 134.5px,#8a8aff 144px)"></i><i style="background:linear-gradient(#0505ff 0px,#1919ff 39.5px,#4242ff 61.5px,#6969ff 69.5px,#a9a9ff 75.5px,#f6f6ff 80.5px,#c6c5fe 81.5px,#8888ff 82.5px,#9696ff 90.5px,#f0effe 109.5px,#f5f2fb 117.5px,#e8e8ff 125.5px,#ababff 135.5px,#6c6cff 144px)"></i><i style="background:linear-gradient(#0505ff 0px,#1919ff 40.5px,#4141ff 61.5px,#6767ff 69.5px,#a5a5ff 75.5px,#fafaff 81.5px,#fff9f9 82.5px,#7777ff 84.5px,#7676ff 92.5px,#babaff 111.5px,#bbbbff 118.5px,#9d9dff 129.5px,#5151ff 144px)"></i><i style="background:linear-gradient(#0505ff 0px,#1818ff 40.5px,#3f3fff 61.5px,#6565ff 69.5px,#a0a0ff 75.5px,#fdfcfe 82.5px,#fff2f2 84.5px,#908cfb 85.5px,#6767ff 86.5px,#5b5bff 94.5px,#7979ff 108.5px,#8787ff 114.5px,#6e6eff 129.5px,#3838ff 144px)"></i><i style="background:linear-gradient(#0505ff 0px,#1818ff 41.5px,#3c3cff 61.5px,#6262ff 69.5px,#9b9bff 75.5px,#fefdfe 83.5px,#fff3f3 85.5px,#d8cdf4 86.5px,#8783fb 87.5px,#5b5bff 88.5px,#4545ff 97.5px,#5555ff 110.5px,#5656ff 118.5px,#3232ff 138.5px,#2525ff 144px)"></i><i style="background:linear-gradient(#0505ff 0px,#1616ff 41.5px,#3a3aff 61.5px,#6666ff 70.5px,#aeaeff 77.5px,#f7f7ff 83.5px,#fffafa 85.5px,#fff4f4 87.5px,#d6ccf5 88.5px,#5757ff 89.5px,#3737ff 98.5px,#3636ff 110.5px,#2727ff 132.5px,#1616ff 144px)"></i><i style="background:linear-gradient(#0404ff 0px,#1616ff 42.5px,#3838ff 61.5px,#6363ff 70.5px,#a7a7ff 77.5px,#f8f8ff 84.5px,#fffafa 87.5px,#fff7f7 89.5px,#5050ff 91.5px,#2d2dff 100.5px,#0d0dff 144px)"></i><i style="background:linear-gradient(#0404ff 0px,#1616ff 43.5px,#3535ff 61.5px,#6161ff 70.5px,#aeaeff 78.5px,#f8f8ff 85.5px,#fffcfc 90.5px,#d4d2fd 91.5px,#5151ff 92.5px,#2929ff 101.5px,#1212ff 121.5px,#0707ff 144px)"></i><i style="background:linear-gradient(#0404ff 0px,#1414ff 43.5px,#3434ff 61.5px,#6060ff 70.5px,#ababff 78.5px,#f3f3ff 85.5px,#fefeff 91.5px,#fefefe 92.5px,#7c7cff 93.5px,#4c4cff 94.5px,#2222ff 104.5px,#0a0aff 126.5px,#0505ff 144px)"></i><i style="background:linear-gradient(#0404ff 0px,#1515ff 44.5px,#3333ff 61.5px,#6060ff 70.5px,#b6b6ff 79.5px,#f3f3ff 85.5px,#fefeff 90.5px,#fefeff 93.5px,#7d7dff 94.5px,#4d4dff 95.5px,#2222ff 105.5px,#0909ff 124.5px,#0404ff 144px)"></i><i style="background:linear-gradient(#0404ff 0px,#1515ff 44.5px,#3333ff 61.5px,#6262ff 70.5px,#babaff 79.5px,#f9f9ff 85.5px,#fffefe 94.5px,#7e7dfe 95.5px,#4d4dff 96.5px,#2222ff 106.5px,#0909ff 125.5px,#0404ff 144px)"></i><i style="background:linear-gradient(#0404ff 0px,#1515ff 44.5px,#3535ff 61.5px,#5f5fff 69.5px,#acacff 77.5px,#f6f6ff 83.5px,#fffafa 85.5px,#fff5f5 91.5px,#fffafa 95.5px,#7d7cfd 96.5px,#4c4cff 97.5px,#2222ff 107.5px,#0909ff 126.5px,#0404ff 144px)"></i><i style="background:linear-gradient(#0505ff 0px,#1515ff 43.5px,#3434ff 60.5px,#5d5dff 68.5px,#a1a1ff 75.5px,#f3f3ff 81.5px,#fcfafd 82.5px,#ffe6e6 88.5px,#fff5f5 96.5px,#5151ff 97.5px,#2424ff 107.5px,#0a0aff 125.5px,#0404ff 144px)"></i><i style="background:linear-gradient(#0505ff 0px,#1717ff 43.5px,#3838ff 60.5px,#6565ff 68.5px,#a5a5ff 74.5px,#f0f0ff 79.5px,#fcf9fc 80.5px,#ffd4d4 86.5px,#ffd8d8 91.5px,#ffeeee 96.5px,#4e4eff 98.5px,#2323ff 108.5px,#0909ff 128.5px,#0505ff 144px)"></i><i style="background:linear-gradient(#0606ff 0px,#1818ff 41.5px,#3b3bff 59.5px,#6868ff 67.5px,#ababff 73.5px,#efefff 77.5px,#fcf8fc 78.5px,#ffbbbb 85.5px,#ffb8b8 89.5px,#ffe0e0 96.5px,#7e77f9 97.5px,#4d4dff 98.5px,#2525ff 108.5px,#0b0bff 132.5px,#0606ff 144px)"></i><i style="background:linear-gradient(#0606ff 0px,#1b1bff 40.5px,#4040ff 58.5px,#6d6dff 66.5px,#a4a4ff 71.5px,#faf8fc 76.5px,#ffe7e7 78.5px,#ff9e9e 84.5px,#ff9393 87.5px,#ffa6a6 91.5px,#ffc9c9 95.5px,#5151ff 97.5px,#2d2dff 106.5px,#0a0aff 144px)"></i><i style="background:linear-gradient(#0707ff 0px,#1d1dff 38.5px,#4242ff 56.5px,#6a6aff 64.5px,#9e9eff 69.5px,#f7f6fe 74.5px,#fff6f6 75.5px,#ff7474 84.5px,#ff6a6a 87.5px,#ff8989 91.5px,#ffacac 94.5px,#d6a0c9 95.5px,#5757ff 96.5px,#3838ff 105.5px,#1111ff 144px)"></i><i style="background:linear-gradient(#0808ff 0px,#1f1fff 36.5px,#4848ff 55.5px,#7171ff 63.5px,#a5a5ff 68.5px,#efefff 72.5px,#fdf8fa 73.5px,#ffbcbc 77.5px,#ff5050 83.5px,#ff3c3c 86.5px,#ff5050 89.5px,#ff8989 93.5px,#8c72e5 94.5px,#6161ff 95.5px,#4a4aff 104.5px,#4a4aff 116.5px,#1d1dff 144px)"></i><i style="background:linear-gradient(#0909ff 0px,#2222ff 35.5px,#4e4eff 54.5px,#7878ff 62.5px,#adadff 67.5px,#f7f6fe 71.5px,#fff4f4 72.5px,#ff9a9a 77.5px,#ff1e1e 83.5px,#ff0d0d 85.5px,#ff1313 87.5px,#ff3d3d 90.5px,#ff6060 92.5px,#9875dc 93.5px,#7070ff 94.5px,#6565ff 103.5px,#7272ff 114.5px,#5050ff 132.5px,#2d2dff 144px)"></i><i style="background:linear-gradient(#0b0bff 0px,#2424ff 33.5px,#5151ff 52.5px,#7f7fff 61.5px,#b3b3ff 66.5px,#fcf9fc 70.5px,#ffcece 73.5px,#ff5c5c 78.5px,#ff1313 81.5px,#ff0000 83.5px,#ff0101 88.5px,#ff1f1f 90.5px,#c8669d 91.5px,#8a8aff 92.5px,#8888ff 101.5px,#a4a4ff 113.5px,#8686ff 128.5px,#4343ff 144px)"></i><i style="background:linear-gradient(#0c0cff 0px,#2727ff 32.5px,#5757ff 51.5px,#8585ff 60.5px,#b9b9ff 65.5px,#efefff 68.5px,#fef9fa 69.5px,#ffc9c9 72.5px,#ff6a6a 76.5px,#ff1717 79.5px,#ff0404 80.5px,#ff0000 88.5px,#eb2c40 89.5px,#c081c0 90.5px,#a7a7ff 91.5px,#bcbcff 102.5px,#dfdfff 113.5px,#c6c6ff 125.5px,#8484ff 137.5px,#5c5cff 144px)"></i><i style="background:linear-gradient(#0d0dff 0px,#2929ff 31.5px,#5757ff 49.5px,#8a8aff 59.5px,#bcbcff 64.5px,#f2f2ff 67.5px,#fff9f9 68.5px,#ffc8c8 71.5px,#ff6565 75.5px,#ff0d0d 78.5px,#ff0000 79.5px,#ff0000 87.5px,#d899bf 88.5px,#cacaff 89.5px,#f4f1fc 102.5px,#fff2f2 110.5px,#fdf6f8 123.5px,#ececff 129.5px,#7979ff 144px)"></i><i style="background:linear-gradient(#0e0eff 0px,#2b2bff 30.5px,#5b5bff 48.5px,#8d8dff 58.5px,#bdbdff 63.5px,#f1f1ff 66.5px,#fef9fa 67.5px,#ffcaca 70.5px,#ff6666 74.5px,#ff0a0a 77.5px,#ff0000 78.5px,#ff0000 85.5px,#ebebff 87.5px,#fff7f7 94.5px,#ffcccc 112.5px,#ffdddd 125.5px,#faf6fb 133.5px,#e3e3ff 136.5px,#9696ff 144px)"></i><i style="background:linear-gradient(#0f0fff 0px,#2c2cff 29.5px,#5c5cff 47.5px,#9595ff 58.5px,#c9c9ff 63.5px,#fdfbfc 66.5px,#ffcfcf 69.5px,#ff8989 72.5px,#ff0e0e 76.5px,#ff0000 77.5px,#ff0000 83.5px,#fefafb 85.5px,#ffb6b6 105.5px,#ffadad 116.5px,#ffc6c6 127.5px,#fbf8fc 137.5px,#e7e7ff 139.5px,#b3b3ff 144px)"></i><i style="background:linear-gradient(#0f0fff 0px,#2e2eff 29.5px,#6060ff 47.5px,#9a9aff 58.5px,#c4c4ff 62.5px,#f8f8ff 65.5px,#fff6f6 66.5px,#ffc3c3 69.5px,#ff5c5c 73.5px,#ff0202 76.5px,#ff0000 80.5px,#ff3e3e 81.5px,#ffb8b8 82.5px,#fff3f3 83.5px,#ff9d9d 102.5px,#ff8e8e 114.5px,#ffa0a0 124.5px,#ffd6d6 134.5px,#fefafa 139.5px,#f7f7fe 140.5px,#ccccff 144px)"></i><i style="background:linear-gradient(#0f0fff 0px,#2f2fff 29.5px,#6161ff 47.5px,#9595ff 57.5px,#c8c8ff 62.5px,#fdfbfd 65.5px,#ffd0d0 68.5px,#ff8b8b 71.5px,#ff1212 75.5px,#ff0000 76.5px,#ff0000 78.5px,#ff3e3e 79.5px,#ffb8b8 80.5px,#fff2f2 81.5px,#ff8a8a 100.5px,#ff7777 111.5px,#ff8383 122.5px,#ffb0b0 131.5px,#fdfcfd 141.5px,#e0e0ff 144px)"></i><i style="background:linear-gradient(#0f0fff 0px,#2f2fff 29.5px,#6161ff 47.5px,#9595ff 57.5px,#c9c9ff 62.5px,#fffcfc 65.5px,#ffb7b7 69.5px,#ff4d4d 73.5px,#ff1010 75.5px,#ff0000 76.5px,#fd7d80 77.5px,#fff8f8 79.5px,#ff8181 98.5px,#ff6868 108.5px,#ff6f6f 120.5px,#ff9696 129.5px,#fdfcfe 142.5px,#ededff 144px)"></i><i style="background:linear-gradient(#0f0fff 0px,#2e2eff 29.5px,#6363ff 48.5px,#9191ff 57.5px,#b8b8ff 61.5px,#fefbfc 65.5px,#ffcccc 68.5px,#ff6c6c 72.5px,#ff3232 74.5px,#f07989 75.5px,#ebebff 76.5px,#fdfcff 78.5px,#ffc2c2 87.5px,#ff7a7a 98.5px,#ff6161 107.5px,#ff6868 120.5px,#ff9090 129.5px,#fffcfc 142.5px,#f4f4ff 144px)"></i><i style="background:linear-gradient(#0e0eff 0px,#2c2cff 29.5px,#5e5eff 48.5px,#8b8bff 57.5px,#b2b2ff 61.5px,#e6e6ff 64.5px,#fbfafe 65.5px,#ffe2e2 67.5px,#ff8b8b 71.5px,#ee8596 72.5px,#d3aad6 73.5px,#ccccff 74.5px,#fbfafe 79.5px,#ffeded 82.5px,#ff8282 97.5px,#ff6565 106.5px,#ff6767 119.5px,#ff8b8b 128.5px,#fff4f4 141.5px,#fffcfd 142.5px,#f2f2ff 144px)"></i><i style="background:linear-gradient(#0e0eff 0px,#2b2bff 30.5px,#5f5fff 50.5px,#8989ff 58.5px,#b7b7ff 62.5px,#f4f4ff 65.5px,#fff7f7 66.5px,#ffc1c1 69.5px,#cea3d4 70.5px,#bba1e5 71.5px,#aaaaff 72.5px,#dadaff 78.5px,#fcfafd 81.5px,#ff8a8a 98.5px,#ff6e6e 108.5px,#ff7373 120.5px,#ff9a9a 129.5px,#fff9f9 141.5px,#faf9ff 142.5px,#eaeaff 144px)"></i><i style="background:linear-gradient(#0d0dff 0px,#2929ff 31.5px,#5a5aff 51.5px,#7e7eff 58.5px,#ababff 62.5px,#fdfafc 66.5px,#ffeded 67.5px,#c0aeec 68.5px,#8888ff 69.5px,#9c9cff 74.5px,#d5d5ff 80.5px,#f8f7fe 83.5px,#fff3f3 85.5px,#ff9b9b 99.5px,#ff8080 109.5px,#ff8484 120.5px,#ffa8a8 129.5px,#fff9f9 140.5px,#f9f9fe 141.5px,#dbdbff 144px)"></i><i style="background:linear-gradient(#0b0bff 0px,#2828ff 33.5px,#5858ff 53.5px,#7b7bff 59.5px,#b0b0ff 63.5px,#c4c4ff 64.5px,#c0c0ff 65.5px,#9191ff 66.5px,#7171ff 67.5px,#7c7cff 73.5px,#b3b3ff 80.5px,#f7f5fe 86.5px,#fff5f5 88.5px,#ffaeae 101.5px,#ff9595 113.5px,#ffa6a6 124.5px,#ffdada 134.5px,#fdfafd 139.5px,#d5d5ff 142.5px,#c7c7ff 144px)"></i><i style="background:linear-gradient(#0a0aff 0px,#2626ff 35.5px,#5151ff 54.5px,#6f6fff 59.5px,#9494ff 62.5px,#9494ff 63.5px,#5f5fff 65.5px,#5d5dff 71.5px,#8080ff 78.5px,#e1e1ff 88.5px,#faf6fb 91.5px,#ffe8e8 95.5px,#ffbaba 107.5px,#ffb2b2 116.5px,#ffcaca 127.5px,#fef9fa 136.5px,#f0f0ff 138.5px,#b0b0ff 144px)"></i><i style="background:linear-gradient(#0909ff 0px,#2323ff 37.5px,#4646ff 54.5px,#6565ff 59.5px,#6f6fff 60.5px,#6363ff 62.5px,#5454ff 63.5px,#4848ff 70.5px,#6262ff 78.5px,#b0b0ff 88.5px,#f0f0ff 95.5px,#fff5f5 99.5px,#ffcfcf 113.5px,#ffdede 125.5px,#fbf7fc 133.5px,#e3e3ff 136.5px,#9696ff 144px)"></i><i style="background:linear-gradient(#0808ff 0px,#2121ff 40.5px,#3c3cff 54.5px,#5a5aff 59.5px,#3c3cff 66.5px,#3c3cff 74.5px,#6161ff 83.5px,#f0f0ff 103.5px,#fff5f5 109.5px,#ffefef 117.5px,#f8f5fc 127.5px,#ebebff 130.5px,#7c7cff 144px)"></i><i style="background:linear-gradient(#0707ff 0px,#1f1fff 44.5px,#3838ff 55.5px,#5151ff 58.5px,#2e2eff 67.5px,#3030ff 77.5px,#5c5cff 88.5px,#e5e5ff 112.5px,#d8d8ff 123.5px,#a8a8ff 133.5px,#6363ff 144px)"></i><i style="background:linear-gradient(#0606ff 0px,#1c1cff 47.5px,#2d2dff 54.5px,#4a4aff 56.5px,#2323ff 68.5px,#2424ff 79.5px,#4d4dff 92.5px,#aeaeff 113.5px,#9f9fff 125.5px,#6060ff 139.5px,#4b4bff 144px)"></i><i style="background:linear-gradient(#0505ff 0px,#1818ff 48.5px,#2424ff 53.5px,#4747ff 54.5px,#4c4cff 55.5px,#2323ff 65.5px,#1818ff 78.5px,#3333ff 93.5px,#7c7cff 113.5px,#6d6dff 127.5px,#3636ff 144px)"></i><i style="background:linear-gradient(#0404ff 0px,#1313ff 48.5px,#1919ff 51.5px,#2a2aff 52.5px,#4f4fff 53.5px,#2323ff 63.5px,#1111ff 78.5px,#2222ff 95.5px,#5353ff 114.5px,#4242ff 131.5px,#2525ff 144px)"></i><i style="background:linear-gradient(#0404ff 0px,#1111ff 49.5px,#1313ff 50.5px,#4343ff 51.5px,#4d4dff 52.5px,#2222ff 62.5px,#0c0cff 79.5px,#1919ff 100.5px,#3232ff 115.5px,#1d1dff 139.5px,#1717ff 144px)"></i><i style="background:linear-gradient(#0303ff 0px,#0e0eff 49.5px,#4141ff 50.5px,#4c4cff 51.5px,#2121ff 61.5px,#0a0aff 79.5px,#1111ff 105.5px,#1b1bff 118.5px,#0d0dff 144px)"></i><i style="background:linear-gradient(#0303ff 0px,#0909ff 48.5px,#4040ff 49.5px,#4c4cff 50.5px,#2121ff 60.5px,#0909ff 79.5px,#0c0cff 111.5px,#0707ff 144px)"></i><i style="background:linear-gradient(#0303ff 0px,#0606ff 47.5px,#4040ff 48.5px,#4d4dff 49.5px,#2222ff 59.5px,#0909ff 78.5px,#0404ff 144px)"></i><i style="background:linear-gradient(#0303ff 0px,#0404ff 47.5px,#5050ff 48.5px,#2323ff 58.5px,#0909ff 76.5px,#0303ff 144px)"></i><i style="background:linear-gradient(#0303ff 0px,#0505ff 47.5px,#3e3eff 48.5px,#4c4cff 49.5px,#2121ff 59.5px,#0808ff 78.5px,#0303ff 144px)"></i><i style="background:linear-gradient(#0303ff 0px,#0606ff 47.5px,#1a1aff 48.5px,#5050ff 49.5px,#2323ff 59.5px,#0909ff 77.5px,#0303ff 144px)"></i><i style="background:linear-gradient(#0303ff 0px,#0909ff 48.5px,#1c1cff 49.5px,#4f4fff 50.5px,#2323ff 60.5px,#0909ff 78.5px,#0606ff 144px)"></i><i style="background:linear-gradient(#0303ff 0px,#0c0cff 49.5px,#1f1fff 50.5px,#4f4fff 51.5px,#2323ff 61.5px,#0a0aff 79.5px,#0f0fff 106.5px,#1616ff 122.5px,#0b0bff 144px)"></i><i style="background:linear-gradient(#0303ff 0px,#0e0eff 49.5px,#1010ff 50.5px,#2222ff 51.5px,#4f4fff 52.5px,#2323ff 62.5px,#0c0cff 79.5px,#1616ff 101.5px,#2b2bff 115.5px,#1515ff 142.5px,#1414ff 144px)"></i><i style="background:linear-gradient(#0404ff 0px,#1010ff 49.5px,#1414ff 51.5px,#2626ff 52.5px,#4242ff 53.5px,#4b4bff 54.5px,#2121ff 64.5px,#1010ff 80.5px,#2323ff 98.5px,#4949ff 114.5px,#3636ff 133.5px,#2020ff 144px)"></i><i style="background:linear-gradient(#0404ff 0px,#1313ff 49.5px,#1d1dff 53.5px,#4e4eff 55.5px,#2323ff 65.5px,#1616ff 78.5px,#2d2dff 93.5px,#7070ff 113.5px,#6060ff 128.5px,#3131ff 144px)"></i><i style="background:linear-gradient(#0505ff 0px,#1717ff 49.5px,#2323ff 54.5px,#4747ff 56.5px,#4545ff 58.5px,#2323ff 68.5px,#2323ff 80.5px,#4d4dff 94.5px,#a0a0ff 113.5px,#8f8fff 126.5px,#4545ff 144px)"></i><i style="background:linear-gradient(#0505ff 0px,#1b1bff 48.5px,#3030ff 56.5px,#4545ff 57.5px,#5050ff 58.5px,#2d2dff 67.5px,#2d2dff 77.5px,#5353ff 88.5px,#d6d6ff 112.5px,#cacaff 123.5px,#9797ff 134.5px,#5c5cff 144px)"></i><i style="background:linear-gradient(#0606ff 0px,#1e1eff 45.5px,#3535ff 56.5px,#4040ff 58.5px,#4e4eff 59.5px,#4747ff 62.5px,#3535ff 70.5px,#4646ff 79.5px,#8e8eff 91.5px,#ededff 105.5px,#fff6f6 113.5px,#f3f2fe 126.5px,#c1c1ff 134.5px,#7676ff 144px)"></i><i style="background:linear-gradient(#0707ff 0px,#1f1fff 41.5px,#3c3cff 56.5px,#5a5aff 61.5px,#4444ff 68.5px,#5252ff 76.5px,#8b8bff 85.5px,#f2f1fe 97.5px,#fff5f5 101.5px,#ffd7d7 113.5px,#ffe5e5 125.5px,#f9f6fc 132.5px,#e3e3ff 135.5px,#9090ff 144px)"></i><i style="background:linear-gradient(#0808ff 0px,#2121ff 38.5px,#4545ff 56.5px,#6d6dff 62.5px,#5a5aff 65.5px,#5b5bff 72.5px,#8080ff 79.5px,#f4f2fe 91.5px,#fff4f4 94.5px,#ffc2c2 107.5px,#ffb9b9 116.5px,#ffd0d0 127.5px,#fbf8fc 136.5px,#e7e7ff 138.5px,#aaaaff 144px)"></i><i style="background:linear-gradient(#0909ff 0px,#2424ff 36.5px,#4b4bff 55.5px,#6f6fff 61.5px,#8888ff 63.5px,#8c8cff 64.5px,#6b6bff 66.5px,#7171ff 72.5px,#a1a1ff 79.5px,#f7f5fd 87.5px,#fff4f4 89.5px,#ffb1b1 102.5px,#ff9c9c 114.5px,#ffafaf 125.5px,#ffecec 136.5px,#fffafa 138.5px,#f9f8fe 139.5px,#c2c2ff 144px)"></i><i style="background:linear-gradient(#0a0aff 0px,#2626ff 34.5px,#5252ff 54.5px,#7272ff 60.5px,#a2a2ff 64.5px,#b5b5ff 65.5px,#b6b6ff 66.5px,#7f7fff 68.5px,#9595ff 74.5px,#dadaff 81.5px,#fbf8fc 84.5px,#ffe2e2 88.5px,#ff9c9c 100.5px,#ff8383 111.5px,#ff8e8e 122.5px,#ffb9b9 131.5px,#fefbfb 140.5px,#f6f6ff 141.5px,#d7d7ff 144px)"></i><i style="background:linear-gradient(#0b0bff 0px,#2727ff 32.5px,#5959ff 53.5px,#7e7eff 60.5px,#aeaeff 64.5px,#f0f0ff 67.5px,#e3defa 68.5px,#c8bbf2 69.5px,#9999ff 70.5px,#b6b6ff 75.5px,#f8f7fe 81.5px,#fff4f4 83.5px,#ff9393 97.5px,#ff7474 106.5px,#ff7373 118.5px,#ff9191 127.5px,#ffe1e1 138.5px,#fffafa 141.5px,#f8f7ff 142.5px,#e7e7ff 144px)"></i><i style="background:linear-gradient(#0c0cff 0px,#2929ff 31.5px,#5b5bff 51.5px,#8181ff 59.5px,#ababff 63.5px,#e3e3ff 66.5px,#fbf9fe 67.5px,#ffe0e0 69.5px,#ffcccc 70.5px,#d6b1da 71.5px,#b6b6ff 72.5px,#dfdfff 77.5px,#fefbfc 80.5px,#ff8484 97.5px,#ff6666 106.5px,#ff6969 119.5px,#ff8c8c 128.5px,#fff4f4 141.5px,#fefcfd 142.5px,#f1f1ff 144px)"></i><i style="background:linear-gradient(#0d0dff 0px,#2a2aff 30.5px,#5e5eff 50.5px,#8c8cff 59.5px,#b6b6ff 63.5px,#efefff 66.5px,#fffafa 67.5px,#ffafaf 71.5px,#ff9797 72.5px,#e4a3bd 73.5px,#d4d4ff 74.5px,#fffcfc 79.5px,#ff7e7e 97.5px,#ff6161 106.5px,#ff6565 119.5px,#ff8989 128.5px,#fff3f3 141.5px,#fffbfb 142.5px,#f5f5ff 144px)"></i><i style="background:linear-gradient(#0e0eff 0px,#2d2dff 30.5px,#6060ff 49.5px,#9494ff 59.5px,#bebeff 63.5px,#f8f8ff 66.5px,#fff5f5 67.5px,#ffa9a9 71.5px,#ff5a5a 74.5px,#f18f9d 75.5px,#ececff 76.5px,#fdfdff 78.5px,#ffbcbc 88.5px,#ff7979 99.5px,#ff6464 109.5px,#ff6e6e 121.5px,#ff9a9a 130.5px,#fefcfd 142.5px,#f0f0ff 144px)"></i><i style="background:linear-gradient(#0f0fff 0px,#2c2cff 29.5px,#6060ff 48.5px,#9a9aff 59.5px,#c4c4ff 63.5px,#fbfafe 66.5px,#ffe4e4 68.5px,#ffa6a6 71.5px,#ff1717 76.5px,#fa7a80 77.5px,#fbfbff 78.5px,#fff3f3 81.5px,#ff8c8c 98.5px,#ff7373 108.5px,#ff7979 120.5px,#ff9e9e 129.5px,#fffbfb 141.5px,#f5f5ff 142.5px,#e5e5ff 144px)"></i><i style="background:linear-gradient(#0f0fff 0px,#2d2dff 29.5px,#5e5eff 47.5px,#9595ff 58.5px,#c7c7ff 63.5px,#fbfafe 66.5px,#ffe4e4 68.5px,#ffa7a7 71.5px,#ff3434 75.5px,#ff1414 76.5px,#ff0000 77.5px,#ff0000 78.5px,#fcfbfe 80.5px,#ffdede 87.5px,#ff9898 101.5px,#ff8686 113.5px,#ff9999 124.5px,#ffd1d1 134.5px,#fcfafd 140.5px,#d3d3ff 144px)"></i><i style="background:linear-gradient(#0f0fff 0px,#2d2dff 29.5px,#5e5eff 47.5px,#9696ff 58.5px,#c5c5ff 63.5px,#f9f9ff 66.5px,#fff6f6 67.5px,#ffc3c3 70.5px,#ff7878 73.5px,#ff1818 76.5px,#ff0000 77.5px,#ff0000 80.5px,#f4f4ff 82.5px,#fff7f7 86.5px,#ffb1b1 103.5px,#ffa3a3 115.5px,#ffbaba 126.5px,#fff8f8 137.5px,#f1f1ff 139.5px,#bbbbff 144px)"></i><i style="background:linear-gradient(#0f0fff 0px,#2c2cff 29.5px,#5c5cff 47.5px,#9393ff 58.5px,#c1c1ff 63.5px,#f1f1ff 66.5px,#fffbfb 67.5px,#ffcbcb 70.5px,#ff8383 73.5px,#ff0606 77.5px,#ff0000 82.5px,#dfdfff 84.5px,#f9f6fc 90.5px,#fff0f0 94.5px,#ffc5c5 110.5px,#ffcccc 122.5px,#fdf8fa 134.5px,#f0f0ff 136.5px,#9f9fff 144px)"></i><i style="background:linear-gradient(#0e0eff 0px,#2c2cff 30.5px,#5c5cff 48.5px,#9595ff 59.5px,#c6c6ff 64.5px,#f9f8fe 67.5px,#fff5f5 68.5px,#ffc3c3 71.5px,#ff7777 74.5px,#ff1616 77.5px,#ff0101 78.5px,#ff0000 84.5px,#c4c4ff 86.5px,#f3f1fd 98.5px,#fff2f2 105.5px,#ffe5e5 115.5px,#faf5fa 128.5px,#e7e7ff 132.5px,#8282ff 144px)"></i><i style="background:linear-gradient(#0d0dff 0px,#2b2bff 31.5px,#5b5bff 49.5px,#9494ff 60.5px,#c8c8ff 65.5px,#fcfbfd 68.5px,#ffe3e3 70.5px,#ffa6a6 73.5px,#ff3131 77.5px,#ff1010 78.5px,#ff0000 79.5px,#ff0000 86.5px,#be7ebf 87.5px,#a6a6ff 88.5px,#bbbbff 98.5px,#f0effe 112.5px,#dfdfff 123.5px,#acacff 133.5px,#6565ff 144px)"></i><i style="background:linear-gradient(#0c0cff 0px,#2828ff 31.5px,#5858ff 50.5px,#8a8aff 60.5px,#b9b9ff 65.5px,#fdfafd 69.5px,#ffd0d0 72.5px,#ff8a8a 75.5px,#ff1212 79.5px,#ff0101 80.5px,#ff0000 87.5px,#e42440 88.5px,#a969bf 89.5px,#8989ff 90.5px,#8c8cff 99.5px,#b3b3ff 113.5px,#9b9bff 126.5px,#4a4aff 144px)"></i><i style="background:linear-gradient(#0b0bff 0px,#2525ff 32.5px,#5353ff 51.5px,#8585ff 61.5px,#b6b6ff 66.5px,#fcfafd 70.5px,#ffe2e2 72.5px,#ff8d8d 76.5px,#ff0505 81.5px,#ff0000 89.5px,#7373ff 91.5px,#6868ff 100.5px,#7e7eff 114.5px,#6161ff 130.5px,#3333ff 144px)"></i><i style="background:linear-gradient(#0a0aff 0px,#2424ff 34.5px,#5151ff 53.5px,#7f7fff 62.5px,#b0b0ff 67.5px,#f8f7fe 71.5px,#fff4f4 72.5px,#ffacac 76.5px,#ff1313 82.5px,#ff0404 83.5px,#ff0303 90.5px,#da284d 91.5px,#8b55c9 92.5px,#6060ff 93.5px,#4c4cff 102.5px,#5353ff 115.5px,#2d2dff 138.5px,#2121ff 144px)"></i><i style="background:linear-gradient(#0909ff 0px,#2121ff 35.5px,#4b4bff 54.5px,#7878ff 63.5px,#aaaaff 68.5px,#f2f2ff 72.5px,#fef8f8 73.5px,#ffb4b4 77.5px,#ff1a1a 84.5px,#ff0808 86.5px,#ff1111 89.5px,#ff4242 92.5px,#845ad5 93.5px,#5656ff 94.5px,#3a3aff 103.5px,#2c2cff 124.5px,#1414ff 144px)"></i><i style="background:linear-gradient(#0808ff 0px,#1f1fff 37.5px,#4949ff 56.5px,#7171ff 64.5px,#a4a4ff 69.5px,#fcf9fc 74.5px,#ffd1d1 77.5px,#ff4c4c 84.5px,#ff3636 86.5px,#ff3a3a 89.5px,#ff6e6e 93.5px,#8161df 94.5px,#5151ff 95.5px,#2e2eff 104.5px,#0c0cff 144px)"></i><i style="background:linear-gradient(#0707ff 0px,#1c1cff 38.5px,#4343ff 57.5px,#6b6bff 65.5px,#9d9dff 70.5px,#e0e0ff 74.5px,#f4f3fe 75.5px,#fff7f8 76.5px,#ff6e6e 85.5px,#ff6060 88.5px,#ff7272 91.5px,#ff9595 94.5px,#7f68e8 95.5px,#4f4fff 96.5px,#2626ff 106.5px,#0b0bff 133.5px,#0707ff 144px)"></i><i style="background:linear-gradient(#0606ff 0px,#1a1aff 40.5px,#3d3dff 58.5px,#6666ff 66.5px,#a4a4ff 72.5px,#faf8fd 77.5px,#ffe7e7 79.5px,#ff9999 85.5px,#ff8989 88.5px,#ff9b9b 92.5px,#ffb6b6 95.5px,#7e6eef 96.5px,#4d4dff 97.5px,#2323ff 107.5px,#0909ff 128.5px,#0505ff 144px)"></i><i style="background:linear-gradient(#0606ff 0px,#1919ff 42.5px,#3939ff 59.5px,#6262ff 67.5px,#9e9eff 73.5px,#efefff 78.5px,#fcf9fc 79.5px,#ffb6b6 86.5px,#ffafaf 90.5px,#ffd1d1 96.5px,#5151ff 97.5px,#2424ff 107.5px,#0a0aff 125.5px,#0404ff 144px)"></i><i style="background:linear-gradient(#0505ff 0px,#1717ff 43.5px,#3636ff 60.5px,#5f5fff 68.5px,#a7a7ff 75.5px,#f3f3ff 80.5px,#fdf9fb 81.5px,#ffcfcf 87.5px,#ffd1d1 92.5px,#ffe2e2 96.5px,#4e4eff 98.5px,#2222ff 108.5px,#0909ff 126.5px,#0404ff 144px)"></i><i style="background:linear-gradient(#0505ff 0px,#1616ff 44.5px,#3535ff 61.5px,#6060ff 69.5px,#a5a5ff 76.5px,#f7f7ff 82.5px,#fff4f4 84.5px,#ffe2e2 89.5px,#ffeded 96.5px,#7d78fa 97.5px,#4c4cff 98.5px,#2121ff 108.5px,#0909ff 127.5px,#0404ff 144px)"></i><i style="background:linear-gradient(#0404ff 0px,#1515ff 44.5px,#3333ff 61.5px,#5b5bff 69.5px,#a6a6ff 77.5px,#fbfafe 84.5px,#fff2f2 91.5px,#fff4f4 95.5px,#4e4eff 97.5px,#2222ff 107.5px,#0909ff 126.5px,#0404ff 144px)"></i><i style="background:linear-gradient(#0404ff 0px,#1414ff 44.5px,#3232ff 61.5px,#5f5fff 70.5px,#b7b7ff 79.5px,#f6f6ff 85.5px,#fffcfc 90.5px,#fffbfb 94.5px,#d4cffb 95.5px,#4f4fff 96.5px,#2323ff 106.5px,#0a0aff 126.5px,#0505ff 144px)"></i><i style="background:linear-gradient(#0404ff 0px,#1515ff 44.5px,#3636ff 62.5px,#5f5fff 70.5px,#b5b5ff 79.5px,#f0f0ff 85.5px,#fefeff 93.5px,#d4d2fe 94.5px,#4f4fff 95.5px,#2525ff 105.5px,#0b0bff 131.5px,#0606ff 144px)"></i><i style="background:linear-gradient(#0404ff 0px,#1515ff 43.5px,#3434ff 61.5px,#6060ff 70.5px,#b8b8ff 79.5px,#f0f0ff 85.5px,#fdfdff 92.5px,#7f7fff 93.5px,#5050ff 94.5px,#2c2cff 103.5px,#0b0bff 144px)"></i><i style="background:linear-gradient(#0404ff 0px,#1616ff 43.5px,#3636ff 61.5px,#6363ff 70.5px,#b3b3ff 78.5px,#f1f1ff 84.5px,#fefdff 90.5px,#d6d5fe 91.5px,#8181ff 92.5px,#5353ff 93.5px,#3636ff 102.5px,#2727ff 126.5px,#1313ff 144px)"></i><i style="background:linear-gradient(#0505ff 0px,#1616ff 42.5px,#3939ff 61.5px,#5f5fff 69.5px,#a3a3ff 76.5px,#f3f3ff 83.5px,#fffdfd 86.5px,#fffafa 89.5px,#5e5eff 91.5px,#4646ff 100.5px,#4e4eff 115.5px,#2828ff 139.5px,#2020ff 144px)"></i><i style="background:linear-gradient(#0505ff 0px,#1717ff 41.5px,#3c3cff 61.5px,#6363ff 69.5px,#ababff 76.5px,#fdfcfe 83.5px,#fff5f5 87.5px,#dcd4f7 88.5px,#6d6dff 89.5px,#5e5eff 98.5px,#7878ff 114.5px,#5a5aff 131.5px,#3131ff 144px)"></i><i style="background:linear-gradient(#0505ff 0px,#1717ff 40.5px,#3c3cff 60.5px,#6161ff 68.5px,#9a9aff 74.5px,#fefdfe 82.5px,#fff2f2 85.5px,#e1d5f4 86.5px,#a09dfb 87.5px,#7d7dff 88.5px,#7e7eff 97.5px,#adadff 113.5px,#9393ff 127.5px,#4848ff 144px)"></i><i style="background:linear-gradient(#0505ff 0px,#1919ff 40.5px,#3f3fff 60.5px,#6565ff 68.5px,#a1a1ff 74.5px,#fdfdfe 81.5px,#fff3f3 83.5px,#e6daf3 84.5px,#b1adfa 85.5px,#9595ff 86.5px,#a5a5ff 95.5px,#eaeaff 113.5px,#d6d6ff 124.5px,#9b9bff 135.5px,#6262ff 144px)"></i><i style="background:linear-gradient(#0505ff 0px,#1919ff 39.5px,#4141ff 60.5px,#6969ff 68.5px,#a8a8ff 74.5px,#fbfbff 80.5px,#fff9f9 81.5px,#ece3f6 82.5px,#c2befb 83.5px,#adadff 84.5px,#cfcfff 93.5px,#f3f1fd 100.5px,#fff2f2 107.5px,#ffe8e8 115.5px,#fbf5f9 127.5px,#ebebff 131.5px,#8080ff 144px)"></i><i style="background:linear-gradient(#0606ff 0px,#1a1aff 39.5px,#4343ff 60.5px,#6b6bff 68.5px,#adadff 74.5px,#f8f8ff 79.5px,#f0edfc 80.5px,#d1cffd 81.5px,#c3c3ff 82.5px,#f5f3fd 91.5px,#fff3f3 95.5px,#ffc7c7 111.5px,#ffd1d1 123.5px,#fbf7fb 134.5px,#e2e2ff 137.5px,#9d9dff 144px)"></i><i style="background:linear-gradient(#0606ff 0px,#1a1aff 38.5px,#4343ff 60.5px,#6666ff 67.5px,#a3a3ff 73.5px,#e1e1ff 77.5px,#e8e8ff 78.5px,#d2d2ff 80.5px,#faf7fc 86.5px,#ffecec 90.5px,#ffb2b2 104.5px,#ffa5a5 115.5px,#ffbcbc 126.5px,#fff9f9 137.5px,#efefff 139.5px,#b9b9ff 144px)"></i><i style="background:linear-gradient(#0606ff 0px,#1b1bff 38.5px,#4343ff 60.5px,#6666ff 67.5px,#9999ff 72.5px,#d3d3ff 76.5px,#e8e8ff 80.5px,#fefbfc 83.5px,#ff9f9f 100.5px,#ff8888 112.5px,#ff9797 123.5px,#ffcaca 133.5px,#fcfafd 140.5px,#d2d2ff 144px)"></i><i style="background:linear-gradient(#0606ff 0px,#1c1cff 39.5px,#4242ff 60.5px,#6666ff 67.5px,#9e9eff 72.5px,#ceceff 75.5px,#f9f9ff 80.5px,#fff6f6 82.5px,#ff8f8f 98.5px,#ff7474 108.5px,#ff7979 120.5px,#ff9e9e 129.5px,#fffbfb 141.5px,#f5f5ff 142.5px,#e5e5ff 144px)"></i><i style="background:linear-gradient(#0606ff 0px,#1b1bff 39.5px,#4040ff 60.5px,#6666ff 67.5px,#8787ff 70.5px,#bfbfff 73.5px,#fffdfd 80.5px,#ff8484 97.5px,#ff6666 106.5px,#ff6969 119.5px,#ff8c8c 128.5px,#fff4f4 141.5px,#fefcfd 142.5px,#f1f1ff 144px)"></i><i style="background:linear-gradient(#0606ff 0px,#1c1cff 40.5px,#3e3eff 60.5px,#5e5eff 66.5px,#7272ff 68.5px,#9e9eff 70.5px,#ddddff 77.5px,#fffcfc 80.5px,#ff8383 96.5px,#ff6161 105.5px,#ff6363 119.5px,#ff8787 128.5px,#ffe8e8 140.5px,#fffafa 142.5px,#f7f7ff 144px)"></i><i style="background:linear-gradient(#0606ff 0px,#1b1bff 41.5px,#3b3bff 60.5px,#5757ff 65.5px,#7272ff 67.5px,#8989ff 68.5px,#bcbcff 75.5px,#f9f9ff 80.5px,#fff2f2 82.5px,#ff8787 96.5px,#ff6565 105.5px,#ff6363 118.5px,#ff8383 127.5px,#ffd8d8 138.5px,#fffbfb 142.5px,#f4f4ff 144px)"></i><i style="background:linear-gradient(#0505ff 0px,#1b1bff 43.5px,#3838ff 60.5px,#5151ff 64.5px,#7d7dff 66.5px,#8b8bff 71.5px,#bfbfff 77.5px,#f4f4ff 81.5px,#fdfbfc 82.5px,#ff8f8f 97.5px,#ff7070 106.5px,#ff6e6e 118.5px,#ff8c8c 127.5px,#ffdede 138.5px,#fbfafe 142.5px,#ebebff 144px)"></i><i style="background:linear-gradient(#0505ff 0px,#1b1bff 46.5px,#3232ff 59.5px,#4343ff 62.5px,#6c6cff 64.5px,#7272ff 70.5px,#9d9dff 76.5px,#f3f3ff 83.5px,#fff7f7 85.5px,#ffa0a0 98.5px,#ff8080 108.5px,#ff8181 119.5px,#ffa1a1 128.5px,#fff8f8 140.5px,#fbfafe 141.5px,#dcdcff 144px)"></i><i style="background:linear-gradient(#0505ff 0px,#1b1bff 49.5px,#3232ff 59.5px,#3737ff 60.5px,#5f5fff 62.5px,#5a5aff 68.5px,#7474ff 74.5px,#b6b6ff 81.5px,#f3f3ff 86.5px,#fff7f7 88.5px,#ffaeae 101.5px,#ff9494 113.5px,#ffa4a4 124.5px,#ffd9d9 134.5px,#fdfbfc 139.5px,#e5e5ff 141.5px,#c8c8ff 144px)"></i><i style="background:linear-gradient(#0505ff 0px,#1919ff 50.5px,#2d2dff 58.5px,#5757ff 60.5px,#4848ff 67.5px,#5c5cff 74.5px,#9c9cff 82.5px,#f3f2fe 90.5px,#fff3f3 93.5px,#ffbdbd 106.5px,#ffb0b0 115.5px,#ffc5c5 126.5px,#fff9f9 136.5px,#f1f1ff 138.5px,#b1b1ff 144px)"></i><i style="background:linear-gradient(#0404ff 0px,#1717ff 51.5px,#2323ff 56.5px,#3333ff 57.5px,#5353ff 58.5px,#3a3aff 66.5px,#4747ff 74.5px,#7f7fff 83.5px,#efefff 95.5px,#fff5f5 99.5px,#ffcece 113.5px,#ffdddd 125.5px,#fbf7fb 133.5px,#e4e4ff 136.5px,#9797ff 144px)"></i><i style="background:linear-gradient(#0404ff 0px,#1414ff 51.5px,#1b1bff 54.5px,#4646ff 56.5px,#4d4dff 57.5px,#3030ff 65.5px,#3535ff 74.5px,#5d5dff 83.5px,#efefff 103.5px,#fff5f5 109.5px,#ffefef 117.5px,#f8f5fc 127.5px,#ececff 130.5px,#7c7cff 144px)"></i><i style="background:linear-gradient(#0404ff 0px,#1010ff 50.5px,#1717ff 53.5px,#4e4eff 55.5px,#2a2aff 64.5px,#2626ff 74.5px,#4949ff 85.5px,#e4e4ff 112.5px,#d8d8ff 123.5px,#a9a9ff 133.5px,#6363ff 144px)"></i><i style="background:linear-gradient(#0303ff 0px,#0e0eff 50.5px,#1010ff 51.5px,#2323ff 52.5px,#4141ff 53.5px,#4a4aff 54.5px,#2323ff 64.5px,#1d1dff 76.5px,#3e3eff 89.5px,#adadff 113.5px,#9e9eff 125.5px,#6060ff 139.5px,#4b4bff 144px)"></i><i style="background:linear-gradient(#0303ff 0px,#0d0dff 50.5px,#2020ff 51.5px,#4f4fff 52.5px,#2323ff 62.5px,#1414ff 76.5px,#2b2bff 91.5px,#7b7bff 113.5px,#6c6cff 127.5px,#3636ff 144px)"></i><i style="background:linear-gradient(#0303ff 0px,#0a0aff 49.5px,#1d1dff 50.5px,#4e4eff 51.5px,#2222ff 61.5px,#0f0fff 77.5px,#2020ff 95.5px,#5151ff 114.5px,#3e3eff 132.5px,#2424ff 144px)"></i><i style="background:linear-gradient(#0303ff 0px,#0707ff 48.5px,#1a1aff 49.5px,#4e4eff 50.5px,#2222ff 60.5px,#0b0bff 77.5px,#1616ff 99.5px,#3131ff 115.5px,#1c1cff 139.5px,#1616ff 144px)"></i><i style="background:linear-gradient(#0303ff 0px,#0505ff 47.5px,#1919ff 48.5px,#4f4fff 49.5px,#2323ff 59.5px,#0a0aff 77.5px,#0f0fff 104.5px,#1a1aff 118.5px,#0c0cff 144px)"></i><i style="background:linear-gradient(#0303ff 0px,#0404ff 47.5px,#3e3eff 48.5px,#4b4bff 49.5px,#2121ff 59.5px,#0909ff 78.5px,#0606ff 144px)"></i><i style="background:linear-gradient(#0303ff 0px,#0505ff 47.5px,#4d4dff 49.5px,#2222ff 59.5px,#0909ff 77.5px,#0404ff 144px)"></i><i style="background:linear-gradient(#0303ff 0px,#0707ff 48.5px,#3f3fff 49.5px,#4b4bff 50.5px,#2121ff 60.5px,#0808ff 79.5px,#0303ff 144px)"></i><i style="background:linear-gradient(#0303ff 0px,#0b0bff 49.5px,#3f3fff 50.5px,#4a4aff 51.5px,#2121ff 61.5px,#0808ff 80.5px,#0303ff 144px)"></i><i style="background:linear-gradient(#0303ff 0px,#0e0eff 49.5px,#0f0fff 50.5px,#4141ff 51.5px,#4b4bff 52.5px,#2121ff 62.5px,#0808ff 81.5px,#0303ff 144px)"></i><i style="background:linear-gradient(#0404ff 0px,#1111ff 49.5px,#1515ff 51.5px,#4343ff 52.5px,#4c4cff 53.5px,#2222ff 63.5px,#0909ff 81.5px,#0606ff 144px)"></i><i style="background:linear-gradient(#0404ff 0px,#1414ff 49.5px,#1b1bff 52.5px,#2b2bff 53.5px,#4f4fff 54.5px,#2323ff 64.5px,#0b0bff 81.5px,#1111ff 107.5px,#1616ff 123.5px,#0b0bff 144px)"></i><i style="background:linear-gradient(#0505ff 0px,#1919ff 49.5px,#2626ff 54.5px,#4848ff 55.5px,#4c4cff 56.5px,#2222ff 66.5px,#0d0dff 83.5px,#1b1bff 104.5px,#2c2cff 115.5px,#1515ff 142.5px,#1414ff 144px)"></i><i style="background:linear-gradient(#0606ff 0px,#1c1cff 47.5px,#2f2fff 55.5px,#4a4aff 57.5px,#1d1dff 70.5px,#1313ff 86.5px,#3030ff 104.5px,#4949ff 114.5px,#3636ff 133.5px,#2020ff 144px)"></i><i style="background:linear-gradient(#0707ff 0px,#1f1fff 44.5px,#3535ff 55.5px,#4f4fff 59.5px,#2525ff 69.5px,#1b1bff 82.5px,#3838ff 97.5px,#6f6fff 113.5px,#6060ff 128.5px,#3030ff 144px)"></i><i style="background:linear-gradient(#0808ff 0px,#2121ff 40.5px,#3d3dff 55.5px,#5c5cff 60.5px,#3b3bff 65.5px,#2525ff 75.5px,#3333ff 87.5px,#8e8eff 109.5px,#9e9eff 113.5px,#8e8eff 126.5px,#4444ff 144px)"></i><i style="background:linear-gradient(#0909ff 0px,#2323ff 37.5px,#4747ff 55.5px,#6767ff 60.5px,#7575ff 62.5px,#4d4dff 64.5px,#3333ff 72.5px,#3939ff 81.5px,#6b6bff 93.5px,#d3d3ff 113.5px,#c4c4ff 124.5px,#8f8fff 135.5px,#5b5bff 144px)"></i><i style="background:linear-gradient(#0a0aff 0px,#2525ff 35.5px,#4e4eff 54.5px,#7171ff 60.5px,#9999ff 63.5px,#9696ff 64.5px,#5353ff 66.5px,#4343ff 73.5px,#5252ff 81.5px,#9898ff 93.5px,#f1f1fe 107.5px,#fef7f8 115.5px,#ededff 127.5px,#9e9eff 138.5px,#7373ff 144px)"></i><i style="background:linear-gradient(#0b0bff 0px,#2727ff 33.5px,#5555ff 53.5px,#7575ff 59.5px,#a4a4ff 63.5px,#cbcbff 65.5px,#c2c2ff 66.5px,#8787ff 67.5px,#5e5eff 68.5px,#5a5aff 75.5px,#7d7dff 83.5px,#f3f1fd 98.5px,#fff4f4 102.5px,#ffd9d9 114.5px,#ffeaea 126.5px,#fcf7fb 131.5px,#eaeaff 134.5px,#8d8dff 144px)"></i><i style="background:linear-gradient(#0c0cff 0px,#2a2aff 32.5px,#5b5bff 52.5px,#8181ff 59.5px,#b0b0ff 63.5px,#f0f0ff 66.5px,#fff8f8 67.5px,#ffe7e7 68.5px,#b6a0e9 69.5px,#7171ff 70.5px,#7878ff 76.5px,#a4a4ff 83.5px,#f1f1ff 91.5px,#fff6f6 94.5px,#ffc5c5 107.5px,#ffbbbb 116.5px,#ffd2d2 127.5px,#fef9fa 135.5px,#f1f1ff 137.5px,#a7a7ff 144px)"></i><i style="background:linear-gradient(#0d0dff 0px,#2a2aff 30.5px,#5d5dff 50.5px,#8484ff 58.5px,#adadff 62.5px,#e3e3ff 65.5px,#faf9fe 66.5px,#ffe1e1 68.5px,#ffb9b9 70.5px,#c192d0 71.5px,#8b8bff 72.5px,#a3a3ff 78.5px,#f6f5fd 87.5px,#fff0f0 90.5px,#ffb1b1 103.5px,#ff9e9e 114.5px,#ffb1b1 125.5px,#ffeeee 136.5px,#fefafb 138.5px,#e9e9ff 140.5px,#bfbfff 144px)"></i><i style="background:linear-gradient(#0e0eff 0px,#2c2cff 30.5px,#5f5fff 49.5px,#8d8dff 58.5px,#b6b6ff 62.5px,#fffbfb 66.5px,#ffb3b3 70.5px,#ff8383 72.5px,#e8788f 73.5px,#c195d4 74.5px,#b2b2ff 75.5px,#e1e1ff 81.5px,#fcf8fc 84.5px,#ff9f9f 100.5px,#ff8686 111.5px,#ff9191 122.5px,#ffbaba 131.5px,#fdfbfc 140.5px,#d4d4ff 144px)"></i><i style="background:linear-gradient(#0f0fff 0px,#2c2cff 29.5px,#6060ff 48.5px,#9494ff 58.5px,#bdbdff 62.5px,#f4f4ff 65.5px,#fff8f8 66.5px,#ffafaf 70.5px,#ff4646 74.5px,#f25360 75.5px,#dfa4c4 76.5px,#ddddff 77.5px,#fdfafc 81.5px,#ff8c8c 99.5px,#ff7474 109.5px,#ff7c7c 121.5px,#ffa5a5 130.5px,#fffbfc 141.5px,#e4e4ff 144px)"></i><i style="background:linear-gradient(#0f0fff 0px,#2d2dff 29.5px,#5f5fff 47.5px,#9898ff 58.5px,#c0c0ff 62.5px,#f5f5ff 65.5px,#fff7f7 66.5px,#ffafaf 70.5px,#ff2525 75.5px,#ff0707 76.5px,#ff0000 77.5px,#fffafa 79.5px,#ff7d7d 99.5px,#ff6767 109.5px,#ff7070 121.5px,#ff9b9b 130.5px,#fdfcfe 142.5px,#eeeeff 144px)"></i><i style="background:linear-gradient(#0f0fff 0px,#2d2dff 29.5px,#5f5fff 47.5px,#9999ff 58.5px,#ceceff 63.5px,#f3f3ff 65.5px,#fff9f9 66.5px,#ffc9c9 69.5px,#ff6565 73.5px,#ff0808 76.5px,#ff0000 78.5px,#ff0000 79.5px,#ffe7e7 81.5px,#ff7878 99.5px,#ff6363 109.5px,#ff6d6d 121.5px,#ff9999 130.5px,#fefcfd 142.5px,#f0f0ff 144px)"></i><i style="background:linear-gradient(#0f0fff 0px,#2d2dff 29.5px,#5e5eff 47.5px,#9797ff 58.5px,#cacaff 63.5px,#fdfbfd 66.5px,#ffd0d0 69.5px,#ff8b8b 72.5px,#ff1212 76.5px,#ff0000 77.5px,#ff0000 81.5px,#ffd9d9 83.5px,#ff7d7d 99.5px,#ff6969 109.5px,#ff7373 121.5px,#ff9d9d 130.5px,#fbfbfe 142.5px,#ebebff 144px)"></i><i style="background:linear-gradient(#0e0eff 0px,#2d2dff 30.5px,#5f5fff 48.5px,#9999ff 59.5px,#d0d0ff 64.5px,#f5f5ff 66.5px,#fff8f8 67.5px,#ffc7c7 70.5px,#ff6262 74.5px,#ff0606 77.5px,#ff0000 83.5px,#ffd5d5 85.5px,#ff8686 101.5px,#ff7777 113.5px,#ff8787 123.5px,#ffb7b7 132.5px,#fdfcfe 141.5px,#dfdfff 144px)"></i><i style="background:linear-gradient(#0e0eff 0px,#2a2aff 30.5px,#5a5aff 48.5px,#9292ff 59.5px,#c4c4ff 64.5px,#f9f8fe 67.5px,#fff5f5 68.5px,#ffc1c1 71.5px,#ff5b5b 75.5px,#ff0303 78.5px,#ff0000 85.5px,#ffd9d9 87.5px,#ff9999 103.5px,#ff8e8e 115.5px,#ffa3a3 125.5px,#ffe4e4 136.5px,#fefafa 139.5px,#f7f7fe 140.5px,#ccccff 144px)"></i><i style="background:linear-gradient(#0d0dff 0px,#2929ff 31.5px,#5757ff 49.5px,#8888ff 59.5px,#b6b6ff 64.5px,#faf9fe 68.5px,#ffe4e4 70.5px,#ff9191 74.5px,#ff0505 79.5px,#ff0000 87.5px,#ffadad 88.5px,#ffe5e5 89.5px,#ffb0b0 107.5px,#ffacac 117.5px,#ffcaca 128.5px,#fcf9fc 137.5px,#e8e8ff 139.5px,#b3b3ff 144px)"></i><i style="background:linear-gradient(#0c0cff 0px,#2727ff 32.5px,#5656ff 51.5px,#8b8bff 61.5px,#c1c1ff 66.5px,#f9f7fe 69.5px,#fff4f4 70.5px,#ffabab 74.5px,#ff0f0f 80.5px,#ff0101 81.5px,#ff0000 88.5px,#ff3d3d 89.5px,#fef9f9 90.5px,#ffcaca 113.5px,#ffdfdf 126.5px,#fcf7fa 133.5px,#e5e5ff 136.5px,#9797ff 144px)"></i><i style="background:linear-gradient(#0a0aff 0px,#2424ff 33.5px,#5151ff 52.5px,#7d7dff 61.5px,#aeaeff 66.5px,#f4f4fe 70.5px,#fff7f7 71.5px,#ffb1b1 75.5px,#ff0d0d 82.5px,#ff0000 84.5px,#ff0101 88.5px,#ff1b1b 90.5px,#eab6cb 91.5px,#e0e0ff 92.5px,#f8f3fa 102.5px,#ffefef 110.5px,#fff3f3 121.5px,#f0f0ff 129.5px,#7a7aff 144px)"></i><i style="background:linear-gradient(#0909ff 0px,#2222ff 35.5px,#4f4fff 54.5px,#7e7eff 63.5px,#b5b5ff 68.5px,#ededff 71.5px,#fdf8fb 72.5px,#ffcece 75.5px,#ff2929 83.5px,#ff1414 85.5px,#ff1616 87.5px,#ff3939 90.5px,#ff4a4a 91.5px,#ef7584 92.5px,#b7b7ff 93.5px,#cacaff 104.5px,#e4e4ff 113.5px,#cacaff 125.5px,#8787ff 137.5px,#5e5eff 144px)"></i><i style="background:linear-gradient(#0808ff 0px,#1f1fff 36.5px,#4848ff 55.5px,#7777ff 64.5px,#adadff 69.5px,#f7f6fe 73.5px,#fff5f5 74.5px,#ff9090 80.5px,#ff4d4d 84.5px,#ff4242 87.5px,#ff5b5b 90.5px,#ff7676 92.5px,#e68aa3 93.5px,#9393ff 94.5px,#9393ff 103.5px,#a8a8ff 114.5px,#8a8aff 128.5px,#4444ff 144px)"></i><i style="background:linear-gradient(#0707ff 0px,#1d1dff 38.5px,#4242ff 56.5px,#7070ff 65.5px,#a5a5ff 70.5px,#fbf8fc 75.5px,#ffd5d5 78.5px,#ff7d7d 84.5px,#ff6f6f 87.5px,#ff8888 91.5px,#ff9d9d 93.5px,#df9ebe 94.5px,#7878ff 95.5px,#6c6cff 104.5px,#7777ff 114.5px,#5353ff 132.5px,#2f2fff 144px)"></i><i style="background:linear-gradient(#0606ff 0px,#1a1aff 39.5px,#4040ff 58.5px,#6969ff 66.5px,#9c9cff 71.5px,#efefff 76.5px,#fcf8fb 77.5px,#ffa0a0 85.5px,#ff9a9a 88.5px,#ffbfbf 94.5px,#6464ff 96.5px,#4e4eff 105.5px,#4e4eff 116.5px,#1e1eff 144px)"></i><i style="background:linear-gradient(#0505ff 0px,#1818ff 41.5px,#3a3aff 59.5px,#6363ff 67.5px,#9f9fff 73.5px,#eeeeff 78.5px,#faf7fc 79.5px,#ffe0e0 82.5px,#ffc3c3 86.5px,#ffc3c3 90.5px,#ffdada 95.5px,#847df7 96.5px,#5656ff 97.5px,#3a3aff 106.5px,#1313ff 144px)"></i><i style="background:linear-gradient(#0505ff 0px,#1616ff 42.5px,#3737ff 60.5px,#6060ff 68.5px,#a3a3ff 75.5px,#f6f5fe 81.5px,#fff3f3 83.5px,#ffdfdf 88.5px,#ffe8e8 94.5px,#d5c3ee 95.5px,#5353ff 96.5px,#2f2fff 105.5px,#0b0bff 144px)"></i><i style="background:linear-gradient(#0404ff 0px,#1515ff 43.5px,#3535ff 61.5px,#6464ff 70.5px,#bbbbff 79.5px,#f4f3ff 84.5px,#fff7f7 90.5px,#fff6f6 94.5px,#7d7afc 95.5px,#4d4dff 96.5px,#2525ff 106.5px,#0a0aff 133.5px,#0707ff 144px)"></i><i style="background:linear-gradient(#0404ff 0px,#1414ff 44.5px,#3434ff 62.5px,#6262ff 71.5px,#dbdbff 86.5px,#f4f4ff 93.5px,#4d4dff 95.5px,#2323ff 105.5px,#0909ff 126.5px,#0505ff 144px)"></i><i style="background:linear-gradient(#0404ff 0px,#1313ff 45.5px,#3131ff 62.5px,#6060ff 72.5px,#bdbdff 86.5px,#dadaff 92.5px,#bebeff 93.5px,#4e4eff 94.5px,#2222ff 104.5px,#0909ff 123.5px,#0404ff 144px)"></i><i style="background:linear-gradient(#0303ff 0px,#1313ff 45.5px,#3232ff 63.5px,#6b6bff 75.5px,#c4c4ff 91.5px,#9191ff 92.5px,#4d4dff 93.5px,#2222ff 103.5px,#0909ff 121.5px,#0404ff 144px)"></i><i style="background:linear-gradient(#0303ff 0px,#1212ff 45.5px,#3333ff 64.5px,#a3a3ff 88.5px,#b3b3ff 90.5px,#6c6cff 91.5px,#4c4cff 92.5px,#2121ff 102.5px,#0909ff 121.5px,#0303ff 144px)"></i><i style="background:linear-gradient(#0303ff 0px,#1212ff 45.5px,#3232ff 64.5px,#9696ff 87.5px,#9e9eff 88.5px,#9292ff 89.5px,#6767ff 90.5px,#4a4aff 91.5px,#2121ff 101.5px,#0909ff 120.5px,#0404ff 144px)"></i><i style="background:linear-gradient(#0303ff 0px,#1313ff 45.5px,#3535ff 65.5px,#8787ff 85.5px,#9797ff 87.5px,#7979ff 88.5px,#4d4dff 89.5px,#2222ff 99.5px,#0c0cff 117.5px,#0404ff 144px)"></i><i style="background:linear-gradient(#0303ff 0px,#1313ff 44.5px,#3434ff 65.5px,#7a7aff 83.5px,#8a8aff 85.5px,#8383ff 86.5px,#4a4aff 88.5px,#2222ff 98.5px,#1212ff 116.5px,#0707ff 144px)"></i><i style="background:linear-gradient(#0303ff 0px,#1313ff 44.5px,#3737ff 66.5px,#7070ff 81.5px,#8989ff 84.5px,#6161ff 85.5px,#4d4dff 86.5px,#2626ff 96.5px,#1e1eff 110.5px,#0c0cff 144px)"></i><i style="background:linear-gradient(#0303ff 0px,#1313ff 43.5px,#3a3aff 67.5px,#6666ff 79.5px,#7e7eff 82.5px,#6e6eff 83.5px,#5151ff 84.5px,#2f2fff 93.5px,#2b2bff 106.5px,#3434ff 116.5px,#1616ff 144px)"></i><i style="background:linear-gradient(#0404ff 0px,#1414ff 43.5px,#3d3dff 68.5px,#6464ff 78.5px,#7575ff 80.5px,#6b6bff 81.5px,#5656ff 82.5px,#3939ff 91.5px,#3f3fff 103.5px,#5757ff 114.5px,#4141ff 132.5px,#2525ff 144px)"></i><i style="background:linear-gradient(#0404ff 0px,#1515ff 43.5px,#3d3dff 68.5px,#5c5cff 76.5px,#7070ff 79.5px,#5858ff 81.5px,#4848ff 89.5px,#5c5cff 101.5px,#8585ff 114.5px,#7171ff 128.5px,#3838ff 144px)"></i><i style="background:linear-gradient(#0404ff 0px,#1616ff 43.5px,#3e3eff 68.5px,#5c5cff 75.5px,#6b6bff 77.5px,#5959ff 83.5px,#6565ff 92.5px,#bebeff 113.5px,#adadff 125.5px,#6e6eff 138.5px,#5151ff 144px)"></i><i style="background:linear-gradient(#0404ff 0px,#1717ff 43.5px,#3e3eff 68.5px,#5d5dff 74.5px,#6d6dff 76.5px,#6a6aff 83.5px,#9393ff 93.5px,#ededff 109.5px,#f6f2fb 116.5px,#e9e9ff 125.5px,#acacff 135.5px,#6c6cff 144px)"></i><i style="background:linear-gradient(#0404ff 0px,#1717ff 43.5px,#3d3dff 67.5px,#5757ff 72.5px,#7070ff 74.5px,#7e7eff 82.5px,#c0c0ff 92.5px,#efeeff 98.5px,#fff2f2 104.5px,#ffdddd 115.5px,#fff0f0 127.5px,#f8f5fb 131.5px,#e5e5ff 134.5px,#8a8aff 144px)"></i><i style="background:linear-gradient(#0404ff 0px,#1717ff 43.5px,#3838ff 65.5px,#5050ff 70.5px,#7272ff 72.5px,#8d8dff 80.5px,#d9d9ff 89.5px,#f4f2fd 92.5px,#fff3f3 95.5px,#ffc3c3 108.5px,#ffbbbb 117.5px,#ffd5d5 128.5px,#fef8f9 135.5px,#f2f2ff 137.5px,#a7a7ff 144px)"></i><i style="background:linear-gradient(#0404ff 0px,#1818ff 44.5px,#3636ff 64.5px,#4949ff 68.5px,#7272ff 70.5px,#7c7cff 72.5px,#9696ff 78.5px,#e6e6ff 86.5px,#f9f6fc 88.5px,#ffecec 91.5px,#ffafaf 103.5px,#ff9a9a 114.5px,#ffadad 125.5px,#ffebeb 136.5px,#fff9f9 138.5px,#eeeeff 140.5px,#c2c2ff 144px)"></i><i style="background:linear-gradient(#0404ff 0px,#1919ff 45.5px,#3434ff 63.5px,#4242ff 66.5px,#6e6eff 68.5px,#7a7aff 69.5px,#8989ff 74.5px,#bebeff 80.5px,#fbf9fd 85.5px,#ffdada 90.5px,#ff9898 101.5px,#ff7f7f 112.5px,#ff8c8c 123.5px,#ffbbbb 132.5px,#fff9f9 140.5px,#f9f8fe 141.5px,#dadaff 144px)"></i><i style="background:linear-gradient(#0404ff 0px,#1919ff 47.5px,#3131ff 62.5px,#3b3bff 64.5px,#6969ff 66.5px,#7575ff 67.5px,#8383ff 72.5px,#b8b8ff 78.5px,#fcfbfe 83.5px,#ff8f8f 98.5px,#ff6f6f 107.5px,#ff6e6e 119.5px,#ff9090 128.5px,#ffeeee 140.5px,#fbfafe 142.5px,#ebebff 144px)"></i><i style="background:linear-gradient(#0404ff 0px,#1a1aff 49.5px,#2f2fff 61.5px,#3434ff 62.5px,#6262ff 64.5px,#6e6eff 65.5px,#7777ff 70.5px,#a8a8ff 76.5px,#fcfbfe 82.5px,#ff8686 97.5px,#ff6262 106.5px,#ff6161 119.5px,#ff7e7e 127.5px,#ffcccc 137.5px,#fffafa 142.5px,#f7f7ff 144px)"></i><i style="background:linear-gradient(#0404ff 0px,#1a1aff 51.5px,#2d2dff 60.5px,#3232ff 61.5px,#6666ff 63.5px,#6969ff 68.5px,#8888ff 73.5px,#d1d1ff 79.5px,#fefcfe 82.5px,#ff8181 97.5px,#ff5f5f 105.5px,#ff5b5b 118.5px,#ff7474 126.5px,#ffb6b6 135.5px,#fff8f8 142.5px,#fbfbff 144px)"></i><i style="background:linear-gradient(#0404ff 0px,#1919ff 52.5px,#2a2aff 59.5px,#6060ff 61.5px,#5d5dff 67.5px,#8181ff 73.5px,#c9c9ff 79.5px,#f8f8ff 82.5px,#fffafa 83.5px,#ff8686 97.5px,#ff6161 106.5px,#ff6060 119.5px,#ff7d7d 127.5px,#ffcbcb 137.5px,#fff9f9 142.5px,#f8f8ff 144px)"></i><i style="background:linear-gradient(#0404ff 0px,#1717ff 52.5px,#2222ff 57.5px,#4e4eff 59.5px,#5858ff 60.5px,#5151ff 66.5px,#6d6dff 72.5px,#ababff 78.5px,#f5f5ff 83.5px,#fefafb 84.5px,#ff8e8e 98.5px,#ff6c6c 107.5px,#ff6b6b 119.5px,#ff8c8c 128.5px,#ffeded 140.5px,#fdfcfe 142.5px,#eeeeff 144px)"></i><i style="background:linear-gradient(#0404ff 0px,#1515ff 52.5px,#1e1eff 56.5px,#5555ff 58.5px,#4646ff 65.5px,#5959ff 71.5px,#8b8bff 77.5px,#f6f6fe 85.5px,#fff3f3 87.5px,#ff9e9e 99.5px,#ff7d7d 109.5px,#ff7f7f 120.5px,#ffa2a2 129.5px,#fdfbfd 141.5px,#dfdfff 144px)"></i><i style="background:linear-gradient(#0404ff 0px,#1212ff 51.5px,#1717ff 54.5px,#2929ff 55.5px,#4646ff 56.5px,#5050ff 57.5px,#3c3cff 64.5px,#4a4aff 71.5px,#7e7eff 78.5px,#f8f6fd 88.5px,#fff2f2 90.5px,#ffacac 102.5px,#ff9191 113.5px,#ffa0a0 124.5px,#ffd6d6 134.5px,#fefafb 139.5px,#f7f6ff 140.5px,#cacaff 144px)"></i><i style="background:linear-gradient(#0404ff 0px,#1010ff 51.5px,#1414ff 53.5px,#2626ff 54.5px,#5252ff 55.5px,#3434ff 63.5px,#3c3cff 71.5px,#6464ff 78.5px,#c1c1ff 87.5px,#f1f0ff 91.5px,#fff4f4 94.5px,#ffbdbd 106.5px,#ffaeae 115.5px,#ffc1c1 126.5px,#fcf9fc 137.5px,#e8e8ff 139.5px,#b2b2ff 144px)"></i><i style="background:linear-gradient(#0303ff 0px,#0e0eff 51.5px,#1010ff 52.5px,#2222ff 53.5px,#5050ff 54.5px,#2f2fff 62.5px,#2f2fff 71.5px,#5353ff 79.5px,#a9a9ff 89.5px,#efefff 96.5px,#fff4f4 100.5px,#ffcccc 113.5px,#ffdada 125.5px,#fef8fa 133.5px,#e8e8ff 136.5px,#9898ff 144px)"></i><i style="background:linear-gradient(#0303ff 0px,#0c0cff 51.5px,#1f1fff 52.5px,#4f4fff 53.5px,#2929ff 62.5px,#2626ff 72.5px,#4646ff 81.5px,#a5a5ff 94.5px,#f0f0fe 104.5px,#fff4f4 110.5px,#ffeded 117.5px,#faf6fa 127.5px,#e9e9ff 131.5px,#7d7dff 144px)"></i><i style="background:linear-gradient(#0303ff 0px,#0909ff 50.5px,#1d1dff 51.5px,#4f4fff 52.5px,#2828ff 61.5px,#1d1dff 72.5px,#3838ff 83.5px,#9595ff 99.5px,#e6e6ff 113.5px,#d8d8ff 124.5px,#a4a4ff 134.5px,#6363ff 144px)"></i><i style="background:linear-gradient(#0303ff 0px,#0808ff 50.5px,#5151ff 51.5px,#2727ff 60.5px,#1616ff 73.5px,#2a2aff 85.5px,#7a7aff 103.5px,#acacff 114.5px,#9c9cff 126.5px,#5b5bff 140.5px,#4a4aff 144px)"></i><i style="background:linear-gradient(#0303ff 0px,#0606ff 49.5px,#4d4dff 51.5px,#2222ff 61.5px,#1111ff 75.5px,#2424ff 90.5px,#7070ff 111.5px,#7979ff 115.5px,#6767ff 129.5px,#3535ff 144px)"></i><i style="background:linear-gradient(#0303ff 0px,#0606ff 49.5px,#1919ff 50.5px,#4e4eff 51.5px,#2323ff 61.5px,#0e0eff 77.5px,#1c1cff 95.5px,#4f4fff 115.5px,#3d3dff 132.5px,#2323ff 144px)"></i><i style="background:linear-gradient(#0303ff 0px,#0808ff 50.5px,#4040ff 51.5px,#4c4cff 52.5px,#2222ff 62.5px,#0b0bff 79.5px,#1616ff 101.5px,#2e2eff 116.5px,#1818ff 141.5px,#1515ff 144px)"></i><i style="background:linear-gradient(#0303ff 0px,#0b0bff 51.5px,#3f3fff 52.5px,#4b4bff 53.5px,#2121ff 63.5px,#0a0aff 81.5px,#1010ff 107.5px,#1717ff 121.5px,#0c0cff 144px)"></i><i style="background:linear-gradient(#0303ff 0px,#0d0dff 51.5px,#0f0fff 52.5px,#4040ff 53.5px,#4b4bff 54.5px,#2121ff 64.5px,#0909ff 83.5px,#0606ff 144px)"></i><i style="background:linear-gradient(#0404ff 0px,#1010ff 51.5px,#1414ff 53.5px,#4343ff 54.5px,#4c4cff 55.5px,#2121ff 65.5px,#0909ff 84.5px,#0303ff 144px)"></i><i style="background:linear-gradient(#0404ff 0px,#1313ff 51.5px,#1a1aff 54.5px,#4e4eff 56.5px,#2222ff 66.5px,#0909ff 84.5px,#0303ff 144px)"></i><i style="background:linear-gradient(#0505ff 0px,#1717ff 51.5px,#2121ff 55.5px,#4646ff 57.5px,#4a4aff 58.5px,#2121ff 68.5px,#0808ff 87.5px,#0303ff 144px)"></i><i style="background:linear-gradient(#0505ff 0px,#1a1aff 49.5px,#2f2fff 57.5px,#4444ff 58.5px,#4e4eff 59.5px,#2222ff 69.5px,#0909ff 87.5px,#0303ff 144px)"></i><i style="background:linear-gradient(#0606ff 0px,#1d1dff 46.5px,#3434ff 57.5px,#4f4fff 60.5px,#1f1fff 72.5px,#0808ff 92.5px,#0606ff 144px)"></i><i style="background:linear-gradient(#0707ff 0px,#1f1fff 42.5px,#3737ff 56.5px,#5757ff 61.5px,#2727ff 71.5px,#0d0dff 87.5px,#1212ff 110.5px,#0d0dff 138.5px,#0a0aff 144px)"></i><i style="background:linear-gradient(#0808ff 0px,#2121ff 39.5px,#4141ff 56.5px,#6161ff 61.5px,#7070ff 63.5px,#4a4aff 65.5px,#2121ff 75.5px,#0f0fff 91.5px,#2222ff 110.5px,#2727ff 121.5px,#1212ff 144px)"></i><i style="background:linear-gradient(#0909ff 0px,#2222ff 36.5px,#4b4bff 56.5px,#6b6bff 61.5px,#9494ff 64.5px,#9191ff 65.5px,#4a4aff 67.5px,#2323ff 77.5px,#1818ff 91.5px,#3434ff 108.5px,#4343ff 115.5px,#3030ff 134.5px,#1d1dff 144px)"></i><i style="background:linear-gradient(#0a0aff 0px,#2424ff 34.5px,#5252ff 55.5px,#7777ff 61.5px,#9f9fff 64.5px,#c8c8ff 66.5px,#bdbdff 67.5px,#7a7aff 68.5px,#4b4bff 69.5px,#2929ff 78.5px,#2525ff 90.5px,#4f4fff 107.5px,#6767ff 114.5px,#5454ff 130.5px,#2c2cff 144px)"></i><i style="background:linear-gradient(#0b0bff 0px,#2727ff 33.5px,#5959ff 54.5px,#7a7aff 60.5px,#ababff 64.5px,#efefff 67.5px,#fff8f8 68.5px,#d4c3ee 69.5px,#7d73f5 70.5px,#4e4eff 71.5px,#3232ff 80.5px,#3b3bff 91.5px,#8989ff 111.5px,#9292ff 115.5px,#7f7fff 128.5px,#3f3fff 144px)"></i><i style="background:linear-gradient(#0c0cff 0px,#2727ff 31.5px,#5b5bff 52.5px,#8585ff 60.5px,#b7b7ff 64.5px,#faf9fe 67.5px,#ffe0e0 69.5px,#ffcdcd 70.5px,#d5a1cb 71.5px,#816be9 72.5px,#5454ff 73.5px,#4343ff 81.5px,#5959ff 91.5px,#c6c6ff 114.5px,#b6b6ff 125.5px,#7b7bff 137.5px,#5555ff 144px)"></i><i style="background:linear-gradient(#0d0dff 0px,#2828ff 30.5px,#5b5bff 50.5px,#8787ff 59.5px,#b2b2ff 63.5px,#fffafb 67.5px,#ffb1b1 71.5px,#ff9a9a 72.5px,#d87aa2 73.5px,#8964da 74.5px,#6060ff 75.5px,#5c5cff 82.5px,#7f7fff 91.5px,#f0f0ff 110.5px,#f7f4fb 117.5px,#ececff 125.5px,#aeaeff 135.5px,#6d6dff 144px)"></i><i style="background:linear-gradient(#0d0dff 0px,#2b2bff 30.5px,#5d5dff 49.5px,#9090ff 59.5px,#babaff 63.5px,#f4f4ff 66.5px,#fff7f7 67.5px,#ffabab 71.5px,#ff6060 74.5px,#dc5275 75.5px,#9764cb 76.5px,#7676ff 77.5px,#8383ff 84.5px,#cdcdff 95.5px,#f1f0fe 100.5px,#fff4f4 105.5px,#ffe0e0 115.5px,#fff2f2 127.5px,#f7f5fd 131.5px,#d8d8ff 135.5px,#8787ff 144px)"></i><i style="background:linear-gradient(#0e0eff 0px,#2a2aff 29.5px,#5d5dff 48.5px,#9595ff 59.5px,#c0c0ff 63.5px,#f8f8ff 66.5px,#fff5f5 67.5px,#ffaaaa 71.5px,#ff2525 76.5px,#e22d49 77.5px,#ad6ebf 78.5px,#9696ff 79.5px,#b8b8ff 86.5px,#f3f2fe 93.5px,#fff2f2 97.5px,#ffc5c5 111.5px,#ffc9c9 122.5px,#fff2f2 133.5px,#f5f4ff 136.5px,#a1a1ff 144px)"></i><i style="background:linear-gradient(#0e0eff 0px,#2b2bff 29.5px,#5f5fff 48.5px,#9999ff 59.5px,#c2c2ff 63.5px,#f8f8ff 66.5px,#fff6f6 67.5px,#ffc2c2 70.5px,#ff5d5d 74.5px,#ff0808 77.5px,#ff0000 78.5px,#ec2c40 79.5px,#cc8cbf 80.5px,#c2c2ff 81.5px,#f6f4fd 88.5px,#fff2f2 91.5px,#ffb3b3 105.5px,#ffa5a5 116.5px,#ffb9b9 126.5px,#fbf9fd 138.5px,#c7c7ff 142.5px,#b9b9ff 144px)"></i><i style="background:linear-gradient(#0e0eff 0px,#2b2bff 29.5px,#5b5bff 47.5px,#9292ff 58.5px,#c1c1ff 63.5px,#f4f4ff 66.5px,#fff9f9 67.5px,#ffc7c7 70.5px,#ff6363 74.5px,#ff0c0c 77.5px,#ff0000 78.5px,#ff0000 80.5px,#ef7080 81.5px,#efefff 82.5px,#fef9fa 85.5px,#ff9f9f 102.5px,#ff8b8b 113.5px,#ff9a9a 124.5px,#ffd1d1 134.5px,#fbfafe 140.5px,#ceceff 144px)"></i><i style="background:linear-gradient(#0e0eff 0px,#2c2cff 30.5px,#5d5dff 48.5px,#9696ff 59.5px,#cacaff 64.5px,#fdfbfd 67.5px,#ffd0d0 70.5px,#ff7070 74.5px,#ff1717 77.5px,#ff0101 78.5px,#ff0000 82.5px,#ffb5b5 83.5px,#ffecec 84.5px,#ff8b8b 101.5px,#ff7878 111.5px,#ff8282 122.5px,#ffadad 131.5px,#fdfcfe 141.5px,#dfdfff 144px)"></i><i style="background:linear-gradient(#0d0dff 0px,#2a2aff 30.5px,#5959ff 48.5px,#9191ff 59.5px,#c2c2ff 64.5px,#f5f5ff 67.5px,#fff8f8 68.5px,#ffb3b3 72.5px,#ff2b2b 77.5px,#ff0e0e 78.5px,#ff0000 79.5px,#ff0000 83.5px,#ff3838 84.5px,#ffa3a3 85.5px,#ffd3d3 86.5px,#ff7c7c 101.5px,#ff6b6b 111.5px,#ff7676 122.5px,#ffa4a4 131.5px,#fff9f9 141.5px,#faf9ff 142.5px,#e8e8ff 144px)"></i><i style="background:linear-gradient(#0c0cff 0px,#2929ff 31.5px,#5858ff 49.5px,#9191ff 60.5px,#c5c5ff 65.5px,#f9f8fe 68.5px,#fff5f5 69.5px,#ffaeae 73.5px,#ff0c0c 79.5px,#ff0000 80.5px,#ff0000 85.5px,#ff9999 86.5px,#ffc6c6 87.5px,#ff7777 101.5px,#ff6767 111.5px,#ff7373 122.5px,#ffa2a2 131.5px,#fbfbff 142.5px,#ebebff 144px)"></i><i style="background:linear-gradient(#0c0cff 0px,#2626ff 31.5px,#5656ff 50.5px,#8888ff 60.5px,#b7b7ff 65.5px,#faf9fe 69.5px,#ffe5e5 71.5px,#ff9595 75.5px,#ff1212 80.5px,#ff0202 81.5px,#ff0000 86.5px,#ff3131 87.5px,#ffc2c2 88.5px,#ff7b7b 102.5px,#ff6e6e 113.5px,#ff7c7c 123.5px,#ffaeae 132.5px,#fffafa 141.5px,#f7f7ff 142.5px,#e5e5ff 144px)"></i><i style="background:linear-gradient(#0b0bff 0px,#2424ff 32.5px,#5252ff 51.5px,#8484ff 61.5px,#b5b5ff 66.5px,#f9f8fe 70.5px,#fff5f5 71.5px,#ffafaf 75.5px,#ff0c0c 82.5px,#ff0000 84.5px,#ff0101 87.5px,#ff3939 88.5px,#ffc8c8 89.5px,#ff8989 103.5px,#ff7e7e 115.5px,#ff9292 125.5px,#ffd0d0 135.5px,#fffafa 140.5px,#f8f8ff 141.5px,#d8d8ff 144px)"></i><i style="background:linear-gradient(#0a0aff 0px,#2222ff 33.5px,#4e4eff 52.5px,#8080ff 62.5px,#b1b1ff 67.5px,#f5f5fe 71.5px,#fff7f7 72.5px,#ffb5b5 76.5px,#ff2323 83.5px,#ff1313 85.5px,#ff2323 88.5px,#ff5959 89.5px,#ffd5d5 90.5px,#ff9e9e 105.5px,#ff9696 117.5px,#ffb0b0 127.5px,#fcfafd 139.5px,#c4c4ff 144px)"></i><i style="background:linear-gradient(#0909ff 0px,#2121ff 35.5px,#4c4cff 54.5px,#7a7aff 63.5px,#ababff 68.5px,#efefff 72.5px,#fdf9fb 73.5px,#ffbebe 77.5px,#ff4e4e 83.5px,#ff3939 86.5px,#ff4b4b 89.5px,#ff7b7b 90.5px,#ffe9e9 91.5px,#ffb6b6 109.5px,#ffb5b5 119.5px,#ffd3d3 129.5px,#fef9fa 136.5px,#eeeeff 138.5px,#acacff 144px)"></i><i style="background:linear-gradient(#0808ff 0px,#1e1eff 36.5px,#4747ff 55.5px,#7575ff 64.5px,#a5a5ff 69.5px,#f8f7fe 74.5px,#fff5f5 75.5px,#ff6d6d 84.5px,#ff6161 87.5px,#ff7171 90.5px,#fbd9dd 91.5px,#f7f5fc 92.5px,#fff2f2 98.5px,#ffd1d1 114.5px,#ffe4e4 126.5px,#fcf7fa 132.5px,#e8e8ff 135.5px,#9090ff 144px)"></i><i style="background:linear-gradient(#0707ff 0px,#1c1cff 37.5px,#4343ff 56.5px,#7070ff 65.5px,#acacff 71.5px,#fcf9fc 76.5px,#ffbbbb 81.5px,#ff8d8d 85.5px,#ff8686 88.5px,#ff8d8d 90.5px,#cacaff 92.5px,#f3f1fd 105.5px,#fff3f3 115.5px,#f5f2fd 126.5px,#e1e1ff 130.5px,#7474ff 144px)"></i><i style="background:linear-gradient(#0606ff 0px,#1a1aff 38.5px,#4040ff 57.5px,#6c6cff 66.5px,#a5a5ff 72.5px,#f3f3ff 77.5px,#fef8fa 78.5px,#ffb1b1 85.5px,#ffa5a5 90.5px,#b39ce7 91.5px,#9c9cff 92.5px,#aeaeff 102.5px,#d8d8ff 114.5px,#bfbfff 126.5px,#7b7bff 138.5px,#5959ff 144px)"></i><i style="background:linear-gradient(#0505ff 0px,#1818ff 39.5px,#3d3dff 58.5px,#6969ff 67.5px,#ababff 74.5px,#f3f3ff 79.5px,#fdf9fb 80.5px,#ffcaca 86.5px,#ffbfbf 89.5px,#ddaacc 90.5px,#7b7bff 91.5px,#7878ff 100.5px,#9e9eff 115.5px,#8585ff 128.5px,#4141ff 144px)"></i><i style="background:linear-gradient(#0505ff 0px,#1717ff 40.5px,#3b3bff 59.5px,#6666ff 68.5px,#adadff 76.5px,#f9f7fd 82.5px,#ffebeb 85.5px,#ffd6d6 89.5px,#6767ff 90.5px,#5454ff 98.5px,#6464ff 110.5px,#6d6dff 116.5px,#5151ff 132.5px,#2d2dff 144px)"></i><i style="background:linear-gradient(#0404ff 0px,#1616ff 41.5px,#3a3aff 60.5px,#6b6bff 70.5px,#b8b8ff 79.5px,#f9f7fd 85.5px,#ffefef 88.5px,#837df9 89.5px,#5656ff 90.5px,#3c3cff 99.5px,#4444ff 111.5px,#4545ff 119.5px,#1d1dff 144px)"></i><i style="background:linear-gradient(#0404ff 0px,#1515ff 41.5px,#3636ff 60.5px,#6868ff 71.5px,#bdbdff 82.5px,#f3f3ff 87.5px,#807ffe 88.5px,#5050ff 89.5px,#2e2eff 98.5px,#2a2aff 111.5px,#1d1dff 134.5px,#1212ff 144px)"></i><i style="background:linear-gradient(#0404ff 0px,#1414ff 42.5px,#3838ff 62.5px,#7171ff 74.5px,#babaff 84.5px,#cfcfff 86.5px,#7676ff 87.5px,#4e4eff 88.5px,#2626ff 98.5px,#1b1bff 112.5px,#0a0aff 144px)"></i><i style="background:linear-gradient(#0404ff 0px,#1414ff 42.5px,#3535ff 62.5px,#7272ff 76.5px,#a9a9ff 84.5px,#b4b4ff 85.5px,#6e6eff 86.5px,#4d4dff 87.5px,#2323ff 97.5px,#1111ff 112.5px,#0606ff 144px)"></i><i style="background:linear-gradient(#0303ff 0px,#1414ff 43.5px,#3939ff 64.5px,#7f7fff 80.5px,#a1a1ff 84.5px,#6868ff 85.5px,#4c4cff 86.5px,#2222ff 96.5px,#0c0cff 113.5px,#0404ff 144px)"></i><i style="background:linear-gradient(#0303ff 0px,#1414ff 43.5px,#3636ff 64.5px,#7272ff 79.5px,#9292ff 83.5px,#6363ff 84.5px,#4b4bff 85.5px,#2121ff 95.5px,#0909ff 114.5px,#0303ff 144px)"></i><i style="background:linear-gradient(#0303ff 0px,#1414ff 43.5px,#3939ff 66.5px,#6d6dff 79.5px,#7d7dff 81.5px,#7979ff 82.5px,#4f4fff 83.5px,#2323ff 93.5px,#0909ff 111.5px,#0303ff 144px)"></i><i style="background:linear-gradient(#0303ff 0px,#1313ff 43.5px,#3a3aff 67.5px,#6565ff 78.5px,#7575ff 80.5px,#6868ff 81.5px,#4d4dff 82.5px,#2222ff 92.5px,#0909ff 110.5px,#0303ff 144px)"></i><i style="background:linear-gradient(#0303ff 0px,#1414ff 44.5px,#3a3aff 68.5px,#5e5eff 77.5px,#6767ff 79.5px,#4b4bff 81.5px,#2121ff 91.5px,#0909ff 110.5px,#0303ff 144px)"></i><i style="background:linear-gradient(#0303ff 0px,#1414ff 44.5px,#3b3bff 69.5px,#5858ff 76.5px,#6363ff 78.5px,#4e4eff 79.5px,#2323ff 89.5px,#0b0bff 106.5px,#0505ff 144px)"></i><i style="background:linear-gradient(#0303ff 0px,#1515ff 44.5px,#3939ff 69.5px,#5454ff 75.5px,#5d5dff 76.5px,#3232ff 83.5px,#1414ff 96.5px,#0808ff 144px)"></i><i style="background:linear-gradient(#0404ff 0px,#1515ff 45.5px,#3838ff 69.5px,#5757ff 75.5px,#2a2aff 84.5px,#1616ff 97.5px,#2222ff 120.5px,#1010ff 144px)"></i><i style="background:linear-gradient(#0404ff 0px,#1616ff 46.5px,#3535ff 68.5px,#5252ff 74.5px,#2828ff 84.5px,#2020ff 97.5px,#4040ff 116.5px,#2a2aff 136.5px,#1c1cff 144px)"></i><i style="background:linear-gradient(#0404ff 0px,#1616ff 46.5px,#3333ff 67.5px,#5151ff 73.5px,#2e2eff 82.5px,#2b2bff 93.5px,#5555ff 109.5px,#6868ff 115.5px,#5555ff 130.5px,#2d2dff 144px)"></i><i style="background:linear-gradient(#0404ff 0px,#1717ff 48.5px,#3030ff 66.5px,#4343ff 70.5px,#5151ff 71.5px,#3333ff 81.5px,#3c3cff 91.5px,#8888ff 110.5px,#9b9bff 115.5px,#8a8aff 127.5px,#4242ff 144px)"></i><i style="background:linear-gradient(#0404ff 0px,#1818ff 49.5px,#3131ff 66.5px,#4646ff 69.5px,#5555ff 70.5px,#3c3cff 78.5px,#4949ff 87.5px,#9696ff 102.5px,#d7d7ff 114.5px,#c8c8ff 125.5px,#9494ff 135.5px,#5c5cff 144px)"></i><i style="background:linear-gradient(#0404ff 0px,#1818ff 50.5px,#2f2fff 65.5px,#3939ff 67.5px,#5252ff 68.5px,#4d4dff 71.5px,#4545ff 78.5px,#5f5fff 86.5px,#eeedff 106.5px,#fff4f4 113.5px,#f9f4fa 126.5px,#eaeaff 130.5px,#7878ff 144px)"></i><i style="background:linear-gradient(#0404ff 0px,#1818ff 51.5px,#2d2dff 64.5px,#3131ff 65.5px,#5252ff 67.5px,#4f4fff 70.5px,#4e4eff 77.5px,#7171ff 84.5px,#f1f0fe 98.5px,#fff3f3 102.5px,#ffcfcf 115.5px,#ffdede 126.5px,#fdf7fa 133.5px,#f1f1ff 135.5px,#9595ff 144px)"></i><i style="background:linear-gradient(#0404ff 0px,#1717ff 52.5px,#2a2aff 63.5px,#2e2eff 64.5px,#3d3dff 65.5px,#5a5aff 66.5px,#4f4fff 72.5px,#6767ff 79.5px,#a5a5ff 86.5px,#f5f3fd 93.5px,#fff6f6 95.5px,#ffbdbd 107.5px,#ffadad 116.5px,#ffbfbf 126.5px,#fdf9fb 137.5px,#e9e9ff 139.5px,#b2b2ff 144px)"></i><i style="background:linear-gradient(#0404ff 0px,#1717ff 53.5px,#2b2bff 63.5px,#5a5aff 65.5px,#5252ff 71.5px,#6b6bff 77.5px,#b0b0ff 84.5px,#f3f3ff 89.5px,#fff6f6 91.5px,#ffabab 103.5px,#ff8f8f 114.5px,#ff9c9c 124.5px,#ffcbcb 133.5px,#fff9f9 139.5px,#f9f8fe 140.5px,#ccccff 144px)"></i><i style="background:linear-gradient(#0404ff 0px,#1717ff 54.5px,#2828ff 62.5px,#5050ff 63.5px,#5959ff 64.5px,#5353ff 70.5px,#7070ff 76.5px,#b1b1ff 82.5px,#f9f8fe 87.5px,#fff0f0 89.5px,#ff9898 101.5px,#ff7979 110.5px,#ff7b7b 121.5px,#ff9c9c 129.5px,#fefbfc 141.5px,#e1e1ff 144px)"></i><i style="background:linear-gradient(#0404ff 0px,#1616ff 54.5px,#2424ff 61.5px,#4e4eff 62.5px,#5858ff 63.5px,#5252ff 69.5px,#7070ff 75.5px,#b5b5ff 81.5px,#f4f4ff 85.5px,#fefbfb 86.5px,#ff8e8e 99.5px,#ff6a6a 107.5px,#ff6565 119.5px,#ff7f7f 127.5px,#ffc4c4 136.5px,#fefbfc 142.5px,#f1f1ff 144px)"></i><i style="background:linear-gradient(#0404ff 0px,#1515ff 54.5px,#2020ff 60.5px,#4c4cff 61.5px,#5757ff 62.5px,#4f4fff 68.5px,#6c6cff 74.5px,#b0b0ff 80.5px,#fefcfd 85.5px,#ff8181 99.5px,#ff5d5d 107.5px,#ff5959 119.5px,#ff7575 127.5px,#ffbcbc 136.5px,#fff7f7 142.5px,#fbfaff 144px)"></i><i style="background:linear-gradient(#0404ff 0px,#1414ff 54.5px,#1c1cff 59.5px,#4b4bff 60.5px,#5555ff 61.5px,#4b4bff 67.5px,#6363ff 73.5px,#a3a3ff 79.5px,#f4f4ff 84.5px,#fffcfc 85.5px,#ff8484 98.5px,#ff5c5c 106.5px,#ff5454 117.5px,#ff6767 125.5px,#ff9e9e 133.5px,#fcfbfe 144px)"></i><i style="background:linear-gradient(#0404ff 0px,#1414ff 55.5px,#1919ff 58.5px,#4949ff 59.5px,#5454ff 60.5px,#4646ff 66.5px,#5858ff 72.5px,#9090ff 78.5px,#fcfbfe 85.5px,#ff8383 99.5px,#ff5f5f 107.5px,#ff5a5a 119.5px,#ff7575 127.5px,#ffbcbc 136.5px,#fff8f8 142.5px,#fafaff 144px)"></i><i style="background:linear-gradient(#0404ff 0px,#1212ff 55.5px,#1515ff 57.5px,#2727ff 58.5px,#5454ff 59.5px,#4141ff 66.5px,#5151ff 72.5px,#8484ff 78.5px,#eaeaff 85.5px,#faf9fe 86.5px,#ffefef 88.5px,#ff8c8c 100.5px,#ff6b6b 108.5px,#ff6767 119.5px,#ff8181 127.5px,#ffc5c5 136.5px,#fefbfd 142.5px,#f0f0ff 144px)"></i><i style="background:linear-gradient(#0404ff 0px,#1212ff 56.5px,#1313ff 57.5px,#4444ff 58.5px,#4f4fff 59.5px,#3b3bff 66.5px,#4848ff 72.5px,#7474ff 78.5px,#ceceff 85.5px,#faf8fd 88.5px,#ffe6e6 91.5px,#ff9797 102.5px,#ff7b7b 111.5px,#ff7d7d 121.5px,#ff9d9d 129.5px,#fdfbfd 141.5px,#dfdfff 144px)"></i><i style="background:linear-gradient(#0404ff 0px,#1010ff 56.5px,#5151ff 58.5px,#3737ff 65.5px,#3e3eff 72.5px,#6a6aff 79.5px,#bbbbff 86.5px,#f3f3fe 90.5px,#fff5f5 92.5px,#ffafaf 103.5px,#ff9191 114.5px,#ff9d9d 124.5px,#ffcbcb 133.5px,#fff9f9 139.5px,#f8f8fe 140.5px,#cacaff 144px)"></i><i style="background:linear-gradient(#0404ff 0px,#0f0fff 56.5px,#4e4eff 58.5px,#3131ff 66.5px,#3a3aff 74.5px,#6464ff 81.5px,#c6c6ff 90.5px,#f5f3fd 94.5px,#ffefef 97.5px,#ffbcbc 108.5px,#ffaeae 117.5px,#ffc3c3 127.5px,#fdf9fb 137.5px,#e9e9ff 139.5px,#b2b2ff 144px)"></i><i style="background:linear-gradient(#0404ff 0px,#0f0fff 56.5px,#4f4fff 58.5px,#2f2fff 66.5px,#2f2fff 74.5px,#5353ff 82.5px,#acacff 92.5px,#f2f1fd 99.5px,#fff1f1 103.5px,#ffcece 115.5px,#ffdcdc 126.5px,#fef8f9 133.5px,#e9e9ff 136.5px,#9696ff 144px)"></i><i style="background:linear-gradient(#0303ff 0px,#0f0fff 56.5px,#1111ff 57.5px,#5252ff 58.5px,#2c2cff 67.5px,#2929ff 76.5px,#4c4cff 85.5px,#c1c1ff 100.5px,#f2f0fd 107.5px,#fff2f2 113.5px,#fef7f8 125.5px,#f0f0ff 130.5px,#7b7bff 144px)"></i><i style="background:linear-gradient(#0303ff 0px,#1010ff 56.5px,#1111ff 57.5px,#4e4eff 59.5px,#2828ff 68.5px,#2323ff 78.5px,#4141ff 88.5px,#dedeff 114.5px,#d4d4ff 124.5px,#a2a2ff 134.5px,#5f5fff 144px)"></i><i style="background:linear-gradient(#0303ff 0px,#1111ff 56.5px,#1515ff 58.5px,#4343ff 59.5px,#4c4cff 60.5px,#2424ff 70.5px,#1d1dff 81.5px,#3b3bff 93.5px,#a4a4ff 115.5px,#9494ff 127.5px,#4c4cff 142.5px,#4646ff 144px)"></i><i style="background:linear-gradient(#0303ff 0px,#1010ff 55.5px,#1616ff 58.5px,#2828ff 59.5px,#5050ff 60.5px,#2727ff 69.5px,#1616ff 82.5px,#2b2bff 96.5px,#7070ff 115.5px,#6161ff 129.5px,#3131ff 144px)"></i><i style="background:linear-gradient(#0404ff 0px,#1212ff 55.5px,#1c1cff 59.5px,#2c2cff 60.5px,#4f4fff 61.5px,#2323ff 71.5px,#1111ff 86.5px,#2525ff 103.5px,#4747ff 116.5px,#3333ff 134.5px,#1f1fff 144px)"></i><i style="background:linear-gradient(#0404ff 0px,#1414ff 55.5px,#2323ff 60.5px,#3333ff 61.5px,#4e4eff 62.5px,#2323ff 72.5px,#0d0dff 88.5px,#1b1bff 108.5px,#2828ff 118.5px,#1212ff 144px)"></i><i style="background:linear-gradient(#0404ff 0px,#1616ff 54.5px,#2c2cff 61.5px,#4e4eff 63.5px,#2222ff 73.5px,#0b0bff 90.5px,#1212ff 113.5px,#0a0aff 144px)"></i><i style="background:linear-gradient(#0404ff 0px,#1818ff 53.5px,#2a2aff 60.5px,#4e4eff 64.5px,#2222ff 74.5px,#0909ff 92.5px,#0505ff 144px)"></i><i style="background:linear-gradient(#0505ff 0px,#1a1aff 50.5px,#3030ff 60.5px,#5353ff 64.5px,#2323ff 75.5px,#0909ff 93.5px,#0303ff 144px)"></i><i style="background:linear-gradient(#0505ff 0px,#1b1bff 46.5px,#3232ff 59.5px,#4f4fff 63.5px,#6464ff 65.5px,#5050ff 66.5px,#2323ff 76.5px,#0909ff 94.5px,#0303ff 144px)"></i><i style="background:linear-gradient(#0606ff 0px,#1c1cff 42.5px,#3636ff 58.5px,#5858ff 63.5px,#8787ff 66.5px,#6262ff 67.5px,#4b4bff 68.5px,#2121ff 78.5px,#0808ff 97.5px,#0303ff 144px)"></i><i style="background:linear-gradient(#0707ff 0px,#1d1dff 39.5px,#4040ff 58.5px,#6363ff 63.5px,#9393ff 66.5px,#aaaaff 67.5px,#6d6dff 68.5px,#4c4cff 69.5px,#2222ff 79.5px,#0909ff 98.5px,#0303ff 144px)"></i><i style="background:linear-gradient(#0707ff 0px,#1f1fff 37.5px,#4646ff 57.5px,#6464ff 62.5px,#8e8eff 65.5px,#d4d4ff 68.5px,#a4a4ff 69.5px,#4e4eff 70.5px,#2222ff 80.5px,#0a0aff 98.5px,#0505ff 144px)"></i><i style="background:linear-gradient(#0808ff 0px,#2121ff 35.5px,#4e4eff 56.5px,#7171ff 62.5px,#9c9cff 65.5px,#fdf9fb 69.5px,#d4c5f0 70.5px,#4f4fff 71.5px,#2323ff 81.5px,#0d0dff 97.5px,#1010ff 130.5px,#0909ff 144px)"></i><i style="background:linear-gradient(#0909ff 0px,#2222ff 33.5px,#5151ff 54.5px,#7575ff 61.5px,#9999ff 64.5px,#dadaff 67.5px,#f7f6fe 68.5px,#fff2f2 69.5px,#ffe0e0 70.5px,#d4afda 71.5px,#7c6bee 72.5px,#4b4bff 73.5px,#2222ff 83.5px,#1212ff 98.5px,#2222ff 120.5px,#1010ff 144px)"></i><i style="background:linear-gradient(#0a0aff 0px,#2525ff 32.5px,#5454ff 52.5px,#7a7aff 60.5px,#a7a7ff 64.5px,#eaeaff 67.5px,#fff9fa 68.5px,#ffacac 72.5px,#7d64e6 73.5px,#4d4dff 74.5px,#2424ff 84.5px,#1b1bff 97.5px,#3737ff 113.5px,#3535ff 127.5px,#1a1aff 144px)"></i><i style="background:linear-gradient(#0b0bff 0px,#2626ff 31.5px,#5858ff 51.5px,#8686ff 60.5px,#b4b4ff 64.5px,#f8f7fe 67.5px,#fff2f2 68.5px,#ff8a8a 73.5px,#a962b8 74.5px,#4f4fff 75.5px,#2c2cff 84.5px,#2929ff 96.5px,#5252ff 112.5px,#5c5cff 117.5px,#4848ff 132.5px,#2828ff 144px)"></i><i style="background:linear-gradient(#0c0cff 0px,#2828ff 30.5px,#5858ff 49.5px,#8989ff 59.5px,#b1b1ff 63.5px,#fefbfc 67.5px,#ffc4c4 70.5px,#ff6767 74.5px,#d4537e 75.5px,#5353ff 76.5px,#3636ff 84.5px,#3a3aff 94.5px,#7676ff 111.5px,#8686ff 116.5px,#7373ff 129.5px,#3939ff 144px)"></i><i style="background:linear-gradient(#0d0dff 0px,#2a2aff 30.5px,#5d5dff 49.5px,#9292ff 59.5px,#babaff 63.5px,#f2f2ff 66.5px,#fff8f8 67.5px,#ffbfbf 70.5px,#ff4646 75.5px,#d63d66 76.5px,#5959ff 77.5px,#4545ff 84.5px,#5353ff 93.5px,#b9b9ff 115.5px,#a9a9ff 126.5px,#6e6eff 138.5px,#4e4eff 144px)"></i><i style="background:linear-gradient(#0d0dff 0px,#2a2aff 29.5px,#5d5dff 48.5px,#9999ff 59.5px,#c1c1ff 63.5px,#f8f8ff 66.5px,#fff5f5 67.5px,#ffbdbd 70.5px,#ff2828 76.5px,#d82a51 77.5px,#6363ff 78.5px,#5b5bff 85.5px,#7c7cff 94.5px,#efefff 114.5px,#e9e9ff 123.5px,#bebeff 132.5px,#6767ff 144px)"></i><i style="background:linear-gradient(#0d0dff 0px,#2b2bff 29.5px,#5c5cff 47.5px,#9595ff 58.5px,#c6c6ff 63.5px,#fafaff 66.5px,#fff5f5 67.5px,#ffbebe 70.5px,#ff2323 76.5px,#ff0f0f 77.5px,#db1d41 78.5px,#7272ff 79.5px,#7676ff 85.5px,#a2a2ff 93.5px,#eeeeff 103.5px,#fff4f4 109.5px,#ffe6e6 117.5px,#fcf6fa 129.5px,#efefff 132.5px,#8181ff 144px)"></i><i style="background:linear-gradient(#0d0dff 0px,#2b2bff 29.5px,#5c5cff 47.5px,#9797ff 58.5px,#c7c7ff 63.5px,#f9f9ff 66.5px,#fff6f6 67.5px,#ffc2c2 70.5px,#ff0e0e 77.5px,#ff0000 78.5px,#e02140 79.5px,#8888ff 80.5px,#9b9bff 86.5px,#f5f3fc 97.5px,#fff3f3 100.5px,#ffc9c9 113.5px,#ffcece 123.5px,#fff4f4 133.5px,#f9f7fc 135.5px,#e7e7ff 137.5px,#9b9bff 144px)"></i><i style="background:linear-gradient(#0d0dff 0px,#2a2aff 29.5px,#5c5cff 47.5px,#9696ff 58.5px,#d3d3ff 64.5px,#f5f5ff 66.5px,#fff9f9 67.5px,#ffc9c9 70.5px,#ff6363 74.5px,#ff1313 77.5px,#ff0202 78.5px,#ff0000 79.5px,#e62740 80.5px,#a3a3ff 81.5px,#c8c8ff 87.5px,#f7f5fd 92.5px,#ffefef 95.5px,#ffb7b7 107.5px,#ffa9a9 117.5px,#ffbdbd 127.5px,#fff8f8 137.5px,#efefff 139.5px,#b5b5ff 144px)"></i><i style="background:linear-gradient(#0d0dff 0px,#2929ff 29.5px,#5959ff 47.5px,#9393ff 58.5px,#ceceff 64.5px,#fefcfd 67.5px,#ffd1d1 70.5px,#ff7070 74.5px,#ff0a0a 78.5px,#ff0000 80.5px,#cc8cbf 81.5px,#c2c2ff 82.5px,#fdf9fb 89.5px,#ffa4a4 104.5px,#ff8e8e 115.5px,#ff9e9e 125.5px,#ffd1d1 134.5px,#fff8f8 139.5px,#faf9fe 140.5px,#cacaff 144px)"></i><i style="background:linear-gradient(#0c0cff 0px,#2929ff 30.5px,#5959ff 48.5px,#8e8eff 58.5px,#c6c6ff 64.5px,#f6f6ff 67.5px,#fff8f8 68.5px,#ffc9c9 71.5px,#ff6666 75.5px,#ff1a1a 78.5px,#ff0707 79.5px,#ff0000 81.5px,#d8d8ff 82.5px,#fcfafe 86.5px,#ffc8c8 94.5px,#ff8c8c 104.5px,#ff7a7a 114.5px,#ff8787 124.5px,#ffb3b3 132.5px,#fcfbfe 141.5px,#dbdbff 144px)"></i><i style="background:linear-gradient(#0b0bff 0px,#2626ff 30.5px,#5555ff 48.5px,#8e8eff 59.5px,#c9c9ff 65.5px,#fafafe 68.5px,#ffe7e7 70.5px,#ffadad 73.5px,#ff2f2f 78.5px,#ff0e0e 80.5px,#ff0808 81.5px,#f0f0ff 83.5px,#fffcfc 85.5px,#ff8787 102.5px,#ff6f6f 111.5px,#ff7979 123.5px,#ffa2a2 131.5px,#fffafa 141.5px,#f7f7ff 142.5px,#e5e5ff 144px)"></i><i style="background:linear-gradient(#0b0bff 0px,#2525ff 31.5px,#5353ff 49.5px,#8686ff 59.5px,#bdbdff 65.5px,#fcfbfd 69.5px,#ffd3d3 72.5px,#ff3434 79.5px,#ff1d1d 81.5px,#ff1d1d 82.5px,#f5f5ff 83.5px,#fefdfe 84.5px,#ff8484 102.5px,#ff6c6c 111.5px,#ff7676 123.5px,#ffa0a0 131.5px,#fff8f8 141.5px,#fafaff 142.5px,#e7e7ff 144px)"></i><i style="background:linear-gradient(#0a0aff 0px,#2222ff 31.5px,#5050ff 50.5px,#8383ff 60.5px,#bcbcff 66.5px,#fcfbfd 70.5px,#ffd2d2 73.5px,#ff4040 80.5px,#ff3333 82.5px,#f8f8ff 84.5px,#fff8f8 86.5px,#ff8c8c 102.5px,#ff7474 111.5px,#ff7a7a 122.5px,#ff9e9e 130.5px,#fffbfc 141.5px,#f3f3ff 142.5px,#e1e1ff 144px)"></i><i style="background:linear-gradient(#0909ff 0px,#2121ff 32.5px,#4e4eff 51.5px,#8181ff 61.5px,#babaff 67.5px,#fcfafd 71.5px,#ffe4e4 73.5px,#ff5c5c 80.5px,#ff4b4b 82.5px,#e5e5ff 84.5px,#fdfafc 87.5px,#ff9a9a 103.5px,#ff8383 113.5px,#ff8c8c 123.5px,#ffb2b2 131.5px,#fffafb 140.5px,#f6f6ff 141.5px,#d4d4ff 144px)"></i><i style="background:linear-gradient(#0808ff 0px,#1f1fff 33.5px,#4b4bff 52.5px,#7f7fff 62.5px,#b7b7ff 68.5px,#faf8fe 72.5px,#fff4f4 73.5px,#ff6c6c 81.5px,#ff6464 82.5px,#d1a8d6 83.5px,#cacaff 84.5px,#faf7fc 90.5px,#ffeded 93.5px,#ffadad 105.5px,#ff9a9a 116.5px,#ffacac 126.5px,#ffe8e8 136.5px,#fbf9fd 139.5px,#c0c0ff 144px)"></i><i style="background:linear-gradient(#0707ff 0px,#1e1eff 34.5px,#4949ff 53.5px,#7c7cff 63.5px,#b4b4ff 69.5px,#f6f5fe 73.5px,#fff7f7 74.5px,#ff8888 81.5px,#ff7e7e 82.5px,#a8a8ff 83.5px,#cbcbff 89.5px,#f6f3fd 94.5px,#fff2f2 97.5px,#ffc2c2 109.5px,#ffb8b8 118.5px,#ffcece 128.5px,#fef9fa 136.5px,#ededff 138.5px,#a8a8ff 144px)"></i><i style="background:linear-gradient(#0707ff 0px,#1d1dff 35.5px,#4747ff 54.5px,#7979ff 64.5px,#afafff 70.5px,#efefff 74.5px,#fdf9fa 75.5px,#ffa3a3 81.5px,#8c8cff 83.5px,#a1a1ff 89.5px,#f3f1fd 100.5px,#fff4f4 104.5px,#ffd7d7 116.5px,#ffe7e7 127.5px,#fdf7fa 132.5px,#e9e9ff 135.5px,#8d8dff 144px)"></i><i style="background:linear-gradient(#0606ff 0px,#1a1aff 35.5px,#4141ff 54.5px,#7676ff 65.5px,#a9a9ff 71.5px,#e7e7ff 75.5px,#f9f8fe 76.5px,#ffe7e7 78.5px,#ffbdbd 81.5px,#7676ff 82.5px,#7b7bff 89.5px,#b9b9ff 100.5px,#f0effe 109.5px,#fff7f7 117.5px,#efefff 128.5px,#a0a0ff 138.5px,#7272ff 144px)"></i><i style="background:linear-gradient(#0505ff 0px,#1919ff 36.5px,#4343ff 56.5px,#7979ff 67.5px,#aeaeff 73.5px,#f1f1ff 77.5px,#fef8fa 78.5px,#ffe0e0 80.5px,#6464ff 82.5px,#5d5dff 89.5px,#7f7fff 99.5px,#d1d1ff 116.5px,#c0c0ff 126.5px,#8a8aff 136.5px,#5858ff 144px)"></i><i style="background:linear-gradient(#0505ff 0px,#1919ff 37.5px,#4141ff 57.5px,#7474ff 68.5px,#a7a7ff 74.5px,#e7e7ff 78.5px,#faf8fd 79.5px,#fff4f4 80.5px,#5b5bff 81.5px,#4646ff 89.5px,#5757ff 99.5px,#9a9aff 116.5px,#8787ff 128.5px,#4141ff 144px)"></i><i style="background:linear-gradient(#0505ff 0px,#1818ff 38.5px,#3f3fff 58.5px,#7676ff 70.5px,#a0a0ff 75.5px,#e0e0ff 79.5px,#7f7fff 80.5px,#5252ff 81.5px,#3636ff 89.5px,#3b3bff 100.5px,#6b6bff 116.5px,#5656ff 131.5px,#2d2dff 144px)"></i><i style="background:linear-gradient(#0404ff 0px,#1717ff 38.5px,#3d3dff 59.5px,#7777ff 72.5px,#a6a6ff 77.5px,#b6b6ff 78.5px,#ababff 79.5px,#5151ff 80.5px,#2c2cff 89.5px,#2727ff 101.5px,#4646ff 117.5px,#3030ff 135.5px,#1e1eff 144px)"></i><i style="background:linear-gradient(#0404ff 0px,#1616ff 39.5px,#3b3bff 60.5px,#7272ff 73.5px,#9696ff 77.5px,#a4a4ff 78.5px,#5151ff 79.5px,#2929ff 88.5px,#1a1aff 101.5px,#2a2aff 119.5px,#1212ff 144px)"></i><i style="background:linear-gradient(#0404ff 0px,#1616ff 40.5px,#3c3cff 62.5px,#6e6eff 74.5px,#8a8aff 77.5px,#6363ff 78.5px,#4c4cff 79.5px,#2222ff 89.5px,#1111ff 104.5px,#1616ff 125.5px,#0b0bff 144px)"></i><i style="background:linear-gradient(#0404ff 0px,#1616ff 41.5px,#3d3dff 64.5px,#6565ff 74.5px,#7676ff 76.5px,#6868ff 77.5px,#4e4eff 78.5px,#2222ff 88.5px,#0c0cff 105.5px,#0606ff 144px)"></i><i style="background:linear-gradient(#0404ff 0px,#1515ff 42.5px,#3a3aff 65.5px,#5e5eff 74.5px,#6868ff 76.5px,#4f4fff 77.5px,#2323ff 87.5px,#0a0aff 105.5px,#0404ff 144px)"></i><i style="background:linear-gradient(#0404ff 0px,#1515ff 43.5px,#3a3aff 67.5px,#5d5dff 75.5px,#4444ff 78.5px,#1c1cff 89.5px,#0606ff 111.5px,#0303ff 144px)"></i><i style="background:linear-gradient(#0303ff 0px,#1616ff 45.5px,#3838ff 68.5px,#5555ff 74.5px,#2424ff 85.5px,#0a0aff 103.5px,#0303ff 144px)"></i><i style="background:linear-gradient(#0303ff 0px,#1515ff 46.5px,#3434ff 68.5px,#5151ff 74.5px,#2424ff 84.5px,#0a0aff 102.5px,#0303ff 144px)"></i><i style="background:linear-gradient(#0303ff 0px,#1616ff 48.5px,#3131ff 68.5px,#4343ff 72.5px,#5050ff 73.5px,#1f1fff 85.5px,#0808ff 105.5px,#0303ff 144px)"></i><i style="background:linear-gradient(#0303ff 0px,#1616ff 50.5px,#2e2eff 68.5px,#4545ff 72.5px,#4e4eff 73.5px,#2222ff 83.5px,#0a0aff 101.5px,#0505ff 144px)"></i><i style="background:linear-gradient(#0303ff 0px,#1616ff 52.5px,#2c2cff 68.5px,#4040ff 71.5px,#4f4fff 72.5px,#2323ff 82.5px,#0d0dff 98.5px,#1515ff 126.5px,#0b0bff 144px)"></i><i style="background:linear-gradient(#0303ff 0px,#1616ff 54.5px,#2b2bff 68.5px,#3c3cff 70.5px,#5050ff 71.5px,#2424ff 81.5px,#1212ff 95.5px,#2424ff 112.5px,#2c2cff 120.5px,#1414ff 144px)"></i><i style="background:linear-gradient(#0404ff 0px,#1616ff 55.5px,#2b2bff 68.5px,#2f2fff 69.5px,#4a4aff 70.5px,#4646ff 72.5px,#2121ff 82.5px,#1b1bff 95.5px,#3d3dff 111.5px,#4d4dff 117.5px,#3b3bff 133.5px,#2121ff 144px)"></i><i style="background:linear-gradient(#0404ff 0px,#1616ff 56.5px,#2b2bff 68.5px,#4a4aff 69.5px,#4747ff 71.5px,#2626ff 80.5px,#2424ff 91.5px,#4b4bff 105.5px,#7979ff 116.5px,#6969ff 129.5px,#3434ff 144px)"></i><i style="background:linear-gradient(#0404ff 0px,#1616ff 57.5px,#2727ff 67.5px,#3535ff 68.5px,#5050ff 69.5px,#2c2cff 78.5px,#2e2eff 88.5px,#5b5bff 100.5px,#afafff 116.5px,#a0a0ff 127.5px,#6363ff 139.5px,#4b4bff 144px)"></i><i style="background:linear-gradient(#0404ff 0px,#1515ff 57.5px,#2828ff 67.5px,#5353ff 68.5px,#3333ff 76.5px,#3737ff 85.5px,#6666ff 95.5px,#ebebff 115.5px,#e4e4ff 124.5px,#b6b6ff 133.5px,#6565ff 144px)"></i><i style="background:linear-gradient(#0404ff 0px,#1515ff 57.5px,#2424ff 66.5px,#4a4aff 67.5px,#5050ff 68.5px,#3737ff 76.5px,#4545ff 84.5px,#8080ff 93.5px,#f1effe 106.5px,#fff3f3 111.5px,#ffe7e7 118.5px,#f9f5fb 130.5px,#e9e9ff 133.5px,#8181ff 144px)"></i><i style="background:linear-gradient(#0404ff 0px,#1515ff 57.5px,#2222ff 65.5px,#3131ff 66.5px,#5353ff 67.5px,#3d3dff 74.5px,#4949ff 81.5px,#7979ff 88.5px,#f0f0fe 99.5px,#fff5f5 102.5px,#ffc8c8 114.5px,#ffcccc 124.5px,#fff6f6 134.5px,#f7f5fe 136.5px,#9e9eff 144px)"></i><i style="background:linear-gradient(#0404ff 0px,#1515ff 57.5px,#2222ff 65.5px,#4a4aff 66.5px,#5252ff 67.5px,#4141ff 74.5px,#5353ff 80.5px,#8f8fff 87.5px,#f5f3fe 95.5px,#ffeeee 98.5px,#ffb4b4 109.5px,#ffa4a4 118.5px,#ffb7b7 127.5px,#fff4f4 137.5px,#f6f5fe 139.5px,#b9b9ff 144px)"></i><i style="background:linear-gradient(#0404ff 0px,#1515ff 56.5px,#2020ff 64.5px,#3030ff 65.5px,#5656ff 66.5px,#4545ff 72.5px,#5454ff 78.5px,#8787ff 84.5px,#f7f6fe 92.5px,#fff1f1 94.5px,#ffa5a5 105.5px,#ff8888 115.5px,#ff9494 125.5px,#ffc1c1 133.5px,#fefafb 140.5px,#f4f4ff 141.5px,#d1d1ff 144px)"></i><i style="background:linear-gradient(#0404ff 0px,#1515ff 56.5px,#2020ff 64.5px,#5454ff 66.5px,#4848ff 72.5px,#5e5eff 78.5px,#9c9cff 84.5px,#f9f8fe 90.5px,#ffefef 92.5px,#ff9595 103.5px,#ff7575 111.5px,#ff7272 121.5px,#ff9191 129.5px,#ffe5e5 139.5px,#fff9f9 141.5px,#f7f7ff 142.5px,#e5e5ff 144px)"></i><i style="background:linear-gradient(#0404ff 0px,#1515ff 56.5px,#2020ff 64.5px,#5858ff 65.5px,#4949ff 71.5px,#5e5eff 77.5px,#8f8fff 82.5px,#fdfbfd 89.5px,#ff8787 102.5px,#ff6363 110.5px,#ff6161 121.5px,#ff8282 129.5px,#ffdbdb 139.5px,#fffafa 142.5px,#f4f4ff 144px)"></i><i style="background:linear-gradient(#0404ff 0px,#1515ff 55.5px,#1f1fff 63.5px,#2f2fff 64.5px,#5656ff 65.5px,#4949ff 71.5px,#5a5aff 76.5px,#8989ff 81.5px,#e8e8ff 87.5px,#fafaff 88.5px,#ffe3e3 91.5px,#ff7c7c 102.5px,#ff5a5a 109.5px,#ff5656 120.5px,#ff7272 128.5px,#ffb6b6 136.5px,#fff6f6 142.5px,#fbfafe 144px)"></i><i style="background:linear-gradient(#0404ff 0px,#1515ff 55.5px,#1f1fff 63.5px,#5555ff 65.5px,#4949ff 71.5px,#5a5aff 76.5px,#8989ff 81.5px,#e9e9ff 87.5px,#fbfbfe 88.5px,#ffc2c2 94.5px,#ff7373 103.5px,#ff5656 110.5px,#ff5555 121.5px,#ff7070 128.5px,#ffb5b5 136.5px,#fcfbfe 144px)"></i><i style="background:linear-gradient(#0404ff 0px,#1515ff 55.5px,#2020ff 63.5px,#5555ff 65.5px,#4747ff 71.5px,#5e5eff 77.5px,#9191ff 82.5px,#f3f3ff 88.5px,#fffbfb 89.5px,#ff8888 101.5px,#ff6262 108.5px,#ff5858 118.5px,#ff6b6b 126.5px,#ffa5a5 134.5px,#fff8f8 142.5px,#f9f9ff 144px)"></i><i style="background:linear-gradient(#0404ff 0px,#1515ff 55.5px,#2222ff 63.5px,#3232ff 64.5px,#5555ff 65.5px,#4545ff 71.5px,#5858ff 77.5px,#8585ff 82.5px,#e0e0ff 88.5px,#fdfafc 90.5px,#ff9191 102.5px,#ff6c6c 110.5px,#ff6767 120.5px,#ff8282 128.5px,#ffcccc 137.5px,#fdfbfd 142.5px,#ededff 144px)"></i><i style="background:linear-gradient(#0404ff 0px,#1515ff 55.5px,#2727ff 64.5px,#5656ff 65.5px,#4242ff 72.5px,#5555ff 78.5px,#8c8cff 84.5px,#f4f4fe 91.5px,#fdf9fa 92.5px,#ff9d9d 104.5px,#ff7d7d 113.5px,#ff8181 123.5px,#ffa7a7 131.5px,#fdfbfd 141.5px,#dcdcff 144px)"></i><i style="background:linear-gradient(#0404ff 0px,#1515ff 55.5px,#2a2aff 64.5px,#4c4cff 65.5px,#4c4cff 67.5px,#3f3fff 74.5px,#5454ff 80.5px,#8b8bff 86.5px,#f7f5fd 94.5px,#fff1f1 96.5px,#ffacac 107.5px,#ff9595 117.5px,#ffa4a4 126.5px,#ffd9d9 135.5px,#fef9fa 139.5px,#f6f6fe 140.5px,#c6c6ff 144px)"></i><i style="background:linear-gradient(#0404ff 0px,#1515ff 54.5px,#2828ff 63.5px,#2d2dff 64.5px,#5252ff 66.5px,#3a3aff 73.5px,#4646ff 80.5px,#7878ff 87.5px,#f0efff 97.5px,#fff3f3 100.5px,#ffc0c0 111.5px,#ffb4b4 119.5px,#ffc8c8 128.5px,#fcf8fb 137.5px,#e6e6ff 139.5px,#acacff 144px)"></i><i style="background:linear-gradient(#0404ff 0px,#1616ff 54.5px,#2b2bff 63.5px,#3737ff 65.5px,#5353ff 66.5px,#3535ff 74.5px,#3b3bff 81.5px,#6262ff 88.5px,#ececff 102.5px,#fff5f6 106.5px,#ffd5d5 117.5px,#ffe6e6 128.5px,#fcf7fa 133.5px,#f0f0ff 135.5px,#9090ff 144px)"></i><i style="background:linear-gradient(#0404ff 0px,#1616ff 53.5px,#2929ff 62.5px,#3c3cff 65.5px,#4a4aff 66.5px,#4949ff 68.5px,#2f2fff 76.5px,#3636ff 84.5px,#6565ff 93.5px,#ebebff 110.5px,#fef6f7 118.5px,#eeeeff 129.5px,#9a9aff 139.5px,#7373ff 144px)"></i><i style="background:linear-gradient(#0404ff 0px,#1616ff 52.5px,#2828ff 61.5px,#5050ff 67.5px,#2b2bff 76.5px,#2a2aff 85.5px,#4e4eff 95.5px,#cdcdff 116.5px,#c0c0ff 126.5px,#8b8bff 136.5px,#5858ff 144px)"></i><i style="background:linear-gradient(#0404ff 0px,#1717ff 51.5px,#2c2cff 61.5px,#5353ff 66.5px,#5555ff 67.5px,#2d2dff 75.5px,#2020ff 86.5px,#3c3cff 98.5px,#9393ff 117.5px,#8181ff 129.5px,#3f3fff 144px)"></i><i style="background:linear-gradient(#0404ff 0px,#1818ff 49.5px,#2c2cff 60.5px,#5151ff 65.5px,#6464ff 67.5px,#5050ff 68.5px,#2727ff 77.5px,#1919ff 89.5px,#3030ff 103.5px,#6161ff 117.5px,#5050ff 131.5px,#2a2aff 144px)"></i><i style="background:linear-gradient(#0505ff 0px,#1919ff 47.5px,#3232ff 60.5px,#5b5bff 65.5px,#7777ff 67.5px,#4c4cff 69.5px,#2222ff 79.5px,#1212ff 93.5px,#2626ff 109.5px,#3a3aff 118.5px,#2626ff 137.5px,#1a1aff 144px)"></i><i style="background:linear-gradient(#0505ff 0px,#1a1aff 44.5px,#3434ff 59.5px,#4f4fff 63.5px,#8686ff 67.5px,#8686ff 68.5px,#5050ff 69.5px,#2323ff 79.5px,#0e0eff 95.5px,#1b1bff 114.5px,#1717ff 134.5px,#0e0eff 144px)"></i><i style="background:linear-gradient(#0505ff 0px,#1b1bff 42.5px,#3838ff 58.5px,#5959ff 63.5px,#9797ff 67.5px,#aaaaff 68.5px,#8585ff 69.5px,#4d4dff 70.5px,#2222ff 80.5px,#0a0aff 98.5px,#0a0aff 136.5px,#0707ff 144px)"></i><i style="background:linear-gradient(#0606ff 0px,#1d1dff 40.5px,#3c3cff 57.5px,#5a5aff 62.5px,#9696ff 66.5px,#d4d4ff 69.5px,#5151ff 70.5px,#2323ff 80.5px,#0a0aff 98.5px,#0404ff 144px)"></i><i style="background:linear-gradient(#0707ff 0px,#1e1eff 38.5px,#4242ff 56.5px,#5d5dff 61.5px,#8181ff 64.5px,#eeeeff 69.5px,#a7a6fe 70.5px,#4e4eff 71.5px,#2222ff 81.5px,#0909ff 99.5px,#0303ff 144px)"></i><i style="background:linear-gradient(#0707ff 0px,#2020ff 36.5px,#4747ff 55.5px,#6969ff 61.5px,#9191ff 64.5px,#eeeeff 68.5px,#fef9fa 69.5px,#ffeeee 70.5px,#5151ff 71.5px,#2424ff 81.5px,#0a0aff 99.5px,#0303ff 144px)"></i><i style="background:linear-gradient(#0808ff 0px,#2121ff 34.5px,#4a4aff 53.5px,#6d6dff 60.5px,#9090ff 63.5px,#cfcfff 66.5px,#eaeaff 67.5px,#fef9fa 68.5px,#ffdfdf 70.5px,#d4b3de 71.5px,#4e4eff 72.5px,#2323ff 82.5px,#0909ff 100.5px,#0303ff 144px)"></i><i style="background:linear-gradient(#0909ff 0px,#2323ff 33.5px,#4f4fff 52.5px,#7a7aff 60.5px,#9f9fff 63.5px,#e2e2ff 66.5px,#fcf9fd 67.5px,#ffc3c3 71.5px,#7d6aed 72.5px,#4c4cff 73.5px,#2121ff 83.5px,#0909ff 102.5px,#0303ff 144px)"></i><i style="background:linear-gradient(#0a0aff 0px,#2323ff 31.5px,#5050ff 50.5px,#7e7eff 59.5px,#aeaeff 63.5px,#f4f4ff 66.5px,#fff4f4 67.5px,#ffb3b3 71.5px,#d491bc 72.5px,#4f4fff 73.5px,#2323ff 83.5px,#0a0aff 101.5px,#0505ff 144px)"></i><i style="background:linear-gradient(#0b0bff 0px,#2525ff 30.5px,#5454ff 49.5px,#8181ff 58.5px,#ababff 62.5px,#fefafb 66.5px,#ff9797 72.5px,#7d60e2 73.5px,#4c4cff 74.5px,#2121ff 84.5px,#0c0cff 101.5px,#0b0bff 135.5px,#0808ff 144px)"></i><i style="background:linear-gradient(#0b0bff 0px,#2828ff 30.5px,#5656ff 48.5px,#8b8bff 58.5px,#b6b6ff 62.5px,#f6f6ff 65.5px,#fff4f4 66.5px,#ff8888 72.5px,#d4739e 73.5px,#4f4fff 74.5px,#2323ff 84.5px,#1010ff 99.5px,#1d1dff 123.5px,#0e0eff 144px)"></i><i style="background:linear-gradient(#0c0cff 0px,#2828ff 29.5px,#5757ff 47.5px,#8c8cff 57.5px,#c0c0ff 62.5px,#fcfafd 65.5px,#ffc9c9 68.5px,#ff7c7c 72.5px,#ff7171 73.5px,#7d58da 74.5px,#4c4cff 75.5px,#2323ff 85.5px,#1616ff 99.5px,#3030ff 115.5px,#2c2cff 130.5px,#1717ff 144px)"></i><i style="background:linear-gradient(#0c0cff 0px,#2929ff 29.5px,#5b5bff 47.5px,#9292ff 57.5px,#c8c8ff 62.5px,#efefff 64.5px,#fffafa 65.5px,#ffaeae 69.5px,#ff7474 72.5px,#ff6767 73.5px,#4f4fff 75.5px,#2828ff 84.5px,#1f1fff 96.5px,#4040ff 111.5px,#5353ff 118.5px,#4040ff 133.5px,#2424ff 144px)"></i><i style="background:linear-gradient(#0d0dff 0px,#2929ff 28.5px,#5a5aff 46.5px,#8f8fff 56.5px,#bebeff 61.5px,#f3f3ff 64.5px,#fff8f8 65.5px,#ffacac 69.5px,#ff6e6e 72.5px,#ff5959 74.5px,#5252ff 75.5px,#2d2dff 84.5px,#2c2cff 94.5px,#5757ff 108.5px,#7d7dff 117.5px,#6e6eff 129.5px,#3535ff 144px)"></i><i style="background:linear-gradient(#0d0dff 0px,#2929ff 28.5px,#5b5bff 46.5px,#9191ff 56.5px,#c0c0ff 61.5px,#f4f4ff 64.5px,#fff8f8 65.5px,#ffacac 69.5px,#ff5e5e 73.5px,#ff5454 74.5px,#5050ff 76.5px,#3535ff 84.5px,#3d3dff 93.5px,#8383ff 108.5px,#b0b0ff 117.5px,#9e9eff 128.5px,#5757ff 141.5px,#4a4aff 144px)"></i><i style="background:linear-gradient(#0c0cff 0px,#2929ff 28.5px,#5a5aff 46.5px,#9191ff 56.5px,#c0c0ff 61.5px,#f2f2ff 64.5px,#fff9f9 65.5px,#ffafaf 69.5px,#ff5f5f 73.5px,#ff5454 74.5px,#5454ff 76.5px,#4040ff 83.5px,#4f4fff 91.5px,#9f9fff 104.5px,#ebebff 117.5px,#dcdcff 126.5px,#a7a7ff 135.5px,#6363ff 144px)"></i><i style="background:linear-gradient(#0c0cff 0px,#2828ff 28.5px,#5959ff 46.5px,#8f8fff 56.5px,#cacaff 62.5px,#fefbfc 65.5px,#ffcaca 68.5px,#ff6464 73.5px,#ff5858 74.5px,#ff5656 75.5px,#5a5aff 76.5px,#4d4dff 83.5px,#6666ff 90.5px,#d1d1ff 103.5px,#f0effe 107.5px,#fff2f2 113.5px,#ffeaea 120.5px,#f9f5fb 130.5px,#e8e8ff 133.5px,#7e7eff 144px)"></i><i style="background:linear-gradient(#0c0cff 0px,#2626ff 28.5px,#5656ff 46.5px,#8c8cff 56.5px,#c5c5ff 62.5px,#faf9fe 65.5px,#fff4f4 66.5px,#ffa7a7 70.5px,#ff6c6c 73.5px,#ff5a5a 75.5px,#6161ff 76.5px,#5b5bff 82.5px,#7777ff 88.5px,#cfcfff 97.5px,#f0efff 100.5px,#fff6f6 103.5px,#ffcbcb 115.5px,#ffd1d1 125.5px,#fbf7fb 135.5px,#e9e9ff 137.5px,#9999ff 144px)"></i><i style="background:linear-gradient(#0b0bff 0px,#2626ff 29.5px,#5757ff 47.5px,#8e8eff 57.5px,#bdbdff 62.5px,#f0f0ff 65.5px,#fffafa 66.5px,#ffb2b2 70.5px,#ff7878 73.5px,#ff6464 75.5px,#8d68d9 76.5px,#6666ff 77.5px,#6a6aff 82.5px,#9494ff 88.5px,#f4f3fe 96.5px,#fff6f6 98.5px,#ffbaba 109.5px,#ffaaaa 119.5px,#ffbebe 128.5px,#fcf9fc 138.5px,#e2e2ff 140.5px,#b3b3ff 144px)"></i><i style="background:linear-gradient(#0a0aff 0px,#2525ff 29.5px,#5353ff 47.5px,#8888ff 57.5px,#c1c1ff 63.5px,#f9f8fe 66.5px,#fff4f4 67.5px,#ff7878 74.5px,#ff7070 75.5px,#6d6dff 77.5px,#7979ff 82.5px,#a3a3ff 87.5px,#f5f4ff 93.5px,#fdf9fb 94.5px,#ffa8a8 106.5px,#ff9090 115.5px,#ff9999 125.5px,#ffc4c4 133.5px,#fbfafe 140.5px,#cacaff 144px)"></i><i style="background:linear-gradient(#0a0aff 0px,#2424ff 30.5px,#5353ff 48.5px,#8888ff 58.5px,#b7b7ff 63.5px,#fdfafc 67.5px,#ffb8b8 71.5px,#ff8787 74.5px,#ff7e7e 75.5px,#9674dd 76.5px,#7272ff 77.5px,#8484ff 82.5px,#b7b7ff 87.5px,#f3f3ff 91.5px,#fefbfc 92.5px,#ff9c9c 104.5px,#ff7e7e 112.5px,#ff8181 123.5px,#ffa6a6 131.5px,#fdfcfd 141.5px,#dadaff 144px)"></i><i style="background:linear-gradient(#0909ff 0px,#2222ff 30.5px,#4e4eff 48.5px,#8787ff 59.5px,#b8b8ff 64.5px,#f1f1ff 67.5px,#fff9f9 68.5px,#ff9797 74.5px,#ff8e8e 75.5px,#7575ff 76.5px,#8383ff 81.5px,#b4b4ff 86.5px,#fefcfd 91.5px,#ff9595 103.5px,#ff7373 111.5px,#ff7373 122.5px,#ff8e8e 129.5px,#ffdada 138.5px,#fff9f9 141.5px,#f8f8ff 142.5px,#e4e4ff 144px)"></i><i style="background:linear-gradient(#0808ff 0px,#2121ff 31.5px,#4d4dff 49.5px,#8686ff 60.5px,#b9b9ff 65.5px,#f5f5ff 68.5px,#fff6f6 69.5px,#ffa9a9 74.5px,#ff9f9f 75.5px,#7474ff 76.5px,#8383ff 81.5px,#b5b5ff 86.5px,#f3f3ff 90.5px,#fffcfc 91.5px,#ff9393 103.5px,#ff7070 111.5px,#ff7373 123.5px,#ff9292 130.5px,#fff7f7 141.5px,#fafaff 142.5px,#e6e6ff 144px)"></i><i style="background:linear-gradient(#0808ff 0px,#1f1fff 31.5px,#4b4bff 50.5px,#8484ff 61.5px,#ababff 65.5px,#e0e0ff 68.5px,#f7f6fe 69.5px,#fff5f5 70.5px,#ffb0b0 75.5px,#7171ff 76.5px,#7e7eff 81.5px,#adadff 86.5px,#f8f8ff 91.5px,#fff9f9 92.5px,#ff9595 104.5px,#ff7777 112.5px,#ff7979 123.5px,#ff9898 130.5px,#fffbfb 141.5px,#f4f4ff 142.5px,#e0e0ff 144px)"></i><i style="background:linear-gradient(#0707ff 0px,#1e1eff 32.5px,#4a4aff 51.5px,#8282ff 62.5px,#aaaaff 66.5px,#f8f7fe 70.5px,#fff5f5 71.5px,#ffcccc 74.5px,#daacd1 75.5px,#6b6bff 76.5px,#7474ff 81.5px,#9c9cff 86.5px,#fcf9fd 93.5px,#ffa2a2 105.5px,#ff8787 113.5px,#ff8989 123.5px,#ffacac 131.5px,#fff9f9 140.5px,#f7f7ff 141.5px,#d3d3ff 144px)"></i><i style="background:linear-gradient(#0707ff 0px,#1d1dff 33.5px,#4848ff 52.5px,#7777ff 62.5px,#a9a9ff 67.5px,#f6f6fe 71.5px,#fff6f6 72.5px,#ffdede 74.5px,#6565ff 76.5px,#6767ff 81.5px,#8787ff 86.5px,#dcdcff 93.5px,#f7f5fe 95.5px,#fff2f2 97.5px,#ffb3b3 107.5px,#ff9a9a 117.5px,#ffa7a7 126.5px,#ffdbdb 135.5px,#fdfafc 139.5px,#e2e2ff 141.5px,#c0c0ff 144px)"></i><i style="background:linear-gradient(#0606ff 0px,#1c1cff 34.5px,#4545ff 53.5px,#7474ff 63.5px,#9999ff 67.5px,#ddddff 71.5px,#f3f3ff 72.5px,#fef9f9 73.5px,#ffeeee 74.5px,#5e5eff 76.5px,#5c5cff 82.5px,#7f7fff 88.5px,#d8d8ff 96.5px,#f1f1fe 98.5px,#fef7f8 100.5px,#ffc3c3 111.5px,#ffb6b6 120.5px,#ffcccc 129.5px,#fcf9fc 137.5px,#e5e5ff 139.5px,#a9a9ff 144px)"></i><i style="background:linear-gradient(#0606ff 0px,#1b1bff 35.5px,#4343ff 54.5px,#7171ff 64.5px,#a4a4ff 69.5px,#fcfafd 74.5px,#8481fc 75.5px,#5757ff 76.5px,#4e4eff 82.5px,#6a6aff 89.5px,#bdbdff 98.5px,#f1f0fe 103.5px,#fff3f3 107.5px,#ffd4d4 118.5px,#ffe4e4 128.5px,#fef8f9 133.5px,#f3f2ff 135.5px,#8f8fff 144px)"></i><i style="background:linear-gradient(#0505ff 0px,#1a1aff 36.5px,#4343ff 56.5px,#6d6dff 65.5px,#a0a0ff 70.5px,#e4e4ff 74.5px,#5757ff 75.5px,#4242ff 82.5px,#5050ff 89.5px,#8c8cff 98.5px,#ededff 110.5px,#fff4f4 117.5px,#f7f4fc 128.5px,#e9e9ff 131.5px,#7575ff 144px)"></i><i style="background:linear-gradient(#0505ff 0px,#1919ff 37.5px,#4040ff 57.5px,#6a6aff 66.5px,#a8a8ff 72.5px,#c9c9ff 74.5px,#5353ff 75.5px,#3838ff 83.5px,#4242ff 91.5px,#7d7dff 102.5px,#dadaff 117.5px,#ceceff 126.5px,#9c9cff 135.5px,#5c5cff 144px)"></i><i style="background:linear-gradient(#0505ff 0px,#1818ff 38.5px,#3d3dff 58.5px,#6868ff 67.5px,#9494ff 72.5px,#a1a1ff 73.5px,#8080ff 74.5px,#5050ff 75.5px,#3030ff 83.5px,#3131ff 92.5px,#5f5fff 104.5px,#a4a4ff 118.5px,#9191ff 129.5px,#4545ff 144px)"></i><i style="background:linear-gradient(#0404ff 0px,#1818ff 40.5px,#3a3aff 59.5px,#6565ff 68.5px,#8d8dff 73.5px,#7474ff 74.5px,#4d4dff 75.5px,#2929ff 84.5px,#2626ff 95.5px,#5050ff 109.5px,#7575ff 118.5px,#6565ff 130.5px,#3232ff 144px)"></i><i style="background:linear-gradient(#0404ff 0px,#1717ff 42.5px,#3737ff 60.5px,#7b7bff 73.5px,#5252ff 74.5px,#2929ff 83.5px,#1b1bff 95.5px,#3333ff 109.5px,#4e4eff 118.5px,#3d3dff 133.5px,#2222ff 144px)"></i><i style="background:linear-gradient(#0404ff 0px,#1717ff 44.5px,#3535ff 61.5px,#6b6bff 73.5px,#5050ff 74.5px,#2424ff 84.5px,#1414ff 98.5px,#2929ff 114.5px,#3030ff 121.5px,#1515ff 144px)"></i><i style="background:linear-gradient(#0404ff 0px,#1616ff 46.5px,#3030ff 61.5px,#5a5aff 70.5px,#5c5cff 73.5px,#4343ff 76.5px,#1c1cff 87.5px,#0e0eff 104.5px,#1b1bff 123.5px,#0d0dff 144px)"></i><i style="background:linear-gradient(#0303ff 0px,#1515ff 48.5px,#2c2cff 61.5px,#5656ff 70.5px,#4d4dff 74.5px,#2222ff 84.5px,#0b0bff 101.5px,#0808ff 140.5px,#0707ff 144px)"></i><i style="background:linear-gradient(#0303ff 0px,#1414ff 50.5px,#2929ff 61.5px,#5656ff 69.5px,#4c4cff 72.5px,#4c4cff 74.5px,#2121ff 84.5px,#0909ff 102.5px,#0404ff 144px)"></i><i style="background:linear-gradient(#0303ff 0px,#1212ff 51.5px,#2727ff 61.5px,#5959ff 69.5px,#4848ff 72.5px,#5151ff 73.5px,#2424ff 83.5px,#0a0aff 101.5px,#0303ff 144px)"></i><i style="background:linear-gradient(#0303ff 0px,#1111ff 52.5px,#2727ff 61.5px,#5f5fff 69.5px,#5454ff 71.5px,#4848ff 72.5px,#4f4fff 73.5px,#2323ff 83.5px,#0909ff 101.5px,#0303ff 144px)"></i><i style="background:linear-gradient(#0303ff 0px,#1111ff 53.5px,#2727ff 61.5px,#6767ff 69.5px,#6666ff 70.5px,#5050ff 72.5px,#2020ff 84.5px,#0808ff 104.5px,#0303ff 144px)"></i><i style="background:linear-gradient(#0303ff 0px,#1010ff 52.5px,#2323ff 60.5px,#5b5bff 66.5px,#7373ff 69.5px,#7171ff 70.5px,#5353ff 72.5px,#2525ff 82.5px,#0b0bff 99.5px,#0404ff 144px)"></i><i style="background:linear-gradient(#0303ff 0px,#1111ff 52.5px,#2626ff 60.5px,#5959ff 65.5px,#8181ff 69.5px,#8080ff 70.5px,#7070ff 71.5px,#5454ff 72.5px,#2a2aff 80.5px,#0e0eff 95.5px,#0707ff 144px)"></i><i style="background:linear-gradient(#0404ff 0px,#1111ff 51.5px,#2424ff 59.5px,#4848ff 63.5px,#8a8aff 68.5px,#9292ff 70.5px,#8080ff 71.5px,#5151ff 72.5px,#2424ff 82.5px,#0e0eff 98.5px,#1c1cff 116.5px,#1313ff 138.5px,#0e0eff 144px)"></i><i style="background:linear-gradient(#0404ff 0px,#1212ff 50.5px,#2929ff 59.5px,#5151ff 63.5px,#9d9dff 68.5px,#a6a6ff 70.5px,#9393ff 71.5px,#5050ff 72.5px,#2424ff 82.5px,#1313ff 96.5px,#2828ff 112.5px,#3838ff 119.5px,#2525ff 137.5px,#1919ff 144px)"></i><i style="background:linear-gradient(#0404ff 0px,#1414ff 49.5px,#2a2aff 58.5px,#4d4dff 62.5px,#b1b1ff 68.5px,#bdbdff 70.5px,#9494ff 71.5px,#4f4fff 72.5px,#2727ff 81.5px,#1919ff 93.5px,#3131ff 106.5px,#5d5dff 118.5px,#4c4cff 132.5px,#2828ff 144px)"></i><i style="background:linear-gradient(#0505ff 0px,#1616ff 48.5px,#3131ff 58.5px,#5858ff 62.5px,#c7c7ff 68.5px,#d6d6ff 70.5px,#4f4fff 72.5px,#2828ff 81.5px,#2222ff 91.5px,#4343ff 103.5px,#8c8cff 118.5px,#7d7dff 129.5px,#3b3bff 144px)"></i><i style="background:linear-gradient(#0606ff 0px,#1818ff 46.5px,#3333ff 57.5px,#5555ff 61.5px,#8a8aff 64.5px,#dedeff 68.5px,#f0f0ff 70.5px,#4f4fff 72.5px,#2b2bff 81.5px,#2d2dff 90.5px,#5656ff 100.5px,#c3c3ff 118.5px,#b3b3ff 128.5px,#7777ff 138.5px,#5353ff 144px)"></i><i style="background:linear-gradient(#0606ff 0px,#1a1aff 44.5px,#3636ff 56.5px,#5353ff 60.5px,#8383ff 63.5px,#f6f6ff 68.5px,#fff9f9 70.5px,#4f4fff 72.5px,#3131ff 80.5px,#3636ff 88.5px,#6666ff 97.5px,#ebebff 114.5px,#f8f3fb 119.5px,#ebebff 128.5px,#b0b0ff 136.5px,#6c6cff 144px)"></i><i style="background:linear-gradient(#0707ff 0px,#1d1dff 43.5px,#3a3aff 55.5px,#5e5eff 60.5px,#9191ff 63.5px,#f7f6fe 67.5px,#fff0f0 69.5px,#ffecec 70.5px,#5050ff 72.5px,#3737ff 79.5px,#3f3fff 86.5px,#6969ff 93.5px,#f2f0fe 107.5px,#fff3f3 111.5px,#ffdede 119.5px,#ffefef 129.5px,#f8f5fc 133.5px,#dcdcff 136.5px,#8787ff 144px)"></i><i style="background:linear-gradient(#0808ff 0px,#2020ff 41.5px,#3f3fff 54.5px,#5e5eff 59.5px,#8b8bff 62.5px,#f3f3ff 66.5px,#fff7f7 67.5px,#ffdcdc 70.5px,#5151ff 72.5px,#3c3cff 79.5px,#4949ff 85.5px,#7f7fff 92.5px,#f5f3fd 102.5px,#fff0f0 105.5px,#ffc3c3 116.5px,#ffc6c6 125.5px,#ffeeee 134.5px,#fef9fa 136.5px,#eaeaff 138.5px,#a1a1ff 144px)"></i><i style="background:linear-gradient(#0909ff 0px,#2222ff 38.5px,#4242ff 52.5px,#6464ff 58.5px,#8a8aff 61.5px,#cfcfff 64.5px,#ededff 65.5px,#fff8f8 66.5px,#ffd1d1 69.5px,#ffcbcb 70.5px,#5353ff 72.5px,#4242ff 78.5px,#5151ff 84.5px,#8484ff 90.5px,#f1f1ff 98.5px,#fff7f7 100.5px,#ffbaba 110.5px,#ffa4a4 119.5px,#ffb6b6 128.5px,#fff1f1 137.5px,#f9f8fe 139.5px,#b7b7ff 144px)"></i><i style="background:linear-gradient(#0a0aff 0px,#2525ff 35.5px,#4949ff 50.5px,#6e6eff 57.5px,#8e8eff 60.5px,#cbcbff 63.5px,#e7e7ff 64.5px,#fdf8fa 65.5px,#ffc0c0 69.5px,#ffb8b8 70.5px,#5555ff 72.5px,#4747ff 78.5px,#5d5dff 84.5px,#9a9aff 90.5px,#f6f6fe 96.5px,#fef9fa 97.5px,#ffa9a9 108.5px,#ff8f8f 117.5px,#ff9a9a 126.5px,#ffc9c9 134.5px,#fdfbfd 140.5px,#cacaff 144px)"></i><i style="background:linear-gradient(#0b0bff 0px,#2828ff 32.5px,#5353ff 49.5px,#8181ff 57.5px,#a4a4ff 60.5px,#e3e3ff 63.5px,#fcf9fd 64.5px,#ffafaf 69.5px,#ffa6a6 70.5px,#5757ff 72.5px,#4b4bff 78.5px,#5f5fff 83.5px,#9292ff 88.5px,#f2f2ff 94.5px,#fdfafc 95.5px,#ffa0a0 106.5px,#ff8181 114.5px,#ff8181 123.5px,#ff9d9d 130.5px,#fdfbfe 141.5px,#d8d8ff 144px)"></i><i style="background:linear-gradient(#0c0cff 0px,#2828ff 29.5px,#5555ff 46.5px,#8c8cff 56.5px,#b9b9ff 60.5px,#f8f7fe 63.5px,#fff2f2 64.5px,#ffa0a0 69.5px,#ff9696 71.5px,#5858ff 72.5px,#4f4fff 78.5px,#6666ff 83.5px,#9e9eff 88.5px,#f3f3ff 93.5px,#fffbfb 94.5px,#ff9898 105.5px,#ff7777 112.5px,#ff7373 122.5px,#ff8d8d 129.5px,#ffcfcf 137.5px,#fff9f9 141.5px,#f6f6ff 142.5px,#e2e2ff 144px)"></i><i style="background:linear-gradient(#0d0dff 0px,#2b2bff 28.5px,#5b5bff 45.5px,#9393ff 55.5px,#bbbbff 59.5px,#f2f2ff 62.5px,#fff9f9 63.5px,#ff9595 69.5px,#ff8888 71.5px,#5959ff 72.5px,#5151ff 78.5px,#6a6aff 83.5px,#a5a5ff 88.5px,#fcfbfe 93.5px,#ff9090 105.5px,#ff7070 112.5px,#ff7070 123.5px,#ff8e8e 130.5px,#ffe1e1 139.5px,#fbfaff 142.5px,#e6e6ff 144px)"></i><i style="background:linear-gradient(#0d0dff 0px,#2b2bff 27.5px,#5d5dff 44.5px,#9494ff 54.5px,#c5c5ff 59.5px,#fafafe 62.5px,#ffe5e5 64.5px,#ff9090 69.5px,#ff8282 71.5px,#5a5aff 72.5px,#5151ff 78.5px,#6a6aff 83.5px,#a5a5ff 88.5px,#fbfbff 93.5px,#ffcece 98.5px,#ff8a8a 106.5px,#ff7070 113.5px,#ff7474 124.5px,#ff9797 131.5px,#fff7f7 141.5px,#f9f9ff 142.5px,#e5e5ff 144px)"></i></div>
<svg width="1416" height="934" viewBox="0 0 1416 934">
<path d="M134.6,365.1L171.7,367.5L183.5,368.6L192.7,369.7L197.9,370.6L202.9,371.8L209.7,373.9L217.3,377.0L219.3,377.5L221.0,377.6L222.4,377.5L223.8,377.0L226.2,375.6L227.4,374.6L228.6,373.1L229.8,371.1L231.8,366.7L233.2,362.0L234.1,357.0L234.9,349.7L235.6,339.4L236.6,322.0L239.8,242.9L241.5,191.3L243.0,120.2L243.8,67.5L244.1,57.9L244.3,54.9L244.7,58.8L245.0,68.2L247.7,172.0L249.1,206.9L250.3,229.1L253.4,272.2L256.0,302.4L256.9,310.7L258.3,317.7L259.9,323.6L262.2,330.1L264.5,335.3L266.9,339.4L270.4,344.0L274.0,347.5L275.8,349.0L277.9,350.2L283.3,352.8L289.7,354.8L297.1,356.4L310.4,358.3L339.6,361.4L367.0,365.2L379.1,366.6L394.2,367.7L469.0,372.3L555.1,376.2L624.8,378.8" fill="none" stroke="#ff0080" stroke-width="2.2" stroke-dasharray="6,4"/>
<path d="M134.6,362.1L176.0,363.6L221.4,365.7L296.3,368.5L313.9,369.5L347.3,371.8L421.7,377.3L448.2,379.1L462.5,380.4L473.3,381.9L484.1,383.8L494.1,386.4L499.8,388.4L502.1,389.0L507.5,389.8L508.6,389.8L509.3,389.4L510.8,387.4L512.6,383.2L513.4,380.4L514.2,375.4L516.1,359.0L517.4,334.8L519.6,271.6L523.5,69.9L524.2,48.0L524.5,41.4L524.8,40.5L525.1,44.3L525.6,56.8L527.3,125.7L529.6,194.5L530.7,221.6L532.4,254.7L534.1,279.2L536.7,304.0L537.8,312.1L538.9,318.5L540.3,325.2L541.9,331.1L543.8,336.6L546.2,342.7L548.8,348.1L551.3,352.4L553.3,355.3L556.5,358.7L559.3,361.0L562.2,362.7L566.9,364.9L572.5,366.8L580.3,369.0L588.1,370.7L595.3,371.8L608.1,373.4L617.0,374.2L624.8,374.6" fill="none" stroke="#008000" stroke-width="2.4" stroke-dasharray="2.2,4"/>
<path d="M134.6,372.0L154.5,372.7L178.7,374.1L196.3,375.4L209.5,376.9L215.5,377.3L220.4,377.3L220.9,377.1L222.0,376.0L223.3,373.3L225.7,367.0L226.9,362.0L228.4,352.6L229.1,344.3L231.4,298.7L232.9,265.0L236.2,165.8L237.6,138.6L238.1,132.3L238.4,130.4L238.8,131.6L239.3,138.0L240.5,166.9L241.9,233.5L242.7,257.1L244.1,281.1L245.0,292.9L246.1,303.2L247.6,313.3L249.5,322.6L252.9,336.2L255.2,343.6L257.2,347.7L259.9,351.5L262.9,354.5L266.7,357.4L270.7,359.6L276.7,362.5L280.7,364.1L284.3,365.1L290.5,366.1L330.0,371.1L347.0,372.7L377.9,374.9L420.7,378.4L457.0,381.1L463.6,381.7L479.8,383.6L497.4,384.1L498.7,383.8L500.0,382.9L501.7,381.3L502.8,379.8L503.7,377.9L504.7,374.7L505.9,369.6L507.2,362.3L508.3,351.9L510.1,325.7L512.8,273.3L516.6,177.9L517.7,162.9L518.0,159.9L518.4,158.8L518.8,160.4L519.1,164.4L520.2,182.9L521.7,220.6L523.1,243.7L524.9,268.0L527.2,291.9L530.0,314.2L533.5,333.8L534.9,340.6L536.3,345.6L537.9,350.1L539.7,354.4L541.2,357.1L542.5,358.9L544.8,360.9L547.2,362.6L552.1,365.2L557.4,367.5L562.3,369.4L567.1,370.9L577.7,373.3L589.6,375.1L609.5,377.1L624.8,378.0" fill="none" stroke="#000080" stroke-width="2.2" stroke-linejoin="round"/>
<rect x="134.60" y="12.00" width="490.20" height="379.30" fill="none" stroke="#1a1a1a" stroke-width="1.5"/>
<line x1="129.00" y1="391.30" x2="134.60" y2="391.30" stroke="#1a1a1a" stroke-width="1.5" />
<text x="124.00" y="397.50" font-size="21.5" text-anchor="end" fill="#000" font-family='"Liberation Sans", sans-serif' letter-spacing="1.2">0.0</text>
<line x1="131.40" y1="353.37" x2="134.60" y2="353.37" stroke="#1a1a1a" stroke-width="1.5" />
<line x1="129.00" y1="315.44" x2="134.60" y2="315.44" stroke="#1a1a1a" stroke-width="1.5" />
<text x="124.00" y="321.64" font-size="21.5" text-anchor="end" fill="#000" font-family='"Liberation Sans", sans-serif' letter-spacing="1.2">0.2</text>
<line x1="131.40" y1="277.51" x2="134.60" y2="277.51" stroke="#1a1a1a" stroke-width="1.5" />
<line x1="129.00" y1="239.58" x2="134.60" y2="239.58" stroke="#1a1a1a" stroke-width="1.5" />
<text x="124.00" y="245.78" font-size="21.5" text-anchor="end" fill="#000" font-family='"Liberation Sans", sans-serif' letter-spacing="1.2">0.4</text>
<line x1="131.40" y1="201.65" x2="134.60" y2="201.65" stroke="#1a1a1a" stroke-width="1.5" />
<line x1="129.00" y1="163.72" x2="134.60" y2="163.72" stroke="#1a1a1a" stroke-width="1.5" />
<text x="124.00" y="169.92" font-size="21.5" text-anchor="end" fill="#000" font-family='"Liberation Sans", sans-serif' letter-spacing="1.2">0.6</text>
<line x1="131.40" y1="125.79" x2="134.60" y2="125.79" stroke="#1a1a1a" stroke-width="1.5" />
<line x1="129.00" y1="87.86" x2="134.60" y2="87.86" stroke="#1a1a1a" stroke-width="1.5" />
<text x="124.00" y="94.06" font-size="21.5" text-anchor="end" fill="#000" font-family='"Liberation Sans", sans-serif' letter-spacing="1.2">0.8</text>
<line x1="131.40" y1="49.93" x2="134.60" y2="49.93" stroke="#1a1a1a" stroke-width="1.5" />
<line x1="129.00" y1="12.00" x2="134.60" y2="12.00" stroke="#1a1a1a" stroke-width="1.5" />
<text x="124.00" y="18.20" font-size="21.5" text-anchor="end" fill="#000" font-family='"Liberation Sans", sans-serif' letter-spacing="1.2">1.0</text>
<line x1="134.60" y1="391.30" x2="134.60" y2="396.80" stroke="#1a1a1a" stroke-width="1.5" />
<text x="134.20" y="418.00" font-size="21.5" text-anchor="middle" fill="#000" font-family='"Liberation Sans", sans-serif' letter-spacing="0.9">740</text>
<line x1="175.45" y1="391.30" x2="175.45" y2="394.50" stroke="#1a1a1a" stroke-width="1.5" />
<line x1="216.30" y1="391.30" x2="216.30" y2="396.80" stroke="#1a1a1a" stroke-width="1.5" />
<text x="215.90" y="418.00" font-size="21.5" text-anchor="middle" fill="#000" font-family='"Liberation Sans", sans-serif' letter-spacing="0.9">760</text>
<line x1="257.15" y1="391.30" x2="257.15" y2="394.50" stroke="#1a1a1a" stroke-width="1.5" />
<line x1="298.00" y1="391.30" x2="298.00" y2="396.80" stroke="#1a1a1a" stroke-width="1.5" />
<text x="297.60" y="418.00" font-size="21.5" text-anchor="middle" fill="#000" font-family='"Liberation Sans", sans-serif' letter-spacing="0.9">780</text>
<line x1="338.85" y1="391.30" x2="338.85" y2="394.50" stroke="#1a1a1a" stroke-width="1.5" />
<line x1="379.70" y1="391.30" x2="379.70" y2="396.80" stroke="#1a1a1a" stroke-width="1.5" />
<text x="379.30" y="418.00" font-size="21.5" text-anchor="middle" fill="#000" font-family='"Liberation Sans", sans-serif' letter-spacing="0.9">800</text>
<line x1="420.55" y1="391.30" x2="420.55" y2="394.50" stroke="#1a1a1a" stroke-width="1.5" />
<line x1="461.40" y1="391.30" x2="461.40" y2="396.80" stroke="#1a1a1a" stroke-width="1.5" />
<text x="461.00" y="418.00" font-size="21.5" text-anchor="middle" fill="#000" font-family='"Liberation Sans", sans-serif' letter-spacing="0.9">820</text>
<line x1="502.25" y1="391.30" x2="502.25" y2="394.50" stroke="#1a1a1a" stroke-width="1.5" />
<line x1="543.10" y1="391.30" x2="543.10" y2="396.80" stroke="#1a1a1a" stroke-width="1.5" />
<text x="542.70" y="418.00" font-size="21.5" text-anchor="middle" fill="#000" font-family='"Liberation Sans", sans-serif' letter-spacing="0.9">840</text>
<line x1="583.95" y1="391.30" x2="583.95" y2="394.50" stroke="#1a1a1a" stroke-width="1.5" />
<line x1="624.80" y1="391.30" x2="624.80" y2="396.80" stroke="#1a1a1a" stroke-width="1.5" />
<text x="624.40" y="418.00" font-size="21.5" text-anchor="middle" fill="#000" font-family='"Liberation Sans", sans-serif' letter-spacing="0.9">860</text>
<text x="379.50" y="450.20" font-size="24" text-anchor="middle" fill="#000" font-family='"Liberation Sans", sans-serif' >Wavelength [nm]</text>
<text transform="translate(79.2,201.3) rotate(-90)" x="0" y="0" font-size="23.7" text-anchor="middle" font-family='"Liberation Sans", sans-serif'>TM Reflectivity</text>
<text x="592.00" y="46.50" font-size="29" text-anchor="middle" fill="#000" font-family='"Liberation Sans", sans-serif' >(a)</text>
<line x1="276.30" y1="51.90" x2="331.50" y2="51.90" stroke="#ff0080" stroke-width="2" stroke-dasharray="6,4"/>
<line x1="277.90" y1="95.00" x2="332.70" y2="95.00" stroke="#008000" stroke-width="2.2" stroke-dasharray="2,4"/>
<line x1="277.90" y1="138.90" x2="332.70" y2="138.90" stroke="#000080" stroke-width="2.2" />
<text x="340.00" y="60.70" font-size="23.2" text-anchor="start" fill="#ff0080" font-family='"Liberation Sans", sans-serif' letter-spacing="0.55"><tspan font-family='"Liberation Serif", serif' font-style="italic" font-size="25">&#923;</tspan><tspan font-family='"Liberation Serif", serif' font-style="italic" font-size="19" dy="6.5">1</tspan><tspan dy="-6.5" dx="0.5">=450 nm</tspan></text>
<text x="340.00" y="102.90" font-size="23.2" text-anchor="start" fill="#008000" font-family='"Liberation Sans", sans-serif' letter-spacing="0.55"><tspan font-family='"Liberation Serif", serif' font-style="italic" font-size="25">&#923;</tspan><tspan font-family='"Liberation Serif", serif' font-style="italic" font-size="19" dy="6.5">2</tspan><tspan dy="-6.5" dx="0.5">=500 nm</tspan></text>
<text x="340.00" y="145.60" font-size="23.2" text-anchor="start" fill="#000080" font-family='"Liberation Sans", sans-serif' letter-spacing="0.55"><tspan font-family='"Liberation Serif", serif' font-style="italic" font-size="25">&#923;</tspan><tspan dx="0.5">=4500 nm</tspan></text>
<rect x="876.30" y="11.70" width="529.40" height="370.70" fill="none" stroke="#1a1a1a" stroke-width="1.5"/>
<line x1="869.90" y1="382.40" x2="876.30" y2="382.40" stroke="#1a1a1a" stroke-width="1.5" />
<text x="862.80" y="389.70" font-size="23.5" text-anchor="end" fill="#000" font-family='"Liberation Sans", sans-serif' >0.0</text>
<line x1="872.80" y1="345.33" x2="876.30" y2="345.33" stroke="#1a1a1a" stroke-width="1.5" />
<line x1="869.90" y1="308.26" x2="876.30" y2="308.26" stroke="#1a1a1a" stroke-width="1.5" />
<text x="862.80" y="315.56" font-size="23.5" text-anchor="end" fill="#000" font-family='"Liberation Sans", sans-serif' >0.2</text>
<line x1="872.80" y1="271.19" x2="876.30" y2="271.19" stroke="#1a1a1a" stroke-width="1.5" />
<line x1="869.90" y1="234.12" x2="876.30" y2="234.12" stroke="#1a1a1a" stroke-width="1.5" />
<text x="862.80" y="241.42" font-size="23.5" text-anchor="end" fill="#000" font-family='"Liberation Sans", sans-serif' >0.4</text>
<line x1="872.80" y1="197.05" x2="876.30" y2="197.05" stroke="#1a1a1a" stroke-width="1.5" />
<line x1="869.90" y1="159.98" x2="876.30" y2="159.98" stroke="#1a1a1a" stroke-width="1.5" />
<text x="862.80" y="167.28" font-size="23.5" text-anchor="end" fill="#000" font-family='"Liberation Sans", sans-serif' >0.6</text>
<line x1="872.80" y1="122.91" x2="876.30" y2="122.91" stroke="#1a1a1a" stroke-width="1.5" />
<line x1="869.90" y1="85.84" x2="876.30" y2="85.84" stroke="#1a1a1a" stroke-width="1.5" />
<text x="862.80" y="93.14" font-size="23.5" text-anchor="end" fill="#000" font-family='"Liberation Sans", sans-serif' >0.8</text>
<line x1="872.80" y1="48.77" x2="876.30" y2="48.77" stroke="#1a1a1a" stroke-width="1.5" />
<line x1="869.90" y1="11.70" x2="876.30" y2="11.70" stroke="#1a1a1a" stroke-width="1.5" />
<text x="862.80" y="19.00" font-size="23.5" text-anchor="end" fill="#000" font-family='"Liberation Sans", sans-serif' >1.0</text>
<line x1="876.30" y1="382.40" x2="876.30" y2="388.90" stroke="#1a1a1a" stroke-width="1.5" />
<text x="876.30" y="413.00" font-size="23.5" text-anchor="middle" fill="#000" font-family='"Liberation Sans", sans-serif' >510</text>
<line x1="908.80" y1="382.40" x2="908.80" y2="385.90" stroke="#1a1a1a" stroke-width="1.5" />
<line x1="941.31" y1="382.40" x2="941.31" y2="388.90" stroke="#1a1a1a" stroke-width="1.5" />
<text x="941.31" y="413.00" font-size="23.5" text-anchor="middle" fill="#000" font-family='"Liberation Sans", sans-serif' >513</text>
<line x1="973.81" y1="382.40" x2="973.81" y2="385.90" stroke="#1a1a1a" stroke-width="1.5" />
<line x1="1006.32" y1="382.40" x2="1006.32" y2="388.90" stroke="#1a1a1a" stroke-width="1.5" />
<text x="1006.32" y="413.00" font-size="23.5" text-anchor="middle" fill="#000" font-family='"Liberation Sans", sans-serif' >516</text>
<line x1="1038.83" y1="382.40" x2="1038.83" y2="385.90" stroke="#1a1a1a" stroke-width="1.5" />
<line x1="1071.33" y1="382.40" x2="1071.33" y2="388.90" stroke="#1a1a1a" stroke-width="1.5" />
<text x="1071.33" y="413.00" font-size="23.5" text-anchor="middle" fill="#000" font-family='"Liberation Sans", sans-serif' >519</text>
<line x1="1103.84" y1="382.40" x2="1103.84" y2="385.90" stroke="#1a1a1a" stroke-width="1.5" />
<line x1="1154.37" y1="382.40" x2="1154.37" y2="385.90" stroke="#1a1a1a" stroke-width="1.5" />
<line x1="1180.36" y1="382.40" x2="1180.36" y2="388.90" stroke="#1a1a1a" stroke-width="1.5" />
<text x="1180.36" y="413.00" font-size="23.5" text-anchor="middle" fill="#000" font-family='"Liberation Sans", sans-serif' >612</text>
<line x1="1206.36" y1="382.40" x2="1206.36" y2="385.90" stroke="#1a1a1a" stroke-width="1.5" />
<line x1="1232.35" y1="382.40" x2="1232.35" y2="388.90" stroke="#1a1a1a" stroke-width="1.5" />
<text x="1232.35" y="413.00" font-size="23.5" text-anchor="middle" fill="#000" font-family='"Liberation Sans", sans-serif' >615</text>
<line x1="1258.35" y1="382.40" x2="1258.35" y2="385.90" stroke="#1a1a1a" stroke-width="1.5" />
<line x1="1284.34" y1="382.40" x2="1284.34" y2="388.90" stroke="#1a1a1a" stroke-width="1.5" />
<text x="1284.34" y="413.00" font-size="23.5" text-anchor="middle" fill="#000" font-family='"Liberation Sans", sans-serif' >618</text>
<line x1="1310.34" y1="382.40" x2="1310.34" y2="385.90" stroke="#1a1a1a" stroke-width="1.5" />
<line x1="1336.33" y1="382.40" x2="1336.33" y2="388.90" stroke="#1a1a1a" stroke-width="1.5" />
<text x="1336.33" y="413.00" font-size="23.5" text-anchor="middle" fill="#000" font-family='"Liberation Sans", sans-serif' >621</text>
<line x1="1362.33" y1="382.40" x2="1362.33" y2="385.90" stroke="#1a1a1a" stroke-width="1.5" />
<line x1="1388.32" y1="382.40" x2="1388.32" y2="388.90" stroke="#1a1a1a" stroke-width="1.5" />
<text x="1388.32" y="413.00" font-size="23.5" text-anchor="middle" fill="#000" font-family='"Liberation Sans", sans-serif' >624</text>
<text x="1141.00" y="446.00" font-size="24" text-anchor="middle" fill="#000" font-family='"Liberation Sans", sans-serif' >Wavelength [nm]</text>
<text transform="translate(820.0,181.5) rotate(-90)" x="0" y="0" font-size="24" text-anchor="middle" font-family='"Liberation Sans", sans-serif'>TM Reflectivity</text>
<text x="1373.20" y="46.50" font-size="29" text-anchor="middle" fill="#000" font-family='"Liberation Sans", sans-serif' >(d)</text>
<line x1="1079.30" y1="41.40" x2="1126.80" y2="41.40" stroke="#000" stroke-width="2" stroke-dasharray="5,3.5"/>
<text x="1131.20" y="47.90" font-size="20.6" text-anchor="start" fill="#000" font-family='"Liberation Sans", sans-serif' >bare surface</text>
<line x1="1079.30" y1="67.80" x2="1126.80" y2="67.80" stroke="#ff0080" stroke-width="2" />
<text x="1131.20" y="74.30" font-size="20.6" text-anchor="start" fill="#000" font-family='"Liberation Sans", sans-serif' ><tspan font-style="italic">d</tspan><tspan font-style="italic" font-size="16.5" dy="7">bio</tspan><tspan dy="-7">=10 nm</tspan></text>
<line x1="1079.30" y1="98.80" x2="1126.80" y2="98.80" stroke="#008000" stroke-width="2" />
<text x="1131.20" y="105.30" font-size="20.6" text-anchor="start" fill="#000" font-family='"Liberation Sans", sans-serif' ><tspan font-style="italic">d</tspan><tspan font-style="italic" font-size="16.5" dy="7">bio</tspan><tspan dy="-7">=20 nm</tspan></text>
<line x1="1079.30" y1="129.90" x2="1126.80" y2="129.90" stroke="#0000ff" stroke-width="2" />
<text x="1131.20" y="136.40" font-size="20.6" text-anchor="start" fill="#000" font-family='"Liberation Sans", sans-serif' ><tspan font-style="italic">d</tspan><tspan font-style="italic" font-size="16.5" dy="7">bio</tspan><tspan dy="-7">=30 nm</tspan></text>
<line x1="1079.30" y1="161.40" x2="1126.80" y2="161.40" stroke="#ff8000" stroke-width="2" />
<text x="1131.20" y="167.90" font-size="20.6" text-anchor="start" fill="#000" font-family='"Liberation Sans", sans-serif' ><tspan font-style="italic">d</tspan><tspan font-style="italic" font-size="16.5" dy="7">bio</tspan><tspan dy="-7">=40 nm</tspan></text>
<line x1="1079.30" y1="192.80" x2="1126.80" y2="192.80" stroke="#8000ff" stroke-width="2" />
<text x="1131.20" y="199.30" font-size="20.6" text-anchor="start" fill="#000" font-family='"Liberation Sans", sans-serif' ><tspan font-style="italic">d</tspan><tspan font-style="italic" font-size="16.5" dy="7">bio</tspan><tspan dy="-7">=50 nm</tspan></text>
<rect x="1136.1" y="9.7" width="11" height="4" fill="#fff"/>
<line x1="1132.30" y1="18.70" x2="1141.70" y2="4.70" stroke="#1a1a1a" stroke-width="1.2" />
<line x1="1141.50" y1="18.70" x2="1150.90" y2="4.70" stroke="#1a1a1a" stroke-width="1.2" />
<rect x="1136.1" y="380.4" width="11" height="4" fill="#fff"/>
<line x1="1132.30" y1="389.40" x2="1141.70" y2="375.40" stroke="#1a1a1a" stroke-width="1.2" />
<line x1="1141.50" y1="389.40" x2="1150.90" y2="375.40" stroke="#1a1a1a" stroke-width="1.2" />
<path d="M876.3,379.2L879.8,378.7L882.6,378.0L885.2,376.8L887.6,375.3L891.3,372.0L897.8,364.9L903.2,359.4L905.8,355.5L908.2,350.1L910.1,343.7L911.9,335.6L913.6,324.2L915.1,310.7L916.4,295.6L917.7,276.6L919.9,235.3L924.2,133.8L926.2,99.8L927.3,87.7L928.6,79.0L929.2,76.6L929.9,75.1L930.7,74.1L931.6,73.9L933.6,74.2L934.2,74.6L934.9,75.6L935.5,77.2L937.0,83.8L938.5,94.6L939.8,106.8L941.4,123.8L947.0,196.2L950.0,231.3L953.5,264.1L957.0,289.3L958.7,299.5L960.7,309.3L962.8,318.5L965.0,326.3L967.4,333.4L970.0,339.9L972.6,345.2L975.6,350.3L979.1,355.0L983.0,359.1L987.1,362.6L991.9,365.7L997.1,368.3L1003.0,370.6L1009.5,372.5L1017.1,374.1L1025.5,375.5L1035.1,376.7L1046.1,377.7L1058.7,378.5L1091.0,379.8L1136.3,380.8" fill="none" stroke="#000" stroke-width="2" stroke-linejoin="round" stroke-dasharray="5,3.5"/>
<path d="M876.3,379.4L888.2,379.4L894.7,379.0L897.3,378.6L899.7,378.0L901.7,377.2L903.6,376.2L905.6,374.7L907.3,373.0L909.0,370.7L910.6,368.3L913.4,362.3L916.2,354.1L918.8,344.1L921.4,331.5L923.8,317.7L926.4,300.1L931.0,263.7L941.6,168.9L944.6,145.5L947.2,128.5L950.3,113.1L951.8,107.2L953.3,102.7L954.8,99.3L956.3,97.0L958.1,95.7L959.8,95.3L960.2,95.4L960.7,95.8L961.8,97.7L962.6,100.1L963.7,104.0L965.9,114.6L968.0,128.2L972.2,159.9L980.2,229.6L983.9,259.8L987.6,286.8L991.2,309.8L995.2,329.6L997.1,337.8L999.1,344.9L1001.0,351.1L1003.2,356.9L1005.3,361.7L1007.7,366.1L1009.9,369.2L1012.1,371.8L1014.5,374.0L1016.8,375.7L1019.7,377.2L1022.7,378.3L1026.2,379.2L1030.1,379.8L1037.0,380.3L1047.6,380.6L1136.3,381.3" fill="none" stroke="#ff0080" stroke-width="2" stroke-linejoin="round" />
<path d="M876.3,380.5L893.0,380.2L903.6,379.4L908.2,378.6L912.1,377.6L915.6,376.4L918.8,374.9L921.8,373.0L924.9,370.6L927.7,367.7L930.3,364.5L932.9,360.6L935.3,356.3L937.7,351.3L939.8,346.1L943.7,334.7L947.4,321.3L951.1,305.2L954.6,287.4L958.3,265.6L962.0,241.1L973.7,153.8L977.6,127.0L979.8,114.3L981.7,105.2L983.4,99.5L984.1,98.2L984.7,97.6L985.6,98.2L986.7,100.1L987.6,102.4L988.6,106.3L990.8,116.9L993.2,132.4L997.1,164.2L1004.9,236.7L1008.2,265.3L1011.6,292.4L1014.9,314.1L1018.1,331.9L1021.4,346.0L1023.1,352.1L1024.9,357.3L1026.8,362.2L1028.8,366.3L1030.5,369.3L1032.5,372.0L1034.6,374.3L1036.8,376.1L1039.2,377.6L1041.8,378.8L1044.6,379.6L1048.1,380.3L1054.1,380.8L1063.0,381.0L1136.3,381.3" fill="none" stroke="#008000" stroke-width="2" stroke-linejoin="round" />
<path d="M876.3,379.2L899.1,378.1L908.4,377.3L916.4,376.4L923.6,375.4L929.9,374.1L935.5,372.7L940.7,370.9L945.5,368.8L949.6,366.5L953.3,363.9L956.8,360.9L960.0,357.3L962.8,353.5L965.4,349.2L968.0,344.1L970.0,339.5L971.9,334.1L975.4,322.2L978.7,307.6L981.5,291.4L984.5,269.4L987.6,242.1L990.2,214.7L996.0,147.9L998.8,121.4L1000.6,109.5L1002.3,101.7L1003.2,99.2L1004.3,97.4L1005.1,96.6L1006.4,96.4L1007.3,96.7L1008.2,97.7L1008.8,99.2L1009.5,101.5L1010.8,108.5L1012.3,121.2L1014.7,149.3L1019.2,214.5L1021.6,245.6L1024.0,271.8L1026.6,294.7L1029.2,312.4L1032.2,327.8L1033.8,334.0L1035.5,339.9L1037.4,345.5L1039.4,350.1L1041.8,354.8L1044.2,358.6L1047.0,362.2L1050.0,365.2L1053.5,368.0L1057.2,370.2L1061.3,372.2L1066.1,373.9L1071.1,375.3L1076.9,376.4L1083.6,377.4L1091.2,378.3L1110.1,379.5L1136.3,380.3" fill="none" stroke="#0000ff" stroke-width="2" stroke-linejoin="round" />
<path d="M876.3,379.3L904.7,378.2L926.4,376.7L935.3,375.7L943.3,374.5L950.3,373.1L956.5,371.6L962.2,369.7L967.4,367.6L972.2,365.1L976.3,362.3L980.2,359.1L983.7,355.5L986.9,351.3L989.7,346.9L992.3,342.0L994.7,336.6L996.9,330.8L999.1,324.0L1001.0,316.7L1002.7,309.2L1006.2,290.7L1009.2,269.7L1012.3,243.5L1014.9,216.9L1019.9,161.1L1022.0,140.4L1023.3,130.9L1024.6,124.2L1025.7,121.0L1026.4,120.1L1027.0,119.9L1027.7,120.2L1028.3,121.0L1029.0,122.7L1029.6,125.5L1030.7,132.8L1031.8,143.5L1033.5,166.7L1039.2,255.6L1041.1,280.1L1043.3,301.9L1045.5,318.5L1048.1,333.3L1050.9,344.8L1052.4,349.5L1053.9,353.5L1055.9,357.7L1058.0,361.4L1060.2,364.4L1062.8,367.2L1065.6,369.6L1068.9,371.8L1072.4,373.5L1076.3,374.9L1080.6,376.2L1085.6,377.2L1091.2,378.1L1097.7,378.8L1113.8,379.8L1136.3,380.5" fill="none" stroke="#ff8000" stroke-width="2" stroke-linejoin="round" />
<path d="M876.3,378.6L914.3,377.7L943.3,376.6L965.0,375.2L973.7,374.3L981.3,373.4L987.6,372.3L993.2,371.1L998.0,369.7L1002.3,368.0L1005.8,366.3L1009.0,364.1L1011.9,361.6L1014.5,358.7L1016.6,355.5L1018.6,351.8L1020.3,347.7L1022.0,342.5L1023.6,336.7L1024.9,330.7L1027.2,316.0L1029.2,299.2L1031.2,276.9L1032.9,252.1L1036.1,199.3L1037.7,179.2L1038.5,171.1L1039.4,165.9L1040.3,163.2L1040.7,162.7L1041.1,162.5L1041.8,162.7L1042.4,163.6L1043.5,167.3L1044.4,172.6L1045.5,182.4L1047.2,204.1L1052.2,276.5L1053.9,296.5L1055.9,314.5L1057.8,328.4L1060.0,340.0L1062.4,349.3L1063.7,353.2L1065.2,357.1L1066.9,360.6L1068.7,363.6L1070.8,366.5L1073.0,368.8L1075.4,370.8L1078.2,372.6L1081.3,374.1L1084.7,375.4L1088.4,376.4L1092.7,377.4L1103.2,378.7L1117.0,379.6L1136.3,380.2" fill="none" stroke="#8000ff" stroke-width="2" stroke-linejoin="round" />
<path d="M1145.7,350.7L1172.8,349.9L1183.9,349.2L1193.8,348.3L1202.7,347.2L1210.5,345.9L1217.5,344.3L1223.8,342.5L1229.4,340.4L1234.6,337.9L1239.4,335.0L1243.7,331.7L1247.6,327.9L1251.3,323.6L1254.5,318.9L1257.6,313.5L1260.2,308.0L1262.6,302.1L1264.9,295.0L1267.1,287.5L1269.1,279.6L1271.0,270.4L1273.0,259.8L1274.7,249.0L1278.0,224.5L1281.0,196.1L1283.8,164.9L1288.8,104.7L1291.0,82.2L1292.0,73.3L1293.1,66.7L1294.2,62.6L1294.9,61.5L1295.3,61.4L1295.9,61.9L1296.4,63.1L1297.2,67.9L1298.1,75.9L1299.0,87.0L1300.5,112.3L1305.5,207.1L1307.4,236.6L1309.6,262.5L1311.8,282.3L1314.4,299.8L1317.2,313.3L1318.9,319.7L1320.7,324.9L1322.6,329.7L1324.8,334.0L1327.2,337.9L1330.0,341.4L1332.8,344.2L1336.1,346.8L1339.7,349.0L1343.9,350.9L1348.4,352.6L1353.6,354.0L1359.5,355.2L1366.2,356.3L1382.9,358.1L1405.7,359.6" fill="none" stroke="#000" stroke-width="2" stroke-linejoin="round" stroke-dasharray="5,3.5"/>
<path d="M1145.7,352.1L1175.8,351.3L1188.2,350.6L1199.3,349.7L1209.0,348.7L1217.7,347.4L1225.5,345.8L1232.6,344.0L1238.9,341.9L1244.8,339.4L1250.2,336.4L1255.0,333.2L1259.3,329.6L1263.4,325.3L1267.1,320.6L1270.6,315.2L1273.6,309.6L1276.4,303.3L1279.0,296.5L1281.4,289.1L1283.6,281.4L1285.8,272.5L1287.9,262.1L1289.9,251.5L1293.6,227.2L1297.0,198.7L1300.1,169.5L1305.7,110.1L1308.1,88.3L1309.4,78.9L1310.7,71.9L1312.0,67.7L1312.6,66.7L1313.1,66.5L1313.7,67.0L1314.2,68.1L1315.0,72.5L1315.9,80.1L1316.8,90.8L1318.3,115.6L1323.3,209.3L1325.2,238.6L1327.2,262.2L1329.3,282.4L1331.5,297.7L1334.1,311.4L1335.6,317.6L1337.1,322.8L1338.9,327.7L1340.8,332.3L1343.0,336.4L1345.2,339.7L1347.8,342.9L1350.6,345.7L1353.6,348.1L1357.1,350.2L1360.8,352.0L1365.1,353.6L1369.9,355.0L1375.3,356.2L1381.4,357.2L1388.3,358.2L1405.7,359.7" fill="none" stroke="#ff0080" stroke-width="2" stroke-linejoin="round" />
<path d="M1145.7,355.2L1180.0,354.4L1193.8,353.7L1206.2,352.9L1217.0,351.9L1226.8,350.6L1235.5,349.1L1243.3,347.4L1250.4,345.3L1256.7,342.9L1262.3,340.2L1267.5,337.0L1272.3,333.4L1276.7,329.3L1280.6,324.8L1284.2,319.6L1287.5,314.0L1290.3,308.2L1293.1,301.3L1295.7,293.8L1298.1,285.8L1300.5,276.3L1302.7,266.3L1304.8,254.7L1308.5,230.9L1312.0,202.9L1315.2,171.7L1321.1,110.1L1323.5,88.6L1324.8,79.4L1326.1,72.7L1327.4,68.8L1327.8,68.2L1328.5,68.0L1329.1,68.7L1329.6,70.0L1330.4,74.9L1331.3,83.0L1332.2,94.2L1333.7,119.5L1338.4,209.3L1340.2,235.9L1341.9,257.9L1343.9,277.5L1345.8,292.8L1348.2,307.1L1350.8,318.5L1352.3,323.7L1354.1,328.7L1356.0,333.3L1358.0,337.0L1360.1,340.4L1362.5,343.5L1365.1,346.2L1367.9,348.5L1371.0,350.5L1374.4,352.3L1378.1,353.8L1382.5,355.2L1387.2,356.4L1392.6,357.4L1405.7,359.1" fill="none" stroke="#008000" stroke-width="2" stroke-linejoin="round" />
<path d="M1145.7,357.9L1184.3,357.1L1199.9,356.5L1213.6,355.7L1225.7,354.8L1236.3,353.6L1245.6,352.2L1254.1,350.6L1261.7,348.6L1268.4,346.4L1274.5,343.8L1280.1,340.8L1285.1,337.3L1289.7,333.4L1293.8,329.0L1297.7,323.9L1301.1,318.3L1304.2,312.4L1307.0,305.8L1309.8,298.0L1312.4,289.3L1314.8,280.0L1317.0,270.0L1319.1,258.5L1322.8,234.7L1326.5,204.6L1329.6,175.0L1335.4,112.2L1337.8,90.2L1339.1,80.9L1340.2,75.0L1341.5,70.7L1342.1,69.7L1342.6,69.6L1343.0,69.8L1343.4,70.6L1344.3,74.6L1345.2,82.0L1346.0,92.8L1347.5,118.1L1352.3,210.9L1353.8,235.2L1355.6,258.2L1357.3,276.7L1359.0,291.4L1361.0,304.4L1362.9,314.4L1365.8,325.3L1367.3,329.8L1369.0,334.1L1370.7,337.7L1372.7,341.0L1374.9,344.1L1377.0,346.5L1379.4,348.8L1382.2,350.9L1385.3,352.7L1388.5,354.3L1392.2,355.7L1396.1,356.9L1400.7,358.0L1405.7,358.9" fill="none" stroke="#0000ff" stroke-width="2" stroke-linejoin="round" />
<path d="M1145.7,360.1L1187.8,359.4L1204.7,358.9L1219.4,358.1L1232.4,357.2L1243.7,356.2L1253.7,354.9L1262.6,353.3L1270.6,351.5L1277.7,349.3L1284.0,346.9L1289.9,344.0L1295.1,340.7L1299.8,336.9L1304.2,332.5L1308.1,327.7L1311.6,322.4L1314.8,316.3L1317.6,310.0L1320.4,302.4L1323.0,294.1L1325.4,285.1L1327.8,274.4L1330.0,263.0L1333.7,239.4L1337.4,209.4L1340.6,177.4L1346.5,113.7L1348.6,93.6L1349.9,84.2L1351.0,78.3L1352.3,74.1L1353.0,73.2L1353.4,73.1L1353.8,73.5L1354.3,74.5L1355.1,79.4L1356.7,97.0L1358.2,124.0L1362.3,208.6L1363.8,234.7L1365.3,256.5L1366.6,272.0L1368.1,286.9L1369.9,300.5L1371.6,311.2L1374.0,322.4L1376.6,331.3L1378.1,335.3L1379.6,338.7L1381.4,341.9L1383.3,345.0L1385.3,347.4L1387.4,349.7L1389.8,351.8L1392.4,353.6L1395.2,355.2L1398.3,356.5L1401.7,357.8L1405.7,358.9" fill="none" stroke="#ff8000" stroke-width="2" stroke-linejoin="round" />
<path d="M1145.7,363.0L1191.2,363.2L1225.1,362.6L1238.7,362.0L1250.9,361.2L1261.5,360.2L1270.8,359.0L1279.3,357.4L1286.6,355.5L1293.3,353.2L1299.4,350.6L1304.8,347.5L1309.6,344.0L1313.9,340.0L1318.1,335.3L1321.7,330.0L1325.0,324.2L1328.0,317.7L1330.9,310.3L1333.5,302.2L1335.8,293.3L1338.2,282.8L1340.4,271.5L1344.1,247.8L1347.8,217.5L1351.0,184.8L1356.7,122.1L1358.8,101.4L1360.1,91.8L1361.2,85.9L1362.3,82.2L1362.9,81.2L1363.4,81.0L1363.8,81.2L1364.2,82.0L1364.9,84.8L1365.8,92.3L1366.4,100.8L1367.9,129.6L1371.8,221.6L1373.6,254.9L1374.9,275.0L1376.2,291.3L1377.7,306.4L1379.2,318.2L1380.9,328.5L1383.1,338.0L1385.5,345.4L1388.3,351.6L1389.8,354.2L1391.6,356.5L1393.5,358.7L1395.5,360.5L1397.6,362.1L1400.0,363.5L1402.6,364.7L1405.7,365.9" fill="none" stroke="#8000ff" stroke-width="2" stroke-linejoin="round" />
<rect x="879.60" y="492.00" width="529.80" height="369.90" fill="none" stroke="#1a1a1a" stroke-width="1.5"/>
<line x1="873.10" y1="861.90" x2="879.60" y2="861.90" stroke="#1a1a1a" stroke-width="1.5" />
<text x="866.20" y="867.10" font-size="23.0" text-anchor="end" fill="#000" font-family='"Liberation Sans", sans-serif' >0.0</text>
<line x1="876.10" y1="824.91" x2="879.60" y2="824.91" stroke="#1a1a1a" stroke-width="1.5" />
<line x1="873.10" y1="787.92" x2="879.60" y2="787.92" stroke="#1a1a1a" stroke-width="1.5" />
<text x="866.20" y="793.12" font-size="23.0" text-anchor="end" fill="#000" font-family='"Liberation Sans", sans-serif' >0.2</text>
<line x1="876.10" y1="750.93" x2="879.60" y2="750.93" stroke="#1a1a1a" stroke-width="1.5" />
<line x1="873.10" y1="713.94" x2="879.60" y2="713.94" stroke="#1a1a1a" stroke-width="1.5" />
<text x="866.20" y="719.14" font-size="23.0" text-anchor="end" fill="#000" font-family='"Liberation Sans", sans-serif' >0.4</text>
<line x1="876.10" y1="676.95" x2="879.60" y2="676.95" stroke="#1a1a1a" stroke-width="1.5" />
<line x1="873.10" y1="639.96" x2="879.60" y2="639.96" stroke="#1a1a1a" stroke-width="1.5" />
<text x="866.20" y="645.16" font-size="23.0" text-anchor="end" fill="#000" font-family='"Liberation Sans", sans-serif' >0.6</text>
<line x1="876.10" y1="602.97" x2="879.60" y2="602.97" stroke="#1a1a1a" stroke-width="1.5" />
<line x1="873.10" y1="565.98" x2="879.60" y2="565.98" stroke="#1a1a1a" stroke-width="1.5" />
<text x="866.20" y="571.18" font-size="23.0" text-anchor="end" fill="#000" font-family='"Liberation Sans", sans-serif' >0.8</text>
<line x1="876.10" y1="528.99" x2="879.60" y2="528.99" stroke="#1a1a1a" stroke-width="1.5" />
<line x1="873.10" y1="492.00" x2="879.60" y2="492.00" stroke="#1a1a1a" stroke-width="1.5" />
<text x="866.20" y="497.20" font-size="23.0" text-anchor="end" fill="#000" font-family='"Liberation Sans", sans-serif' >1.0</text>
<line x1="894.45" y1="861.90" x2="894.45" y2="865.40" stroke="#1a1a1a" stroke-width="1.5" />
<line x1="923.35" y1="861.90" x2="923.35" y2="868.40" stroke="#1a1a1a" stroke-width="1.5" />
<text x="923.35" y="891.40" font-size="22.5" text-anchor="middle" fill="#000" font-family='"Liberation Sans", sans-serif' >760</text>
<line x1="952.25" y1="861.90" x2="952.25" y2="865.40" stroke="#1a1a1a" stroke-width="1.5" />
<line x1="981.15" y1="861.90" x2="981.15" y2="868.40" stroke="#1a1a1a" stroke-width="1.5" />
<text x="981.15" y="891.40" font-size="22.5" text-anchor="middle" fill="#000" font-family='"Liberation Sans", sans-serif' >764</text>
<line x1="1010.05" y1="861.90" x2="1010.05" y2="865.40" stroke="#1a1a1a" stroke-width="1.5" />
<line x1="1038.95" y1="861.90" x2="1038.95" y2="868.40" stroke="#1a1a1a" stroke-width="1.5" />
<text x="1038.95" y="891.40" font-size="22.5" text-anchor="middle" fill="#000" font-family='"Liberation Sans", sans-serif' >768</text>
<line x1="1067.85" y1="861.90" x2="1067.85" y2="865.40" stroke="#1a1a1a" stroke-width="1.5" />
<line x1="1096.75" y1="861.90" x2="1096.75" y2="868.40" stroke="#1a1a1a" stroke-width="1.5" />
<text x="1096.75" y="891.40" font-size="22.5" text-anchor="middle" fill="#000" font-family='"Liberation Sans", sans-serif' >772</text>
<line x1="1125.65" y1="861.90" x2="1125.65" y2="865.40" stroke="#1a1a1a" stroke-width="1.5" />
<line x1="1160.79" y1="861.90" x2="1160.79" y2="865.40" stroke="#1a1a1a" stroke-width="1.5" />
<line x1="1186.97" y1="861.90" x2="1186.97" y2="868.40" stroke="#1a1a1a" stroke-width="1.5" />
<text x="1186.97" y="891.40" font-size="22.5" text-anchor="middle" fill="#000" font-family='"Liberation Sans", sans-serif' >828</text>
<line x1="1213.15" y1="861.90" x2="1213.15" y2="865.40" stroke="#1a1a1a" stroke-width="1.5" />
<line x1="1239.33" y1="861.90" x2="1239.33" y2="868.40" stroke="#1a1a1a" stroke-width="1.5" />
<text x="1239.33" y="891.40" font-size="22.5" text-anchor="middle" fill="#000" font-family='"Liberation Sans", sans-serif' >832</text>
<line x1="1265.51" y1="861.90" x2="1265.51" y2="865.40" stroke="#1a1a1a" stroke-width="1.5" />
<line x1="1291.69" y1="861.90" x2="1291.69" y2="868.40" stroke="#1a1a1a" stroke-width="1.5" />
<text x="1291.69" y="891.40" font-size="22.5" text-anchor="middle" fill="#000" font-family='"Liberation Sans", sans-serif' >836</text>
<line x1="1317.87" y1="861.90" x2="1317.87" y2="865.40" stroke="#1a1a1a" stroke-width="1.5" />
<line x1="1344.05" y1="861.90" x2="1344.05" y2="868.40" stroke="#1a1a1a" stroke-width="1.5" />
<text x="1344.05" y="891.40" font-size="22.5" text-anchor="middle" fill="#000" font-family='"Liberation Sans", sans-serif' >840</text>
<line x1="1370.23" y1="861.90" x2="1370.23" y2="865.40" stroke="#1a1a1a" stroke-width="1.5" />
<line x1="1396.41" y1="861.90" x2="1396.41" y2="868.40" stroke="#1a1a1a" stroke-width="1.5" />
<text x="1396.41" y="891.40" font-size="22.5" text-anchor="middle" fill="#000" font-family='"Liberation Sans", sans-serif' >844</text>
<text x="1143.50" y="925.00" font-size="24" text-anchor="middle" fill="#000" font-family='"Liberation Sans", sans-serif' >Wavelength [nm]</text>
<text transform="translate(819.8,660.9) rotate(-90)" x="0" y="0" font-size="24" text-anchor="middle" font-family='"Liberation Sans", sans-serif'>TM Reflectivity</text>
<text x="1379.60" y="526.30" font-size="29" text-anchor="middle" fill="#000" font-family='"Liberation Sans", sans-serif' >(e)</text>
<line x1="1059.00" y1="521.70" x2="1106.50" y2="521.70" stroke="#000" stroke-width="2" stroke-dasharray="5,3.5"/>
<text x="1110.80" y="528.20" font-size="20.6" text-anchor="start" fill="#000" font-family='"Liberation Sans", sans-serif' >bare surface</text>
<line x1="1059.00" y1="546.80" x2="1106.50" y2="546.80" stroke="#ff0080" stroke-width="2" />
<text x="1110.80" y="553.30" font-size="20.6" text-anchor="start" fill="#000" font-family='"Liberation Sans", sans-serif' ><tspan font-style="italic">d</tspan><tspan font-style="italic" font-size="16.5" dy="7">bio</tspan><tspan dy="-7">=10 nm</tspan></text>
<line x1="1059.00" y1="578.00" x2="1106.50" y2="578.00" stroke="#008000" stroke-width="2" />
<text x="1110.80" y="584.50" font-size="20.6" text-anchor="start" fill="#000" font-family='"Liberation Sans", sans-serif' ><tspan font-style="italic">d</tspan><tspan font-style="italic" font-size="16.5" dy="7">bio</tspan><tspan dy="-7">=20 nm</tspan></text>
<line x1="1059.00" y1="609.60" x2="1106.50" y2="609.60" stroke="#0000ff" stroke-width="2" />
<text x="1110.80" y="616.10" font-size="20.6" text-anchor="start" fill="#000" font-family='"Liberation Sans", sans-serif' ><tspan font-style="italic">d</tspan><tspan font-style="italic" font-size="16.5" dy="7">bio</tspan><tspan dy="-7">=30 nm</tspan></text>
<line x1="1059.00" y1="640.60" x2="1106.50" y2="640.60" stroke="#ff8000" stroke-width="2" />
<text x="1110.80" y="647.10" font-size="20.6" text-anchor="start" fill="#000" font-family='"Liberation Sans", sans-serif' ><tspan font-style="italic">d</tspan><tspan font-style="italic" font-size="16.5" dy="7">bio</tspan><tspan dy="-7">=40 nm</tspan></text>
<line x1="1059.00" y1="671.10" x2="1106.50" y2="671.10" stroke="#8000ff" stroke-width="2" />
<text x="1110.80" y="677.60" font-size="20.6" text-anchor="start" fill="#000" font-family='"Liberation Sans", sans-serif' ><tspan font-style="italic">d</tspan><tspan font-style="italic" font-size="16.5" dy="7">bio</tspan><tspan dy="-7">=50 nm</tspan></text>
<rect x="1138.3" y="490.0" width="11" height="4" fill="#fff"/>
<line x1="1134.50" y1="499.00" x2="1143.90" y2="485.00" stroke="#1a1a1a" stroke-width="1.2" />
<line x1="1143.70" y1="499.00" x2="1153.10" y2="485.00" stroke="#1a1a1a" stroke-width="1.2" />
<rect x="1138.3" y="859.9" width="11" height="4" fill="#fff"/>
<line x1="1134.50" y1="868.90" x2="1143.90" y2="854.90" stroke="#1a1a1a" stroke-width="1.2" />
<line x1="1143.70" y1="868.90" x2="1153.10" y2="854.90" stroke="#1a1a1a" stroke-width="1.2" />
<path d="M880.0,845.3L889.3,843.8L893.2,842.9L896.9,841.7L900.2,840.5L903.2,839.0L906.0,837.3L908.4,835.5L910.8,833.4L913.0,830.9L914.9,828.3L916.9,825.2L920.1,818.3L923.2,809.6L925.6,800.5L927.9,788.7L930.1,775.2L932.3,758.4L935.8,724.0L942.3,646.2L943.8,631.1L945.1,620.6L946.6,611.6L948.1,606.1L948.8,604.6L949.6,603.3L950.5,602.6L951.8,602.3L952.7,602.5L953.3,603.1L954.6,605.7L956.1,610.9L957.7,618.4L960.3,635.5L966.3,682.8L969.6,705.8L973.3,727.6L977.2,745.9L979.4,754.2L981.5,761.4L983.9,768.3L986.5,774.8L989.3,780.8L992.2,785.9L995.2,790.7L998.4,795.0L1002.6,799.7L1007.1,804.1L1012.1,808.0L1017.5,811.6L1023.4,814.9L1029.9,817.9L1037.1,820.7L1044.9,823.3L1053.5,825.6L1062.9,827.8L1073.1,829.7L1084.1,831.5L1096.3,833.1L1109.7,834.6L1140.1,837.3" fill="none" stroke="#000" stroke-width="2" stroke-linejoin="round" stroke-dasharray="5,3.5"/>
<path d="M880.0,847.4L897.4,846.5L910.2,845.2L915.4,844.3L920.1,843.3L924.3,842.2L927.9,840.8L931.4,839.1L934.4,837.2L937.3,835.0L939.7,832.5L941.8,829.8L944.0,826.4L945.9,822.7L947.7,818.6L950.5,809.9L952.9,800.0L955.1,788.0L957.2,772.5L959.4,752.4L961.3,729.9L967.0,649.0L968.9,625.2L970.0,615.6L971.1,609.0L971.8,606.5L972.4,604.9L973.1,604.1L973.7,603.8L974.1,603.9L974.8,604.6L976.1,607.8L977.2,612.3L978.5,619.8L980.7,636.2L985.6,680.5L988.5,703.3L991.7,725.0L995.0,742.2L996.9,750.7L998.9,758.0L1001.0,765.1L1003.2,771.1L1005.6,776.9L1008.2,782.2L1011.0,787.2L1014.1,791.8L1017.8,796.5L1021.9,801.0L1026.4,805.1L1031.4,808.8L1036.8,812.2L1042.7,815.3L1049.2,818.3L1056.1,820.9L1063.7,823.3L1072.2,825.5L1081.3,827.6L1091.1,829.4L1101.9,831.1L1113.6,832.7L1140.1,835.4" fill="none" stroke="#ff0080" stroke-width="2" stroke-linejoin="round" />
<path d="M880.0,847.6L904.1,847.0L921.0,846.1L933.6,844.7L938.6,843.8L943.1,842.7L947.2,841.4L950.7,839.9L954.0,838.0L956.8,836.0L959.4,833.5L961.8,830.6L964.0,827.2L965.9,823.5L967.4,819.9L968.9,815.6L970.5,810.5L971.8,805.3L974.4,791.7L976.5,776.3L978.7,756.0L980.7,732.8L986.3,647.6L988.0,625.5L989.1,615.4L990.2,608.8L991.3,605.3L991.9,604.5L992.6,604.3L993.0,604.4L993.7,605.2L995.0,608.5L996.1,613.2L997.4,620.8L999.5,637.3L1004.5,681.5L1007.1,702.5L1010.2,723.1L1013.2,739.7L1014.9,747.5L1016.9,755.3L1018.8,762.0L1020.8,767.9L1023.0,773.5L1025.3,778.9L1027.9,784.0L1030.8,788.7L1034.0,793.4L1037.7,797.8L1041.8,802.0L1046.2,805.8L1050.9,809.2L1056.1,812.5L1061.8,815.4L1068.1,818.2L1074.8,820.8L1082.0,823.1L1089.8,825.2L1098.4,827.2L1107.6,829.0L1117.5,830.6L1128.4,832.2L1140.1,833.6" fill="none" stroke="#008000" stroke-width="2" stroke-linejoin="round" />
<path d="M880.0,847.5L911.5,847.1L932.7,846.5L947.9,845.4L954.0,844.7L959.2,843.9L964.0,842.8L968.1,841.4L971.5,839.9L974.8,838.1L977.6,835.9L980.2,833.3L982.4,830.5L984.6,827.0L986.3,823.5L988.0,819.1L989.6,814.4L991.1,808.6L993.7,795.5L996.1,778.6L998.2,757.6L1000.2,733.1L1005.4,649.5L1007.1,625.8L1008.2,615.3L1009.1,609.7L1010.2,605.9L1010.8,605.0L1011.5,604.8L1012.1,605.2L1012.8,606.3L1013.8,609.4L1014.9,614.1L1016.2,621.9L1018.4,638.5L1023.2,680.8L1025.6,700.2L1028.4,719.8L1031.4,737.0L1034.7,751.6L1038.4,764.4L1040.3,770.0L1042.5,775.3L1044.7,780.1L1047.0,784.6L1050.1,789.5L1053.3,794.1L1056.8,798.2L1060.5,801.9L1064.6,805.5L1069.2,808.9L1074.2,812.0L1079.4,814.8L1085.0,817.4L1091.3,819.9L1098.0,822.2L1105.2,824.3L1113.0,826.2L1121.2,828.0L1130.3,829.7L1140.1,831.2" fill="none" stroke="#0000ff" stroke-width="2" stroke-linejoin="round" />
<path d="M880.0,847.6L918.2,847.3L943.1,846.8L960.3,846.0L967.0,845.4L972.6,844.7L977.8,843.7L982.2,842.6L986.1,841.2L989.3,839.6L992.4,837.6L995.0,835.4L997.4,832.7L999.5,829.5L1001.5,825.8L1003.2,821.6L1004.7,817.1L1006.3,811.6L1007.6,805.8L1008.9,798.7L1011.2,781.7L1013.2,762.5L1015.1,737.5L1016.9,710.1L1020.4,649.2L1021.9,627.4L1023.0,616.4L1023.8,610.7L1024.7,607.7L1025.1,607.0L1025.8,606.7L1026.2,606.8L1026.9,607.5L1028.2,610.7L1029.2,615.3L1030.5,622.7L1032.7,639.0L1037.5,680.9L1040.1,701.9L1042.7,719.9L1045.5,736.1L1048.6,750.1L1051.8,761.9L1055.5,772.4L1059.6,781.6L1062.2,786.3L1065.0,790.7L1068.1,794.8L1071.5,798.9L1075.2,802.5L1079.1,805.9L1083.5,809.1L1088.0,812.0L1093.0,814.7L1098.4,817.2L1104.1,819.5L1110.4,821.7L1117.1,823.8L1124.3,825.7L1140.1,829.0" fill="none" stroke="#ff8000" stroke-width="2" stroke-linejoin="round" />
<path d="M880.0,847.7L925.1,847.5L953.5,847.1L972.6,846.5L986.1,845.4L991.7,844.6L996.5,843.6L1000.6,842.4L1004.1,841.0L1007.1,839.3L1009.9,837.2L1012.3,834.8L1014.5,832.0L1016.4,828.7L1018.4,824.4L1019.9,820.1L1021.4,814.8L1022.7,809.2L1024.0,802.3L1026.4,785.3L1028.4,765.7L1030.3,739.5L1035.1,653.6L1036.6,630.3L1037.5,620.7L1038.4,614.4L1039.2,611.0L1039.7,610.3L1040.3,610.0L1040.7,610.2L1041.4,611.0L1042.7,614.3L1043.8,618.9L1045.1,626.4L1047.3,642.6L1054.2,701.3L1056.8,719.5L1059.4,734.7L1062.2,748.1L1065.3,759.8L1068.5,769.8L1072.2,778.7L1074.6,783.5L1077.0,787.7L1079.8,792.0L1082.6,795.7L1085.7,799.2L1089.1,802.6L1092.8,805.8L1096.7,808.8L1100.8,811.5L1105.4,814.1L1110.2,816.4L1115.4,818.7L1121.0,820.8L1126.9,822.7L1140.1,826.3" fill="none" stroke="#8000ff" stroke-width="2" stroke-linejoin="round" />
<path d="M1147.7,850.4L1161.0,849.3L1171.3,847.7L1175.6,846.6L1179.6,845.5L1183.1,844.1L1186.3,842.5L1189.4,840.7L1192.0,838.7L1194.4,836.5L1196.8,833.8L1199.0,830.8L1201.0,827.6L1202.9,823.7L1204.7,819.7L1207.7,810.7L1210.6,799.7L1213.2,786.5L1215.6,771.3L1217.6,756.4L1219.8,737.2L1227.2,662.4L1228.7,649.7L1230.0,640.7L1231.5,632.8L1233.3,626.9L1234.2,625.2L1235.0,624.1L1236.1,623.3L1237.4,623.1L1238.1,623.1L1238.8,623.7L1239.8,626.2L1240.9,630.6L1242.0,636.9L1244.0,651.9L1248.8,695.5L1251.4,717.0L1254.5,737.5L1257.7,754.5L1259.5,761.9L1261.5,769.1L1263.6,775.8L1265.8,781.6L1268.2,787.0L1270.8,792.0L1273.7,796.6L1276.7,800.8L1280.7,805.4L1284.8,809.4L1289.4,813.1L1294.6,816.6L1300.3,819.9L1306.4,822.8L1313.2,825.5L1320.6,828.0L1328.7,830.2L1337.4,832.3L1347.1,834.2L1357.5,836.0L1368.9,837.6L1381.3,839.1L1409.5,841.6" fill="none" stroke="#000" stroke-width="2" stroke-linejoin="round" stroke-dasharray="5,3.5"/>
<path d="M1147.7,851.9L1168.4,851.2L1183.7,850.1L1190.1,849.4L1195.5,848.5L1200.5,847.4L1204.9,846.2L1208.8,844.8L1212.5,843.0L1215.8,841.0L1218.7,838.8L1221.3,836.2L1223.7,833.3L1225.9,830.1L1228.1,826.2L1229.8,822.4L1231.3,818.4L1234.4,808.5L1237.0,797.1L1239.4,783.5L1241.8,766.2L1244.2,744.6L1246.4,721.4L1250.8,671.0L1253.2,648.1L1254.5,639.2L1255.8,633.1L1256.4,631.2L1257.1,629.9L1258.0,629.0L1258.8,628.8L1259.5,629.1L1260.1,629.9L1261.5,633.0L1262.8,638.0L1264.1,644.9L1266.3,659.4L1271.5,699.9L1274.3,720.0L1277.6,739.7L1280.9,755.5L1284.6,769.6L1286.6,775.7L1288.8,781.6L1290.9,786.8L1293.3,791.7L1296.0,796.3L1298.8,800.7L1302.3,805.2L1306.0,809.3L1309.9,812.9L1314.3,816.4L1319.1,819.6L1324.3,822.5L1330.0,825.2L1336.1,827.7L1342.9,830.0L1350.1,832.0L1358.0,834.0L1366.7,835.8L1376.1,837.4L1386.4,838.9L1409.5,841.6" fill="none" stroke="#ff0080" stroke-width="2" stroke-linejoin="round" />
<path d="M1147.7,853.1L1175.2,852.6L1194.9,851.7L1209.5,850.4L1215.4,849.6L1220.6,848.6L1225.4,847.3L1229.6,845.8L1233.3,844.1L1236.6,842.1L1239.6,839.8L1242.2,837.2L1244.6,834.3L1247.0,830.6L1249.0,826.9L1250.8,822.9L1252.5,818.1L1254.0,813.2L1256.9,801.5L1259.5,786.9L1261.9,769.5L1264.3,747.5L1266.5,723.5L1270.8,670.9L1273.0,649.1L1274.3,639.8L1275.7,633.6L1276.3,631.7L1277.0,630.5L1277.6,629.8L1278.5,629.6L1279.1,629.9L1279.8,630.7L1281.1,633.8L1282.4,638.9L1283.7,645.7L1285.9,660.2L1291.2,700.6L1293.8,719.3L1296.8,738.0L1299.9,753.2L1303.4,767.2L1307.1,778.7L1309.1,783.7L1311.2,788.7L1313.6,793.4L1316.0,797.5L1319.1,802.0L1322.4,806.1L1325.9,809.9L1329.6,813.3L1333.7,816.6L1338.3,819.6L1343.1,822.3L1348.4,824.9L1354.0,827.3L1360.2,829.4L1366.9,831.5L1374.1,833.3L1382.0,835.1L1390.5,836.7L1409.5,839.5" fill="none" stroke="#008000" stroke-width="2" stroke-linejoin="round" />
<path d="M1147.7,853.4L1182.4,853.0L1206.2,852.3L1223.5,851.3L1230.2,850.6L1236.1,849.7L1241.6,848.6L1246.2,847.4L1250.3,845.8L1253.8,844.1L1257.1,842.0L1260.1,839.5L1262.8,836.7L1265.2,833.5L1267.4,829.8L1269.3,825.7L1271.1,821.2L1272.8,815.9L1274.3,810.2L1275.9,803.5L1278.5,788.7L1280.9,770.8L1283.3,747.9L1285.3,725.5L1289.6,670.5L1291.6,650.1L1292.9,640.3L1294.0,634.8L1294.6,632.7L1295.3,631.3L1296.0,630.6L1296.6,630.4L1297.3,630.5L1297.9,631.1L1299.2,633.9L1300.5,638.7L1301.9,645.3L1304.3,661.0L1309.5,701.3L1312.1,719.8L1315.0,737.2L1317.8,751.7L1320.9,764.4L1324.1,775.3L1327.8,785.1L1332.0,793.6L1334.6,798.1L1337.4,802.2L1340.5,806.1L1343.8,809.6L1347.3,812.9L1351.0,815.9L1355.1,818.8L1359.5,821.4L1364.3,823.9L1369.3,826.1L1375.0,828.3L1380.9,830.3L1387.2,832.1L1394.2,833.8L1409.5,836.8" fill="none" stroke="#0000ff" stroke-width="2" stroke-linejoin="round" />
<path d="M1147.7,853.5L1189.0,853.2L1216.5,852.7L1235.9,851.8L1249.9,850.5L1255.8,849.6L1260.8,848.5L1265.2,847.1L1269.1,845.5L1272.6,843.6L1275.7,841.4L1278.5,838.8L1280.9,835.9L1283.1,832.6L1285.3,828.5L1287.0,824.4L1288.8,819.4L1290.3,814.1L1291.8,807.7L1294.6,792.3L1297.1,774.4L1299.5,751.2L1301.6,725.2L1305.6,673.3L1307.5,651.8L1308.6,642.9L1309.7,636.8L1310.4,634.4L1311.0,632.9L1311.7,632.1L1312.3,631.8L1313.0,632.0L1313.6,632.6L1315.0,635.4L1316.3,640.2L1317.8,648.0L1320.2,663.9L1327.4,717.9L1330.0,734.3L1332.9,749.3L1335.7,761.7L1338.5,771.8L1341.8,781.3L1345.3,789.4L1347.7,794.0L1350.1,798.1L1352.7,802.0L1355.3,805.3L1358.4,808.8L1361.5,811.8L1365.0,814.8L1368.7,817.6L1372.6,820.1L1377.0,822.6L1381.6,824.8L1386.4,826.8L1397.1,830.6L1409.5,833.9" fill="none" stroke="#ff8000" stroke-width="2" stroke-linejoin="round" />
<path d="M1147.7,853.6L1196.0,853.3L1227.2,852.9L1248.6,852.2L1263.9,851.1L1270.2,850.3L1275.7,849.3L1280.2,848.1L1284.4,846.7L1288.1,844.9L1291.4,842.8L1294.2,840.5L1296.8,837.6L1299.2,834.2L1301.4,830.3L1303.4,825.8L1305.1,820.9L1306.7,815.6L1308.2,809.2L1309.7,801.4L1311.0,793.4L1313.4,774.9L1315.8,750.3L1317.8,725.5L1321.7,670.2L1323.7,647.6L1324.8,638.8L1325.7,633.9L1326.7,630.5L1327.4,629.5L1328.1,629.2L1328.7,629.4L1329.4,630.1L1330.7,632.9L1332.0,637.7L1333.5,645.6L1335.9,661.8L1342.9,714.9L1345.3,730.4L1347.9,744.9L1350.3,756.1L1352.9,766.4L1355.6,774.9L1358.6,783.2L1362.6,791.7L1364.7,795.7L1367.1,799.5L1369.5,802.9L1372.2,806.1L1375.0,809.2L1377.8,811.9L1381.1,814.7L1384.4,817.1L1391.6,821.6L1399.9,825.6L1409.5,829.3" fill="none" stroke="#8000ff" stroke-width="2" stroke-linejoin="round" />
<rect x="82.5" y="492.4" width="592.50" height="143.00" fill="none" stroke="#111" stroke-width="1.5"/>
<line x1="75.00" y1="506.30" x2="82.50" y2="506.30" stroke="#1a1a1a" stroke-width="1.5" />
<text x="71.30" y="513.70" font-size="21.2" text-anchor="end" fill="#000" font-family='"Liberation Sans", sans-serif' letter-spacing="1.0">200</text>
<line x1="78.00" y1="535.25" x2="82.50" y2="535.25" stroke="#1a1a1a" stroke-width="1.5" />
<line x1="75.00" y1="564.20" x2="82.50" y2="564.20" stroke="#1a1a1a" stroke-width="1.5" />
<text x="71.30" y="571.60" font-size="21.2" text-anchor="end" fill="#000" font-family='"Liberation Sans", sans-serif' letter-spacing="1.0">0</text>
<line x1="78.00" y1="593.15" x2="82.50" y2="593.15" stroke="#1a1a1a" stroke-width="1.5" />
<line x1="75.00" y1="622.10" x2="82.50" y2="622.10" stroke="#1a1a1a" stroke-width="1.5" />
<text x="71.30" y="629.50" font-size="21.2" text-anchor="end" fill="#000" font-family='"Liberation Sans", sans-serif' letter-spacing="1.0">-200</text>
<line x1="114.59" y1="635.40" x2="114.59" y2="642.90" stroke="#1a1a1a" stroke-width="1.5" />
<text x="114.59" y="666.20" font-size="21.2" text-anchor="middle" fill="#000" font-family='"Liberation Sans", sans-serif' letter-spacing="1.0">-2000</text>
<line x1="180.50" y1="635.40" x2="180.50" y2="639.90" stroke="#1a1a1a" stroke-width="1.5" />
<line x1="246.42" y1="635.40" x2="246.42" y2="642.90" stroke="#1a1a1a" stroke-width="1.5" />
<text x="246.42" y="666.20" font-size="21.2" text-anchor="middle" fill="#000" font-family='"Liberation Sans", sans-serif' letter-spacing="1.0">-1000</text>
<line x1="312.33" y1="635.40" x2="312.33" y2="639.90" stroke="#1a1a1a" stroke-width="1.5" />
<line x1="378.25" y1="635.40" x2="378.25" y2="642.90" stroke="#1a1a1a" stroke-width="1.5" />
<text x="378.25" y="666.20" font-size="21.2" text-anchor="middle" fill="#000" font-family='"Liberation Sans", sans-serif' letter-spacing="1.0">0</text>
<line x1="444.17" y1="635.40" x2="444.17" y2="639.90" stroke="#1a1a1a" stroke-width="1.5" />
<line x1="510.08" y1="635.40" x2="510.08" y2="642.90" stroke="#1a1a1a" stroke-width="1.5" />
<text x="510.08" y="666.20" font-size="21.2" text-anchor="middle" fill="#000" font-family='"Liberation Sans", sans-serif' letter-spacing="1.0">1000</text>
<line x1="576.00" y1="635.40" x2="576.00" y2="639.90" stroke="#1a1a1a" stroke-width="1.5" />
<line x1="641.91" y1="635.40" x2="641.91" y2="642.90" stroke="#1a1a1a" stroke-width="1.5" />
<text x="641.91" y="666.20" font-size="21.2" text-anchor="middle" fill="#000" font-family='"Liberation Sans", sans-serif' letter-spacing="1.0">2000</text>
<text x="374.45" y="691.60" font-size="24.3" text-anchor="middle" fill="#000" font-family='"Liberation Sans", sans-serif' letter-spacing="0.8">X [nm]</text>
<text transform="translate(21,562.9) rotate(-90)" font-size="25.5" letter-spacing="0.5" text-anchor="middle" font-family='"Liberation Sans", sans-serif'>Y [nm]</text>
<text x="111.70" y="525.50" font-size="29.5" text-anchor="middle" fill="#fff" font-family='"Liberation Sans", sans-serif' >(b)</text>
<text x="513.50" y="518.80" font-size="25.5" text-anchor="start" fill="#fff" font-family='"Liberation Sans", sans-serif' letter-spacing="0.6"><tspan font-family='"Liberation Serif", serif' font-style="italic" font-size="27.5">&#923;</tspan>=4500 nm</text>
<text x="535.50" y="483.60" font-size="25.5" text-anchor="start" fill="#000" font-family='"Liberation Sans", sans-serif' letter-spacing="0.35"><tspan font-family='"Liberation Serif", serif' font-style="italic" font-size="27">&#955;</tspan>=763 nm</text>
<defs><linearGradient id="cbb" x1="0" y1="1" x2="0" y2="0"><stop offset="0.000" stop-color="rgb(0,0,255)"/><stop offset="0.050" stop-color="rgb(10,10,255)"/><stop offset="0.100" stop-color="rgb(27,27,255)"/><stop offset="0.150" stop-color="rgb(47,47,255)"/><stop offset="0.200" stop-color="rgb(71,71,255)"/><stop offset="0.250" stop-color="rgb(97,97,255)"/><stop offset="0.300" stop-color="rgb(125,125,255)"/><stop offset="0.350" stop-color="rgb(155,155,255)"/><stop offset="0.400" stop-color="rgb(187,187,255)"/><stop offset="0.450" stop-color="rgb(220,220,255)"/><stop offset="0.500" stop-color="rgb(255,255,255)"/><stop offset="0.52" stop-color="#ffffff"/><stop offset="1" stop-color="#ff0000"/></linearGradient></defs>
<rect x="684.2" y="534.3" width="31.80" height="92.10" fill="url(#cbb)"/>
<text x="721.50" y="540.90" font-size="21.2" text-anchor="start" fill="#000" font-family='"Liberation Sans", sans-serif' letter-spacing="0.6">80</text>
<text x="721.50" y="586.95" font-size="21.2" text-anchor="start" fill="#000" font-family='"Liberation Sans", sans-serif' letter-spacing="0.6">40</text>
<text x="721.50" y="633.00" font-size="21.2" text-anchor="start" fill="#000" font-family='"Liberation Sans", sans-serif' letter-spacing="0.6">0.0</text>
<text x="682.6" y="511.5" font-size="25.5" letter-spacing="0.3" font-family='"Liberation Sans", sans-serif'>|E|<tspan font-size="16" dy="-11">2</tspan><tspan dy="11">/|E</tspan><tspan font-size="16" dy="8">0</tspan><tspan dy="-8">|</tspan><tspan font-size="16" dy="-11">2</tspan></text>
<rect x="83.2" y="717.4" width="593.40" height="143.10" fill="none" stroke="#111" stroke-width="1.5"/>
<line x1="75.70" y1="731.10" x2="83.20" y2="731.10" stroke="#1a1a1a" stroke-width="1.5" />
<text x="71.30" y="738.50" font-size="21.2" text-anchor="end" fill="#000" font-family='"Liberation Sans", sans-serif' letter-spacing="1.0">200</text>
<line x1="78.70" y1="760.05" x2="83.20" y2="760.05" stroke="#1a1a1a" stroke-width="1.5" />
<line x1="75.70" y1="789.00" x2="83.20" y2="789.00" stroke="#1a1a1a" stroke-width="1.5" />
<text x="71.30" y="796.40" font-size="21.2" text-anchor="end" fill="#000" font-family='"Liberation Sans", sans-serif' letter-spacing="1.0">0</text>
<line x1="78.70" y1="817.95" x2="83.20" y2="817.95" stroke="#1a1a1a" stroke-width="1.5" />
<line x1="75.70" y1="846.90" x2="83.20" y2="846.90" stroke="#1a1a1a" stroke-width="1.5" />
<text x="71.30" y="854.30" font-size="21.2" text-anchor="end" fill="#000" font-family='"Liberation Sans", sans-serif' letter-spacing="1.0">-200</text>
<line x1="116.00" y1="860.50" x2="116.00" y2="868.00" stroke="#1a1a1a" stroke-width="1.5" />
<text x="116.00" y="891.00" font-size="21.2" text-anchor="middle" fill="#000" font-family='"Liberation Sans", sans-serif' letter-spacing="1.0">-2000</text>
<line x1="181.90" y1="860.50" x2="181.90" y2="865.00" stroke="#1a1a1a" stroke-width="1.5" />
<line x1="247.80" y1="860.50" x2="247.80" y2="868.00" stroke="#1a1a1a" stroke-width="1.5" />
<text x="247.80" y="891.00" font-size="21.2" text-anchor="middle" fill="#000" font-family='"Liberation Sans", sans-serif' letter-spacing="1.0">-1000</text>
<line x1="313.70" y1="860.50" x2="313.70" y2="865.00" stroke="#1a1a1a" stroke-width="1.5" />
<line x1="379.60" y1="860.50" x2="379.60" y2="868.00" stroke="#1a1a1a" stroke-width="1.5" />
<text x="379.60" y="891.00" font-size="21.2" text-anchor="middle" fill="#000" font-family='"Liberation Sans", sans-serif' letter-spacing="1.0">0</text>
<line x1="445.50" y1="860.50" x2="445.50" y2="865.00" stroke="#1a1a1a" stroke-width="1.5" />
<line x1="511.40" y1="860.50" x2="511.40" y2="868.00" stroke="#1a1a1a" stroke-width="1.5" />
<text x="511.40" y="891.00" font-size="21.2" text-anchor="middle" fill="#000" font-family='"Liberation Sans", sans-serif' letter-spacing="1.0">1000</text>
<line x1="577.30" y1="860.50" x2="577.30" y2="865.00" stroke="#1a1a1a" stroke-width="1.5" />
<line x1="643.20" y1="860.50" x2="643.20" y2="868.00" stroke="#1a1a1a" stroke-width="1.5" />
<text x="643.20" y="891.00" font-size="21.2" text-anchor="middle" fill="#000" font-family='"Liberation Sans", sans-serif' letter-spacing="1.0">2000</text>
<text x="375.80" y="916.40" font-size="24.3" text-anchor="middle" fill="#000" font-family='"Liberation Sans", sans-serif' letter-spacing="0.8">X [nm]</text>
<text transform="translate(29.0,771.0) rotate(-90)" font-size="24.4" letter-spacing="0.5" text-anchor="middle" font-family='"Liberation Sans", sans-serif'>Y [nm]</text>
<text x="110.30" y="748.40" font-size="29.5" text-anchor="middle" fill="#fff" font-family='"Liberation Sans", sans-serif' >(c)</text>
<text x="513.50" y="743.80" font-size="25.5" text-anchor="start" fill="#fff" font-family='"Liberation Sans", sans-serif' letter-spacing="0.6"><tspan font-family='"Liberation Serif", serif' font-style="italic" font-size="27.5">&#923;</tspan>=4500 nm</text>
<text x="535.50" y="708.60" font-size="25.5" text-anchor="start" fill="#000" font-family='"Liberation Sans", sans-serif' letter-spacing="0.35"><tspan font-family='"Liberation Serif", serif' font-style="italic" font-size="27">&#955;</tspan>=835 nm</text>
<defs><linearGradient id="cbc" x1="0" y1="1" x2="0" y2="0"><stop offset="0.000" stop-color="rgb(0,0,255)"/><stop offset="0.050" stop-color="rgb(10,10,255)"/><stop offset="0.100" stop-color="rgb(27,27,255)"/><stop offset="0.150" stop-color="rgb(47,47,255)"/><stop offset="0.200" stop-color="rgb(71,71,255)"/><stop offset="0.250" stop-color="rgb(97,97,255)"/><stop offset="0.300" stop-color="rgb(125,125,255)"/><stop offset="0.350" stop-color="rgb(155,155,255)"/><stop offset="0.400" stop-color="rgb(187,187,255)"/><stop offset="0.450" stop-color="rgb(220,220,255)"/><stop offset="0.500" stop-color="rgb(255,255,255)"/><stop offset="0.52" stop-color="#ffffff"/><stop offset="1" stop-color="#ff0000"/></linearGradient></defs>
<rect x="684.3" y="760.5" width="32.90" height="93.70" fill="url(#cbc)"/>
<text x="720.70" y="767.10" font-size="21.2" text-anchor="start" fill="#000" font-family='"Liberation Sans", sans-serif' letter-spacing="0.6">150</text>
<text x="722.70" y="813.95" font-size="21.2" text-anchor="start" fill="#000" font-family='"Liberation Sans", sans-serif' letter-spacing="0.6">50</text>
<text x="722.70" y="860.80" font-size="21.2" text-anchor="start" fill="#000" font-family='"Liberation Sans", sans-serif' letter-spacing="0.6">0.0</text>
<text x="685.4" y="736.1" font-size="25.5" letter-spacing="0.45" font-family='"Liberation Sans", sans-serif'>|E|<tspan font-size="16" dy="-11">2</tspan><tspan dy="11">/|E</tspan><tspan font-size="16" dy="8">0</tspan><tspan dy="-8">|</tspan><tspan font-size="16" dy="-11">2</tspan></text>
</svg>
</body></html>
